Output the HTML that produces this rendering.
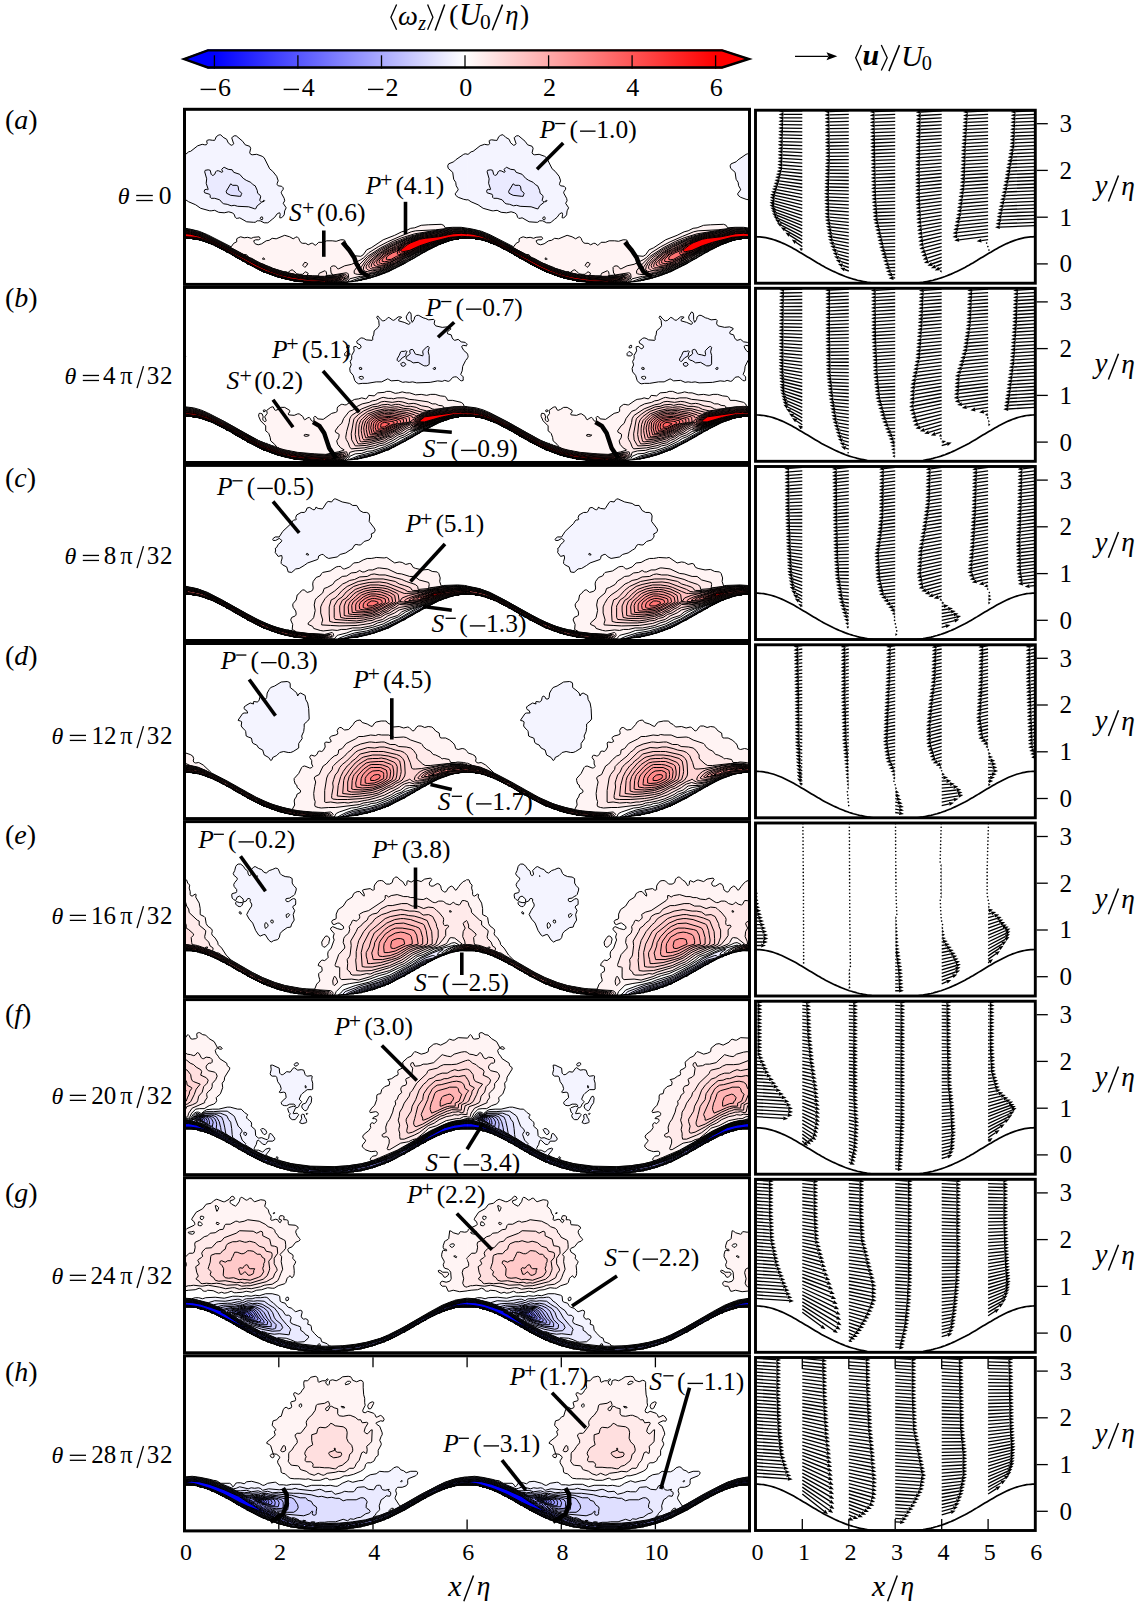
<!DOCTYPE html>
<html><head><meta charset="utf-8"><style>html,body{margin:0;padding:0;background:#fff;}svg{display:block;}</style></head>
<body><svg width="1136" height="1604" viewBox="0 0 1136 1604" font-family="Liberation Serif">
<rect width="1136" height="1604" fill="#fff"/>
<defs><linearGradient id="cbg" x1="214.4" x2="715.6" y1="0" y2="0" gradientUnits="userSpaceOnUse">
<stop offset="0.0000" stop-color="#0000ff"/>
<stop offset="0.0417" stop-color="#1515ff"/>
<stop offset="0.0833" stop-color="#2a2aff"/>
<stop offset="0.1250" stop-color="#4040ff"/>
<stop offset="0.1667" stop-color="#5555ff"/>
<stop offset="0.2083" stop-color="#6a6aff"/>
<stop offset="0.2500" stop-color="#8080ff"/>
<stop offset="0.2917" stop-color="#9595ff"/>
<stop offset="0.3333" stop-color="#aaaaff"/>
<stop offset="0.3750" stop-color="#bfbfff"/>
<stop offset="0.4167" stop-color="#d4d4ff"/>
<stop offset="0.4583" stop-color="#eaeaff"/>
<stop offset="0.5000" stop-color="#ffffff"/>
<stop offset="0.5417" stop-color="#ffeaea"/>
<stop offset="0.5833" stop-color="#ffd4d4"/>
<stop offset="0.6250" stop-color="#ffbfbf"/>
<stop offset="0.6667" stop-color="#ffaaaa"/>
<stop offset="0.7083" stop-color="#ff9595"/>
<stop offset="0.7500" stop-color="#ff8080"/>
<stop offset="0.7917" stop-color="#ff6a6a"/>
<stop offset="0.8333" stop-color="#ff5555"/>
<stop offset="0.8750" stop-color="#ff4040"/>
<stop offset="0.9167" stop-color="#ff2a2a"/>
<stop offset="0.9583" stop-color="#ff1515"/>
<stop offset="1.0000" stop-color="#ff0000"/>
</linearGradient></defs>
<rect x="207.8" y="49.3" width="514.4" height="19.3" fill="url(#cbg)"/>
<polygon points="182.1,59.1 208.3,49.3 208.3,68.6" fill="#0000ff"/>
<polygon points="750.8,59 721.7,49.3 721.7,68.6" fill="#ff0000"/>
<line x1="214.4" y1="55.3" x2="214.4" y2="68.6" stroke="#000" stroke-width="1.3"/>
<line x1="297.9" y1="55.3" x2="297.9" y2="68.6" stroke="#000" stroke-width="1.3"/>
<line x1="381.5" y1="55.3" x2="381.5" y2="68.6" stroke="#000" stroke-width="1.3"/>
<line x1="465" y1="55.3" x2="465" y2="68.6" stroke="#000" stroke-width="1.3"/>
<line x1="548.6" y1="55.3" x2="548.6" y2="68.6" stroke="#000" stroke-width="1.3"/>
<line x1="632.1" y1="55.3" x2="632.1" y2="68.6" stroke="#000" stroke-width="1.3"/>
<line x1="715.6" y1="55.3" x2="715.6" y2="68.6" stroke="#000" stroke-width="1.3"/>
<polygon points="184,59.1 207.8,50.4 722.2,50.4 748.9,59 722.2,67.5 207.8,67.5" fill="none" stroke="#000" stroke-width="2.4" stroke-linejoin="miter"/>
<path d="M200.60 89.4H216.00" stroke="#000" stroke-width="1.4"/>
<text x="217.98" y="96.2" font-size="26">6</text>
<path d="M283.65 89.4H299.05" stroke="#000" stroke-width="1.4"/>
<text x="301.64" y="96.2" font-size="26">4</text>
<path d="M368.02 89.4H383.42" stroke="#000" stroke-width="1.4"/>
<text x="385.38" y="96.2" font-size="26">2</text>
<text x="459.32" y="96.2" font-size="26">0</text>
<text x="543.01" y="96.2" font-size="26">2</text>
<text x="626.35" y="96.2" font-size="26">4</text>
<text x="709.77" y="96.2" font-size="26">6</text>
<path d="M396.60 4.60L390.90 17.15L396.60 29.70" fill="none" stroke="#000" stroke-width="1.3"/>
<text x="397.96" y="24.82" font-size="28.21" font-style="italic">ω</text>
<text x="418.22" y="30.20" font-size="20" font-style="italic">z</text>
<path d="M427.60 4.60L432.90 17.15L427.60 29.70" fill="none" stroke="#000" stroke-width="1.3"/>
<path d="M435.20 30.40L444.70 4.60" stroke="#000" stroke-width="1.5"/>
<text x="449.05" y="23.87" font-size="28.34">(</text>
<text x="458.88" y="24.70" font-size="30.7" font-style="italic">U</text>
<text x="479.88" y="29.39" font-size="21.49">0</text>
<path d="M492.30 30.30L502.50 4.60" stroke="#000" stroke-width="1.5"/>
<text x="505.15" y="24.20" font-size="26.73" font-style="italic">η</text>
<text x="519.91" y="23.73" font-size="27.57">)</text>
<line x1="795" y1="56.3" x2="828" y2="56.3" stroke="#000" stroke-width="1.3"/>
<path d="M837.3 56.3L826.5 52.3L828.5 56.3L826.5 60.3Z" fill="#000"/>
<path d="M861.40 45.10L855.70 57.85L861.40 70.60" fill="none" stroke="#000" stroke-width="1.3"/>
<text x="862.50" y="65.45" font-size="29.96" font-style="italic" font-weight="bold">u</text>
<path d="M881.30 45.10L887.20 57.85L881.30 70.60" fill="none" stroke="#000" stroke-width="1.3"/>
<path d="M888.90 71.10L899.50 45.10" stroke="#000" stroke-width="1.5"/>
<text x="900.91" y="65.50" font-size="30.4" font-style="italic">U</text>
<text x="921.83" y="69.60" font-size="20.3">0</text>
<defs><clipPath id="tlp0"><rect x="0" y="-5" width="282.42" height="190"/></clipPath>
<g id="lp0" clip-path="url(#tlp0)"><g transform="scale(0.5)" stroke="#000" stroke-width="2" stroke-linejoin="round" fill-rule="evenodd">
<path d="M487 234l26-1l5 2l3 5l15-1l17 0l32 5l0 18l-3 0l-1-1l-31 0l-2 1l-7 0l-1 1l-10 2l-1 1l-7 2l-4 2l-3 0l-4 3l-3 0l-10 6l-23 8l-33 21l-22 12l-21 9l-28 8l-21 3l-19 7l-2 0l-2 2l-14 0l-1 1l-59 0l-1-1l-14 0l-2-2l-10 0l-1-1l-7 0l-1-1l-6 0l-1-2l-6 0l-1-1l-10-2l-2-1l-2 0l-2-1l-7-2l-1-1l-7-2l-4-2l-3 0l-2-2l-1 0l-1-1l-3 0l-27-14l-7-3l-3-3l-7-3l-2-2l-7-3l-6-4l-4-2l-3-3l-10-4l-3-3l-4-1l-18-10l-3 0l-4-3l-3 0l-4-2l-7-2l-1-1l-5 0l-1-2l-4 0l-2-1l-7 0l-1-1l-31 0l-1 1l-3 0l0-23l8 0l20 3l21 5l17 7l47 24l5-7l6-3l0-6l3-2l5-2l7 2l7-1l7 2l5-2l11-1l2 3l-1 2l-2 1l-6 0l-4 2l1 3l2 3l6 2l7-2l9-6l6-1l6-4l8 1l17-7l10 3l7 4l5-3l3-1l3 3l2 5l3 4l3 1l6 0l5 3l6-3l3 0l5 4l2-1l5-5l9 0l7-3l11 0l8 1l9-3l5 0l3 1l4 9l5 6l2 3l0 6l2 3l8 4l11 1l5-3l7-10l9-4l24-16l23-9l14-7l8-2l10-5l8-1l13-5z" fill="#fff4f4"/>
<path d="M-19 240l31 4l11 2l16 6l33 17l45 24l7 1l2 3l4 3l4 1l7 4l11 6l6 2l4 2l13 5l1 1l23 7l5 0l1 1l2 0l5-4l3-1l3 2l6 6l6 1l6 0l4-4l2-1l5 3l-2 4l11 1l12 0l0-3l1-2l11-5l1 0l2 2l1 5l-1 3l4-1l6 0l1-1l2-1l-3-2l-1-7l0-5l2-2l4-1l4 1l4 5l2 0l12-6l14-3l18-9l6-4l10-10l19-12l19-10l25-11l22-9l9-2l40-2l34-4l22 1l27 5l0 16l-3 0l-1-1l-31 0l-2 1l-7 0l-1 1l-4 0l-2 2l-4 0l-1 1l-7 2l-4 2l-3 0l-4 3l-3 0l-7 4l-30 12l-26 16l-33 17l-18 7l-20 6l-9 2l-14 0l-21 5l-5 7l-12 0l-1 1l-59 0l-1-1l-14 0l-2-2l-10 0l-1-1l-7 0l-1-1l-6 0l-1-2l-6 0l-1-1l-10-2l-2-1l-2 0l-2-1l-7-2l-1-1l-7-2l-4-2l-3 0l-2-2l-1 0l-1-1l-3 0l-27-14l-7-3l-3-3l-7-3l-2-2l-7-3l-3-3l-7-3l-3-3l-10-4l-3-3l-9-4l-2-1l-7-3l-4-3l-3 0l-4-3l-3 0l-4-2l-7-2l-1-1l-5 0l-1-2l-4 0l-2-1l-7 0l-1-1l-31 0l-1 1l-3 0l0-22zM156 301l2-1l1 1l1 2l-2 0l-2 0zM240 309l4 1l2 2l-3 5l-3 2l-2-2l-2-2z" fill="#ffeaea"/>
<path d="M-19 241l33 4l23 7l35 17l73 39l25 11l23 8l32 7l35 3l20 0l43-7l3 1l1 1l1 7l-2 4l-5 6l-8 0l-1 1l-59 0l-1-1l-14 0l-2-2l-10 0l-1-1l-7 0l-1-1l-6 0l-1-2l-6 0l-1-1l-10-2l-2-1l-2 0l-2-1l-7-2l-1-1l-7-2l-4-2l-3 0l-2-2l-1 0l-1-1l-3 0l-27-14l-7-3l-3-3l-7-3l-2-2l-7-3l-6-4l-4-2l-3-3l-10-4l-3-3l-4-1l-18-10l-3 0l-4-3l-3 0l-4-2l-7-2l-1-1l-5 0l-1-2l-4 0l-2-1l-7 0l-1-1l-31 0l-1 1l-3 0l0-22zM533 241l21 0l31 5l0 16l-3 0l-1-1l-31 0l-2 1l-7 0l-1 1l-4 0l-2 2l-4 0l-1 1l-7 2l-4 2l-3 0l-2 2l-1 0l-1 1l-3 0l-4 3l-34 12l-25 16l-23 12l-11 5l-22 8l-17 4l-8 1l-19-1l-4-1l-2-1l0-5l6-8l21-21l26-17l25-13l17-7l26-8l37-6z" fill="#ffdfdf"/>
<path d="M-19 241l31 4l25 8l35 17l75 40l25 11l21 6l31 7l36 4l20 0l33-5l7 0l4 2l2 4l-6 8l-9 3l-58 0l-1-1l-14 0l-2-2l-10 0l-1-1l-7 0l-1-1l-6 0l-1-2l-6 0l-1-1l-10-2l-2-1l-2 0l-2-1l-7-2l-1-1l-7-2l-4-2l-3 0l-2-2l-1 0l-1-1l-3 0l-27-14l-7-3l-3-3l-7-3l-2-2l-7-3l-6-4l-4-2l-3-3l-10-4l-3-3l-4-1l-18-10l-3 0l-4-3l-3 0l-4-2l-7-2l-1-1l-5 0l-1-2l-4 0l-2-1l-7 0l-1-1l-31 0l-1 1l-3 0l0-21zM527 242l26 0l21 2l11 3l0 15l-3 0l-1-1l-31 0l-2 1l-7 0l-1 1l-10 2l-1 1l-7 2l-4 2l-3 0l-4 3l-3 0l-38 14l-8 4l-19 12l-21 12l-25 10l-18 5l-11 2l-10-1l-3-2l-3-3l-1-4l3-5l7-10l5-6l9-7l18-12l24-12l33-13l20-5l24-5z" fill="#ffd4d4"/>
<path d="M-19 242l31 4l25 7l35 17l75 40l24 11l20 7l31 6l34 4l24 1l25-3l11-1l6 2l1 2l0 1l-5 6l-12 4l-53 0l-1-1l-14 0l-2-2l-10 0l-1-1l-7 0l-1-1l-6 0l-1-2l-6 0l-1-1l-10-2l-2-1l-2 0l-2-1l-7-2l-1-1l-7-2l-4-2l-3 0l-2-2l-1 0l-1-1l-3 0l-27-14l-7-3l-3-3l-7-3l-2-2l-7-3l-6-4l-4-2l-3-3l-10-4l-3-3l-4-1l-18-10l-3 0l-4-3l-3 0l-4-2l-7-2l-1-1l-5 0l-1-2l-4 0l-2-1l-7 0l-1-1l-31 0l-1 1l-3 0l0-20zM537 242l20 1l28 5l0 14l-3 0l-1-1l-31 0l-2 1l-7 0l-1 1l-10 2l-1 1l-7 2l-4 2l-26 8l-22 9l-15 7l-13 9l-20 10l-23 10l-17 5l-10 1l-11-2l-4-3l1-6l4-7l11-12l21-15l26-13l30-12l20-6l25-5z" fill="#ffc9c9"/>
<path d="M-19 243l31 3l25 8l35 17l76 40l24 11l19 6l28 6l28 4l33 1l30-2l7 1l4 2l-6 6l-13 4l-49 0l-1-1l-14 0l-2-2l-10 0l-1-1l-7 0l-1-1l-6 0l-1-2l-6 0l-1-1l-10-2l-2-1l-2 0l-2-1l-7-2l-1-1l-7-2l-4-2l-3 0l-2-2l-1 0l-1-1l-3 0l-27-14l-7-3l-3-3l-7-3l-2-2l-7-3l-6-4l-4-2l-3-3l-10-4l-3-3l-4-1l-18-10l-3 0l-4-3l-3 0l-4-2l-7-2l-1-1l-5 0l-1-2l-4 0l-2-1l-7 0l-1-1l-31 0l-1 1l-3 0l0-19zM532 244l22-1l20 3l11 2l0 14l-3 0l-1-1l-31 0l-2 1l-7 0l-1 1l-10 2l-1 1l-3 0l-1 2l-3 0l-28 9l-24 9l-20 10l-29 16l-21 9l-11 3l-13 2l-8-1l-3-2l-2-2l0-4l3-6l11-11l17-13l24-13l32-14l20-6l24-5z" fill="#ffbfbf"/>
<path d="M-19 244l31 3l25 8l35 16l76 41l24 10l19 7l28 6l28 4l33 1l26-2l7 1l5 1l-3 3l-4 3l-13 4l-45 0l-1-1l-14 0l-2-2l-10 0l-1-1l-7 0l-1-1l-6 0l-1-2l-6 0l-1-1l-10-2l-2-1l-2 0l-2-1l-7-2l-1-1l-7-2l-4-2l-3 0l-2-2l-1 0l-1-1l-3 0l-27-14l-7-3l-3-3l-7-3l-2-2l-7-3l-6-4l-4-2l-3-3l-10-4l-3-3l-4-1l-18-10l-3 0l-4-3l-3 0l-4-2l-7-2l-1-1l-5 0l-1-2l-4 0l-2-1l-7 0l-1-1l-31 0l-1 1l-3 0l0-18zM527 245l26-1l21 3l11 2l0 13l-3 0l-1-1l-31 0l-2 1l-7 0l-1 1l-10 2l-1 1l-3 0l-34 10l-22 9l-22 11l-27 15l-20 8l-11 3l-11 1l-7-1l-3-3l-1-4l4-7l7-7l12-10l20-12l34-16l15-5l20-6z" fill="#ffb4b4"/>
<path d="M-19 245l12 0l19 3l25 7l35 17l76 41l22 9l21 7l27 6l25 4l37 1l25-1l8 1l2 2l-10 5l-11 3l-41 0l-1-1l-14 0l-2-2l-10 0l-1-1l-7 0l-1-1l-6 0l-1-2l-6 0l-1-1l-10-2l-2-1l-2 0l-2-1l-7-2l-1-1l-7-2l-4-2l-3 0l-2-2l-1 0l-1-1l-3 0l-27-14l-7-3l-3-3l-7-3l-2-2l-7-3l-6-4l-4-2l-3-3l-10-4l-3-3l-4-1l-18-10l-3 0l-4-3l-3 0l-4-2l-7-2l-1-1l-5 0l-1-2l-4 0l-2-1l-7 0l-1-1l-31 0l-1 1l-3 0l0-17zM536 245l21 0l28 5l0 12l-3 0l-1-1l-31 0l-2 1l-7 0l-1 1l-4 0l-1 1l-13 3l-30 9l-22 8l-27 13l-22 13l-14 5l-13 4l-11 1l-7 0l-3-3l1-5l4-7l16-14l19-10l36-18l21-7l10-3z" fill="#ffa9a9"/>
<path d="M-19 245l12 1l19 3l25 7l34 16l77 41l22 10l21 7l27 6l27 4l35 1l23-1l9 2l-9 5l-13 3l-37 0l-1-1l-14 0l-2-2l-10 0l-1-1l-7 0l-1-1l-6 0l-1-2l-6 0l-1-1l-10-2l-2-1l-2 0l-2-1l-7-2l-1-1l-7-2l-4-2l-3 0l-2-2l-1 0l-1-1l-3 0l-27-14l-7-3l-3-3l-7-3l-2-2l-7-3l-6-4l-4-2l-3-3l-10-4l-3-3l-4-1l-18-10l-3 0l-4-3l-3 0l-4-2l-7-2l-1-1l-5 0l-1-2l-4 0l-2-1l-7 0l-1-1l-31 0l-1 1l-3 0l0-17zM530 247l24-1l18 2l13 2l0 12l-3 0l-1-1l-31 0l-2 1l-7 0l-1 1l-18 3l-30 9l-22 8l-27 13l-23 12l-12 5l-11 3l-7 1l-7 0l-4-2l-1-4l3-4l13-13l17-11l13-5l25-14l21-7l10-3z" fill="#ff9e9e"/>
<path d="M-19 246l30 3l14 3l12 5l34 15l77 42l22 9l20 7l22 6l26 3l30 2l35 0l5 1l0 1l-7 4l-14 3l-34 0l-1-1l-14 0l-2-2l-10 0l-1-1l-7 0l-1-1l-6 0l-1-2l-6 0l-1-1l-10-2l-2-1l-2 0l-2-1l-7-2l-1-1l-7-2l-4-2l-3 0l-2-2l-1 0l-1-1l-3 0l-27-14l-7-3l-3-3l-7-3l-2-2l-7-3l-3-3l-7-3l-3-3l-7-2l-6-5l-4-1l-18-10l-2 0l-5-3l-3 0l-4-2l-7-2l-1-1l-5 0l-1-2l-4 0l-2-1l-7 0l-1-1l-31 0l-1 1l-3 0l0-16zM540 247l18 0l16 2l11 2l0 11l-3 0l-1-1l-31 0l-2 1l-7 0l-18 3l-31 9l-22 8l-62 29l-9 3l-7 1l-6-1l-2-3l0-3l3-4l10-10l13-8l14-6l19-13l9-3l28-9z" fill="#ff9494"/>
<path d="M-19 247l30 3l14 3l12 4l34 16l77 41l22 10l20 7l24 5l25 4l28 2l34 0l5 1l-8 4l-14 3l-28 0l-3 0l-1-1l-13 0l-3-2l-9 0l-2-1l-6 0l-2-1l-6 0l-1-2l-5 0l-2-1l-4 0l-2-2l-8-1l-2-1l-3 0l-1-2l-3 0l-1-1l-7-2l-4-2l-3 0l-4-3l-3 0l-6-3l-1-1l-2 0l-1-2l-1 0l-2-1l-1 0l-2-2l-18-8l-3-3l-4-1l-5-4l-4-2l-6-4l-2 0l-21-13l-22-11l-14-5l-14-5l-4 0l-2-1l-7 0l-1-1l-31 0l-4 0l0-14zM534 248l23-1l17 2l11 3l0 10l-3 0l-1-1l-31 0l-27 3l-31 9l-22 8l-60 28l-14 3l-4-1l-3-1l0-3l1-3l9-8l13-9l12-5l19-13l9-4l28-9l28-3z" fill="#ff8989"/>
<path d="M-19 248l12 0l18 2l14 4l14 5l32 15l77 41l22 10l20 6l24 6l25 4l25 2l40 0l-9 4l-14 3l-20 0l-39-4l-33-8l-23-7l-22-10l-20-11l-49-28l-29-14l-13-4l-18-3l-35 0l0-13zM544 248l25 1l16 3l0 10l-4-1l-28-1l-17 1l-11 2l-33 9l-22 8l-59 26l-11 2l-5-1l0-3l2-3l7-7l9-5l11-5l12-9l16-9l28-9l28-3l19-4z" fill="#ff7e7e"/>
<path d="M-19 249l13 0l18 2l16 4l14 5l30 15l76 40l21 10l20 6l22 6l24 4l26 2l34 0l3 2l-18 5l-23-1l-36-4l-34-8l-21-7l-22-10l-20-10l-49-29l-31-14l-14-4l-14-2l-23-2l-13 1l0-11zM537 249l20 0l15 2l11 2l2 0l0 8l-32-2l-17 1l-11 2l-31 9l-24 8l-35 15l-11 3l-11 6l-7 1l-3-1l1-5l5-4l7-4l8-3l10-10l18-10l28-9l28-3z" fill="#ff7373"/>
<path d="M-19 250l13 0l18 2l16 4l15 6l29 13l76 41l21 9l20 7l22 6l25 4l21 1l39 2l-16 4l-30-1l-31-4l-32-7l-21-8l-22-10l-20-10l-49-28l-31-14l-14-5l-14-2l-23-1l-13 0l0-9zM534 251l20-1l22 2l9 2l0 6l-32-1l-16 0l-10 2l-37 11l-20 6l-18 9l-18 6l-6 1l-3-2l1-5l5-5l12-10l9-4l28-9l28-3z" fill="#ff6969"/>
<path d="M-19 250l13 1l18 2l16 4l15 5l29 14l76 41l20 8l19 7l21 6l23 3l23 3l33 1l3 1l-10 3l-40-2l-26-4l-28-7l-21-8l-23-10l-65-37l-27-13l-14-5l-17-4l-26-1l-13 0l0-8zM541 251l17 0l21 2l6 1l0 6l-32-2l-24 2l-38 10l-21 7l-18 8l-14 5l-7 1l-2-2l0-3l2-3l12-10l9-4l18-7l10-2l28-3l18-4z" fill="#ff5e5e"/>
<path d="M-19 251l14 0l17 2l16 4l15 6l28 13l77 41l20 9l19 7l21 5l24 4l20 2l35 2l-7 2l-41-2l-27-4l-26-7l-23-8l-22-10l-60-34l-28-14l-14-6l-18-4l-28-2l-13 0l0-6zM537 252l16-1l19 2l13 2l0 4l-31-2l-24 2l-39 10l-21 7l-20 9l-14 3l-2-1l-2-1l0-2l3-2l10-8l7-4l18-7l11-2l27-3z" fill="#ff0000"/>
<path d="M67 55l3-1l2 0l5 5l7 4l3 7l6 5l3-1l2-2l-4-12l1-1l4-3l4 0l13 11l5 7l9 3l2 4l-2 9l2 3l3 1l9-1l11 4l4 3l11 22l6 5l8 10l3 9l-2 5l0 3l2 2l7 1l3 3l0 3l-3 4l-1 3l1 2l5 9l1 5l-3 5l6 9l-3 6l-1 8l-3 4l-3 2l-3 0l0-1l1-6l-1-3l-1 0l-4 2l-5 7l-5 4l-6 5l-3 2l-7 0l-8-4l-3 0l-3 0l-4 3l-3 0l-14-1l-14-8l-4 1l-3 0l-2-2l-2-6l-4-3l-7-2l-9 2l-11-1l-8-4l-7 1l-3 0l-18-5l-10-7l-14-6l-6-4l-8-1l-14-6l0-10l2-2l0-2l-2-5l0-56l14-9l8 0l6-5l4-1l14-11l9-3l5 1l3 0l2-2l-1-6l1-1l4-1l7 1l4 0l1-2l2-5zM152 219l-1 2l1 2l3 1l1-2l0-2l-1-2zM583 82l2-1l0 112l-17-8l-10-2l-11-4l-5-4l-1-3l6-8l-1-3l-3-5l-1-7l-4-6l-2-14l-9-8l-1-5l2-4l10-4l4-4l16-11l3-1l6 1l5-5l6-1zM488 283l3-1l-6 2l-2 3l-10 4l-3 3l-7 3l-3 3l-6 3l24-16zM452 304l1-1l-3 2l-1 0zM442 310l-1 1l-7 3zM432 315l2-1l-3 1zM429 316l2-1l-3 2zM427 318l0-1l-1 1zM424 319l-1 0zM421 321l1-1l-2 1zM418 322l1-1l-2 1zM415 323l1 0l-2 1zM411 325l3-1l-7 4l-3 0l-4 3l-3 0l-4 2l-7 2l-1 1l-7 2l-2 1l-3 0l-1 1l-10 2l-1 1l-6 0l-1 2l-6 0l-1 1l-6 0l9-3l29-6z" fill="#f4f4ff"/>
<path d="M77 120l2-1l8 4l8 1l3 5l12 4l7 8l6 4l9 4l5 5l4 2l4 9l1 6l5 4l1 3l-2 7l4 4l-9 7l-3 6l-2 0l-12-4l-22-1l-7-2l-6 1l-8-3l-7-1l-3-2l-5-6l-10-3l-7 0l-2-2l0-4l-1-2l-10-3l-1-3l1-3l3-1l3 1l1-1l-4-12l1-9l-4-14l1-3l6-1l4 1l2 8l2 2l2 0l3-2l2-5l2-2l4 0l6 3l1 0l1-1l-2-5zM158 185l1 0l1 1l-1 1l-3 1l-1 0zM484 285l1 0l-2 2l-10 4zM371 340l1 0l-2 0zM364 342l3-1l-4 1zM355 343l7-1l-1 1l-6 0l-1 2l-5 0zM347 346l1-1l-2 1z" fill="#eaeaff"/>
<path d="M92 152l4 3l7 0l3 1l1 2l1 7l6 6l-1 3l-1 3l-3 0l-17-2l-8-4l-1-4z" fill="#dfdfff"/>
</g>
<path d="M-10 131L-7.5 130.6L-5 130.3L-2.4 130.2L0.1 130.1L2.6 130.2L5.1 130.3L7.6 130.6L10.2 131L12.7 131.5L15.2 132.2L17.7 132.9L20.2 133.7L22.8 134.6L25.3 135.6L27.8 136.6L30.3 137.8L32.8 139L35.4 140.3L37.9 141.6L40.4 142.9L42.9 144.3L45.4 145.7L48 147.2L50.5 148.6L53 150.1L55.5 151.5L58 152.9L60.6 154.4L63.1 155.7L65.6 157.1L68.1 158.4L70.6 159.7L73.2 161L75.7 162.2L78.2 163.3L80.7 164.4L83.2 165.4L85.8 166.4L88.3 167.3L90.8 168.2L93.3 169L95.8 169.7L98.4 170.4L100.9 171.1L103.4 171.7L105.9 172.2L108.4 172.7L111 173.1L113.5 173.5L116 173.8L118.5 174.1L121 174.4L123.6 174.6L126.1 174.8L128.6 175L131.1 175.1L133.6 175.2L136.2 175.2L138.7 175.3L141.2 175.3L143.7 175.3L146.3 175.2L148.8 175.2L151.3 175.1L153.8 175L156.3 174.8L158.9 174.6L161.4 174.4L163.9 174.1L166.4 173.8L168.9 173.5L171.5 173.1L174 172.7L176.5 172.2L179 171.7L181.5 171.1L184.1 170.4L186.6 169.7L189.1 169L191.6 168.2L194.1 167.3L196.7 166.4L199.2 165.4L201.7 164.4L204.2 163.3L206.7 162.2L209.3 161L211.8 159.7L214.3 158.4L216.8 157.1L219.3 155.7L221.9 154.4L224.4 152.9L226.9 151.5L229.4 150.1L231.9 148.6L234.5 147.2L237 145.7L239.5 144.3L242 142.9L244.5 141.6L247.1 140.3L249.6 139L252.1 137.8L254.6 136.6L257.1 135.6L259.7 134.6L262.2 133.7L264.7 132.9L267.2 132.2L269.7 131.5L272.3 131L274.8 130.6L277.3 130.3L279.8 130.2L282.3 130.1L284.9 130.2L287.4 130.3L289.9 130.6L292.4 131" fill="none" stroke="#000" stroke-width="1.2"/>
</g>
<clipPath id="clp0"><rect x="184.5" y="109.3" width="565" height="175.1"/></clipPath></defs>
<g clip-path="url(#clp0)">
<use href="#lp0" transform="translate(184.7 107.8)"/>
<use href="#lp0" transform="translate(467.12 107.8)"/>
<g transform="translate(184.7 107.8)"><path d="M157.8 134.5L164.6 142.5L169.6 150L171.3 155L176.3 163.8L184.3 169" fill="none" stroke="#000" stroke-width="4.5" stroke-linecap="butt" stroke-linejoin="round"/></g>
<g transform="translate(467.12 107.8)"><path d="M157.8 134.5L164.6 142.5L169.6 150L171.3 155L176.3 163.8L184.3 169" fill="none" stroke="#000" stroke-width="4.5" stroke-linecap="butt" stroke-linejoin="round"/></g>
</g>
<rect x="184.5" y="109.3" width="565" height="175.1" fill="none" stroke="#000" stroke-width="3"/>
<clipPath id="rc0"><rect x="755.5" y="110.1" width="280" height="173.1"/></clipPath>
<g clip-path="url(#rc0)">
<path d="M802.3 110.9l-18.9 0.1M802.3 114.4l-18.9 0M802.3 117.9l-19 0M802.3 121.3l-19.1 -0.1M802.3 124.8l-19.2 -0.1M802.3 128.3l-19.3 -0.2M802.3 131.8l-19.3 -0.3M802.3 135.3l-19.4 -0.4M802.3 138.7l-19.5 -0.5M802.3 142.2l-19.6 -0.6M802.3 145.7l-19.7 -0.7M802.3 149.2l-19.7 -0.8M802.3 152.7l-19.8 -1M802.3 156.1l-19.9 -1.1M802.3 159.6l-20 -1.3M802.3 163.1l-20 -1.4M802.3 166.6l-20.1 -1.6M802.3 170.1l-20.2 -1.8M802.3 173.5l-20.9 -2.1M802.3 177l-21.7 -2.4M802.3 180.5l-22.4 -2.8M802.3 184l-23.2 -3.2M802.3 187.5l-23.9 -3.6M802.3 190.9l-24.8 -4.2M802.3 194.4l-25.7 -4.7M802.3 197.9l-26.6 -5.4M802.3 201.4l-27.5 -6.1M802.3 204.9l-27.8 -6.8M802.3 208.3l-28 -7.4M802.3 211.8l-28.2 -8.2M802.3 215.3l-28.2 -8.9M802.3 218.8l-27.4 -9.4M802.3 222.3l-26.6 -10M802.3 225.7l-25.8 -10.6M802.3 229.2l-24.5 -10.9M802.3 232.7l-22.8 -11.1M802.3 236.2l-21.2 -11.1M802.3 239.7l-17.4 -9.9M802.3 243.1l-12.8 -8M802.3 246.6l-6.5 -4.4M802.3 250.1l-0.4 -0.3M848.8 110.9l-19.4 0.6M848.8 114.4l-19.4 0.5M848.8 117.9l-19.4 0.5M848.8 121.3l-19.4 0.5M848.8 124.8l-19.3 0.5M848.8 128.3l-19.3 0.4M848.8 131.8l-19.2 0.4M848.8 135.3l-19.2 0.4M848.8 138.7l-19.2 0.4M848.8 142.2l-19.1 0.3M848.8 145.7l-19.1 0.3M848.8 149.2l-19 0.2M848.8 152.7l-19 0.2M848.8 156.1l-19 0.2M848.8 159.6l-19 0.1M848.8 163.1l-19.1 0.1M848.8 166.6l-19.2 0M848.8 170.1l-19.3 -0.1M848.8 173.5l-19.4 -0.1M848.8 177l-19.5 -0.2M848.8 180.5l-19.6 -0.3M848.8 184l-19.7 -0.4M848.8 187.5l-19.7 -0.5M848.8 190.9l-19.8 -0.6M848.8 194.4l-19.9 -0.7M848.8 197.9l-19.9 -0.8M848.8 201.4l-19.8 -0.9M848.8 204.9l-19.8 -1.1M848.8 208.3l-19.7 -1.2M848.8 211.8l-19.6 -1.3M848.8 215.3l-19.5 -1.5M848.8 218.8l-19.5 -1.7M848.8 222.3l-19.1 -1.9M848.8 225.7l-18.6 -2M848.8 229.2l-18.1 -2.2M848.8 232.7l-17.5 -2.3M848.8 236.2l-17 -2.5M848.8 239.7l-16.5 -2.7M848.8 243.1l-16 -2.9M848.8 246.6l-15.1 -2.9M848.8 250.1l-13.8 -3M848.8 253.6l-12.6 -3M848.8 257.1l-11.4 -2.9M848.8 260.5l-10.2 -2.9M848.8 264l-8.4 -2.6M848.8 267.5l-6.3 -2.1M848.8 271l-4.1 -1.5M895.2 110.9l-20.7 0.8M895.2 114.4l-20.7 0.8M895.2 117.9l-20.6 0.8M895.2 121.3l-20.6 0.8M895.2 124.8l-20.5 0.8M895.2 128.3l-20.5 0.8M895.2 131.8l-20.4 0.8M895.2 135.3l-20.4 0.8M895.2 138.7l-20.3 0.8M895.2 142.2l-20.2 0.8M895.2 145.7l-20.2 0.8M895.2 149.2l-20.1 0.8M895.2 152.7l-20.1 0.8M895.2 156.1l-20 0.8M895.2 159.6l-19.9 0.8M895.2 163.1l-19.9 0.8M895.2 166.6l-19.8 0.8M895.2 170.1l-19.7 0.8M895.2 173.5l-19.7 0.8M895.2 177l-19.6 0.8M895.2 180.5l-19.5 0.8M895.2 184l-19.5 0.8M895.2 187.5l-19.4 0.8M895.2 190.9l-19.3 0.8M895.2 194.4l-19.2 0.8M895.2 197.9l-19 0.8M895.2 201.4l-18.8 0.8M895.2 204.9l-18.5 0.7M895.2 208.3l-18.3 0.7M895.2 211.8l-18.1 0.7M895.2 215.3l-17.8 0.7M895.2 218.8l-17.6 0.7M895.2 222.3l-16.9 0.7M895.2 225.7l-16.1 0.6M895.2 229.2l-15.3 0.6M895.2 232.7l-14.5 0.6M895.2 236.2l-13.8 0.6M895.2 239.7l-13 0.5M895.2 243.1l-12.2 0.5M895.2 246.6l-11.4 0.5M895.2 250.1l-10.4 0.4M895.2 253.6l-9.5 0.4M895.2 257.1l-8.5 0.3M895.2 260.5l-7.5 0.3M895.2 264l-6.6 0.3M895.2 267.5l-5.6 0.2M895.2 271l-4.5 0.2M895.2 274.5l-3.2 0.1M895.2 277.9l-1.9 0.1M941.7 110.9l-21 1.1M941.7 114.4l-21 1.1M941.7 117.9l-21.1 1.1M941.7 121.3l-21.2 1.2M941.7 124.8l-21.2 1.2M941.7 128.3l-21.3 1.2M941.7 131.8l-21.3 1.2M941.7 135.3l-21.4 1.3M941.7 138.7l-21.4 1.3M941.7 142.2l-21.5 1.4M941.7 145.7l-21.6 1.4M941.7 149.2l-21.6 1.4M941.7 152.7l-21.7 1.5M941.7 156.1l-21.7 1.6M941.7 159.6l-21.8 1.6M941.7 163.1l-21.8 1.7M941.7 166.6l-21.8 1.7M941.7 170.1l-21.8 1.8M941.7 173.5l-21.8 1.9M941.7 177l-21.8 2M941.7 180.5l-21.8 2.1M941.7 184l-21.8 2.1M941.7 187.5l-21.8 2.2M941.7 190.9l-21.8 2.4M941.7 194.4l-21.8 2.5M941.7 197.9l-21.6 2.6M941.7 201.4l-21.5 2.7M941.7 204.9l-21.3 2.8M941.7 208.3l-21.1 3M941.7 211.8l-21 3.1M941.7 215.3l-20.8 3.3M941.7 218.8l-20.6 3.4M941.7 222.3l-20.3 3.6M941.7 225.7l-19.9 3.7M941.7 229.2l-19.5 3.9M941.7 232.7l-19.2 4.1M941.7 236.2l-18.8 4.3M941.7 239.7l-18.4 4.5M941.7 243.1l-17.8 4.6M941.7 246.6l-16.7 4.6M941.7 250.1l-15.5 4.6M941.7 253.6l-14.4 4.5M941.7 257.1l-13.2 4.5M941.7 260.5l-9.8 3.5M941.7 264l-6.3 2.4M941.7 267.5l-2.6 1.1M941.7 271l-0.3 0.1M988.1 110.9l-20.3 0.9M988.1 114.4l-20.4 0.9M988.1 117.9l-20.6 1M988.1 121.3l-20.8 1M988.1 124.8l-21 1M988.1 128.3l-21.2 1M988.1 131.8l-21.5 1M988.1 135.3l-21.7 1.1M988.1 138.7l-21.9 1.1M988.1 142.2l-22.1 1.1M988.1 145.7l-22.3 1.1M988.1 149.2l-22.4 1.2M988.1 152.7l-22.5 1.2M988.1 156.1l-22.7 1.2M988.1 159.6l-22.8 1.3M988.1 163.1l-22.9 1.3M988.1 166.6l-23 1.3M988.1 170.1l-23.1 1.4M988.1 173.5l-23.2 1.4M988.1 177l-23.4 1.5M988.1 180.5l-23.5 1.5M988.1 184l-23.7 1.6M988.1 187.5l-24.2 1.7M988.1 190.9l-24.6 1.7M988.1 194.4l-25 1.8M988.1 197.9l-25.5 1.9M988.1 201.4l-25.9 2.1M988.1 204.9l-26.3 2.2M988.1 208.3l-26.8 2.3M988.1 211.8l-27.2 2.4M988.1 215.3l-27.9 2.6M988.1 218.8l-28.7 2.8M988.1 222.3l-29.4 3M988.1 225.7l-30.2 3.2M988.1 229.2l-30.9 3.5M988.1 232.7l-31 3.7M988.1 236.2l-29.2 3.7M988.1 239.7l-6.8 0.9M1034.6 110.9l-19.1 0.8M1034.6 114.4l-19.1 0.8M1034.6 117.9l-19.3 0.8M1034.6 121.3l-19.4 0.8M1034.6 124.8l-19.5 0.8M1034.6 128.3l-19.7 0.8M1034.6 131.8l-19.8 0.8M1034.6 135.3l-20 0.8M1034.6 138.7l-20.1 0.8M1034.6 142.2l-20.2 0.8M1034.6 145.7l-20.4 0.8M1034.6 149.2l-21 0.8M1034.6 152.7l-21.6 0.9M1034.6 156.1l-22.2 0.9M1034.6 159.6l-22.7 0.9M1034.6 163.1l-23.3 0.9M1034.6 166.6l-23.9 1M1034.6 170.1l-24.5 1M1034.6 173.5l-25.1 1M1034.6 177l-25.6 1M1034.6 180.5l-26.2 1M1034.6 184l-26.9 1.1M1034.6 187.5l-27.6 1.1M1034.6 190.9l-28.3 1.1M1034.6 194.4l-29 1.2M1034.6 197.9l-29.8 1.2M1034.6 201.4l-30.5 1.2M1034.6 204.9l-31.2 1.2M1034.6 208.3l-31.9 1.3M1034.6 211.8l-32.7 1.3M1034.6 215.3l-33.2 1.3M1034.6 218.8l-33.7 1.3M1034.6 222.3l-34.3 1.4M1034.6 225.7l-34.8 1.4" stroke="#000" stroke-width="1.35" fill="none"/>
<path d="M778.6 111l4.8 -1.9l0 3.8zM778.6 114.4l4.8 -1.9l0 3.8zM778.5 117.8l4.8 -1.9l0 3.8zM778.4 121.2l4.8 -1.9l0 3.8zM778.3 124.6l4.8 -1.9l0 3.8zM778.2 128l4.8 -1.8l0 3.8zM778.2 131.4l4.8 -1.8l-0.1 3.8zM778.1 134.8l4.8 -1.8l-0.1 3.8zM778 138.1l4.8 -1.8l-0.1 3.8zM777.9 141.5l4.9 -1.8l-0.1 3.8zM777.8 144.8l4.9 -1.7l-0.1 3.8zM777.8 148.2l4.9 -1.7l-0.2 3.8zM777.7 151.5l4.9 -1.7l-0.2 3.8zM777.6 154.8l4.9 -1.6l-0.2 3.8zM777.6 158.1l4.9 -1.6l-0.2 3.8zM777.5 161.3l4.9 -1.6l-0.3 3.8zM777.4 164.6l4.9 -1.5l-0.3 3.8zM777.3 167.8l5 -1.5l-0.3 3.8zM776.6 170.9l5 -1.4l-0.4 3.8zM775.9 174.1l5 -1.4l-0.4 3.8zM775.1 177.1l5 -1.3l-0.5 3.8zM774.4 180.1l5 -1.2l-0.5 3.8zM773.6 183.1l5 -1.2l-0.6 3.8zM772.7 186l5 -1.1l-0.6 3.7zM771.9 188.8l5.1 -1l-0.7 3.7zM771 191.6l5.1 -0.9l-0.8 3.7zM770.1 194.3l5.1 -0.8l-0.8 3.7zM769.8 197l5.1 -0.7l-0.9 3.7zM769.7 199.7l5.1 -0.6l-1 3.7zM769.5 202.3l5.1 -0.5l-1.1 3.6zM769.5 204.9l5.1 -0.4l-1.1 3.6zM770.4 207.8l5.2 -0.2l-1.2 3.6zM771.2 210.6l5.2 -0.1l-1.3 3.6zM772 213.4l5.2 0.1l-1.4 3.5zM773.4 216.4l5.2 0.2l-1.5 3.5zM775.1 219.5l5.1 0.4l-1.7 3.4zM776.9 222.8l5.1 0.6l-1.8 3.4zM780.8 227.3l5.1 0.7l-1.9 3.3zM785.4 232.6l5.1 0.9l-2 3.2zM791.8 239.6l5 1.1l-2.1 3.2zM799.5 248l3.3 0.5l-1.8 2.4zM824.5 111.6l4.7 -2l0.1 3.8zM824.5 115l4.7 -2l0.1 3.8zM824.6 118.5l4.7 -2l0.1 3.8zM824.6 122l4.8 -2l0.1 3.8zM824.6 125.4l4.8 -2l0.1 3.8zM824.7 128.9l4.8 -2l0.1 3.8zM824.7 132.3l4.8 -2l0.1 3.8zM824.8 135.7l4.8 -2l0.1 3.8zM824.8 139.2l4.8 -2l0.1 3.8zM824.8 142.6l4.8 -2l0.1 3.8zM824.9 146.1l4.8 -2l0.1 3.8zM824.9 149.5l4.8 -2l0 3.8zM825 152.9l4.8 -2l0 3.8zM825 156.3l4.8 -1.9l0 3.8zM825 159.8l4.8 -1.9l0 3.8zM824.9 163.2l4.8 -1.9l0 3.8zM824.8 166.6l4.8 -1.9l0 3.8zM824.7 170l4.8 -1.9l0 3.8zM824.6 173.4l4.8 -1.9l0 3.8zM824.5 176.8l4.8 -1.9l0 3.8zM824.4 180.2l4.8 -1.8l-0.1 3.8zM824.3 183.5l4.8 -1.8l-0.1 3.8zM824.2 186.9l4.8 -1.8l-0.1 3.8zM824.1 190.2l4.9 -1.8l-0.1 3.8zM824 193.6l4.9 -1.7l-0.1 3.8zM824.1 196.9l4.9 -1.7l-0.2 3.8zM824.1 200.2l4.9 -1.7l-0.2 3.8zM824.2 203.6l4.9 -1.6l-0.2 3.8zM824.3 206.9l4.9 -1.6l-0.2 3.8zM824.4 210.1l4.9 -1.6l-0.3 3.8zM824.4 213.4l4.9 -1.5l-0.3 3.8zM824.5 216.7l4.9 -1.5l-0.3 3.8zM824.9 219.9l5 -1.4l-0.4 3.8zM825.4 223.2l5 -1.4l-0.4 3.8zM825.9 226.5l5 -1.3l-0.5 3.8zM826.5 229.7l5 -1.3l-0.5 3.8zM827 233l5 -1.2l-0.6 3.8zM827.5 236.2l5 -1.1l-0.6 3.8zM828 239.4l5.1 -1l-0.7 3.7zM829 242.7l5.1 -0.9l-0.7 3.7zM830.2 246.1l5.1 -0.9l-0.8 3.7zM831.5 249.5l5.1 -0.8l-0.9 3.7zM832.7 252.9l5.1 -0.6l-0.9 3.7zM834 256.4l5.1 -0.5l-1 3.7zM835.8 260l5.1 -0.4l-1.1 3.6zM837.9 263.9l5.2 -0.3l-1.2 3.6zM840.1 267.8l5.2 -0.1l-1.3 3.6zM869.7 111.9l4.7 -2.1l0.2 3.8zM869.7 115.4l4.7 -2.1l0.2 3.8zM869.8 118.9l4.7 -2.1l0.2 3.8zM869.8 122.4l4.7 -2.1l0.2 3.8zM869.9 125.8l4.7 -2.1l0.2 3.8zM870 129.3l4.7 -2.1l0.2 3.8zM870 132.8l4.7 -2.1l0.2 3.8zM870.1 136.3l4.7 -2.1l0.2 3.8zM870.1 139.7l4.7 -2.1l0.2 3.8zM870.2 143.2l4.7 -2.1l0.2 3.8zM870.2 146.7l4.7 -2.1l0.2 3.8zM870.3 150.2l4.7 -2.1l0.2 3.8zM870.4 153.7l4.7 -2.1l0.2 3.8zM870.4 157.1l4.7 -2.1l0.2 3.8zM870.5 160.6l4.7 -2.1l0.2 3.8zM870.6 164.1l4.7 -2.1l0.2 3.8zM870.6 167.6l4.7 -2.1l0.2 3.8zM870.7 171l4.7 -2.1l0.2 3.8zM870.8 174.5l4.7 -2.1l0.2 3.8zM870.8 178l4.7 -2.1l0.2 3.8zM870.9 181.5l4.7 -2.1l0.2 3.8zM871 185l4.7 -2.1l0.2 3.8zM871 188.4l4.7 -2.1l0.2 3.8zM871.1 191.9l4.7 -2.1l0.2 3.8zM871.2 195.4l4.7 -2.1l0.2 3.8zM871.4 198.9l4.7 -2.1l0.2 3.8zM871.6 202.3l4.7 -2.1l0.2 3.8zM871.9 205.8l4.7 -2.1l0.2 3.8zM872.1 209.3l4.7 -2.1l0.2 3.8zM872.4 212.7l4.7 -2.1l0.2 3.8zM872.6 216.2l4.7 -2.1l0.2 3.8zM872.9 219.7l4.7 -2.1l0.2 3.8zM873.5 223.1l4.7 -2.1l0.2 3.8zM874.3 226.6l4.7 -2.1l0.2 3.8zM875.1 230l4.7 -2.1l0.2 3.8zM875.9 233.5l4.7 -2.1l0.2 3.8zM876.7 236.9l4.7 -2.1l0.2 3.8zM877.5 240.4l4.7 -2.1l0.2 3.8zM878.2 243.8l4.7 -2.1l0.2 3.8zM879 247.3l4.7 -2.1l0.2 3.8zM880 250.7l4.7 -2.1l0.2 3.8zM881 254.2l4.7 -2.1l0.2 3.8zM881.9 257.6l4.7 -2.1l0.2 3.8zM882.9 261l4.7 -2.1l0.2 3.8zM883.9 264.5l4.7 -2.1l0.2 3.8zM884.8 267.9l4.7 -2.1l0.2 3.8zM885.9 271.4l4.7 -2.1l0.2 3.8zM887.2 274.8l4.7 -2.1l0.2 3.8zM888.6 278.2l4.7 -2.1l0.2 3.8zM915.9 112.2l4.7 -2.1l0.2 3.8zM915.9 115.7l4.7 -2.1l0.2 3.8zM915.8 119.2l4.7 -2.2l0.2 3.8zM915.7 122.8l4.7 -2.2l0.2 3.8zM915.7 126.3l4.7 -2.2l0.2 3.8zM915.6 129.8l4.7 -2.2l0.2 3.8zM915.6 133.3l4.7 -2.2l0.2 3.8zM915.5 136.8l4.7 -2.2l0.2 3.8zM915.4 140.4l4.7 -2.2l0.2 3.8zM915.4 143.9l4.7 -2.2l0.2 3.8zM915.3 147.4l4.7 -2.2l0.2 3.8zM915.3 151l4.7 -2.2l0.3 3.8zM915.2 154.5l4.7 -2.2l0.3 3.8zM915.2 158l4.7 -2.2l0.3 3.8zM915.1 161.6l4.6 -2.2l0.3 3.8zM915.1 165.1l4.6 -2.3l0.3 3.8zM915.1 168.7l4.6 -2.3l0.3 3.8zM915.1 172.3l4.6 -2.3l0.3 3.8zM915.1 175.8l4.6 -2.3l0.3 3.8zM915.1 179.4l4.6 -2.3l0.3 3.8zM915.1 183l4.6 -2.3l0.4 3.8zM915.1 186.6l4.6 -2.4l0.4 3.8zM915.1 190.2l4.6 -2.4l0.4 3.8zM915.1 193.8l4.6 -2.4l0.4 3.8zM915.1 197.4l4.6 -2.4l0.4 3.8zM915.3 201.1l4.5 -2.5l0.5 3.8zM915.5 204.7l4.5 -2.5l0.5 3.8zM915.6 208.3l4.5 -2.5l0.5 3.8zM915.8 212l4.5 -2.6l0.5 3.8zM916 215.6l4.5 -2.6l0.6 3.8zM916.1 219.3l4.4 -2.6l0.6 3.8zM916.3 223l4.4 -2.7l0.6 3.7zM916.7 226.7l4.4 -2.7l0.7 3.7zM917 230.4l4.4 -2.8l0.7 3.7zM917.4 234.1l4.3 -2.8l0.7 3.7zM917.8 237.8l4.3 -2.9l0.8 3.7zM918.2 241.5l4.3 -2.9l0.8 3.7zM918.6 245.2l4.2 -3l0.9 3.7zM919.2 248.9l4.2 -3l0.9 3.7zM920.4 252.5l4.1 -3.1l1 3.7zM921.5 256l4.1 -3.2l1.1 3.6zM922.7 259.6l4 -3.3l1.1 3.6zM923.9 263l3.9 -3.3l1.2 3.6zM927.4 265.7l3.9 -3.4l1.3 3.6zM930.9 268.2l3.8 -3.5l1.4 3.5zM934.7 270.4l3.7 -3.6l1.5 3.5zM939.9 271.8l0.9 -2l1.2 2.7zM963 112l4.7 -2.1l0.2 3.8zM963 115.5l4.7 -2.1l0.2 3.8zM962.7 119l4.7 -2.1l0.2 3.8zM962.5 122.5l4.7 -2.1l0.2 3.8zM962.3 126l4.7 -2.1l0.2 3.8zM962.1 129.5l4.7 -2.1l0.2 3.8zM961.9 133l4.7 -2.1l0.2 3.8zM961.7 136.6l4.7 -2.1l0.2 3.8zM961.5 140.1l4.7 -2.1l0.2 3.8zM961.2 143.6l4.7 -2.1l0.2 3.8zM961 147.1l4.7 -2.1l0.2 3.8zM960.9 150.6l4.7 -2.1l0.2 3.8zM960.8 154.1l4.7 -2.2l0.2 3.8zM960.7 157.6l4.7 -2.2l0.2 3.8zM960.6 161.1l4.7 -2.2l0.2 3.8zM960.5 164.7l4.7 -2.2l0.2 3.8zM960.3 168.2l4.7 -2.2l0.2 3.8zM960.2 171.7l4.7 -2.2l0.2 3.8zM960.1 175.3l4.7 -2.2l0.2 3.8zM960 178.8l4.7 -2.2l0.2 3.8zM959.9 182.3l4.7 -2.2l0.2 3.8zM959.6 185.9l4.7 -2.2l0.3 3.8zM959.2 189.5l4.7 -2.2l0.3 3.8zM958.8 193l4.7 -2.2l0.3 3.8zM958.3 196.6l4.6 -2.2l0.3 3.8zM957.9 200.2l4.6 -2.3l0.3 3.8zM957.5 203.8l4.6 -2.3l0.3 3.8zM957 207.4l4.6 -2.3l0.3 3.8zM956.6 211l4.6 -2.3l0.3 3.8zM956.1 214.7l4.6 -2.3l0.3 3.8zM955.4 218.4l4.6 -2.3l0.4 3.8zM954.7 222l4.6 -2.4l0.4 3.8zM954 225.8l4.6 -2.4l0.4 3.8zM953.2 229.5l4.6 -2.4l0.4 3.8zM952.5 233.2l4.6 -2.4l0.4 3.8zM952.4 236.9l4.5 -2.5l0.4 3.8zM954.2 240.4l4.5 -2.5l0.5 3.8zM976.6 241.2l4.5 -2.5l0.5 3.8zM1010.7 111.9l4.7 -2.1l0.2 3.8zM1010.7 115.3l4.7 -2.1l0.2 3.8zM1010.5 118.8l4.7 -2.1l0.2 3.8zM1010.4 122.3l4.7 -2.1l0.2 3.8zM1010.3 125.8l4.7 -2.1l0.2 3.8zM1010.1 129.3l4.7 -2.1l0.2 3.8zM1010 132.8l4.7 -2.1l0.2 3.8zM1009.9 136.2l4.7 -2.1l0.2 3.8zM1009.7 139.7l4.7 -2.1l0.2 3.8zM1009.6 143.2l4.7 -2.1l0.2 3.8zM1009.4 146.7l4.7 -2.1l0.2 3.8zM1008.8 150.2l4.7 -2.1l0.2 3.8zM1008.2 153.7l4.7 -2.1l0.2 3.8zM1007.7 157.2l4.7 -2.1l0.2 3.8zM1007.1 160.7l4.7 -2.1l0.2 3.8zM1006.5 164.2l4.7 -2.1l0.2 3.8zM1005.9 167.7l4.7 -2.1l0.2 3.8zM1005.3 171.2l4.7 -2.1l0.2 3.8zM1004.8 174.7l4.7 -2.1l0.2 3.8zM1004.2 178.2l4.7 -2.1l0.2 3.8zM1003.6 181.7l4.7 -2.1l0.2 3.8zM1002.9 185.2l4.7 -2.1l0.2 3.8zM1002.2 188.8l4.7 -2.1l0.2 3.8zM1001.5 192.3l4.7 -2.1l0.2 3.8zM1000.8 195.8l4.7 -2.1l0.2 3.8zM1000 199.3l4.7 -2.1l0.2 3.8zM999.3 202.8l4.7 -2.1l0.2 3.8zM998.6 206.3l4.7 -2.1l0.2 3.8zM997.9 209.8l4.7 -2.1l0.2 3.8zM997.1 213.3l4.7 -2.1l0.2 3.8zM996.6 216.8l4.7 -2.1l0.2 3.8zM996.1 220.3l4.7 -2.1l0.2 3.8zM995.5 223.8l4.7 -2.1l0.2 3.8zM995 227.3l4.7 -2.1l0.2 3.8z" fill="#000"/>
<path d="M986.6 243.1h0.1M987.8 246.6h0.1M988.9 250.1h0.1" stroke="#000" stroke-width="1.6" stroke-linecap="round" fill="none"/>
<path d="M755.8 236.7L757.8 236.8L759.8 236.9L761.8 237.1L763.8 237.3L765.8 237.7L767.8 238.1L769.8 238.6L771.8 239.1L773.8 239.7L775.8 240.4L777.7 241.1L779.7 241.9L781.7 242.7L783.7 243.6L785.7 244.6L787.7 245.6L789.7 246.6L791.7 247.6L793.7 248.7L795.7 249.8L797.7 251L799.6 252.2L801.6 253.3L803.6 254.5L805.6 255.7L807.6 256.9L809.6 258.1L811.6 259.3L813.6 260.5L815.6 261.7L817.6 262.9L819.6 264L821.5 265.2L823.5 266.3L825.5 267.4L827.5 268.4L829.5 269.4L831.5 270.4L833.5 271.4L835.5 272.3L837.5 273.2L839.5 274.1L841.5 274.9L843.5 275.7L845.4 276.5L847.4 277.2L849.4 277.9L851.4 278.5L853.4 279.1L855.4 279.6L857.4 280.2L859.4 280.7L861.4 281.1L863.4 281.5L865.4 281.9L867.3 282.3L869.3 282.6L871.3 282.9L873.3 283.2L875.3 283.4L877.3 283.7L879.3 283.8L881.3 284L883.3 284.2L885.3 284.3L887.3 284.4L889.2 284.4L891.2 284.5L893.2 284.5L895.2 284.5L897.2 284.5L899.2 284.5L901.2 284.4L903.2 284.4L905.2 284.3L907.2 284.2L909.2 284L911.1 283.8L913.1 283.7L915.1 283.4L917.1 283.2L919.1 282.9L921.1 282.6L923.1 282.3L925.1 281.9L927.1 281.5L929.1 281.1L931.1 280.7L933.1 280.2L935 279.6L937 279.1L939 278.5L941 277.9L943 277.2L945 276.5L947 275.7L949 274.9L951 274.1L953 273.2L955 272.3L956.9 271.4L958.9 270.4L960.9 269.4L962.9 268.4L964.9 267.4L966.9 266.3L968.9 265.2L970.9 264L972.9 262.9L974.9 261.7L976.9 260.5L978.8 259.3L980.8 258.1L982.8 256.9L984.8 255.7L986.8 254.5L988.8 253.3L990.8 252.2L992.8 251L994.8 249.8L996.8 248.7L998.8 247.6L1000.8 246.6L1002.7 245.6L1004.7 244.6L1006.7 243.6L1008.7 242.7L1010.7 241.9L1012.7 241.1L1014.7 240.4L1016.7 239.7L1018.7 239.1L1020.7 238.6L1022.7 238.1L1024.6 237.7L1026.6 237.3L1028.6 237.1L1030.6 236.9L1032.6 236.8L1034.6 236.7" stroke="#000" stroke-width="1.7" fill="none"/>
</g>
<rect x="755.5" y="110.2" width="279.8" height="173" fill="none" stroke="#000" stroke-width="2.9"/>
<line x1="1036.7" y1="263.9" x2="1047.8" y2="263.9" stroke="#000" stroke-width="1.3"/>
<text x="1059.6" y="272.3" font-size="25">0</text>
<line x1="1036.7" y1="217.2" x2="1047.8" y2="217.2" stroke="#000" stroke-width="1.3"/>
<text x="1059.6" y="225.6" font-size="25">1</text>
<line x1="1036.7" y1="170.4" x2="1047.8" y2="170.4" stroke="#000" stroke-width="1.3"/>
<text x="1059.6" y="178.8" font-size="25">2</text>
<line x1="1036.7" y1="123.7" x2="1047.8" y2="123.7" stroke="#000" stroke-width="1.3"/>
<text x="1059.6" y="132.1" font-size="25">3</text>
<text x="1094.79" y="195.23" font-size="28.6" font-style="italic">y</text>
<path d="M1108.40 201.40L1118.50 175.60" stroke="#000" stroke-width="1.5"/>
<text x="1121.33" y="194.97" font-size="27.32" font-style="italic">η</text>
<defs><clipPath id="tlp1"><rect x="0" y="-5" width="282.42" height="190"/></clipPath>
<g id="lp1" clip-path="url(#tlp1)"><g transform="scale(0.5)" stroke="#000" stroke-width="2" stroke-linejoin="round" fill-rule="evenodd">
<path d="M404 211l7 0l10 4l7-1l7-2l8 2l7 0l12 4l11-1l11 2l8-2l9 0l10 3l9 1l3 2l3 6l10 0l17 4l4 3l2 5l17 2l9 2l0 17l-3 0l-1-1l-31 0l-2 1l-7 0l-1 1l-10 2l-1 1l-3 0l-1 2l-3 0l-4 2l-3 0l-2 2l-22 7l-34 13l-18 10l-8 3l-11 7l-21 10l-24 8l-10 1l-11 4l-13 1l-11 5l-2 4l-4 4l-11 0l-1 1l-59 0l-1-1l-14 0l-2-2l-10 0l-1-1l-7 0l-1-1l-6 0l-1-2l-6 0l-1-1l-10-2l-2-1l-2 0l-2-1l-7-2l-1-1l-7-2l-4-2l-3 0l-2-2l-1 0l-1-1l-3 0l-27-14l-7-3l-3-3l-7-3l-2-2l-7-3l-6-4l-4-2l-3-3l-10-4l-3-3l-4-1l-18-10l-3 0l-4-3l-3 0l-4-2l-7-2l-1-1l-5 0l-1-2l-4 0l-2-1l-7 0l-1-1l-31 0l-1 1l-3 0l0-31l11 4l2 2l1 4l24 3l14 4l14 6l33 17l41 23l29 16l13 5l3 0l1 2l3 0l4 2l7 2l2 1l2 0l-4-5l-8-7l-1-7l-3-8l-2-2l-4-3l0-10l-10-10l-4-9l0-3l1-3l3 0l3 1l2 6l-1 4l1 3l2 2l3 0l1-2l-3-7l5-7l-1-6l8-6l3-1l2 0l3 6l2 1l5-2l6-4l7 0l10 6l0 3l-3 4l1 2l11 1l7-3l3 0l7 5l3 6l1 1l6-4l3-1l2 2l2 4l3 2l3-2l-1-6l2-2l3 1l3 4l11 1l17-12l8-2l3-2l0-6l1-3l7-5l3 0l4 1l3 0l13-9l4-2l8-1l6-2l8 2l3-2l3-5l11 1l7-6l13-1zM186 324l2 0l-2-1zM159 248l3 1l-1 2l-3 1l-1-3z" fill="#fff4f4"/>
<path d="M393 224l4-1l10 2l7 0l3 1l8-2l14 0l10 3l11 1l27 4l8 4l7 0l6 3l8 1l1 1l0 3l5 0l14-2l17-1l28 4l4 1l0 16l-3 0l-1-1l-31 0l-2 1l-7 0l-1 1l-10 2l-1 1l-7 2l-4 2l-3 0l-20 7l-33 12l-12 2l-11 7l-11 4l-11 7l-18 9l-10 2l-9 4l-14 2l-9 3l-16 1l-11 3l-2 7l-5 6l-3 3l-7 0l-1 1l-59 0l-1-1l-14 0l-2-2l-10 0l-1-1l-7 0l-1-1l-6 0l-1-2l-6 0l-1-1l-10-2l-2-1l-2 0l-2-1l-7-2l-1-1l-7-2l-4-2l-3 0l-2-2l-1 0l-1-1l-3 0l-27-14l-7-3l-3-3l-7-3l-2-2l-7-3l-6-4l-4-2l-3-3l-10-4l-3-3l-4-1l-18-10l-3 0l-4-3l-3 0l-4-2l-7-2l-1-1l-5 0l-1-2l-4 0l-2-1l-7 0l-1-1l-31 0l-1 1l-3 0l0-21l15 1l24 4l16 5l15 6l34 17l58 33l16 7l18 7l24 7l26 5l34 3l22 1l25-5l11-3l1-1l-7-4l-6-7l-2-7l4-6l1-6l-1-2l-6-3l-1-3l7-10l6-5l4-10l11-14l8-3l8-7l10-5l14-3l6-3l7-1zM242 297l5 1l2 0l-1 2l-5 1l-4-1l0-2z" fill="#ffeaea"/>
<path d="M393 232l7-1l15 2l12-2l8 1l13 4l9-1l6 1l11 4l13 2l8 4l4 1l44-5l12 0l19 3l11 2l0 15l-3 0l-1-1l-31 0l-2 1l-7 0l-1 1l-10 2l-1 1l-7 2l-4 2l-17 4l-38 13l-8 2l-6-2l-4 2l-7 5l-13 5l-10 7l-8 3l-8 5l-10 2l-7 3l-23 5l-26 2l-3-4l-3-8l-4-7l-1-4l2-12l5-18l1-7l2-4l2-3l20-13l21-8l10-2zM-19 242l12 0l21 3l23 7l37 18l74 40l24 10l19 7l34 7l38 3l17 1l42-6l2 0l2 7l-6 7l-9 4l-58 0l-1-1l-14 0l-2-2l-10 0l-1-1l-7 0l-1-1l-6 0l-1-2l-6 0l-1-1l-10-2l-2-1l-2 0l-2-1l-7-2l-1-1l-7-2l-4-2l-3 0l-2-2l-1 0l-1-1l-3 0l-27-14l-7-3l-3-3l-7-3l-2-2l-7-3l-6-4l-4-2l-3-3l-10-4l-3-3l-4-1l-18-10l-3 0l-4-3l-3 0l-4-2l-7-2l-1-1l-5 0l-1-2l-4 0l-2-1l-7 0l-1-1l-31 0l-1 1l-3 0l0-20z" fill="#ffdfdf"/>
<path d="M394 238l12-1l7 2l9-2l6 0l14 4l10 0l11 2l8 4l13 3l56-7l14 0l17 2l14 2l0 15l-3 0l-1-1l-31 0l-2 1l-7 0l-1 1l-10 2l-1 1l-3 0l-1 2l-3 0l-2 1l-15 3l-41 14l-8 1l-7-4l-8 4l-9 6l-10 4l-7 5l-8 3l-8 5l-35 9l-16 1l-7 0l-7-12l-1-12l5-28l1-3l9-8l10-7l18-8l10-1zM-19 243l12 0l21 3l14 4l11 4l35 16l73 40l25 11l19 6l23 5l29 5l37 1l36-4l5 1l2 4l-2 4l-4 3l-11 4l-53 0l-1-1l-14 0l-2-2l-10 0l-1-1l-7 0l-1-1l-6 0l-1-2l-6 0l-1-1l-10-2l-2-1l-2 0l-2-1l-7-2l-1-1l-7-2l-4-2l-3 0l-2-2l-1 0l-1-1l-3 0l-27-14l-7-3l-3-3l-7-3l-2-2l-7-3l-6-4l-4-2l-3-3l-10-4l-3-3l-4-1l-18-10l-3 0l-4-3l-3 0l-4-2l-7-2l-1-1l-5 0l-1-2l-4 0l-2-1l-7 0l-1-1l-31 0l-1 1l-3 0l0-19z" fill="#ffd4d4"/>
<path d="M397 242l7 0l7 1l9-1l7 0l11 3l12 1l26 7l25-4l35-5l22 0l27 4l0 14l-3 0l-1-1l-31 0l-2 1l-7 0l-1 1l-4 0l-2 2l-4 0l-1 1l-3 0l-1 1l-16 3l-33 11l-13 4l-8-1l-3-2l-2-3l-1 0l-20 12l-9 4l-6 5l-8 2l-7 4l-14 4l-16 4l-15 2l-7 0l-4-8l-2-11l2-21l3-8l6-7l14-10l14-5zM-14 244l30 3l14 4l12 4l33 16l72 40l23 10l20 6l22 6l28 4l40 2l32-3l5 1l3 2l1 1l-7 6l-12 4l-49 0l-1-1l-14 0l-2-2l-10 0l-1-1l-7 0l-1-1l-6 0l-1-2l-6 0l-1-1l-10-2l-2-1l-2 0l-2-1l-7-2l-1-1l-7-2l-4-2l-3 0l-2-2l-1 0l-1-1l-3 0l-27-14l-7-3l-3-3l-7-3l-2-2l-7-3l-6-4l-4-2l-3-3l-10-4l-3-3l-4-1l-18-10l-3 0l-4-3l-3 0l-4-2l-7-2l-1-1l-5 0l-1-2l-4 0l-2-1l-7 0l-1-1l-31 0l-1 1l-3 0l0-18z" fill="#ffc9c9"/>
<path d="M-19 245l12 0l21 3l14 3l12 4l34 16l73 40l23 10l21 7l23 6l28 4l38 2l28-3l7 1l4 2l-8 6l-12 4l-46 0l-1-1l-14 0l-2-2l-10 0l-1-1l-7 0l-1-1l-6 0l-1-2l-6 0l-1-1l-10-2l-2-1l-2 0l-2-1l-7-2l-1-1l-7-2l-4-2l-3 0l-2-2l-1 0l-1-1l-3 0l-27-14l-7-3l-3-3l-7-3l-2-2l-7-3l-6-4l-4-2l-3-3l-10-4l-3-3l-4-1l-18-10l-3 0l-4-3l-3 0l-4-2l-7-2l-1-1l-5 0l-1-2l-4 0l-2-1l-7 0l-1-1l-31 0l-1 1l-3 0l0-17zM537 245l20 0l28 4l0 13l-3 0l-1-1l-31 0l-2 1l-7 0l-1 1l-4 0l-2 2l-4 0l-1 1l-20 4l-31 10l-14 3l-8-1l-5-5l-2 0l-5 2l-19 11l-7 3l-7 5l-5 2l-7 3l-12 4l-14 3l-19 2l-3-1l-1-4l-2-9l0-12l1-9l3-8l4-4l10-9l16-6l18-4l10 1l12-1l12 2l13 1l23 8l10-4l11-2z" fill="#ffbfbf"/>
<path d="M-19 245l12 1l22 3l14 3l13 5l33 16l72 39l23 10l20 7l22 5l27 4l39 2l28-2l7 2l2 0l0 2l-9 5l-11 3l-42 0l-1-1l-14 0l-2-2l-10 0l-1-1l-7 0l-1-1l-6 0l-1-2l-6 0l-1-1l-10-2l-2-1l-2 0l-2-1l-7-2l-1-1l-7-2l-4-2l-3 0l-2-2l-1 0l-1-1l-3 0l-27-14l-7-3l-3-3l-7-3l-2-2l-7-3l-6-4l-4-2l-3-3l-10-4l-3-3l-4-1l-18-10l-3 0l-4-3l-3 0l-4-2l-7-2l-1-1l-5 0l-1-2l-4 0l-2-1l-7 0l-1-1l-31 0l-1 1l-3 0l0-16zM533 246l22 0l30 4l0 12l-3 0l-1-1l-31 0l-2 1l-7 0l-1 1l-4 0l-1 1l-26 5l-29 10l-14 3l-9-1l-5-6l-3 0l-10 4l-28 16l-12 6l-13 4l-24 3l-4 0l-2-3l-2-9l-1-7l1-9l3-10l11-11l15-6l17-4l8 1l13-1l8 2l14 2l17 5l2 2l2 0l17-6z" fill="#ffb4b4"/>
<path d="M-19 246l12 1l22 2l14 4l13 4l33 16l70 39l24 10l21 7l22 6l28 4l37 2l28-2l5 1l3 2l-8 4l-13 4l-39 0l-1-1l-14 0l-2-2l-10 0l-1-1l-7 0l-1-1l-6 0l-1-2l-6 0l-1-1l-10-2l-2-1l-2 0l-2-1l-7-2l-1-1l-7-2l-4-2l-3 0l-2-2l-1 0l-1-1l-3 0l-27-14l-7-3l-3-3l-7-3l-2-2l-7-3l-6-4l-4-2l-3-3l-10-4l-3-3l-4-1l-18-10l-3 0l-4-3l-3 0l-4-2l-7-2l-1-1l-5 0l-1-2l-4 0l-2-1l-7 0l-1-1l-31 0l-1 1l-3 0l0-16zM540 247l17 0l28 3l0 12l-3 0l-1-1l-31 0l-2 1l-7 0l-1 1l-29 5l-31 10l-13 2l-8-1l-3-2l-2-4l-4 0l-15 6l-15 9l-20 10l-11 3l-11 3l-16 0l-3-10l-1-10l2-8l2-6l10-9l14-6l14-3l8 1l12-1l7 2l14 2l14 5l0 2l2 1l24-9z" fill="#ffa9a9"/>
<path d="M-19 247l12 0l22 3l14 3l14 5l32 16l70 38l23 10l22 8l22 5l28 4l35 2l28 0l7 1l-7 4l-15 4l-35 0l-1-1l-14 0l-2-2l-10 0l-1-1l-7 0l-1-1l-6 0l-1-2l-6 0l-1-1l-10-2l-2-1l-2 0l-2-1l-7-2l-1-1l-7-2l-4-2l-3 0l-2-2l-1 0l-1-1l-3 0l-27-14l-7-3l-3-3l-7-3l-2-2l-7-3l-6-4l-4-2l-3-3l-10-4l-3-3l-4-1l-18-10l-3 0l-4-3l-3 0l-4-2l-7-2l-1-1l-5 0l-1-2l-4 0l-2-1l-7 0l-1-1l-31 0l-1 1l-3 0l0-15zM534 248l21-1l30 4l0 11l-3 0l-1-1l-31 0l-2 1l-7 0l-30 6l-31 9l-11 2l-10-1l-1-5l-7-1l3-3l26-13zM394 256l6-1l7 1l8-1l21 4l12 3l1 1l1 9l-10 3l-9 4l-14 8l-18 9l-19 5l-11 1l-3-1l-3-14l1-10l2-5l5-6l6-4l9-4z" fill="#ff9e9e"/>
<path d="M-19 248l12 0l22 3l14 3l14 5l32 15l70 39l23 10l22 7l22 6l27 4l34 2l30 0l4 1l-9 4l-13 3l-31 0l-2-1l-14 0l-2-2l-10 0l-1-1l-7 0l-1-1l-6 0l-1-2l-6 0l-1-1l-5 0l-1-2l-4 0l-2-1l-2 0l-2-1l-3 0l-1-2l-3 0l-1-1l-3 0l-1-2l-3 0l-4-2l-3 0l-4-3l-3 0l-3-2l-1-1l-2 0l-1-1l-2 0l-1-2l-1 0l-2-1l-21-10l-3-3l-6-3l-3-2l-7-3l-3-3l-4-1l-6-5l-10-4l-3-3l-4-1l-18-10l-3 0l-4-3l-3 0l-3-1l-1-1l-7-2l-1-1l-5 0l-1-2l-4 0l-2-1l-7 0l-1-1l-31 0l-4 1l0-14zM544 248l25 1l16 3l0 10l-3 0l-1-1l-31 0l-17 2l-24 4l-29 9l-10 2l-8-1l-2-1l0-3l-2-3l7-5l15-8l25-4zM394 259l6-1l13 0l17 3l13 4l1 7l-2 1l-15 6l-11 7l-17 8l-16 4l-12 0l-3-12l1-13l4-4l6-5l8-3z" fill="#ff9494"/>
<path d="M-19 249l12 0l22 3l14 3l14 5l32 15l70 39l23 9l22 8l22 5l27 4l22 2l34 0l10 1l-11 4l-12 3l-18 0l-22-1l-21-3l-31-7l-21-7l-22-10l-24-12l-44-26l-22-11l-14-5l-8-3l-11-2l-1-1l-7-1l-1 0l-35 0l0-12zM537 249l20 0l28 4l0 9l-3 0l-1-1l-23-1l-21 1l-31 6l-26 9l-10 1l-8-1l0-3l-1-3l7-5l12-7zM396 262l17-1l22 5l2 0l1 7l-10 4l-29 15l-14 3l-10 1l-3-12l2-11l8-7l7-3z" fill="#ff8989"/>
<path d="M-19 250l12 0l22 2l14 4l14 4l32 16l70 38l21 9l23 8l21 6l25 4l26 2l34 0l4 2l-19 5l-24-1l-35-4l-32-7l-20-7l-22-10l-73-40l-28-12l-16-5l-14-3l-22-2l-14 1l0-10zM533 251l21-1l29 3l2 0l0 8l-27-2l-19 1l-30 6l-29 9l-11 1l-5-1l0-3l-1-2l7-5l10-6zM408 263l13 2l8 3l2 1l1 4l-2 2l-5 1l-26 14l-12 2l-8 1l-2-6l0-5l1-7l2-3l5-4l7-3l7-1z" fill="#ff7e7e"/>
<path d="M-19 250l13 1l22 2l14 4l14 5l31 14l70 39l21 9l23 8l21 5l25 4l22 2l40 2l-17 4l-27-1l-32-3l-32-8l-21-7l-23-10l-69-38l-25-12l-16-6l-17-4l-24-1l-14 0l0-9zM540 251l17 0l28 3l0 7l-28-2l-20 1l-29 6l-28 8l-14 1l0-3l-1-2l15-10zM394 268l13-2l10 2l8 2l0 5l-10 4l-15 8l-10 3l-7 0l-2-7l2-8l4-5z" fill="#ff7373"/>
<path d="M-19 251l34 3l14 3l15 5l31 15l69 38l21 9l22 8l21 5l23 4l25 3l34 1l0 1l-10 3l-37-2l-28-4l-28-7l-21-7l-21-10l-68-37l-26-13l-16-6l-17-3l-24-2l-14 0l0-7zM536 252l17-1l25 2l7 2l0 5l-27-2l-19 1l-31 6l-28 8l-9 1l-4-1l1-1l-1-2l1-1l12-8zM396 270l10 0l7 1l5 1l1 3l-1 1l-5 2l-13 7l-7 1l-6 1l-1-5l1-6l3-3z" fill="#ff6969"/>
<path d="M-19 252l34 3l14 3l15 5l31 14l69 38l21 10l22 8l21 5l23 4l23 2l31 1l3 1l-8 2l-40-2l-25-3l-28-7l-19-7l-23-10l-70-39l-25-12l-17-6l-15-3l-24-2l-14 0l0-5zM543 252l14 0l22 2l6 1l0 4l-27-2l-18 1l-29 6l-31 9l-9 0l-1 0l-1-3l4-4l8-5zM400 273l9 2l1 1l-10 6l-8 1l0-4l1-3l3-2z" fill="#ff5e5e"/>
<path d="M-19 253l34 2l14 3l15 5l30 14l50 29l21 10l20 9l24 9l22 5l27 4l48 3l-6 2l-7-1l-35-2l-24-3l-27-7l-19-7l-23-10l-21-11l-43-25l-35-16l-17-6l-14-2l-22-2l-13 1l0-4zM537 254l14-1l21 1l13 2l0 2l-27-2l-19 1l-28 6l-31 9l-9 0l0-3l9-7z" fill="#ff0000"/>
<path d="M449 52l3 2l1 4l0 9l2 6l4-6l1-5l4-3l4 0l9 5l4 1l7 3l10-1l2 2l-1 7l3 4l13 3l10-1l7 3l0 2l-5 3l-2 4l1 2l7 2l2 6l2 3l3 2l7-2l6 5l8 1l2 2l2 3l-1 2l-7-1l-3 2l0 1l4 7l7 6l2 5l-1 4l-4 5l-6 12l-1 9l-3 7l5 5l0 4l0 3l-3 1l-3-1l-7-7l-4 0l-4 1l-6 7l-3 1l-7-2l-5 2l-9-1l-15 3l-27 1l-8-2l-7 1l-7-1l-6 1l-9-4l-14 1l-5-3l-2-1l-12 6l-11 0l-18 3l-10 0l-7 1l-5-3l-3-4l-3-10l-6-7l-1-7l3-7l-2-7l3-5l0-7l5-9l-1-7l0-1l5-1l5 5l3-1l2-3l-2-4l-6-3l-1-4l7-6l3-1l4 1l5 3l12 1l1-1l0-6l2-4l1-8l8-7l2-4l-1-10l-4-6l2-3l6 7l4 3l1 0l4-1l6-6l3 1l5 4l3 1l3-2l6-5l5 0l2 1l-6 4l0 2l0 1l11 3l9 4l2-1l1-2l-2-2l-5-5l-1-5l2-4zM351 163l-2 1l1 3l4 0l0-3zM353 181l-4 1l0 2l2 2l4 1l2-2l0-3l-2-1zM-19 107l2 0l5 5l9 2l2 1l1 3l-1 1l-6 0l-3 2l0 2l3 5l8 8l1 6l-1 2l-3 5l-6 11l-1 10l-4 7l4 4l2 3l0 4l-3 2l-4-2l-6-6l0-63l2-1l-2-1l0-9zM326 119l3 0l0 2l0 2l-3 1l-2 0l0-2zM324 131l6 4l1 2l-4 3l-6 0l-1-1l0-4l2-2zM502 276l3-1l-18 9l-2 0l-2 3l-10 4l-3 3l-7 3l-6 4l-4 2l-3 2l-7 3l-2 3l-5 1l-29 16l-3 0l-1 1l-2 0l-1 2l-3 0l-4 2l-7 2l-1 1l-7 2l-2 1l-3 0l-1 1l-10 2l-1 1l-6 0l-1 2l-6 0l-1 1l-7 0l-2 1l-8 0l17-7l32-8l23-8l22-10l51-28z" fill="#f4f4ff"/>
<path d="M484 122l3-1l2 2l-2 9l2 7l0 17l-1 2l-4 2l-5 0l-2-1l-10-6l-10 1l-6-4l-6-2l-2-2l0-4l7-5l1-1l-1-6l1-2l4-1l2 1l4 8l2 1l6 1l7 2l1-3l-1-5l1-3zM442 130l1 0l2 2l-2 2l-1 6l-7 4l-6 7l-2 0l-2-2l0-3l4-7l3-7l2-1l5 0zM434 154l4-1l2 1l2 3l0 1l-4 3l-4-1l-2-4zM498 164l3-1l1 1l-1 3l-3 0l-1-2zM499 277l3-1l-15 8l-2 0l-2 3l-10 4l-3 3l-7 3l-6 4l-4 2l-3 2l-7 3l-2 3l-5 1l-29 16l-3 0l-1 1l-2 0l-1 2l-3 0l-4 2l-7 2l-1 1l-7 2l-2 1l-3 0l-1 1l-4 0l-2 2l-4 0l-1 1l-6 0l-1 2l-6 0l-1 1l-7 0l-2 1l-1 0l11-5l31-7l29-11l18-9l58-32z" fill="#eaeaff"/>
<path d="M497 279l2-1l-12 6l-2 0l-2 3l-10 4l-3 3l-7 3l-6 4l-4 2l-3 2l-7 3l-2 3l-5 1l-29 16l-3 0l-1 1l-2 0l-1 2l-3 0l-4 2l-7 2l-1 1l-7 2l-2 1l-3 0l-1 1l-4 0l-2 2l-4 0l-1 1l-6 0l-1 2l-6 0l-1 1l-3 0l6-2l30-8l29-11l18-8l65-37z" fill="#dfdfff"/>
</g>
<path d="M-10 131L-7.5 130.6L-5 130.3L-2.4 130.2L0.1 130.1L2.6 130.2L5.1 130.3L7.6 130.6L10.2 131L12.7 131.5L15.2 132.2L17.7 132.9L20.2 133.7L22.8 134.6L25.3 135.6L27.8 136.6L30.3 137.8L32.8 139L35.4 140.3L37.9 141.6L40.4 142.9L42.9 144.3L45.4 145.7L48 147.2L50.5 148.6L53 150.1L55.5 151.5L58 152.9L60.6 154.4L63.1 155.7L65.6 157.1L68.1 158.4L70.6 159.7L73.2 161L75.7 162.2L78.2 163.3L80.7 164.4L83.2 165.4L85.8 166.4L88.3 167.3L90.8 168.2L93.3 169L95.8 169.7L98.4 170.4L100.9 171.1L103.4 171.7L105.9 172.2L108.4 172.7L111 173.1L113.5 173.5L116 173.8L118.5 174.1L121 174.4L123.6 174.6L126.1 174.8L128.6 175L131.1 175.1L133.6 175.2L136.2 175.2L138.7 175.3L141.2 175.3L143.7 175.3L146.3 175.2L148.8 175.2L151.3 175.1L153.8 175L156.3 174.8L158.9 174.6L161.4 174.4L163.9 174.1L166.4 173.8L168.9 173.5L171.5 173.1L174 172.7L176.5 172.2L179 171.7L181.5 171.1L184.1 170.4L186.6 169.7L189.1 169L191.6 168.2L194.1 167.3L196.7 166.4L199.2 165.4L201.7 164.4L204.2 163.3L206.7 162.2L209.3 161L211.8 159.7L214.3 158.4L216.8 157.1L219.3 155.7L221.9 154.4L224.4 152.9L226.9 151.5L229.4 150.1L231.9 148.6L234.5 147.2L237 145.7L239.5 144.3L242 142.9L244.5 141.6L247.1 140.3L249.6 139L252.1 137.8L254.6 136.6L257.1 135.6L259.7 134.6L262.2 133.7L264.7 132.9L267.2 132.2L269.7 131.5L272.3 131L274.8 130.6L277.3 130.3L279.8 130.2L282.3 130.1L284.9 130.2L287.4 130.3L289.9 130.6L292.4 131" fill="none" stroke="#000" stroke-width="1.2"/>
</g>
<clipPath id="clp1"><rect x="184.5" y="287.4" width="565" height="175.1"/></clipPath></defs>
<g clip-path="url(#clp1)">
<use href="#lp1" transform="translate(184.7 285.87)"/>
<use href="#lp1" transform="translate(467.12 285.87)"/>
<g transform="translate(184.7 285.87)"><path d="M128.3 136.2L134.6 140L139.6 147.5L144.6 162.5L151.3 172.5" fill="none" stroke="#000" stroke-width="4.5" stroke-linecap="butt" stroke-linejoin="round"/></g>
<g transform="translate(467.12 285.87)"><path d="M128.3 136.2L134.6 140L139.6 147.5L144.6 162.5L151.3 172.5" fill="none" stroke="#000" stroke-width="4.5" stroke-linecap="butt" stroke-linejoin="round"/></g>
</g>
<rect x="184.5" y="287.4" width="565" height="175.1" fill="none" stroke="#000" stroke-width="3"/>
<clipPath id="rc1"><rect x="755.5" y="288.3" width="280" height="173.1"/></clipPath>
<g clip-path="url(#rc1)">
<path d="M802.3 289.1l-18.4 0.5M802.3 292.6l-18.4 0.4M802.3 296.1l-18.5 0.4M802.3 299.5l-18.5 0.3M802.3 303l-18.6 0.2M802.3 306.5l-18.6 0.2M802.3 310l-18.6 0.1M802.3 313.5l-18.7 0M802.3 316.9l-18.7 -0.1M802.3 320.4l-18.7 -0.2M802.3 323.9l-18.8 -0.3M802.3 327.4l-18.8 -0.4M802.3 330.9l-18.9 -0.5M802.3 334.3l-18.9 -0.7M802.3 337.8l-18.9 -0.8M802.3 341.3l-18.9 -1M802.3 344.8l-18.9 -1.1M802.3 348.3l-18.9 -1.3M802.3 351.7l-18.9 -1.5M802.3 355.2l-18.9 -1.7M802.3 358.7l-18.9 -2M802.3 362.2l-18.9 -2.2M802.3 365.7l-19 -2.5M802.3 369.1l-19 -2.8M802.3 372.6l-19 -3.1M802.3 376.1l-18.8 -3.4M802.3 379.6l-18.7 -3.8M802.3 383.1l-18.5 -4.1M802.3 386.5l-18.4 -4.5M802.3 390l-18.2 -4.9M802.3 393.5l-18.1 -5.4M802.3 397l-17.9 -5.8M802.3 400.5l-17.4 -6.2M802.3 403.9l-16.7 -6.5M802.3 407.4l-16 -6.8M802.3 410.9l-15.3 -7.1M802.3 414.4l-14.6 -7.4M802.3 417.9l-12.1 -6.7M802.3 421.3l-9.2 -5.5M802.3 424.8l-6.2 -4.1M802.3 428.3l-0.6 -0.5M848.8 289.1l-18.7 0.9M848.8 292.6l-18.7 0.9M848.8 296.1l-18.7 0.9M848.8 299.5l-18.7 0.8M848.8 303l-18.7 0.8M848.8 306.5l-18.7 0.8M848.8 310l-18.7 0.8M848.8 313.5l-18.7 0.8M848.8 316.9l-18.7 0.7M848.8 320.4l-18.7 0.7M848.8 323.9l-18.7 0.7M848.8 327.4l-18.7 0.6M848.8 330.9l-18.7 0.6M848.8 334.3l-18.7 0.5M848.8 337.8l-18.7 0.5M848.8 341.3l-18.6 0.4M848.8 344.8l-18.6 0.4M848.8 348.3l-18.5 0.3M848.8 351.7l-18.5 0.3M848.8 355.2l-18.4 0.2M848.8 358.7l-18.4 0.1M848.8 362.2l-18.3 0M848.8 365.7l-18.3 -0.1M848.8 369.1l-18.3 -0.2M848.8 372.6l-18.2 -0.3M848.8 376.1l-17.9 -0.4M848.8 379.6l-17.5 -0.5M848.8 383.1l-17.2 -0.6M848.8 386.5l-16.8 -0.7M848.8 390l-16.5 -0.8M848.8 393.5l-16.2 -0.9M848.8 397l-15.8 -1.1M848.8 400.5l-15.3 -1.2M848.8 403.9l-14.8 -1.3M848.8 407.4l-14.3 -1.4M848.8 410.9l-13.8 -1.6M848.8 414.4l-13.3 -1.7M848.8 417.9l-12.7 -1.8M848.8 421.3l-12.2 -1.9M848.8 424.8l-11.4 -2M848.8 428.3l-10.4 -2M848.8 431.8l-9.5 -2M848.8 435.3l-8.5 -2M848.8 438.7l-7.5 -2M848.8 442.2l-6.2 -1.8M848.8 445.7l-4.7 -1.5M848.8 449.2l-3.2 -1.1M895.2 289.1l-19.5 1.2M895.2 292.6l-19.5 1.2M895.2 296.1l-19.5 1.2M895.2 299.5l-19.4 1.2M895.2 303l-19.4 1.2M895.2 306.5l-19.4 1.2M895.2 310l-19.4 1.2M895.2 313.5l-19.4 1.2M895.2 316.9l-19.3 1.2M895.2 320.4l-19.3 1.2M895.2 323.9l-19.3 1.2M895.2 327.4l-19.3 1.2M895.2 330.9l-19.3 1.2M895.2 334.3l-19.2 1.2M895.2 337.8l-19.1 1.1M895.2 341.3l-19 1.1M895.2 344.8l-18.8 1.1M895.2 348.3l-18.7 1.1M895.2 351.7l-18.5 1.1M895.2 355.2l-18.3 1.1M895.2 358.7l-18.2 1.1M895.2 362.2l-18 1.1M895.2 365.7l-17.8 1.1M895.2 369.1l-17.7 1.1M895.2 372.6l-17.5 1.1M895.2 376.1l-17.2 1M895.2 379.6l-16.8 1M895.2 383.1l-16.5 1M895.2 386.5l-16.1 1M895.2 390l-15.8 0.9M895.2 393.5l-15.4 0.9M895.2 397l-15.1 0.9M895.2 400.5l-14.3 0.9M895.2 403.9l-13.3 0.8M895.2 407.4l-12.3 0.7M895.2 410.9l-11.4 0.7M895.2 414.4l-10.4 0.6M895.2 417.9l-9.4 0.6M895.2 421.3l-8.3 0.5M895.2 424.8l-7 0.4M895.2 428.3l-5.7 0.3M895.2 431.8l-4.4 0.3M895.2 435.3l-3.1 0.2M895.2 438.7l-1.8 0.1M895.2 442.2l-0.9 0.1M895.2 445.7l-0.7 0M895.2 449.2l-0.6 0M895.2 452.7l-0.5 0M895.2 456.1l-0.4 0M941.7 289.1l-18 1.3M941.7 292.6l-18.1 1.3M941.7 296.1l-18.2 1.3M941.7 299.5l-18.4 1.4M941.7 303l-18.5 1.4M941.7 306.5l-18.6 1.4M941.7 310l-18.8 1.5M941.7 313.5l-18.9 1.5M941.7 316.9l-19 1.6M941.7 320.4l-19.2 1.6M941.7 323.9l-19.3 1.6M941.7 327.4l-19.6 1.7M941.7 330.9l-19.9 1.8M941.7 334.3l-20.1 1.8M941.7 337.8l-20.4 1.9M941.7 341.3l-20.7 2M941.7 344.8l-20.9 2.1M941.7 348.3l-21.2 2.2M941.7 351.7l-21.5 2.3M941.7 355.2l-21.8 2.4M941.7 358.7l-22.4 2.6M941.7 362.2l-23.1 2.7M941.7 365.7l-23.8 2.9M941.7 369.1l-24.5 3.1M941.7 372.6l-25.2 3.4M941.7 376.1l-25.9 3.6M941.7 379.6l-26.6 3.9M941.7 383.1l-26.9 4.1M941.7 386.5l-27.1 4.4M941.7 390l-27.3 4.6M941.7 393.5l-27.5 4.9M941.7 397l-27.7 5.2M941.7 400.5l-27.9 5.5M941.7 403.9l-27.7 5.8M941.7 407.4l-26.7 5.9M941.7 410.9l-25.7 6M941.7 414.4l-24.8 6.1M941.7 417.9l-23.8 6.2M941.7 421.3l-21.6 6M941.7 424.8l-17.2 5.1M941.7 428.3l-12.9 4.1M941.7 431.8l-6.4 2.1M941.7 435.3l-0.4 0.1M941.7 442.2l0.7 -0.2M941.7 445.7l5.4 -1.7M988.1 289.1l-16.1 1.1M988.1 292.6l-16.1 1.1M988.1 296.1l-16.3 1.1M988.1 299.5l-16.4 1.1M988.1 303l-16.6 1.2M988.1 306.5l-16.7 1.2M988.1 310l-16.8 1.2M988.1 313.5l-17 1.2M988.1 316.9l-17.1 1.2M988.1 320.4l-17.2 1.3M988.1 323.9l-17.4 1.3M988.1 327.4l-18 1.4M988.1 330.9l-18.5 1.4M988.1 334.3l-19 1.5M988.1 337.8l-19.5 1.6M988.1 341.3l-20 1.7M988.1 344.8l-20.6 1.7M988.1 348.3l-21.1 1.8M988.1 351.7l-22.2 2M988.1 355.2l-23.2 2.1M988.1 358.7l-24.3 2.3M988.1 362.2l-25.3 2.4M988.1 365.7l-26.3 2.6M988.1 369.1l-27.4 2.8M988.1 372.6l-28.4 3M988.1 376.1l-28.7 3.1M988.1 379.6l-28.9 3.2M988.1 383.1l-29.1 3.4M988.1 386.5l-29.3 3.5M988.1 390l-29.5 3.7M988.1 393.5l-29.7 3.9M988.1 397l-28.6 3.9M988.1 400.5l-26.3 3.8M988.1 403.9l-21.7 3.2M988.1 407.4l-13 2M988.1 410.9l-4.3 0.7M988.1 414.4l-0.5 0.1M988.1 421.3l0.3 0M988.1 424.8l0.3 0M1034.6 289.1l-16.6 1M1034.6 292.6l-16.7 1M1034.6 296.1l-16.8 1M1034.6 299.5l-16.9 1M1034.6 303l-17.1 1M1034.6 306.5l-17.2 1M1034.6 310l-17.3 1M1034.6 313.5l-17.5 1M1034.6 316.9l-17.6 1.1M1034.6 320.4l-17.7 1.1M1034.6 323.9l-17.9 1.1M1034.6 327.4l-18.1 1.1M1034.6 330.9l-18.4 1.1M1034.6 334.3l-18.6 1.1M1034.6 337.8l-18.8 1.1M1034.6 341.3l-19.1 1.1M1034.6 344.8l-19.3 1.2M1034.6 348.3l-19.5 1.2M1034.6 351.7l-19.8 1.2M1034.6 355.2l-20 1.2M1034.6 358.7l-20.2 1.2M1034.6 362.2l-20.6 1.2M1034.6 365.7l-21 1.3M1034.6 369.1l-21.4 1.3M1034.6 372.6l-21.9 1.3M1034.6 376.1l-22.3 1.3M1034.6 379.6l-22.7 1.4M1034.6 383.1l-23.2 1.4M1034.6 386.5l-23.6 1.4M1034.6 390l-24 1.4M1034.6 393.5l-24.5 1.5M1034.6 397l-25 1.5M1034.6 400.5l-25.5 1.5M1034.6 403.9l-26 1.6M1034.6 407.4l-26.5 1.6" stroke="#000" stroke-width="1.35" fill="none"/>
<path d="M779.1 289.7l4.8 -2l0.1 3.8zM779.1 293.1l4.8 -2l0.1 3.8zM779 296.5l4.8 -2l0.1 3.8zM779 299.9l4.8 -2l0.1 3.8zM778.9 303.3l4.8 -2l0 3.8zM778.9 306.7l4.8 -1.9l0 3.8zM778.9 310.1l4.8 -1.9l0 3.8zM778.8 313.5l4.8 -1.9l0 3.8zM778.8 316.8l4.8 -1.9l0 3.8zM778.8 320.2l4.8 -1.9l0 3.8zM778.7 323.5l4.8 -1.8l-0.1 3.8zM778.7 326.9l4.8 -1.8l-0.1 3.8zM778.6 330.2l4.9 -1.8l-0.1 3.8zM778.6 333.5l4.9 -1.7l-0.1 3.8zM778.6 336.8l4.9 -1.7l-0.2 3.8zM778.6 340.1l4.9 -1.6l-0.2 3.8zM778.6 343.3l4.9 -1.6l-0.2 3.8zM778.6 346.6l4.9 -1.6l-0.3 3.8zM778.6 349.8l4.9 -1.5l-0.3 3.8zM778.6 353l5 -1.5l-0.3 3.8zM778.6 356.2l5 -1.4l-0.4 3.8zM778.6 359.4l5 -1.3l-0.4 3.8zM778.6 362.5l5 -1.3l-0.5 3.8zM778.6 365.6l5 -1.2l-0.6 3.8zM778.6 368.7l5 -1.1l-0.6 3.7zM778.7 371.8l5.1 -1l-0.7 3.7zM778.9 374.9l5.1 -0.9l-0.8 3.7zM779.1 377.9l5.1 -0.8l-0.8 3.7zM779.3 380.9l5.1 -0.7l-0.9 3.7zM779.4 383.9l5.1 -0.6l-1 3.7zM779.6 386.8l5.1 -0.5l-1.1 3.6zM779.8 389.7l5.2 -0.3l-1.2 3.6zM780.4 392.7l5.2 -0.2l-1.3 3.6zM781.2 395.7l5.2 0l-1.4 3.5zM781.9 398.7l5.2 0.1l-1.5 3.5zM782.7 401.8l5.2 0.3l-1.6 3.4zM783.4 404.8l5.1 0.5l-1.7 3.4zM786 408.8l5.1 0.7l-1.8 3.3zM789 413.4l5.1 0.8l-2 3.3zM792.1 418.1l5.1 1l-2.1 3.2zM798 425.2l4.8 1.1l-2.2 3.1zM825.3 290.2l4.7 -2.1l0.2 3.8zM825.3 293.7l4.7 -2.1l0.2 3.8zM825.3 297.2l4.7 -2.1l0.2 3.8zM825.3 300.6l4.7 -2.1l0.2 3.8zM825.3 304.1l4.7 -2.1l0.2 3.8zM825.3 307.5l4.7 -2.1l0.2 3.8zM825.3 311l4.7 -2.1l0.2 3.8zM825.3 314.4l4.7 -2.1l0.2 3.8zM825.3 317.8l4.7 -2.1l0.1 3.8zM825.3 321.3l4.7 -2.1l0.1 3.8zM825.3 324.7l4.7 -2.1l0.1 3.8zM825.3 328.2l4.7 -2.1l0.1 3.8zM825.3 331.6l4.7 -2l0.1 3.8zM825.3 335l4.7 -2l0.1 3.8zM825.3 338.4l4.7 -2l0.1 3.8zM825.3 341.8l4.8 -2l0.1 3.8zM825.4 345.3l4.8 -2l0.1 3.8zM825.4 348.7l4.8 -2l0.1 3.8zM825.5 352.1l4.8 -2l0.1 3.8zM825.5 355.4l4.8 -1.9l0 3.8zM825.6 358.8l4.8 -1.9l0 3.8zM825.6 362.2l4.8 -1.9l0 3.8zM825.7 365.6l4.8 -1.9l0 3.8zM825.7 368.9l4.8 -1.9l0 3.8zM825.8 372.3l4.8 -1.8l-0.1 3.8zM826.1 375.7l4.8 -1.8l-0.1 3.8zM826.4 379l4.8 -1.8l-0.1 3.8zM826.8 382.3l4.9 -1.7l-0.1 3.8zM827.1 385.7l4.9 -1.7l-0.2 3.8zM827.5 389l4.9 -1.7l-0.2 3.8zM827.8 392.3l4.9 -1.6l-0.2 3.8zM828.2 395.6l4.9 -1.6l-0.3 3.8zM828.6 398.9l4.9 -1.5l-0.3 3.8zM829.2 402.2l4.9 -1.5l-0.3 3.8zM829.7 405.5l5 -1.4l-0.4 3.8zM830.2 408.8l5 -1.3l-0.4 3.8zM830.7 412.1l5 -1.3l-0.5 3.8zM831.3 415.4l5 -1.2l-0.5 3.8zM831.8 418.7l5 -1.1l-0.6 3.8zM832.6 422l5.1 -1l-0.7 3.7zM833.6 425.4l5.1 -0.9l-0.7 3.7zM834.6 428.7l5.1 -0.8l-0.8 3.7zM835.6 432.1l5.1 -0.7l-0.9 3.7zM836.6 435.6l5.1 -0.6l-1 3.7zM837.9 439.1l5.1 -0.5l-1 3.7zM839.5 442.8l5.1 -0.4l-1.1 3.6zM841 446.5l5.2 -0.2l-1.2 3.6zM870.9 290.6l4.7 -2.2l0.2 3.8zM870.9 294l4.7 -2.2l0.2 3.8zM871 297.5l4.7 -2.2l0.2 3.8zM871 301l4.7 -2.2l0.2 3.8zM871 304.5l4.7 -2.2l0.2 3.8zM871 308l4.7 -2.2l0.2 3.8zM871 311.4l4.7 -2.2l0.2 3.8zM871.1 314.9l4.7 -2.2l0.2 3.8zM871.1 318.4l4.7 -2.2l0.2 3.8zM871.1 321.9l4.7 -2.2l0.2 3.8zM871.1 325.3l4.7 -2.2l0.2 3.8zM871.1 328.8l4.7 -2.2l0.2 3.8zM871.2 332.3l4.7 -2.2l0.2 3.8zM871.2 335.8l4.7 -2.2l0.2 3.8zM871.3 339.3l4.7 -2.2l0.2 3.8zM871.5 342.7l4.7 -2.2l0.2 3.8zM871.6 346.2l4.7 -2.2l0.2 3.8zM871.8 349.7l4.7 -2.2l0.2 3.8zM871.9 353.1l4.7 -2.2l0.2 3.8zM872.1 356.6l4.7 -2.2l0.2 3.8zM872.3 360.1l4.7 -2.2l0.2 3.8zM872.4 363.5l4.7 -2.2l0.2 3.8zM872.6 367l4.7 -2.2l0.2 3.8zM872.7 370.5l4.7 -2.2l0.2 3.8zM872.9 374l4.7 -2.2l0.2 3.8zM873.2 377.4l4.7 -2.2l0.2 3.8zM873.6 380.9l4.7 -2.2l0.2 3.8zM873.9 384.3l4.7 -2.2l0.2 3.8zM874.3 387.8l4.7 -2.2l0.2 3.8zM874.6 391.3l4.7 -2.2l0.2 3.8zM875 394.7l4.7 -2.2l0.2 3.8zM875.3 398.2l4.7 -2.2l0.2 3.8zM876.2 401.6l4.7 -2.2l0.2 3.8zM877.1 405l4.7 -2.2l0.2 3.8zM878.1 408.4l4.7 -2.2l0.2 3.8zM879.1 411.9l4.7 -2.2l0.2 3.8zM880 415.3l4.7 -2.2l0.2 3.8zM881 418.7l4.7 -2.2l0.2 3.8zM882.1 422.1l4.7 -2.2l0.2 3.8zM883.4 425.5l4.7 -2.2l0.2 3.8zM884.7 428.9l4.7 -2.2l0.2 3.8zM886 432.3l4.7 -2.2l0.2 3.8zM887.3 435.7l4.7 -2.2l0.2 3.8zM888.6 439.1l4.7 -2.2l0.2 3.8zM889.6 442.6l4.7 -2.2l0.2 3.8zM890.3 446l4.1 -1.7l0.2 3zM891 449.4l3.5 -1.7l0.2 3zM891.8 452.9l2.8 -1.7l0.2 3zM892.5 456.3l2.2 -1.6l0.2 3zM918.9 290.7l4.7 -2.2l0.3 3.8zM918.8 294.2l4.7 -2.2l0.3 3.8zM918.7 297.8l4.6 -2.2l0.3 3.8zM918.5 301.3l4.6 -2.3l0.3 3.8zM918.4 304.8l4.6 -2.3l0.3 3.8zM918.3 308.3l4.6 -2.3l0.3 3.8zM918.1 311.8l4.6 -2.3l0.3 3.8zM918 315.4l4.6 -2.3l0.3 3.8zM917.9 318.9l4.6 -2.3l0.3 3.8zM917.7 322.4l4.6 -2.3l0.3 3.8zM917.6 326l4.6 -2.3l0.3 3.8zM917.3 329.5l4.6 -2.3l0.3 3.8zM917 333.1l4.6 -2.3l0.3 3.8zM916.8 336.6l4.6 -2.3l0.3 3.8zM916.5 340.2l4.6 -2.3l0.4 3.8zM916.2 343.8l4.6 -2.4l0.4 3.8zM916 347.3l4.6 -2.4l0.4 3.8zM915.7 350.9l4.6 -2.4l0.4 3.8zM915.4 354.5l4.6 -2.4l0.4 3.8zM915.2 358.1l4.6 -2.4l0.4 3.8zM914.5 361.8l4.6 -2.4l0.4 3.8zM913.8 365.5l4.5 -2.5l0.4 3.8zM913.1 369.2l4.5 -2.5l0.5 3.8zM912.4 372.9l4.5 -2.5l0.5 3.8zM911.7 376.6l4.5 -2.5l0.5 3.8zM911 380.4l4.5 -2.5l0.5 3.8zM910.3 384.2l4.5 -2.6l0.5 3.8zM910 387.9l4.5 -2.6l0.6 3.8zM909.8 391.7l4.4 -2.6l0.6 3.8zM909.6 395.4l4.4 -2.7l0.6 3.7zM909.4 399.2l4.4 -2.7l0.7 3.7zM909.2 403l4.4 -2.7l0.7 3.7zM909 406.9l4.3 -2.8l0.7 3.7zM909.3 410.7l4.3 -2.8l0.8 3.7zM910.3 414.3l4.3 -2.9l0.8 3.7zM911.3 418l4.2 -2.9l0.9 3.7zM912.3 421.6l4.2 -3l0.9 3.7zM913.3 425.3l4.2 -3.1l1 3.7zM915.5 428.6l4.1 -3.1l1 3.7zM919.8 431.3l4.1 -3.2l1.1 3.6zM924.2 433.8l4 -3.3l1.1 3.6zM930.8 435.4l3.9 -3.3l1.2 3.6zM938.9 436.3l1.9 -2.3l1 2.8zM946.1 441l-3.3 2.5l-0.8 -2.9zM951.7 442.6l-4 3.3l-1.1 -3.6zM967.3 290.5l4.7 -2.2l0.3 3.8zM967.2 294l4.7 -2.2l0.3 3.8zM967.1 297.5l4.7 -2.2l0.3 3.8zM966.9 301l4.7 -2.2l0.3 3.8zM966.8 304.5l4.7 -2.2l0.3 3.8zM966.7 308l4.7 -2.2l0.3 3.8zM966.5 311.5l4.7 -2.2l0.3 3.8zM966.4 315l4.7 -2.2l0.3 3.8zM966.3 318.5l4.6 -2.2l0.3 3.8zM966.1 322l4.6 -2.2l0.3 3.8zM965.9 325.6l4.6 -2.3l0.3 3.8zM965.4 329.1l4.6 -2.3l0.3 3.8zM964.9 332.7l4.6 -2.3l0.3 3.8zM964.4 336.2l4.6 -2.3l0.3 3.8zM963.8 339.8l4.6 -2.3l0.3 3.8zM963.3 343.3l4.6 -2.3l0.3 3.8zM962.8 346.9l4.6 -2.3l0.3 3.8zM962.2 350.5l4.6 -2.3l0.3 3.8zM961.2 354.1l4.6 -2.3l0.3 3.8zM960.2 357.8l4.6 -2.3l0.3 3.8zM959.1 361.4l4.6 -2.3l0.4 3.8zM958.1 365.1l4.6 -2.3l0.4 3.8zM957 368.7l4.6 -2.4l0.4 3.8zM956 372.4l4.6 -2.4l0.4 3.8zM954.9 376.1l4.6 -2.4l0.4 3.8zM954.7 379.7l4.6 -2.4l0.4 3.8zM954.5 383.4l4.6 -2.4l0.4 3.8zM954.3 387l4.5 -2.4l0.4 3.8zM954.1 390.7l4.5 -2.5l0.5 3.8zM953.9 394.3l4.5 -2.5l0.5 3.8zM953.7 398l4.5 -2.5l0.5 3.8zM954.8 401.6l4.5 -2.5l0.5 3.8zM957.1 404.9l4.5 -2.6l0.5 3.8zM961.7 407.9l4.5 -2.6l0.6 3.8zM970.4 410.2l4.4 -2.6l0.6 3.8zM979.1 412.4l4.4 -2.7l0.6 3.7zM984.9 414.9l2.5 -2l0.5 3zM989.8 421.2l-1.3 1.6l-0.2 -3zM990.4 424.6l-1.8 1.7l-0.2 -3zM1013.2 290.4l4.7 -2.2l0.2 3.8zM1013.1 293.9l4.7 -2.2l0.2 3.8zM1013 297.4l4.7 -2.2l0.2 3.8zM1012.9 300.8l4.7 -2.2l0.2 3.8zM1012.7 304.3l4.7 -2.2l0.2 3.8zM1012.6 307.8l4.7 -2.2l0.2 3.8zM1012.5 311.3l4.7 -2.2l0.2 3.8zM1012.3 314.8l4.7 -2.2l0.2 3.8zM1012.2 318.3l4.7 -2.2l0.2 3.8zM1012.1 321.8l4.7 -2.2l0.2 3.8zM1011.9 325.3l4.7 -2.2l0.2 3.8zM1011.7 328.8l4.7 -2.2l0.2 3.8zM1011.4 332.2l4.7 -2.2l0.2 3.8zM1011.2 335.7l4.7 -2.2l0.2 3.8zM1011 339.2l4.7 -2.2l0.2 3.8zM1010.7 342.7l4.7 -2.2l0.2 3.8zM1010.5 346.2l4.7 -2.2l0.2 3.8zM1010.3 349.7l4.7 -2.2l0.2 3.8zM1010.1 353.2l4.7 -2.2l0.2 3.8zM1009.8 356.7l4.7 -2.2l0.2 3.8zM1009.6 360.2l4.7 -2.2l0.2 3.8zM1009.3 363.7l4.7 -2.2l0.2 3.8zM1008.8 367.2l4.7 -2.2l0.2 3.8zM1008.4 370.7l4.7 -2.2l0.2 3.8zM1008 374.2l4.7 -2.2l0.2 3.8zM1007.5 377.7l4.7 -2.2l0.2 3.8zM1007.1 381.2l4.7 -2.2l0.2 3.8zM1006.6 384.7l4.7 -2.2l0.2 3.8zM1006.2 388.2l4.7 -2.2l0.2 3.8zM1005.8 391.7l4.7 -2.2l0.2 3.8zM1005.3 395.3l4.7 -2.2l0.2 3.8zM1004.8 398.8l4.7 -2.2l0.2 3.8zM1004.3 402.3l4.7 -2.2l0.2 3.8zM1003.8 405.8l4.7 -2.2l0.2 3.8zM1003.3 409.3l4.7 -2.2l0.2 3.8z" fill="#000"/>
<path d="M848.1 452.7h0.1M940.9 438.7h0.1M987.7 417.9h0.1" stroke="#000" stroke-width="1.6" stroke-linecap="round" fill="none"/>
<path d="M755.8 414.9L757.8 415L759.8 415.1L761.8 415.3L763.8 415.5L765.8 415.9L767.8 416.3L769.8 416.8L771.8 417.3L773.8 417.9L775.8 418.6L777.7 419.3L779.7 420.1L781.7 420.9L783.7 421.8L785.7 422.8L787.7 423.8L789.7 424.8L791.7 425.8L793.7 426.9L795.7 428L797.7 429.2L799.6 430.4L801.6 431.5L803.6 432.7L805.6 433.9L807.6 435.1L809.6 436.3L811.6 437.5L813.6 438.7L815.6 439.9L817.6 441.1L819.6 442.2L821.5 443.4L823.5 444.5L825.5 445.6L827.5 446.6L829.5 447.6L831.5 448.6L833.5 449.6L835.5 450.5L837.5 451.4L839.5 452.3L841.5 453.1L843.5 453.9L845.4 454.7L847.4 455.4L849.4 456.1L851.4 456.7L853.4 457.3L855.4 457.8L857.4 458.4L859.4 458.9L861.4 459.3L863.4 459.7L865.4 460.1L867.3 460.5L869.3 460.8L871.3 461.1L873.3 461.4L875.3 461.6L877.3 461.9L879.3 462L881.3 462.2L883.3 462.4L885.3 462.5L887.3 462.6L889.2 462.6L891.2 462.7L893.2 462.7L895.2 462.7L897.2 462.7L899.2 462.7L901.2 462.6L903.2 462.6L905.2 462.5L907.2 462.4L909.2 462.2L911.1 462L913.1 461.9L915.1 461.6L917.1 461.4L919.1 461.1L921.1 460.8L923.1 460.5L925.1 460.1L927.1 459.7L929.1 459.3L931.1 458.9L933.1 458.4L935 457.8L937 457.3L939 456.7L941 456.1L943 455.4L945 454.7L947 453.9L949 453.1L951 452.3L953 451.4L955 450.5L956.9 449.6L958.9 448.6L960.9 447.6L962.9 446.6L964.9 445.6L966.9 444.5L968.9 443.4L970.9 442.2L972.9 441.1L974.9 439.9L976.9 438.7L978.8 437.5L980.8 436.3L982.8 435.1L984.8 433.9L986.8 432.7L988.8 431.5L990.8 430.4L992.8 429.2L994.8 428L996.8 426.9L998.8 425.8L1000.8 424.8L1002.7 423.8L1004.7 422.8L1006.7 421.8L1008.7 420.9L1010.7 420.1L1012.7 419.3L1014.7 418.6L1016.7 417.9L1018.7 417.3L1020.7 416.8L1022.7 416.3L1024.6 415.9L1026.6 415.5L1028.6 415.3L1030.6 415.1L1032.6 415L1034.6 414.9" stroke="#000" stroke-width="1.7" fill="none"/>
</g>
<rect x="755.5" y="288.3" width="279.8" height="173" fill="none" stroke="#000" stroke-width="2.9"/>
<line x1="1036.7" y1="442.1" x2="1047.8" y2="442.1" stroke="#000" stroke-width="1.3"/>
<text x="1059.6" y="450.5" font-size="25">0</text>
<line x1="1036.7" y1="395.4" x2="1047.8" y2="395.4" stroke="#000" stroke-width="1.3"/>
<text x="1059.6" y="403.8" font-size="25">1</text>
<line x1="1036.7" y1="348.6" x2="1047.8" y2="348.6" stroke="#000" stroke-width="1.3"/>
<text x="1059.6" y="357" font-size="25">2</text>
<line x1="1036.7" y1="301.9" x2="1047.8" y2="301.9" stroke="#000" stroke-width="1.3"/>
<text x="1059.6" y="310.3" font-size="25">3</text>
<text x="1094.79" y="373.43" font-size="28.6" font-style="italic">y</text>
<path d="M1108.40 379.60L1118.50 353.80" stroke="#000" stroke-width="1.5"/>
<text x="1121.33" y="373.17" font-size="27.32" font-style="italic">η</text>
<defs><clipPath id="tlp2"><rect x="0" y="-5" width="282.42" height="190"/></clipPath>
<g id="lp2" clip-path="url(#tlp2)"><g transform="scale(0.5)" stroke="#000" stroke-width="2" stroke-linejoin="round" fill-rule="evenodd">
<path d="M379 188l4-1l16 1l5-1l16 11l9-2l6 1l7 4l8-2l3 1l4 7l5 2l14 3l11-1l8 4l10 1l3 3l3 9l-1 7l3 9l5-1l28-1l14 1l23 4l2 1l0 14l-3 0l-1-1l-31 0l-2 1l-7 0l-1 1l-10 2l-1 1l-3 0l-1 2l-3 0l-1 1l-13 3l-53 18l-13 6l-15 10l-13 5l-17 9l-22 7l-23 5l-15 1l-13 5l-16 4l-3 1l-6 7l-46 0l-1-1l-14 0l-2-2l-10 0l-1-1l-7 0l-1-1l-6 0l-1-2l-6 0l-1-1l-10-2l-2-1l-2 0l-2-1l-7-2l-1-1l-7-2l-4-2l-3 0l-2-2l-1 0l-1-1l-3 0l-27-14l-7-3l-3-3l-7-3l-2-2l-7-3l-6-4l-4-2l-3-3l-10-4l-3-3l-4-1l-18-10l-3 0l-4-3l-3 0l-4-2l-7-2l-1-1l-5 0l-1-2l-4 0l-2-1l-7 0l-1-1l-31 0l-1 1l-3 0l0-20l14 1l29 6l23 8l25 13l53 30l34 17l17 7l17 5l11 3l5 0l2 1l5 0l2 2l5 0l-7-4l1-10l-4-9l2-5l7-3l1-1l1-3l-1-6l-5-7l-1-5l1-3l6-7l2-10l4-3l4-5l3-2l3 0l6 5l7-2l2-1l2-2l1-4l-1-8l1-5l6-8l8-3l3-5l2-2l15-3l12-8l5-1l4 0l5 5l3 0l10-4l8-8l10-1l9-5l8-3l8 0z" fill="#fff4f4"/>
<path d="M386 208l4 0l16 2l19 9l9 1l16 5l10 0l9 7l19 5l1 4l-1 7l23-3l35-2l9 1l30 5l0 13l-3 0l-1-1l-31 0l-2 1l-7 0l-1 1l-10 2l-1 1l-3 0l-1 2l-14 2l-68 22l-9 4l-8 7l-16 5l-13 7l-11 3l-10 5l-9 2l-16 3l-15 0l-13 3l-10 0l-8 2l-10-1l-18 2l-6-1l-13-4l-2-4l-9-4l0-3l9-8l2-3l3-14l-2-11l2-10l3-4l12-10l3-9l6-2l11-6l5-7l7-4l7-5l9-1l9-6l10-1l7-4l5 3l4 0l9-4l8 0zM-19 243l10 1l24 4l11 2l16 6l36 18l67 37l23 10l18 7l31 7l29 4l25 1l9 1l15-4l2 2l1 4l-3 4l-4 3l-38 0l-1-1l-14 0l-2-2l-10 0l-1-1l-7 0l-1-1l-6 0l-1-2l-6 0l-1-1l-10-2l-2-1l-2 0l-2-1l-7-2l-1-1l-7-2l-4-2l-3 0l-2-2l-1 0l-1-1l-3 0l-27-14l-7-3l-3-3l-7-3l-2-2l-7-3l-6-4l-4-2l-3-3l-10-4l-3-3l-4-1l-18-10l-3 0l-4-3l-3 0l-4-2l-7-2l-1-1l-5 0l-1-2l-4 0l-2-1l-7 0l-1-1l-31 0l-1 1l-3 0l0-19z" fill="#ffeaea"/>
<path d="M379 220l10 2l12 0l33 9l9 4l18 6l5 4l1 6l23-2l12-2l17-2l35-1l31 5l0 13l-3 0l-1-1l-31 0l-2 1l-7 0l-1 1l-4 0l-2 2l-4 0l-1 1l-18 4l-21 7l-61 15l-9 6l-14 6l-10 7l-11 3l-14 5l-26 4l-36 1l-17-1l-18-1l0-3l2-7l-4-14l0-12l3-7l6-10l7-7l12-8l16-14l7-3l7-4l10-2l10-5l15-1l8-4zM-19 244l10 0l23 4l14 3l14 6l32 15l71 40l23 10l18 6l17 5l21 4l56 5l11-1l4 2l-3 4l-5 3l-34 0l-1-1l-14 0l-2-2l-10 0l-1-1l-7 0l-1-1l-6 0l-1-2l-6 0l-1-1l-10-2l-2-1l-2 0l-2-1l-7-2l-1-1l-7-2l-4-2l-3 0l-2-2l-1 0l-1-1l-3 0l-27-14l-7-3l-3-3l-7-3l-2-2l-7-3l-6-4l-4-2l-3-3l-10-4l-3-3l-4-1l-18-10l-3 0l-4-3l-3 0l-4-2l-7-2l-1-1l-5 0l-1-2l-4 0l-2-1l-7 0l-1-1l-31 0l-1 1l-3 0l0-18z" fill="#ffdfdf"/>
<path d="M375 230l22 0l24 5l8 5l10 3l9 3l5 3l1 3l3 1l14 0l19-2l21-4l26-2l16 0l19 2l13 3l0 12l-3 0l-1-1l-31 0l-2 1l-7 0l-1 1l-4 0l-2 2l-4 0l-1 1l-16 2l-23 8l-14 3l-26 5l-21 3l-8 4l-11 7l-9 3l-9 6l-9 2l-8 4l-10 1l-7 2l-17 2l-19 0l-24-1l-8-2l-1-15l0-14l4-14l8-4l5-5l9-10l10-8l22-10zM-19 245l10 0l24 4l13 3l14 5l32 16l73 40l21 9l18 7l17 4l19 4l58 6l8 0l4 2l-9 5l-30 0l-1-1l-14 0l-2-2l-10 0l-1-1l-7 0l-1-1l-6 0l-1-2l-6 0l-1-1l-10-2l-2-1l-2 0l-2-1l-7-2l-1-1l-7-2l-4-2l-3 0l-2-2l-1 0l-1-1l-3 0l-27-14l-7-3l-3-3l-7-3l-2-2l-7-3l-6-4l-4-2l-3-3l-10-4l-3-3l-4-1l-18-10l-3 0l-4-3l-3 0l-4-2l-7-2l-1-1l-5 0l-1-2l-4 0l-2-1l-7 0l-1-1l-31 0l-1 1l-3 0l0-17z" fill="#ffd4d4"/>
<path d="M369 237l21-1l14 2l35 13l7 4l7 1l17-1l45-8l29-1l13 0l28 5l0 11l-3 0l-1-1l-31 0l-2 1l-7 0l-1 1l-4 0l-1 1l-19 3l-26 8l-21 4l-26 3l-14-1l-8 6l-7 3l-7 5l-8 3l-7 5l-9 2l-8 4l-9 1l-8 2l-14 2l-18-1l-25-2l-2-4l0-20l0-3l7-12l9-6l8-10l15-11l12-4zM-19 246l10 0l24 4l13 3l14 5l32 15l71 40l21 9l17 6l18 6l18 3l66 7l2 1l1 1l-7 4l-28 0l-1-1l-14 0l-2-2l-10 0l-1-1l-7 0l-1-1l-6 0l-1-2l-6 0l-1-1l-10-2l-2-1l-2 0l-2-1l-7-2l-1-1l-7-2l-4-2l-3 0l-2-2l-1 0l-1-1l-3 0l-27-14l-7-3l-3-3l-7-3l-2-2l-7-3l-6-4l-4-2l-3-3l-10-4l-3-3l-4-1l-18-10l-3 0l-4-3l-3 0l-4-2l-7-2l-1-1l-5 0l-1-2l-4 0l-2-1l-7 0l-1-1l-31 0l-1 1l-3 0l0-16z" fill="#ffc9c9"/>
<path d="M371 242l16 0l14 2l10 3l18 8l10 4l4 0l21-1l37-8l12-2l30-2l12 1l30 4l0 11l-3 0l-1-1l-31 0l-2 1l-7 0l-1 1l-24 3l-26 8l-21 4l-20 2l-20-2l-5 2l-7 5l-8 4l-5 4l-8 3l-7 5l-7 1l-7 3l-7 1l-9 2l-15 1l-22 0l-10-2l-2-13l0-10l5-11l8-5l6-7l12-10l14-5zM-19 246l12 1l22 3l13 3l14 5l32 16l71 39l20 9l18 7l18 5l18 4l49 5l18 3l-5 3l-5 1l-23 0l-1-1l-14 0l-2-2l-10 0l-1-1l-7 0l-1-1l-6 0l-1-2l-6 0l-1-1l-10-2l-2-1l-2 0l-2-1l-7-2l-1-1l-7-2l-4-2l-3 0l-2-2l-1 0l-1-1l-3 0l-27-14l-7-3l-3-3l-7-3l-2-2l-7-3l-6-4l-4-2l-3-3l-10-4l-3-3l-4-1l-18-10l-3 0l-4-3l-3 0l-4-2l-7-2l-1-1l-5 0l-1-2l-4 0l-2-1l-7 0l-1-1l-31 0l-1 1l-3 0l0-16z" fill="#ffbfbf"/>
<path d="M383 247l13 1l10 2l17 8l4 3l2 14l-40 22l-14 5l-25 3l-13 0l-14-1l-4-1l0-19l3-8l1-2l7-5l8-9l6-4l14-6l15-3zM-19 247l12 1l22 3l13 3l14 5l32 15l71 40l20 9l17 6l16 5l19 4l51 6l9 1l5 2l-12 3l-17 0l-1-1l-14 0l-2-2l-10 0l-1-1l-7 0l-1-1l-6 0l-1-2l-6 0l-1-1l-10-2l-2-1l-2 0l-2-1l-7-2l-1-1l-7-2l-4-2l-3 0l-4-3l-3 0l-30-16l-1 0l-6-4l-7-3l-2-2l-7-3l-3-3l-7-3l-3-3l-10-4l-3-3l-4-1l-18-10l-3 0l-4-3l-3 0l-4-2l-7-2l-1-1l-5 0l-1-2l-4 0l-2-1l-7 0l-1-1l-31 0l-1 1l-3 0l0-15zM533 248l21-1l31 5l0 10l-3 0l-1-1l-31 0l-1 1l-30 3l-29 8l-27 4l-20 0l-13-2l5-7l13-5l53-12z" fill="#ffb4b4"/>
<path d="M-19 248l12 1l22 3l14 3l14 5l32 16l70 38l20 9l17 7l16 4l19 4l47 6l16 3l-17 3l-10 0l-1-1l-15 0l-1-2l-8 0l-3-1l-6 0l-2-1l-6-1l-1-1l-10-1l-16-5l-1-1l-2 0l-19-7l-21-10l-27-14l-35-21l-22-11l-13-4l-1-1l-7-2l-1-1l-5-1l-1-1l-4 0l-2-1l-7 0l-1-1l-31 0l-4 0l0-13zM546 248l25 2l14 3l0 9l-3 0l-1-1l-31 0l-30 3l-29 8l-15 2l-20 2l-16-1l0-2l4-3l9-4l46-14l17-2zM372 252l13-1l8 1l17 5l10 6l2 13l-35 18l-12 5l-21 3l-18-1l-8-1l-1-14l2-7l2-4l6-5l5-5l7-6l12-5z" fill="#ffa9a9"/>
<path d="M-19 249l12 0l22 3l14 4l14 5l31 14l71 40l20 9l17 6l16 5l19 4l21 3l22 2l17 3l-17 3l-28-3l-27-4l-23-7l-19-7l-21-10l-63-35l-22-11l-14-5l-8-3l-20-4l-21-1l-14 1l0-12zM537 249l18 0l30 4l0 9l-4-1l-21-1l-21 1l-23 3l-26 7l-26 3l-16-1l5-4l10-4l36-12l17-2zM372 256l11-1l9 1l14 5l8 5l2 10l-23 13l-17 7l-19 2l-22-1l-1-14l3-7l17-14l10-4z" fill="#ff9e9e"/>
<path d="M-19 250l12 0l22 3l14 3l14 5l31 15l71 39l18 9l19 7l16 4l19 4l21 3l22 2l14 3l-14 2l-29-2l-26-5l-23-7l-20-7l-21-10l-66-36l-29-14l-16-5l-15-3l-20-1l-15 1l0-10zM532 251l21-1l28 3l4 1l0 7l-25-2l-21 1l-21 3l-28 8l-20 1l-14 0l1-2l2-1l13-6l27-9l16-2zM372 260l11 0l11 2l6 2l7 4l2 8l-1 1l-6 3l-12 7l-14 6l-15 2l-17-1l-2-1l0-7l0-4l2-5l13-11l8-4z" fill="#ff9494"/>
<path d="M-19 250l34 3l14 4l14 5l31 14l71 40l18 8l19 7l16 5l19 4l21 3l22 2l11 2l-11 2l-32-3l-25-5l-23-7l-18-6l-21-10l-63-35l-27-13l-16-6l-17-4l-23-2l-15 1l0-9zM540 251l15 0l28 3l2 0l0 6l-16-1l-21 0l-28 3l-30 8l-20 1l-5-1l-1-1l13-6l22-8l17-2zM373 264l9 0l14 4l5 2l1 7l-15 9l-11 4l-17 2l-7-1l-2-1l-1-7l2-6l10-8l7-3z" fill="#ff8989"/>
<path d="M-19 251l34 3l14 3l14 5l31 15l71 39l18 9l19 7l16 5l19 3l21 3l22 2l7 2l-13 1l-29-3l-24-5l-21-6l-18-7l-21-10l-63-35l-28-13l-17-6l-17-4l-21-1l-15 0l0-7zM534 252l17-1l25 3l9 1l0 5l-16-2l-21 0l-28 3l-30 8l-17 0l-2-1l30-12zM375 269l5 0l10 2l4 2l1 4l-1 2l-18 8l-12 2l-5-1l-2-1l0-5l2-5l7-5z" fill="#ff7e7e"/>
<path d="M-19 252l34 3l14 3l14 5l31 14l57 33l17 8l34 14l32 9l18 2l28 3l3 1l-16 0l-25-3l-21-4l-21-7l-18-6l-21-10l-63-35l-29-14l-16-6l-17-3l-21-2l-15 0l0-5zM543 252l12 0l24 3l6 1l0 3l-25-2l-20 1l-21 3l-28 6l-14 1l0-2l1 0l23-9zM373 274l6 0l4 1l3 1l1 3l-11 5l-10 0l-1-2l1-3z" fill="#ff7373"/>
<path d="M-19 253l26 1l12 2l16 4l18 8l-2 0l-18-6l-18-4l-21-2l-14 1l0-4zM537 254l14-1l21 1l13 2l0 2l-24-2l-20 1l-22 3l-20 5l-9 1l-9 0l20-8zM54 268l2 2l-3-1zM57 270l2 0l-3 0zM60 271l2 1l-3 0zM63 273l2 0l-3 0zM65 274l2 1l-2 0zM68 275l2 1l-2 0zM71 277l2 0l-2 1l-1-1zM74 278l2 1l-3 0zM77 280l1 1l-2-1zM79 281l2 1l-3 0zM82 282l1 1l-1 1l-1-1zM84 284l2 0l-1 1zM86 285l2 1l-2 0zM89 287l2 0l-2 0zM92 288l1 1l-2 0zM95 290l1 0l-1 1l-1-1zM99 292l1 1l-1 0zM102 294l1 0l-2 0zM105 295l0 1l-2 0zM109 298l1 0l-2 0zM112 299l1 1l-2 0zM114 301l0 1l-1-1zM119 304l1 0l-2 0zM121 305l1 0l-1 0zM124 306l1 1l-2 0zM134 312l1 0l-2 0zM137 313l1 1l-2 0zM140 315l1 0l-2 0zM142 316l1 1l-1 0zM145 318l1 0l-2 0zM148 319l1 0l-2 0zM151 320l1 1l-2 0zM161 325l1 0l-2 0zM168 327l0 1l-2 0zM170 329l2 0l-2 0zM175 330l1 1l-2 0zM179 332l1 0l-3 0zM187 334l1 1l-2 0zM191 336l2 0l-2 0zM222 343l5 0l-6 0zM243 346l11 0l-11 0z" fill="#ff6969"/>
<path d="M-19 254l25 1l-26 1l0-2zM547 254l23 1l-31 1l-23 4l-17 4l-9 1l-3 0l14-6zM576 256l5 0l-6 0zM21 258l2 0l-3 0z" fill="#ff5e5e"/>
<path d="M516 258l5 0l-6 0zM506 259l6-1l2 1l-15 4l-6 0l6-3z" fill="#ff0000"/>
<path d="M299 70l3 0l13 6l15 3l6 4l8 0l6 10l7 4l7 0l4 2l2 5l-1 11l10 13l2 4l-1 3l-1 2l-6 3l1 4l-1 3l-4 5l-10 3l-7 7l-4 0l-5-1l-3 1l-5 8l-4 2l-9 6l-11 3l-6 5l-17 3l-6-3l-5-5l-3 0l-6 3l-1 5l-1 2l-20 7l-7 5l-10 6l-7 1l-8 7l-7-1l-3-10l-8-4l-3-3l0-4l2-7l-1-5l-7 2l-6-8l1-5l-1-2l1-2l2-1l3-6l6-5l1-3l-3-3l-2-1l-7 4l-5 0l-1-2l1-2l4-3l8 0l7-11l17-16l3-5l2-2l4 0l1-1l-1-4l2-5l9-5l6 0l3-2l3-7l5-1l6 4l3 1l2-2l2-4l0 1l4 2l8 1l2-2l7-11l3-2l7 1l3-4zM244 179l-1 2l2 1l3 0l-2-3zM516 270l2 0l-3 0zM511 272l4-1l-4 2l-3 0l-21 11l-2 0l-2 3l-10 4l-3 3l-7 3l-6 4l-4 2l-3 2l-7 3l-2 3l-5 1l-29 16l-3 0l-4 3l-3 0l-4 2l-7 2l-1 1l-7 2l-2 1l-3 0l-1 1l-10 2l-1 1l-6 0l-1 2l-6 0l-1 1l-7 0l-2 1l-9 0l-2 2l-14 0l-1 1l-5 0l3-2l10-4l20-6l24-4l17-5l13-4l33-15l39-23z" fill="#f4f4ff"/>
<path d="M512 272l2-1l-3 2l-3 0l-21 11l-2 0l-2 3l-10 4l-3 3l-7 3l-6 4l-4 2l-3 2l-7 3l-2 3l-5 1l-29 16l-3 0l-4 3l-3 0l-4 2l-7 2l-1 1l-7 2l-2 1l-3 0l-1 1l-10 2l-1 1l-6 0l-1 2l-6 0l-1 1l-7 0l-2 1l-9 0l-2 2l-10 0l23-8l24-4l33-11l30-14l49-28z" fill="#eaeaff"/>
<path d="M505 275l2-1l-20 10l-2 0l-2 3l-10 4l-3 3l-7 3l-6 4l-4 2l-3 2l-7 3l-2 3l-5 1l-29 16l-3 0l-1 1l-2 0l-1 2l-3 0l-4 2l-7 2l-1 1l-7 2l-2 1l-3 0l-1 1l-10 2l-1 1l-6 0l-1 2l-6 0l-1 1l-7 0l-2 1l-9 0l-2 2l-3 0l16-6l34-7l25-8l30-14l54-31z" fill="#dfdfff"/>
<path d="M499 277l3-1l-15 8l-2 0l-2 3l-10 4l-3 3l-7 3l-6 4l-4 2l-3 2l-7 3l-2 3l-5 1l-29 16l-3 0l-1 1l-2 0l-1 2l-3 0l-4 2l-7 2l-1 1l-7 2l-2 1l-3 0l-1 1l-10 2l-1 1l-6 0l-1 2l-6 0l-1 1l-7 0l-2 1l-5 0l7-2l35-7l24-9l30-14l48-27l12-6z" fill="#d4d4ff"/>
<path d="M492 281l1 0l-1 1zM480 288l1 0l-2 1zM477 290l1-1l-2 1zM352 344l2 0l-3 1zM344 346l3 0l-4 0z" fill="#c9c9ff"/>
</g>
<path d="M-10 131L-7.5 130.6L-5 130.3L-2.4 130.2L0.1 130.1L2.6 130.2L5.1 130.3L7.6 130.6L10.2 131L12.7 131.5L15.2 132.2L17.7 132.9L20.2 133.7L22.8 134.6L25.3 135.6L27.8 136.6L30.3 137.8L32.8 139L35.4 140.3L37.9 141.6L40.4 142.9L42.9 144.3L45.4 145.7L48 147.2L50.5 148.6L53 150.1L55.5 151.5L58 152.9L60.6 154.4L63.1 155.7L65.6 157.1L68.1 158.4L70.6 159.7L73.2 161L75.7 162.2L78.2 163.3L80.7 164.4L83.2 165.4L85.8 166.4L88.3 167.3L90.8 168.2L93.3 169L95.8 169.7L98.4 170.4L100.9 171.1L103.4 171.7L105.9 172.2L108.4 172.7L111 173.1L113.5 173.5L116 173.8L118.5 174.1L121 174.4L123.6 174.6L126.1 174.8L128.6 175L131.1 175.1L133.6 175.2L136.2 175.2L138.7 175.3L141.2 175.3L143.7 175.3L146.3 175.2L148.8 175.2L151.3 175.1L153.8 175L156.3 174.8L158.9 174.6L161.4 174.4L163.9 174.1L166.4 173.8L168.9 173.5L171.5 173.1L174 172.7L176.5 172.2L179 171.7L181.5 171.1L184.1 170.4L186.6 169.7L189.1 169L191.6 168.2L194.1 167.3L196.7 166.4L199.2 165.4L201.7 164.4L204.2 163.3L206.7 162.2L209.3 161L211.8 159.7L214.3 158.4L216.8 157.1L219.3 155.7L221.9 154.4L224.4 152.9L226.9 151.5L229.4 150.1L231.9 148.6L234.5 147.2L237 145.7L239.5 144.3L242 142.9L244.5 141.6L247.1 140.3L249.6 139L252.1 137.8L254.6 136.6L257.1 135.6L259.7 134.6L262.2 133.7L264.7 132.9L267.2 132.2L269.7 131.5L272.3 131L274.8 130.6L277.3 130.3L279.8 130.2L282.3 130.1L284.9 130.2L287.4 130.3L289.9 130.6L292.4 131" fill="none" stroke="#000" stroke-width="1.2"/>
</g>
<clipPath id="clp2"><rect x="184.5" y="465.4" width="565" height="175.1"/></clipPath></defs>
<g clip-path="url(#clp2)">
<use href="#lp2" transform="translate(184.7 463.94)"/>
<use href="#lp2" transform="translate(467.12 463.94)"/>
</g>
<rect x="184.5" y="465.4" width="565" height="175.1" fill="none" stroke="#000" stroke-width="3"/>
<clipPath id="rc2"><rect x="755.5" y="466.5" width="280" height="173.1"/></clipPath>
<g clip-path="url(#rc2)">
<path d="M802.3 467.3l-13.2 1.1M802.3 470.8l-13.2 1.1M802.3 474.3l-13.2 1M802.3 477.7l-13.1 1M802.3 481.2l-13.1 0.9M802.3 484.7l-13 0.9M802.3 488.2l-13 0.8M802.3 491.7l-13 0.8M802.3 495.1l-12.9 0.7M802.3 498.6l-12.9 0.6M802.3 502.1l-12.8 0.6M802.3 505.6l-12.8 0.5M802.3 509.1l-12.8 0.4M802.3 512.5l-12.7 0.3M802.3 516l-12.6 0.2M802.3 519.5l-12.5 0.1M802.3 523l-12.4 0M802.3 526.5l-12.3 -0.1M802.3 529.9l-12.2 -0.3M802.3 533.4l-12.1 -0.4M802.3 536.9l-11.9 -0.5M802.3 540.4l-11.8 -0.7M802.3 543.9l-11.7 -0.8M802.3 547.3l-11.6 -1M802.3 550.8l-11.5 -1.2M802.3 554.3l-11.3 -1.4M802.3 557.8l-11.2 -1.6M802.3 561.3l-11 -1.8M802.3 564.7l-10.9 -2M802.3 568.2l-10.7 -2.2M802.3 571.7l-10.6 -2.5M802.3 575.2l-10.4 -2.8M802.3 578.7l-10 -3M802.3 582.1l-9.5 -3.1M802.3 585.6l-9.1 -3.3M802.3 589.1l-8.7 -3.5M802.3 592.6l-8.2 -3.7M802.3 596.1l-6.8 -3.3M802.3 599.5l-5.1 -2.8M802.3 603l-3.5 -2.1M802.3 606.5l-0.6 -0.4M848.8 467.3l-12 1.3M848.8 470.8l-12 1.3M848.8 474.3l-12 1.3M848.8 477.7l-11.9 1.3M848.8 481.2l-11.9 1.2M848.8 484.7l-11.8 1.2M848.8 488.2l-11.8 1.2M848.8 491.7l-11.8 1.2M848.8 495.1l-11.7 1.2M848.8 498.6l-11.7 1.1M848.8 502.1l-11.7 1.1M848.8 505.6l-11.6 1.1M848.8 509.1l-11.6 1.1M848.8 512.5l-11.5 1M848.8 516l-11.5 1M848.8 519.5l-11.4 0.9M848.8 523l-11.3 0.9M848.8 526.5l-11.3 0.9M848.8 529.9l-11.2 0.8M848.8 533.4l-11.1 0.8M848.8 536.9l-11 0.7M848.8 540.4l-11 0.7M848.8 543.9l-10.9 0.6M848.8 547.3l-10.8 0.6M848.8 550.8l-10.8 0.5M848.8 554.3l-10.6 0.4M848.8 557.8l-10.4 0.4M848.8 561.3l-10.2 0.3M848.8 564.7l-10.1 0.2M848.8 568.2l-9.9 0.1M848.8 571.7l-9.7 0M848.8 575.2l-9.5 -0.1M848.8 578.7l-9.1 -0.2M848.8 582.1l-8.6 -0.2M848.8 585.6l-8 -0.3M848.8 589.1l-7.5 -0.4M848.8 592.6l-7 -0.5M848.8 596.1l-6.5 -0.5M848.8 599.5l-6 -0.6M848.8 603l-5.1 -0.6M848.8 606.5l-4.1 -0.6M848.8 610l-3.2 -0.5M848.8 613.5l-2.2 -0.4M848.8 616.9l-1.2 -0.2M848.8 620.4l-0.7 -0.2M848.8 623.9l-0.5 -0.1M848.8 627.4l-0.4 -0.1M895.2 467.3l-11.3 1.4M895.2 470.8l-11.3 1.4M895.2 474.3l-11.4 1.4M895.2 477.7l-11.4 1.4M895.2 481.2l-11.5 1.4M895.2 484.7l-11.5 1.4M895.2 488.2l-11.5 1.4M895.2 491.7l-11.6 1.4M895.2 495.1l-11.6 1.4M895.2 498.6l-11.7 1.4M895.2 502.1l-11.7 1.4M895.2 505.6l-11.7 1.4M895.2 509.1l-11.8 1.4M895.2 512.5l-11.8 1.4M895.2 516l-12.1 1.4M895.2 519.5l-12.4 1.5M895.2 523l-12.8 1.5M895.2 526.5l-13.1 1.6M895.2 529.9l-13.4 1.6M895.2 533.4l-13.8 1.7M895.2 536.9l-14.3 1.7M895.2 540.4l-14.8 1.8M895.2 543.9l-15.3 1.8M895.2 547.3l-15.8 1.9M895.2 550.8l-16.3 2M895.2 554.3l-16.1 1.9M895.2 557.8l-15.9 1.9M895.2 561.3l-15.8 1.9M895.2 564.7l-15.6 1.9M895.2 568.2l-15.4 1.9M895.2 571.7l-15.2 1.8M895.2 575.2l-15.1 1.8M895.2 578.7l-14.4 1.7M895.2 582.1l-13.7 1.6M895.2 585.6l-12.9 1.6M895.2 589.1l-12.2 1.5M895.2 592.6l-11.4 1.4M895.2 596.1l-9.3 1.1M895.2 599.5l-7 0.8M895.2 603l-4.7 0.6M895.2 606.5l-2.4 0.3M895.2 610l-0.8 0.1M895.2 613.5l-0.5 0.1M895.2 616.9l-0.3 0M895.2 634.3l0.3 0M941.7 467.3l-11.1 1.5M941.7 470.8l-11.2 1.5M941.7 474.3l-11.2 1.5M941.7 477.7l-11.3 1.5M941.7 481.2l-11.4 1.5M941.7 484.7l-11.5 1.6M941.7 488.2l-11.6 1.6M941.7 491.7l-11.6 1.6M941.7 495.1l-11.7 1.7M941.7 498.6l-11.8 1.7M941.7 502.1l-12 1.7M941.7 505.6l-12.5 1.8M941.7 509.1l-13 1.9M941.7 512.5l-13.6 2.1M941.7 516l-14.1 2.2M941.7 519.5l-14.6 2.3M941.7 523l-15.1 2.4M941.7 526.5l-15.7 2.6M941.7 529.9l-16.3 2.7M941.7 533.4l-17 2.9M941.7 536.9l-17.6 3.1M941.7 540.4l-18.3 3.3M941.7 543.9l-19 3.5M941.7 547.3l-19.4 3.7M941.7 550.8l-19.6 3.8M941.7 554.3l-19.8 4M941.7 557.8l-20 4.1M941.7 561.3l-20.2 4.3M941.7 564.7l-20.4 4.5M941.7 568.2l-20.6 4.7M941.7 571.7l-20.1 4.8M941.7 575.2l-19.5 4.8M941.7 578.7l-18.9 4.9M941.7 582.1l-18.4 4.9M941.7 585.6l-15.8 4.4M941.7 589.1l-12.3 3.6M941.7 592.6l-8.8 2.7M941.7 596.1l-3.4 1.1M941.7 599.5l-0.3 0.1M941.7 603l0.4 0M941.7 606.5l2.2 -0.3M941.7 610l6.6 -1M941.7 613.5l9.4 -1.7M941.7 616.9l12.1 -2.4M941.7 620.4l14.7 -3.3M941.7 623.9l13 -3.3M941.7 627.4l4.2 -1.2M988.1 467.3l-11.2 1.5M988.1 470.8l-11.2 1.5M988.1 474.3l-11.3 1.5M988.1 477.7l-11.4 1.5M988.1 481.2l-11.4 1.5M988.1 484.7l-11.5 1.6M988.1 488.2l-11.6 1.6M988.1 491.7l-11.7 1.6M988.1 495.1l-11.8 1.6M988.1 498.6l-11.8 1.7M988.1 502.1l-11.9 1.7M988.1 505.6l-12.1 1.8M988.1 509.1l-12.3 1.8M988.1 512.5l-12.4 1.8M988.1 516l-12.6 1.9M988.1 519.5l-12.8 2M988.1 523l-12.9 2M988.1 526.5l-13.1 2.1M988.1 529.9l-13.3 2.2M988.1 533.4l-13.4 2.2M988.1 536.9l-13.6 2.3M988.1 540.4l-13.8 2.4M988.1 543.9l-14.1 2.5M988.1 547.3l-14.4 2.6M988.1 550.8l-14.7 2.8M988.1 554.3l-15 2.9M988.1 557.8l-15.3 3M988.1 561.3l-15.6 3.2M988.1 564.7l-15.9 3.4M988.1 568.2l-16.2 3.5M988.1 571.7l-14.9 3.4M988.1 575.2l-13.6 3.2M988.1 578.7l-11.6 2.8M988.1 582.1l-4.6 1.2M988.1 585.6l-0.6 0.2M988.1 596.1l0.4 0M988.1 599.5l0.5 0M988.1 603l0.3 0M1034.6 467.3l-12.2 1.5M1034.6 470.8l-12.2 1.5M1034.6 474.3l-12.3 1.5M1034.6 477.7l-12.4 1.5M1034.6 481.2l-12.5 1.5M1034.6 484.7l-12.5 1.5M1034.6 488.2l-12.6 1.5M1034.6 491.7l-12.7 1.5M1034.6 495.1l-12.8 1.5M1034.6 498.6l-12.9 1.5M1034.6 502.1l-12.9 1.6M1034.6 505.6l-13.1 1.6M1034.6 509.1l-13.2 1.6M1034.6 512.5l-13.3 1.6M1034.6 516l-13.4 1.6M1034.6 519.5l-13.5 1.6M1034.6 523l-13.6 1.6M1034.6 526.5l-13.8 1.7M1034.6 529.9l-13.9 1.7M1034.6 533.4l-14 1.7M1034.6 536.9l-14.1 1.7M1034.6 540.4l-14.1 1.7M1034.6 543.9l-14.1 1.7M1034.6 547.3l-14 1.7M1034.6 550.8l-14 1.7M1034.6 554.3l-13.9 1.7M1034.6 557.8l-13.8 1.7M1034.6 561.3l-13.8 1.7M1034.6 564.7l-13.7 1.6M1034.6 568.2l-13.7 1.6M1034.6 571.7l-13.2 1.6M1034.6 575.2l-12.7 1.5M1034.6 578.7l-12.3 1.5M1034.6 582.1l-11.8 1.4M1034.6 585.6l-5.1 0.6" stroke="#000" stroke-width="1.35" fill="none"/>
<path d="M784.3 468.8l4.6 -2.3l0.3 3.8zM784.3 472.3l4.6 -2.3l0.3 3.8zM784.4 475.7l4.6 -2.3l0.3 3.8zM784.4 479.1l4.6 -2.3l0.3 3.8zM784.4 482.5l4.7 -2.2l0.3 3.8zM784.5 485.9l4.7 -2.2l0.3 3.8zM784.5 489.3l4.7 -2.2l0.2 3.8zM784.5 492.7l4.7 -2.2l0.2 3.8zM784.6 496.1l4.7 -2.2l0.2 3.8zM784.6 499.5l4.7 -2.1l0.2 3.8zM784.7 502.9l4.7 -2.1l0.2 3.8zM784.7 506.2l4.7 -2.1l0.1 3.8zM784.7 509.6l4.7 -2l0.1 3.8zM784.8 513l4.8 -2l0.1 3.8zM784.9 516.3l4.8 -2l0.1 3.8zM785 519.6l4.8 -1.9l0 3.8zM785.1 523l4.8 -1.9l0 3.8zM785.2 526.3l4.8 -1.9l0 3.8zM785.3 529.6l4.8 -1.8l-0.1 3.8zM785.5 532.9l4.9 -1.7l-0.1 3.8zM785.6 536.2l4.9 -1.7l-0.2 3.8zM785.7 539.4l4.9 -1.6l-0.2 3.8zM785.8 542.7l4.9 -1.6l-0.3 3.8zM785.9 545.9l4.9 -1.5l-0.3 3.8zM786 549.1l5 -1.4l-0.4 3.8zM786.2 552.3l5 -1.3l-0.5 3.8zM786.4 555.5l5 -1.2l-0.5 3.8zM786.6 558.7l5 -1.1l-0.6 3.8zM786.7 561.9l5.1 -1l-0.7 3.7zM786.9 565l5.1 -0.9l-0.8 3.7zM787.1 568.1l5.1 -0.7l-0.9 3.7zM787.2 571.2l5.1 -0.6l-1 3.7zM787.7 574.3l5.1 -0.5l-1.1 3.6zM788.2 577.5l5.2 -0.3l-1.2 3.6zM788.7 580.6l5.2 -0.1l-1.3 3.6zM789.2 583.8l5.2 0l-1.4 3.5zM789.7 586.9l5.2 0.2l-1.5 3.5zM791.2 590.6l5.1 0.4l-1.7 3.4zM793 594.5l5.1 0.6l-1.8 3.3zM794.7 598.5l5.1 0.8l-1.9 3.3zM798.2 603.8l4.3 1l-1.6 2.5zM832 469.1l4.6 -2.4l0.4 3.8zM832 472.6l4.6 -2.4l0.4 3.8zM832 476l4.6 -2.4l0.4 3.8zM832.1 479.5l4.6 -2.4l0.4 3.8zM832.1 483l4.6 -2.4l0.4 3.8zM832.1 486.4l4.6 -2.4l0.4 3.8zM832.2 489.9l4.6 -2.4l0.4 3.8zM832.2 493.3l4.6 -2.4l0.4 3.8zM832.3 496.8l4.6 -2.4l0.4 3.8zM832.3 500.2l4.6 -2.4l0.4 3.8zM832.3 503.7l4.6 -2.3l0.4 3.8zM832.4 507.1l4.6 -2.3l0.4 3.8zM832.4 510.5l4.6 -2.3l0.3 3.8zM832.4 514l4.6 -2.3l0.3 3.8zM832.5 517.4l4.6 -2.3l0.3 3.8zM832.6 520.8l4.6 -2.3l0.3 3.8zM832.6 524.3l4.6 -2.3l0.3 3.8zM832.7 527.7l4.6 -2.3l0.3 3.8zM832.8 531.1l4.6 -2.2l0.3 3.8zM832.9 534.5l4.7 -2.2l0.3 3.8zM832.9 537.9l4.7 -2.2l0.2 3.8zM833 541.3l4.7 -2.2l0.2 3.8zM833.1 544.8l4.7 -2.2l0.2 3.8zM833.1 548.1l4.7 -2.1l0.2 3.8zM833.2 551.5l4.7 -2.1l0.2 3.8zM833.4 554.9l4.7 -2.1l0.2 3.8zM833.5 558.3l4.7 -2.1l0.1 3.8zM833.7 561.7l4.7 -2l0.1 3.8zM833.9 565l4.8 -2l0.1 3.8zM834.1 568.4l4.8 -2l0 3.8zM834.2 571.7l4.8 -1.9l0 3.8zM834.4 575.1l4.8 -1.9l0 3.8zM834.9 578.4l4.8 -1.8l-0.1 3.8zM835.4 581.8l4.9 -1.8l-0.1 3.8zM835.9 585.1l4.9 -1.7l-0.2 3.8zM836.5 588.4l4.9 -1.6l-0.2 3.8zM837 591.8l4.9 -1.6l-0.3 3.8zM837.5 595.1l4.9 -1.5l-0.3 3.8zM838 598.5l5 -1.4l-0.4 3.8zM838.9 601.9l5 -1.3l-0.4 3.8zM839.9 605.3l5 -1.2l-0.5 3.8zM840.9 608.8l5 -1.1l-0.6 3.8zM841.9 612.2l5.1 -1l-0.7 3.7zM842.9 615.8l5.1 -0.9l-0.7 3.7zM844 619.3l4.4 -0.5l-0.7 2.9zM845.1 623l3.5 -0.7l-0.7 2.9zM846.3 626.7l2.5 -0.8l-0.8 2.9zM879.1 469.2l4.5 -2.5l0.5 3.8zM879.1 472.7l4.5 -2.5l0.5 3.8zM879.1 476.2l4.5 -2.5l0.5 3.8zM879 479.7l4.5 -2.5l0.5 3.8zM879 483.2l4.5 -2.5l0.5 3.8zM879 486.7l4.5 -2.5l0.5 3.8zM878.9 490.1l4.5 -2.5l0.5 3.8zM878.9 493.6l4.5 -2.5l0.5 3.8zM878.8 497.1l4.5 -2.5l0.5 3.8zM878.8 500.6l4.5 -2.5l0.5 3.8zM878.8 504.1l4.5 -2.5l0.5 3.8zM878.7 507.6l4.5 -2.5l0.5 3.8zM878.7 511l4.5 -2.5l0.5 3.8zM878.6 514.5l4.5 -2.5l0.5 3.8zM878.4 518l4.5 -2.5l0.5 3.8zM878 521.6l4.5 -2.5l0.5 3.8zM877.7 525.1l4.5 -2.5l0.5 3.8zM877.4 528.6l4.5 -2.5l0.5 3.8zM877 532.1l4.5 -2.5l0.5 3.8zM876.7 535.6l4.5 -2.5l0.5 3.8zM876.2 539.2l4.5 -2.5l0.5 3.8zM875.7 542.7l4.5 -2.5l0.5 3.8zM875.2 546.3l4.5 -2.5l0.5 3.8zM874.7 549.8l4.5 -2.5l0.5 3.8zM874.2 553.3l4.5 -2.5l0.5 3.8zM874.3 556.8l4.5 -2.5l0.5 3.8zM874.5 560.3l4.5 -2.5l0.5 3.8zM874.7 563.7l4.5 -2.5l0.5 3.8zM874.9 567.2l4.5 -2.5l0.5 3.8zM875 570.6l4.5 -2.5l0.5 3.8zM875.2 574.1l4.5 -2.5l0.5 3.8zM875.4 577.6l4.5 -2.5l0.5 3.8zM876 581l4.5 -2.5l0.5 3.8zM876.8 584.4l4.5 -2.5l0.5 3.8zM877.5 587.7l4.5 -2.5l0.5 3.8zM878.3 591.1l4.5 -2.5l0.5 3.8zM879 594.5l4.5 -2.5l0.5 3.8zM881.1 597.8l4.5 -2.5l0.5 3.8zM883.4 601l4.5 -2.5l0.5 3.8zM885.7 604.2l4.5 -2.5l0.5 3.8zM888.1 607.4l4.5 -2.5l0.5 3.8zM890.1 610.6l4.2 -2.4l0.5 3.8zM891.8 613.9l2.7 -1.8l0.4 3zM893.5 617.1l1.3 -1.7l0.4 3zM897.5 634.6l-2.2 1.3l0.4 -3zM925.8 469.4l4.5 -2.5l0.5 3.8zM925.8 472.9l4.5 -2.5l0.5 3.8zM925.7 476.4l4.5 -2.5l0.5 3.8zM925.6 479.9l4.5 -2.5l0.5 3.8zM925.5 483.4l4.5 -2.5l0.5 3.8zM925.4 486.9l4.5 -2.5l0.5 3.8zM925.4 490.4l4.5 -2.5l0.5 3.8zM925.3 494l4.5 -2.5l0.5 3.8zM925.2 497.5l4.5 -2.6l0.5 3.8zM925.1 501l4.5 -2.6l0.5 3.8zM924.9 504.5l4.5 -2.6l0.5 3.8zM924.4 508.1l4.5 -2.6l0.6 3.8zM923.9 511.7l4.5 -2.6l0.6 3.8zM923.4 515.3l4.5 -2.6l0.6 3.8zM922.8 518.9l4.5 -2.6l0.6 3.8zM922.3 522.5l4.4 -2.6l0.6 3.8zM921.8 526.2l4.4 -2.6l0.6 3.8zM921.3 529.8l4.4 -2.6l0.6 3.8zM920.6 533.4l4.4 -2.7l0.6 3.7zM920 537.1l4.4 -2.7l0.6 3.7zM919.3 540.8l4.4 -2.7l0.7 3.7zM918.7 544.5l4.4 -2.7l0.7 3.7zM918 548.2l4.4 -2.7l0.7 3.7zM917.5 551.9l4.4 -2.8l0.7 3.7zM917.3 555.5l4.4 -2.8l0.7 3.7zM917.1 559.2l4.3 -2.8l0.7 3.7zM917 562.9l4.3 -2.8l0.8 3.7zM916.8 566.6l4.3 -2.9l0.8 3.7zM916.6 570.3l4.3 -2.9l0.8 3.7zM916.4 574l4.3 -2.9l0.8 3.7zM916.9 577.6l4.2 -3l0.9 3.7zM917.5 581.1l4.2 -3l0.9 3.7zM918.1 584.7l4.2 -3l0.9 3.7zM918.7 588.3l4.1 -3.1l1 3.7zM921.3 591.3l4.1 -3.1l1 3.7zM924.8 594l4.1 -3.2l1.1 3.6zM928.3 596.7l4 -3.2l1.1 3.6zM933.7 598.6l4 -3.3l1.2 3.6zM939.5 600.3l1.4 -2l1 2.8zM944.3 602.7l-2 1.7l-0.3 -3zM948.6 605.6l-4.5 2.5l-0.5 -3.8zM953 608.2l-4.5 2.6l-0.6 -3.8zM955.8 610.9l-4.4 2.7l-0.7 -3.7zM958.5 613.6l-4.3 2.8l-0.7 -3.7zM961.1 616l-4.3 2.9l-0.8 -3.7zM959.3 619.4l-4.2 3l-0.9 -3.7zM950.5 624.9l-4.1 3.1l-1 -3.7zM972.2 469.4l4.5 -2.5l0.5 3.8zM972.2 472.9l4.5 -2.5l0.5 3.8zM972.1 476.4l4.5 -2.5l0.5 3.8zM972 479.9l4.5 -2.5l0.5 3.8zM971.9 483.4l4.5 -2.5l0.5 3.8zM971.9 486.9l4.5 -2.5l0.5 3.8zM971.8 490.4l4.5 -2.5l0.5 3.8zM971.7 493.9l4.5 -2.5l0.5 3.8zM971.6 497.4l4.5 -2.5l0.5 3.8zM971.5 501l4.5 -2.6l0.5 3.8zM971.4 504.5l4.5 -2.6l0.5 3.8zM971.3 508l4.5 -2.6l0.5 3.8zM971.1 511.6l4.5 -2.6l0.6 3.8zM971 515.1l4.5 -2.6l0.6 3.8zM970.8 518.6l4.5 -2.6l0.6 3.8zM970.6 522.2l4.5 -2.6l0.6 3.8zM970.5 525.7l4.4 -2.6l0.6 3.8zM970.3 529.3l4.4 -2.6l0.6 3.8zM970.1 532.9l4.4 -2.6l0.6 3.8zM970 536.4l4.4 -2.7l0.6 3.7zM969.8 540l4.4 -2.7l0.6 3.7zM969.6 543.6l4.4 -2.7l0.6 3.7zM969.3 547.2l4.4 -2.7l0.7 3.7zM969 550.8l4.4 -2.7l0.7 3.7zM968.7 554.5l4.4 -2.8l0.7 3.7zM968.4 558.1l4.4 -2.8l0.7 3.7zM968.1 561.7l4.3 -2.8l0.7 3.7zM967.8 565.4l4.3 -2.8l0.8 3.7zM967.6 569.1l4.3 -2.9l0.8 3.7zM967.3 572.8l4.3 -2.9l0.8 3.7zM968.6 576.1l4.3 -2.9l0.8 3.7zM969.9 579.5l4.2 -2.9l0.9 3.7zM971.9 582.6l4.2 -3l0.9 3.7zM978.9 584.5l4.2 -3l0.9 3.7zM984 586.7l3.1 -2.4l0.8 2.9zM991.1 595.9l-2.4 1.7l-0.2 -3zM991.6 599.3l-2.8 1.7l-0.2 -3zM990.4 602.8l-1.8 1.7l-0.3 -3zM1017.7 469.3l4.5 -2.5l0.5 3.8zM1017.6 472.8l4.5 -2.5l0.5 3.8zM1017.5 476.3l4.5 -2.5l0.5 3.8zM1017.5 479.8l4.5 -2.5l0.5 3.8zM1017.4 483.3l4.5 -2.5l0.5 3.8zM1017.3 486.8l4.5 -2.5l0.5 3.8zM1017.2 490.3l4.5 -2.5l0.5 3.8zM1017.1 493.8l4.5 -2.5l0.5 3.8zM1017.1 497.2l4.5 -2.5l0.5 3.8zM1017 500.7l4.5 -2.5l0.5 3.8zM1016.9 504.2l4.5 -2.5l0.5 3.8zM1016.8 507.7l4.5 -2.5l0.5 3.8zM1016.7 511.2l4.5 -2.5l0.5 3.8zM1016.5 514.7l4.5 -2.5l0.5 3.8zM1016.4 518.2l4.5 -2.5l0.5 3.8zM1016.3 521.7l4.5 -2.5l0.5 3.8zM1016.2 525.2l4.5 -2.5l0.5 3.8zM1016.1 528.7l4.5 -2.5l0.5 3.8zM1016 532.2l4.5 -2.5l0.5 3.8zM1015.8 535.7l4.5 -2.5l0.5 3.8zM1015.7 539.2l4.5 -2.5l0.5 3.8zM1015.7 542.6l4.5 -2.5l0.5 3.8zM1015.8 546.1l4.5 -2.5l0.5 3.8zM1015.8 549.6l4.5 -2.5l0.5 3.8zM1015.9 553.1l4.5 -2.5l0.5 3.8zM1015.9 556.5l4.5 -2.5l0.5 3.8zM1016 560l4.5 -2.5l0.5 3.8zM1016.1 563.5l4.5 -2.5l0.5 3.8zM1016.1 567l4.5 -2.5l0.5 3.8zM1016.2 570.4l4.5 -2.5l0.5 3.8zM1016.6 573.9l4.5 -2.5l0.5 3.8zM1017.1 577.3l4.5 -2.5l0.5 3.8zM1017.6 580.7l4.5 -2.5l0.5 3.8zM1018 584.1l4.5 -2.5l0.5 3.8zM1024.7 586.8l4.5 -2.5l0.5 3.8z" fill="#000"/>
<path d="M894.5 620.4h0.1M895.3 623.9h0.1M896 627.4h0.1M896.7 630.9h0.1M987.6 589.1h0.1M989.3 592.6h0.1" stroke="#000" stroke-width="1.6" stroke-linecap="round" fill="none"/>
<path d="M755.8 593.1L757.8 593.2L759.8 593.3L761.8 593.5L763.8 593.7L765.8 594.1L767.8 594.5L769.8 595L771.8 595.5L773.8 596.1L775.8 596.8L777.7 597.5L779.7 598.3L781.7 599.1L783.7 600L785.7 601L787.7 602L789.7 603L791.7 604L793.7 605.1L795.7 606.2L797.7 607.4L799.6 608.6L801.6 609.7L803.6 610.9L805.6 612.1L807.6 613.3L809.6 614.5L811.6 615.7L813.6 616.9L815.6 618.1L817.6 619.3L819.6 620.4L821.5 621.6L823.5 622.7L825.5 623.8L827.5 624.8L829.5 625.8L831.5 626.8L833.5 627.8L835.5 628.7L837.5 629.6L839.5 630.5L841.5 631.3L843.5 632.1L845.4 632.9L847.4 633.6L849.4 634.3L851.4 634.9L853.4 635.5L855.4 636L857.4 636.6L859.4 637.1L861.4 637.5L863.4 637.9L865.4 638.3L867.3 638.7L869.3 639L871.3 639.3L873.3 639.6L875.3 639.8L877.3 640.1L879.3 640.2L881.3 640.4L883.3 640.6L885.3 640.7L887.3 640.8L889.2 640.8L891.2 640.9L893.2 640.9L895.2 640.9L897.2 640.9L899.2 640.9L901.2 640.8L903.2 640.8L905.2 640.7L907.2 640.6L909.2 640.4L911.1 640.2L913.1 640.1L915.1 639.8L917.1 639.6L919.1 639.3L921.1 639L923.1 638.7L925.1 638.3L927.1 637.9L929.1 637.5L931.1 637.1L933.1 636.6L935 636L937 635.5L939 634.9L941 634.3L943 633.6L945 632.9L947 632.1L949 631.3L951 630.5L953 629.6L955 628.7L956.9 627.8L958.9 626.8L960.9 625.8L962.9 624.8L964.9 623.8L966.9 622.7L968.9 621.6L970.9 620.4L972.9 619.3L974.9 618.1L976.9 616.9L978.8 615.7L980.8 614.5L982.8 613.3L984.8 612.1L986.8 610.9L988.8 609.7L990.8 608.6L992.8 607.4L994.8 606.2L996.8 605.1L998.8 604L1000.8 603L1002.7 602L1004.7 601L1006.7 600L1008.7 599.1L1010.7 598.3L1012.7 597.5L1014.7 596.8L1016.7 596.1L1018.7 595.5L1020.7 595L1022.7 594.5L1024.6 594.1L1026.6 593.7L1028.6 593.5L1030.6 593.3L1032.6 593.2L1034.6 593.1" stroke="#000" stroke-width="1.7" fill="none"/>
</g>
<rect x="755.5" y="466.5" width="279.8" height="173" fill="none" stroke="#000" stroke-width="2.9"/>
<line x1="1036.7" y1="620.3" x2="1047.8" y2="620.3" stroke="#000" stroke-width="1.3"/>
<text x="1059.6" y="628.7" font-size="25">0</text>
<line x1="1036.7" y1="573.6" x2="1047.8" y2="573.6" stroke="#000" stroke-width="1.3"/>
<text x="1059.6" y="582" font-size="25">1</text>
<line x1="1036.7" y1="526.8" x2="1047.8" y2="526.8" stroke="#000" stroke-width="1.3"/>
<text x="1059.6" y="535.2" font-size="25">2</text>
<line x1="1036.7" y1="480.1" x2="1047.8" y2="480.1" stroke="#000" stroke-width="1.3"/>
<text x="1059.6" y="488.5" font-size="25">3</text>
<text x="1094.79" y="551.63" font-size="28.6" font-style="italic">y</text>
<path d="M1108.40 557.80L1118.50 532.00" stroke="#000" stroke-width="1.5"/>
<text x="1121.33" y="551.37" font-size="27.32" font-style="italic">η</text>
<defs><clipPath id="tlp3"><rect x="0" y="-5" width="282.42" height="190"/></clipPath>
<g id="lp3" clip-path="url(#tlp3)"><g transform="scale(0.5)" stroke="#000" stroke-width="2" stroke-linejoin="round" fill-rule="evenodd">
<path d="M345 157l6-1l4 5l10 3l7 4l3 1l5-7l3-2l10-2l7 0l3 0l3 4l6 3l5 5l12-1l9 3l8-2l3 1l7 7l3-1l5-7l3-2l6 0l7 3l7-2l7 1l3 2l5 6l7 4l1 7l2 3l3 0l7 0l8 4l7 6l3 4l2 7l2 1l3 1l8-2l5 1l8 8l8 3l5 3l2 5l0 7l2 2l0 20l-3 0l-1-1l-31 0l-2 1l-7 0l-1 1l-10 2l-1 1l-3 0l-1 2l-3 0l-4 2l-9 2l-39 16l-20 3l-8 3l-8 6l-11 4l-12 7l-28 11l-10 1l-7 3l-6 0l-16 5l-11 1l-24 8l-6 3l-4 7l-46 0l-1-1l-14 0l-2-2l-10 0l-1-1l-7 0l-1-1l-6 0l-1-2l-6 0l-1-1l-10-2l-2-1l-2 0l-2-1l-7-2l-1-1l-7-2l-4-2l-3 0l-2-2l-1 0l-1-1l-3 0l-27-14l-7-3l-3-3l-7-3l-2-2l-7-3l-6-4l-4-2l-3-3l-10-4l-3-3l-4-1l-18-10l-3 0l-4-3l-3 0l-4-2l-7-2l-1-1l-5 0l-1-2l-4 0l-2-1l-7 0l-1-1l-31 0l-1 1l-3 0l0-47l3 0l7-2l4 0l3 2l5 7l9 3l5 3l2 5l-1 5l2 3l3 1l6-1l2 1l7 4l17 16l31 16l41 23l18 10l29 13l23 7l19 4l5-9l-1-8l1-4l3-4l2-6l6-3l1-3l-3-4l-4-3l-1-5l-3-2l-2-7l0-4l9-10l6-12l2-2l4-1l10 4l3 0l3-3l0-1l-2-4l0-7l-4-6l1-3l2-2l6 2l2 0l4-4l2-5l3-1l4 1l3-2l4-7l-1-8l2-2l7 1l4-2l-1-3l-2-3l0-2l4-3l8-2l4-2l0-3l-1-4l3-5l2-1l3 0l5 4l2 1l8-1l9-10l3-5z" fill="#fff4f4"/>
<path d="M387 185l7 1l14 0l12 5l18-1l5 1l9 5l21 7l2 2l2 4l7 6l7 3l6 7l5 1l10 5l3 3l2-1l2 0l10 2l1 2l2 4l9 0l5-1l12 1l27 7l0 14l-3 0l-1-1l-31 0l-2 1l-7 0l-1 1l-10 2l-1 1l-3 0l-1 2l-3 0l-1 1l-12 2l-26 11l-13 4l-8 1l-12 0l-8 1l-10 8l-11 4l-7 5l-20 9l-14 4l-15 3l-8 1l-7 3l-49 6l-13 0l-15 1l-6-1l-6-2l-1-3l1-7l-2-5l-1-11l2-14l2-9l-3-8l2-3l8-4l4-9l4-8l6-4l8-9l8-7l6-2l2-3l1-7l7-3l8-10l18-9l7-5l9 0l15-3l10 1zM-19 240l19 2l11 5l15 3l14 6l39 20l61 34l22 10l20 7l25 7l24 4l25 2l24 1l12-1l3 2l2 3l-2 2l-4 3l-38 0l-1-1l-14 0l-2-2l-10 0l-1-1l-7 0l-1-1l-6 0l-1-2l-6 0l-1-1l-10-2l-2-1l-2 0l-2-1l-7-2l-1-1l-7-2l-4-2l-3 0l-2-2l-1 0l-1-1l-3 0l-27-14l-7-3l-3-3l-7-3l-2-2l-7-3l-6-4l-4-2l-3-3l-10-4l-3-3l-4-1l-18-10l-3 0l-4-3l-3 0l-4-2l-7-2l-1-1l-5 0l-1-2l-4 0l-2-1l-7 0l-1-1l-31 0l-1 1l-3 0l0-22z" fill="#ffeaea"/>
<path d="M369 200l4 0l9 1l11-1l6 0l12 5l10 0l7 4l15 1l9 2l6 5l4 6l2 3l0 6l2 3l10 9l5 3l10 0l36-4l17-1l10 1l31 6l0 13l-3 0l-1-1l-31 0l-2 1l-7 0l-1 1l-4 0l-2 2l-4 0l-1 1l-3 0l-1 1l-14 3l-28 10l-13 3l-10 1l-11-3l-10 3l-5 3l-5 4l-29 15l-18 6l-16 4l-7 1l-14 3l-7 0l-11 2l-8-1l-14 1l-13-2l-10 1l-2-1l0-23l4-25l3-7l8-10l1-6l2-2l7-7l15-12l6-7l7-5l5-6l14-6zM-19 243l33 5l14 4l14 5l37 19l61 34l22 10l20 8l23 6l16 3l32 4l35 2l4 1l1 2l-6 4l-34 0l-1-1l-14 0l-2-2l-10 0l-1-1l-7 0l-1-1l-6 0l-1-2l-6 0l-1-1l-10-2l-2-1l-2 0l-2-1l-7-2l-1-1l-7-2l-4-2l-3 0l-2-2l-1 0l-1-1l-3 0l-27-14l-7-3l-3-3l-7-3l-2-2l-7-3l-6-4l-4-2l-3-3l-10-4l-3-3l-4-1l-18-10l-3 0l-4-3l-3 0l-4-2l-7-2l-1-1l-5 0l-1-2l-4 0l-2-1l-7 0l-1-1l-31 0l-1 1l-3 0l0-20z" fill="#ffdfdf"/>
<path d="M390 210l9 0l13 3l9 3l11 2l7 3l6 6l6 14l3 11l2 2l6 0l12-1l52-9l20 0l26 3l13 3l0 12l-3 0l-1-1l-31 0l-2 1l-7 0l-1 1l-4 0l-2 2l-4 0l-1 1l-18 3l-29 10l-12 2l-11-1l-6-3l-3-3l-3 2l-8 3l-22 13l-6 2l-11 6l-11 5l-16 5l-18 3l-29 2l-21 0l-9-1l-2-2l0-5l3-17l-1-8l2-7l3-9l5-6l4-9l5-6l9-7l18-18l5-3l19-6l14 1zM-19 244l34 5l13 3l14 6l36 18l62 34l22 11l18 7l20 5l20 5l19 2l46 4l5 2l-7 4l-30 0l-1-1l-14 0l-2-2l-10 0l-1-1l-7 0l-1-1l-6 0l-1-2l-6 0l-1-1l-10-2l-2-1l-2 0l-2-1l-7-2l-1-1l-7-2l-4-2l-3 0l-2-2l-1 0l-1-1l-3 0l-27-14l-7-3l-3-3l-7-3l-2-2l-7-3l-6-4l-4-2l-3-3l-10-4l-3-3l-4-1l-18-10l-3 0l-4-3l-3 0l-4-2l-7-2l-1-1l-5 0l-1-2l-4 0l-2-1l-7 0l-1-1l-31 0l-1 1l-3 0l0-18z" fill="#ffd4d4"/>
<path d="M387 219l10 0l27 6l7 3l5 5l3 5l1 6l1 18l-1 6l-5 8l-6 4l-7 3l-8 6l-7 2l-20 11l-12 3l-20 3l-24 2l-26-2l2-21l5-18l5-10l8-11l6-5l4-5l6-4l10-10l21-5zM-19 245l34 5l13 3l14 5l36 19l62 34l22 10l18 7l32 9l21 3l41 4l11 2l1 1l-7 3l-26 0l-1-1l-14 0l-2-2l-10 0l-1-1l-7 0l-1-1l-6 0l-1-2l-6 0l-1-1l-10-2l-2-1l-2 0l-2-1l-7-2l-1-1l-7-2l-4-2l-3 0l-2-2l-1 0l-1-1l-3 0l-27-14l-7-3l-3-3l-7-3l-2-2l-7-3l-6-4l-4-2l-3-3l-10-4l-3-3l-4-1l-18-10l-3 0l-4-3l-3 0l-4-2l-7-2l-1-1l-5 0l-1-2l-4 0l-2-1l-7 0l-1-1l-31 0l-1 1l-3 0l0-17zM530 245l21 0l34 6l0 11l-3 0l-1-1l-31 0l-2 1l-7 0l-1 1l-4 0l-1 2l-12 0l-12 3l-12 4l-19 5l-14 1l-4-1l-3-2l2-6l5-6l5-4l6-3l32-8z" fill="#ffc9c9"/>
<path d="M392 226l15 2l17 5l6 5l2 10l1 11l-1 6l-3 10l-18 11l-7 3l-7 4l-12 5l-10 3l-25 3l-16 1l-18-2l2-26l2-7l10-15l11-13l13-10l4-2l18-4zM-19 246l34 4l13 4l14 5l35 17l63 36l22 10l18 7l16 4l18 5l22 3l32 3l15 3l-9 3l-21 0l-1-1l-14 0l-2-2l-10 0l-1-1l-7 0l-1-1l-6 0l-1-2l-6 0l-1-1l-10-2l-2-1l-2 0l-2-1l-7-2l-1-1l-7-2l-4-2l-3 0l-2-2l-1 0l-1-1l-3 0l-27-14l-4-2l-6-4l-7-3l-2-2l-7-3l-3-3l-7-3l-3-3l-10-4l-3-3l-4-1l-18-10l-3 0l-4-3l-3 0l-4-2l-7-2l-1-1l-5 0l-1-2l-4 0l-2-1l-7 0l-1-1l-31 0l-1 1l-3 0l0-16zM530 247l21-1l34 6l0 10l-3 0l-1-1l-31 0l-2 1l-7 0l-1 1l-13 1l-11 2l-17 5l-19 4l-10-1l-3-1l-1-1l8-9l9-5l28-8z" fill="#ffbfbf"/>
<path d="M387 233l6-1l10 2l15 6l4 3l3 6l0 9l-1 10l-2 7l-27 15l-20 7l-24 3l-18 0l-7-2l0-18l3-11l8-12l11-12l9-6l9-5l10-1zM-19 247l33 4l12 3l16 6l35 17l63 35l21 10l19 7l16 5l18 4l22 3l28 3l17 3l-6 2l-8 1l-14 0l-1-1l-14 0l-2-2l-9 0l-2-1l-7 0l-1-1l-6 0l-1-2l-6 0l-1-1l-4 0l-2-2l-3 0l-6-1l-1-1l-3-1l-1-1l-2 0l-2-1l-2 0l-2-2l-6-1l-1-1l-6-2l-1-1l-2 0l-18-9l-62-35l-21-9l-1-2l-2 0l-5-3l-3 0l-4-2l-7-2l-1-1l-5 0l-1-2l-4 0l-2-1l-7 0l-1-1l-31 0l-1 1l-3 0l0-15zM530 248l21-1l23 3l11 2l0 10l-3 0l-1-1l-31 0l-2 1l-18 1l-12 1l-19 5l-14 3l-5 0l-7-2l7-7l11-5l21-7z" fill="#ffb4b4"/>
<path d="M371 240l16-1l10 0l16 6l3 3l2 10l0 8l-3 9l-22 13l-18 6l-20 2l-17-1l-4-1l1-17l2-8l2-4l15-16l9-7zM-19 248l33 4l12 3l16 5l35 17l63 36l21 9l19 8l16 5l19 4l21 3l24 2l17 3l-6 2l-11 1l-23-2l-1-1l-7 0l-19-3l-28-8l-20-7l-20-10l-68-38l-17-8l-14-5l-7-2l-1-1l-5 0l-1-2l-4 0l-2-1l-7 0l-1-1l-31 0l-1 1l-3 0l0-14zM541 248l17 1l27 4l0 9l-3 0l-1-1l-31 0l-1 1l-5 0l-14 0l-18 2l-14 4l-13 1l-6 0l2-3l7-4l13-5l18-6z" fill="#ffa9a9"/>
<path d="M373 245l16 0l7 1l11 4l3 3l2 6l-1 9l-1 5l-3 3l-15 9l-14 5l-9 1l-14 1l-12-2l-1-8l3-12l2-4l11-12l10-7zM-19 249l13 1l20 2l12 3l16 6l33 16l65 36l21 10l19 7l17 5l18 4l21 4l24 1l14 3l-14 2l-28-2l-25-4l-25-8l-20-7l-20-9l-67-37l-26-12l-14-5l-12-3l-7-1l-1 0l-35 0l0-12zM540 249l18 1l27 4l0 8l-3 0l-1-1l-49-1l-19 3l-14 4l-9 0l-3-1l10-5l11-5l18-5z" fill="#ff9e9e"/>
<path d="M-19 250l13 0l18 3l14 3l16 6l33 16l66 36l21 10l18 7l17 5l18 4l21 3l24 2l11 2l-11 2l-32-3l-24-5l-22-6l-20-8l-20-9l-67-37l-28-13l-15-4l-14-3l-38-1l0-10zM378 251l14 0l11 5l1 2l1 7l-1 8l-8 6l-13 6l-17 2l-14-1l0-3l1-10l3-7l6-7l7-6l4-2zM537 251l9-1l9 0l27 4l3 1l0 6l-53-2l-17 2l-16 4l-5 0l7-4l14-5z" fill="#ff9494"/>
<path d="M-19 251l13 0l20 3l14 3l15 6l32 15l66 37l21 10l20 7l16 5l19 4l19 3l24 2l8 1l-9 1l-34-3l-22-5l-21-6l-20-7l-19-9l-64-35l-26-13l-17-6l-15-3l-41-3l0-7zM537 252l16-1l23 2l9 2l0 5l-49-2l-21 2l-3-1l12-4zM376 258l13-1l7 3l2 2l0 3l0 8l-11 6l-8 3l-13 1l-5-1l0-9l2-4l6-7zM509 260l1 1l-1 0z" fill="#ff8989"/>
<path d="M-19 252l24 1l17 3l20 7l22 10l-1 1l-19-8l-19-5l-13-2l-32-2l0-5zM544 252l14 0l20 3l7 1l0 4l-60-4zM379 266l7-1l4 1l1 3l-2 4l-9 4l-8 0l0-5l4-4zM65 274l2 1l-3 0zM68 275l2 1l-3 0zM71 277l1 0l-2 0zM74 278l1 1l-2 0zM77 280l1 0l-2 0zM79 281l1 1l-2 0zM86 285l2 1l-2 0zM89 287l1 0l-2 0zM92 288l1 1l-1 0l-1 0zM96 291l2 0l-2 1zM99 292l1 1l-2 0zM102 294l0 1l-1-1zM106 297l1 0l-1 0zM109 298l1 0l-2 0zM112 299l0 1l-2 0zM116 302l1 1l-2 0zM119 303l1 1l-2 0zM121 305l1 0l-1 1l-1-1zM128 309l2 1l-2 0zM131 310l1 1l-2 0zM134 312l1 0l-2 0zM137 313l1 1l-2 0zM140 315l-2 0zM148 319l1 0l-2 0zM151 320l1 1l-2 0zM154 322l1 0l-2 0zM156 323l2 1l-2 0zM159 325l2 0l0 1l-2-1zM162 326l3 0l-2 1zM166 327l2 1l-3 0zM169 329l3 0l-2 1zM173 330l3 1l-1 0l-3 0zM177 331l3 1l-4 0zM182 333l2 0l-4 0zM186 334l3 1l-2 0l-2 0zM190 336l4 0l-3 1l-2-1zM194 337l27 5l43 5l-11 0l-27-2l-21-4l-11-3z" fill="#ff7e7e"/>
<path d="M-19 253l13 0l15 2l25 6l-2 0l-18-3l-34-2l0-3zM543 253l12 0l17 1l13 3l0 2l-50-4zM35 261l3 1l-2 1l-2-1zM39 263l2 0l-1 1l-2-1zM43 264l2 1l-3 0zM47 266l1 0l-2 0zM222 343l3 0l-4 0zM243 346l6 0l-7 0z" fill="#ff7373"/>
<path d="M-14 255l9-1l20 2l-15 1l-16-2zM550 255l11-1l19 2l-15 1zM583 258l2-1l0 1l-3 0zM26 259l1 0l-2 0z" fill="#ff6969"/>
<path d="M-5 255l2 0l-2 0z" fill="#ff5e5e"/>
<path d="M193 80l12-1l5 2l1 3l0 7l9 7l4 4l2 6l2-4l4-2l9 5l1 8l4 7l2 11l1 21l-3 4l-7 6l0 7l-1 8l-4 9l1 5l-7 10l0 9l-11 7l-5 2l-5 0l-9-2l-8 2l-6 6l-8 4l-1 4l-3 2l-4-6l-9-5l-3-10l-8-4l-4-6l-7-3l-2-3l-1-6l-1-2l-6-2l-4-2l-1-9l-1-2l-5-5l-3-4l1-8l-2-2l-5-1l0-1l9-13l3-1l5 0l2 0l-2-5l-4-2l-1-2l0-3l2-2l10-6l7 2l-1-2l1-3l7 1l2-1l2-3l1-5l2-3l3 1l3 5l4 0l2-3l1-9l4-7l3-4l8-3zM509 273l3-1l-1 1l-3 0zM506 274l1 0l-2 1zM502 276l3-1l-18 9l-2 0l-2 3l-10 4l-3 3l-7 3l-6 4l-4 2l-3 2l-7 3l-2 3l-5 1l-29 16l-3 0l-4 3l-3 0l-4 2l-7 2l-1 1l-7 2l-2 1l-3 0l-1 1l-10 2l-1 1l-6 0l-1 2l-6 0l-1 1l-7 0l-2 1l-9 0l-2 2l-14 0l-1 1l-6 0l3-2l14-7l15-5l28-6l17-4l25-10l33-17l28-9z" fill="#f4f4ff"/>
<path d="M495 280l1-1l-2 1zM491 282l3-2l-7 4l-2 0l-2 3l-10 4l-3 3l-7 3l-3 3l-7 3l-3 2l-7 3l-2 3l-5 1l-29 16l-3 0l-4 3l-3 0l-4 2l-7 2l-1 1l-7 2l-2 1l-3 0l-1 1l-10 2l-1 1l-6 0l-1 2l-6 0l-1 1l-7 0l-2 1l-9 0l-2 2l-13 0l9-5l14-5l32-6l17-5l19-7l36-18z" fill="#eaeaff"/>
<path d="M484 286l-1 1l-10 4l-3 3l-7 3l-3 3l-7 3l-3 2l-7 3l-2 3l-5 1l-29 16l-3 0l-4 3l-3 0l-4 2l-7 2l-1 1l-7 2l-2 1l-3 0l-1 1l-10 2l-1 1l-6 0l-1 2l-6 0l-1 1l-7 0l-2 1l-9 0l-2 2l-8 0l21-8l29-6l21-6l20-8l29-15z" fill="#dfdfff"/>
<path d="M471 293l-1 1l-7 3l-3 3l-7 3l-3 2l-7 3l-2 3l-5 1l-29 16l-3 0l-4 3l-3 0l-4 2l-7 2l-1 1l-7 2l-2 1l-3 0l-1 1l-10 2l-1 1l-6 0l-1 2l-6 0l-1 1l-7 0l-2 1l-9 0l-2 2l-2 0l15-6l28-5l23-7l23-10z" fill="#d4d4ff"/>
<path d="M455 302l-1 1zM452 304l1-1l-3 2l-7 3l-2 3l-5 1l-29 16l-3 0l-4 3l-3 0l-4 2l-7 2l-1 1l-7 2l-2 1l-3 0l-1 1l-10 2l-1 1l-6 0l-1 2l-6 0l-1 1l-7 0l-2 1l-5 0l7-2l29-6l22-7l17-7z" fill="#c9c9ff"/>
<path d="M442 310l-1 1l-7 3zM432 315l2-1l-3 1zM429 316l2-1l-3 2zM427 318l1-1l-2 1zM424 319l1 0l-2 0zM421 320l1 0l-2 1zM418 322l1-1l-2 1zM415 323l1 0l-2 1zM413 325l1-1l-3 1zM408 326l3-1l-4 3l-2 0zM403 329l-1 0zM399 330l2 0l-1 1zM396 332l0-1l-1 1zM392 333l2-1l-1 1zM379 337l2 0l-3 1zM375 339l2-1l-1 1l-2 0zM369 340l4-1l-1 1zM364 342l3-1l-1 1zM358 343l4-1l-1 1l-4 0zM343 346l4-1l-5 1z" fill="#bfbfff"/>
</g>
<path d="M-10 131L-7.5 130.6L-5 130.3L-2.4 130.2L0.1 130.1L2.6 130.2L5.1 130.3L7.6 130.6L10.2 131L12.7 131.5L15.2 132.2L17.7 132.9L20.2 133.7L22.8 134.6L25.3 135.6L27.8 136.6L30.3 137.8L32.8 139L35.4 140.3L37.9 141.6L40.4 142.9L42.9 144.3L45.4 145.7L48 147.2L50.5 148.6L53 150.1L55.5 151.5L58 152.9L60.6 154.4L63.1 155.7L65.6 157.1L68.1 158.4L70.6 159.7L73.2 161L75.7 162.2L78.2 163.3L80.7 164.4L83.2 165.4L85.8 166.4L88.3 167.3L90.8 168.2L93.3 169L95.8 169.7L98.4 170.4L100.9 171.1L103.4 171.7L105.9 172.2L108.4 172.7L111 173.1L113.5 173.5L116 173.8L118.5 174.1L121 174.4L123.6 174.6L126.1 174.8L128.6 175L131.1 175.1L133.6 175.2L136.2 175.2L138.7 175.3L141.2 175.3L143.7 175.3L146.3 175.2L148.8 175.2L151.3 175.1L153.8 175L156.3 174.8L158.9 174.6L161.4 174.4L163.9 174.1L166.4 173.8L168.9 173.5L171.5 173.1L174 172.7L176.5 172.2L179 171.7L181.5 171.1L184.1 170.4L186.6 169.7L189.1 169L191.6 168.2L194.1 167.3L196.7 166.4L199.2 165.4L201.7 164.4L204.2 163.3L206.7 162.2L209.3 161L211.8 159.7L214.3 158.4L216.8 157.1L219.3 155.7L221.9 154.4L224.4 152.9L226.9 151.5L229.4 150.1L231.9 148.6L234.5 147.2L237 145.7L239.5 144.3L242 142.9L244.5 141.6L247.1 140.3L249.6 139L252.1 137.8L254.6 136.6L257.1 135.6L259.7 134.6L262.2 133.7L264.7 132.9L267.2 132.2L269.7 131.5L272.3 131L274.8 130.6L277.3 130.3L279.8 130.2L282.3 130.1L284.9 130.2L287.4 130.3L289.9 130.6L292.4 131" fill="none" stroke="#000" stroke-width="1.2"/>
</g>
<clipPath id="clp3"><rect x="184.5" y="643.5" width="565" height="175.1"/></clipPath></defs>
<g clip-path="url(#clp3)">
<use href="#lp3" transform="translate(184.7 642.01)"/>
<use href="#lp3" transform="translate(467.12 642.01)"/>
</g>
<rect x="184.5" y="643.5" width="565" height="175.1" fill="none" stroke="#000" stroke-width="3"/>
<clipPath id="rc3"><rect x="755.5" y="644.7" width="280" height="173.1"/></clipPath>
<g clip-path="url(#rc3)">
<path d="M802.3 645.5l-4.1 0.6M802.3 649l-4 0.6M802.3 652.5l-4 0.6M802.3 655.9l-3.9 0.5M802.3 659.4l-3.9 0.5M802.3 662.9l-3.8 0.5M802.3 666.4l-3.7 0.5M802.3 669.9l-3.7 0.4M802.3 673.3l-3.6 0.4M802.3 676.8l-3.6 0.4M802.3 680.3l-3.5 0.4M802.3 683.8l-3.4 0.3M802.3 687.3l-3.4 0.3M802.3 690.7l-3.3 0.3M802.3 694.2l-3.3 0.3M802.3 697.7l-3.2 0.2M802.3 701.2l-3.2 0.2M802.3 704.7l-3.2 0.2M802.3 708.1l-3.1 0.1M802.3 711.6l-3.1 0.1M802.3 715.1l-3 0M802.3 718.6l-3 0M802.3 722.1l-3 0M802.3 725.5l-2.9 -0.1M802.3 729l-2.9 -0.1M802.3 732.5l-2.9 -0.2M802.3 736l-2.8 -0.2M802.3 739.5l-2.8 -0.3M802.3 742.9l-2.7 -0.3M802.3 746.4l-2.6 -0.4M802.3 749.9l-2.4 -0.4M802.3 753.4l-2.3 -0.5M802.3 756.9l-2.1 -0.5M802.3 760.3l-2 -0.5M802.3 763.8l-1.9 -0.6M802.3 767.3l-1.7 -0.6M802.3 770.8l-1.5 -0.6M802.3 774.3l-1.3 -0.6M802.3 777.7l-1.2 -0.6M802.3 781.2l-1 -0.5M802.3 784.7l-0.5 -0.3M848.8 645.5l-3.4 0.6M848.8 649l-3.4 0.6M848.8 652.5l-3.4 0.6M848.8 655.9l-3.4 0.6M848.8 659.4l-3.4 0.6M848.8 662.9l-3.4 0.5M848.8 666.4l-3.4 0.5M848.8 669.9l-3.4 0.5M848.8 673.3l-3.4 0.5M848.8 676.8l-3.4 0.5M848.8 680.3l-3.4 0.5M848.8 683.8l-3.4 0.5M848.8 687.3l-3.4 0.5M848.8 690.7l-3.4 0.5M848.8 694.2l-3.3 0.5M848.8 697.7l-3.2 0.5M848.8 701.2l-3.1 0.4M848.8 704.7l-3 0.4M848.8 708.1l-2.9 0.4M848.8 711.6l-2.9 0.4M848.8 715.1l-2.8 0.3M848.8 718.6l-2.7 0.3M848.8 722.1l-2.6 0.3M848.8 725.5l-2.5 0.3M848.8 729l-2.4 0.3M848.8 732.5l-2.3 0.2M848.8 736l-2.2 0.2M848.8 739.5l-2.1 0.2M848.8 742.9l-1.9 0.2M848.8 746.4l-1.6 0.1M848.8 749.9l-1.2 0.1M848.8 753.4l-0.9 0M848.8 756.9l-0.8 0M848.8 760.3l-0.7 0M848.8 763.8l-0.7 0M848.8 767.3l-0.6 0M848.8 770.8l-0.6 0M848.8 774.3l-0.5 0M848.8 777.7l-0.4 0M848.8 781.2l-0.4 0M848.8 784.7l-0.3 0M848.8 788.2l-0.3 0M895.2 645.5l-4.4 0.8M895.2 649l-4.5 0.8M895.2 652.5l-4.5 0.8M895.2 655.9l-4.6 0.8M895.2 659.4l-4.7 0.8M895.2 662.9l-4.8 0.9M895.2 666.4l-4.9 0.9M895.2 669.9l-4.9 0.9M895.2 673.3l-5 0.9M895.2 676.8l-5.1 0.9M895.2 680.3l-5.2 0.9M895.2 683.8l-5.4 1M895.2 687.3l-5.5 1M895.2 690.7l-5.7 1M895.2 694.2l-5.9 1.1M895.2 697.7l-6 1.1M895.2 701.2l-6.2 1.1M895.2 704.7l-6.3 1.1M895.2 708.1l-6.5 1.2M895.2 711.6l-6.7 1.2M895.2 715.1l-6.8 1.2M895.2 718.6l-7 1.3M895.2 722.1l-7.1 1.3M895.2 725.5l-7.2 1.3M895.2 729l-7.3 1.3M895.2 732.5l-7.4 1.3M895.2 736l-7.5 1.3M895.2 739.5l-7.6 1.4M895.2 742.9l-7.4 1.3M895.2 746.4l-6.9 1.2M895.2 749.9l-6.4 1.2M895.2 753.4l-5.9 1.1M895.2 756.9l-5.4 1M895.2 760.3l-4.5 0.8M895.2 763.8l-3 0.5M895.2 767.3l-1.6 0.3M895.2 770.8l-0.7 0.1M895.2 774.3l-0.5 0.1M895.2 777.7l-0.4 0.1M895.2 788.2l0.3 0M895.2 791.7l0.6 0.1M895.2 795.1l0.8 0.1M895.2 798.6l1.6 0.3M895.2 802.1l2.8 0.5M895.2 805.6l3.9 0.7M895.2 809.1l4 0.7M895.2 812.5l4 0.7M941.7 645.5l-5.2 1M941.7 649l-5.3 1M941.7 652.5l-5.4 1M941.7 655.9l-5.5 1.1M941.7 659.4l-5.6 1.1M941.7 662.9l-5.7 1.1M941.7 666.4l-5.8 1.2M941.7 669.9l-5.9 1.2M941.7 673.3l-6 1.2M941.7 676.8l-6.1 1.2M941.7 680.3l-6.3 1.3M941.7 683.8l-6.8 1.4M941.7 687.3l-7.3 1.5M941.7 690.7l-7.7 1.6M941.7 694.2l-8.2 1.7M941.7 697.7l-8.6 1.9M941.7 701.2l-9.1 2M941.7 704.7l-9.5 2.1M941.7 708.1l-9.8 2.2M941.7 711.6l-10.1 2.3M941.7 715.1l-10.4 2.4M941.7 718.6l-10.7 2.6M941.7 722.1l-11 2.7M941.7 725.5l-11.2 2.8M941.7 729l-11.1 2.8M941.7 732.5l-11 2.9M941.7 736l-10.9 2.9M941.7 739.5l-10.8 3M941.7 742.9l-10.3 2.9M941.7 746.4l-9.3 2.7M941.7 749.9l-8.3 2.5M941.7 753.4l-7.3 2.3M941.7 756.9l-6.4 2M941.7 760.3l-4.4 1.4M941.7 763.8l-1.4 0.5M941.7 767.3l-0.4 0.2M941.7 774.3l0.5 0M941.7 777.7l1.6 -0.1M941.7 781.2l4.8 -0.3M941.7 784.7l8.3 -0.6M941.7 788.2l11.8 -1.1M941.7 791.7l14.8 -1.7M941.7 795.1l16 -2.3M941.7 798.6l16.8 -2.8M941.7 802.1l12.2 -2.4M941.7 805.6l7.6 -1.7M988.1 645.5l-5 1M988.1 649l-5 1M988.1 652.5l-5.1 1M988.1 655.9l-5.1 1M988.1 659.4l-5.2 1M988.1 662.9l-5.2 1M988.1 666.4l-5.3 1M988.1 669.9l-5.3 1.1M988.1 673.3l-5.4 1.1M988.1 676.8l-5.5 1.1M988.1 680.3l-5.6 1.1M988.1 683.8l-5.7 1.2M988.1 687.3l-5.9 1.2M988.1 690.7l-6.1 1.3M988.1 694.2l-6.3 1.3M988.1 697.7l-6.5 1.4M988.1 701.2l-6.7 1.4M988.1 704.7l-6.9 1.5M988.1 708.1l-7.1 1.6M988.1 711.6l-7.2 1.6M988.1 715.1l-7.4 1.7M988.1 718.6l-7.2 1.7M988.1 722.1l-6.8 1.6M988.1 725.5l-6.4 1.5M988.1 729l-6 1.5M988.1 732.5l-5.5 1.4M988.1 736l-5.1 1.3M988.1 739.5l-2.9 0.8M988.1 742.9l-0.8 0.2M988.1 746.4l-0.4 0.1M988.1 753.4l0.4 0M988.1 756.9l0.7 0M988.1 760.3l2.4 0.1M988.1 763.8l3.5 0.1M988.1 767.3l4.4 0.1M988.1 770.8l5.3 0.1M988.1 774.3l3.8 0M988.1 777.7l2 0M988.1 781.2l0.8 0M988.1 784.7l0.4 0M1034.6 645.5l-4.3 0.8M1034.6 649l-4.3 0.8M1034.6 652.5l-4.3 0.8M1034.6 655.9l-4.3 0.8M1034.6 659.4l-4.3 0.8M1034.6 662.9l-4.3 0.8M1034.6 666.4l-4.3 0.8M1034.6 669.9l-4.3 0.8M1034.6 673.3l-4.3 0.8M1034.6 676.8l-4.3 0.8M1034.6 680.3l-4.2 0.8M1034.6 683.8l-4.1 0.7M1034.6 687.3l-4 0.7M1034.6 690.7l-3.9 0.7M1034.6 694.2l-3.8 0.7M1034.6 697.7l-3.7 0.7M1034.6 701.2l-3.5 0.6M1034.6 704.7l-3.4 0.6M1034.6 708.1l-3.3 0.6M1034.6 711.6l-3.2 0.6M1034.6 715.1l-3.1 0.6M1034.6 718.6l-2.9 0.5M1034.6 722.1l-2.8 0.5M1034.6 725.5l-2.7 0.5M1034.6 729l-2.5 0.5M1034.6 732.5l-2.4 0.4M1034.6 736l-2.2 0.4M1034.6 739.5l-2.1 0.4M1034.6 742.9l-1.9 0.3M1034.6 746.4l-1.7 0.3M1034.6 749.9l-0.8 0.1M1034.6 753.4l-0.7 0.1M1034.6 756.9l-0.5 0.1" stroke="#000" stroke-width="1.35" fill="none"/>
<path d="M793.5 646.8l4.5 -2.6l0.5 3.8zM793.5 650.2l4.5 -2.6l0.5 3.8zM793.6 653.7l4.5 -2.5l0.5 3.8zM793.6 657.1l4.5 -2.5l0.5 3.8zM793.7 660.6l4.5 -2.5l0.5 3.8zM793.7 664l4.5 -2.5l0.5 3.8zM793.8 667.4l4.5 -2.5l0.5 3.8zM793.9 670.9l4.5 -2.5l0.5 3.8zM793.9 674.3l4.6 -2.4l0.4 3.8zM794 677.7l4.6 -2.4l0.4 3.8zM794 681.2l4.6 -2.4l0.4 3.8zM794.1 684.6l4.6 -2.4l0.4 3.8zM794.2 688l4.6 -2.3l0.3 3.8zM794.2 691.4l4.6 -2.3l0.3 3.8zM794.3 694.8l4.6 -2.3l0.3 3.8zM794.3 698.2l4.7 -2.2l0.3 3.8zM794.3 701.7l4.7 -2.2l0.2 3.8zM794.4 705.1l4.7 -2.1l0.2 3.8zM794.4 708.4l4.7 -2.1l0.1 3.8zM794.4 711.8l4.7 -2l0.1 3.8zM794.5 715.2l4.8 -2l0.1 3.8zM794.5 718.6l4.8 -1.9l0 3.8zM794.5 722l4.8 -1.8l0 3.8zM794.6 725.3l4.9 -1.8l-0.1 3.8zM794.6 728.7l4.9 -1.7l-0.2 3.8zM794.6 732l4.9 -1.6l-0.2 3.8zM794.7 735.4l4.9 -1.5l-0.3 3.8zM794.7 738.7l5 -1.4l-0.4 3.8zM794.8 742l5 -1.3l-0.5 3.8zM795 745.3l5 -1.2l-0.6 3.8zM795.2 748.6l5.1 -1l-0.7 3.7zM795.3 752l5.1 -0.9l-0.8 3.7zM795.5 755.3l5.1 -0.7l-0.9 3.7zM795.7 758.6l5.1 -0.6l-1 3.7zM795.8 761.8l5.1 -0.4l-1.1 3.6zM796 765.1l5.2 -0.2l-1.2 3.6zM796.3 768.5l5.2 0l-1.4 3.5zM796.5 771.8l5.2 0.2l-1.5 3.5zM796.8 775.1l5.1 0.4l-1.6 3.4zM797 778.4l5.1 0.6l-1.8 3.4zM799 782.7l3.6 0.4l-1.5 2.6zM840.7 646.9l4.4 -2.7l0.6 3.7zM840.7 650.3l4.4 -2.7l0.6 3.7zM840.7 653.8l4.4 -2.7l0.6 3.7zM840.7 657.3l4.4 -2.7l0.6 3.7zM840.7 660.8l4.4 -2.7l0.6 3.7zM840.7 664.2l4.4 -2.6l0.6 3.8zM840.7 667.7l4.4 -2.6l0.6 3.8zM840.7 671.2l4.4 -2.6l0.6 3.8zM840.7 674.6l4.4 -2.6l0.6 3.8zM840.7 678.1l4.4 -2.6l0.6 3.8zM840.7 681.6l4.5 -2.6l0.6 3.8zM840.7 685l4.5 -2.6l0.6 3.8zM840.7 688.5l4.5 -2.6l0.6 3.8zM840.7 691.9l4.5 -2.6l0.6 3.8zM840.7 695.4l4.5 -2.6l0.5 3.8zM840.8 698.8l4.5 -2.6l0.5 3.8zM840.9 702.3l4.5 -2.5l0.5 3.8zM841 705.7l4.5 -2.5l0.5 3.8zM841.1 709.2l4.5 -2.5l0.5 3.8zM841.1 712.6l4.5 -2.5l0.5 3.8zM841.2 716l4.5 -2.5l0.5 3.8zM841.3 719.5l4.5 -2.5l0.5 3.8zM841.4 722.9l4.5 -2.4l0.4 3.8zM841.5 726.4l4.6 -2.4l0.4 3.8zM841.6 729.8l4.6 -2.4l0.4 3.8zM841.7 733.2l4.6 -2.4l0.4 3.8zM841.8 736.6l4.6 -2.3l0.4 3.8zM841.8 740.1l4.6 -2.3l0.3 3.8zM842.1 743.5l4.6 -2.3l0.3 3.8zM842.4 746.9l4.7 -2.2l0.3 3.8zM842.8 750.3l4.7 -2.2l0.2 3.8zM843.1 753.7l4.7 -2.2l0.2 3.8zM843.4 757.1l4.4 -2.1l0.2 3.8zM843.8 760.5l4.2 -1.6l0.1 3zM844.1 763.9l3.9 -1.6l0.1 3zM844.5 767.3l3.6 -1.5l0 3zM845 770.8l3.2 -1.5l0 3zM845.4 774.2l2.9 -1.4l-0.1 3zM845.8 777.6l2.6 -1.4l-0.1 3zM846.3 781.1l2.2 -1.4l-0.2 3zM846.7 784.5l1.9 -1.4l-0.2 3zM847.1 788l1.6 -1.4l-0.3 3zM886.1 647.1l4.4 -2.7l0.7 3.7zM886 650.6l4.4 -2.7l0.7 3.7zM886 654.1l4.4 -2.7l0.7 3.7zM885.9 657.6l4.4 -2.7l0.7 3.7zM885.8 661.1l4.4 -2.7l0.7 3.7zM885.7 664.6l4.4 -2.7l0.7 3.7zM885.6 668.1l4.4 -2.7l0.7 3.7zM885.6 671.6l4.4 -2.7l0.7 3.7zM885.5 675.1l4.4 -2.7l0.7 3.7zM885.4 678.6l4.4 -2.7l0.7 3.7zM885.3 682.1l4.4 -2.7l0.7 3.7zM885.1 685.6l4.4 -2.7l0.7 3.7zM885 689.1l4.4 -2.7l0.7 3.7zM884.8 692.6l4.4 -2.7l0.7 3.7zM884.6 696.1l4.4 -2.7l0.7 3.7zM884.5 699.6l4.4 -2.7l0.7 3.7zM884.3 703.1l4.4 -2.7l0.7 3.7zM884.2 706.7l4.4 -2.7l0.7 3.7zM884 710.2l4.4 -2.7l0.7 3.7zM883.8 713.7l4.4 -2.7l0.7 3.7zM883.7 717.2l4.4 -2.7l0.7 3.7zM883.5 720.7l4.4 -2.7l0.7 3.7zM883.4 724.2l4.4 -2.7l0.7 3.7zM883.3 727.7l4.4 -2.7l0.7 3.7zM883.2 731.2l4.4 -2.7l0.7 3.7zM883.1 734.7l4.4 -2.7l0.7 3.7zM883 738.2l4.4 -2.7l0.7 3.7zM882.9 741.7l4.4 -2.7l0.7 3.7zM883.1 745.1l4.4 -2.7l0.7 3.7zM883.6 748.5l4.4 -2.7l0.7 3.7zM884.1 751.9l4.4 -2.7l0.7 3.7zM884.6 755.3l4.4 -2.7l0.7 3.7zM885.1 758.7l4.4 -2.7l0.7 3.7zM886 762l4.4 -2.7l0.7 3.7zM887.5 765.2l4.4 -2.7l0.7 3.7zM888.9 768.4l4.4 -2.7l0.7 3.7zM890.4 771.7l3.9 -2.2l0.5 3zM891.8 774.9l2.7 -2l0.5 3zM892.9 778.2l1.7 -1.8l0.5 3zM897 788.5l-1.8 1.2l0.5 -3zM899.2 792.4l-3.7 0.9l0.5 -3zM900.4 796.1l-4.7 1.1l0.7 -3.7zM901.5 799.8l-5.1 1l0.7 -3.7zM902.7 803.4l-5.1 1l0.7 -3.7zM903.9 807.1l-5.1 1l0.7 -3.7zM904 810.6l-5.1 1l0.7 -3.7zM904 814.1l-5.1 1l0.7 -3.7zM931.8 647.4l4.4 -2.8l0.7 3.7zM931.7 650.9l4.4 -2.8l0.7 3.7zM931.6 654.4l4.4 -2.8l0.7 3.7zM931.5 657.9l4.3 -2.8l0.7 3.7zM931.4 661.4l4.3 -2.8l0.7 3.7zM931.3 665l4.3 -2.8l0.7 3.7zM931.2 668.5l4.3 -2.8l0.7 3.7zM931.1 672l4.3 -2.8l0.7 3.7zM931 675.5l4.3 -2.8l0.8 3.7zM930.8 679l4.3 -2.8l0.8 3.7zM930.6 682.6l4.3 -2.8l0.8 3.7zM930.2 686.2l4.3 -2.8l0.8 3.7zM929.7 689.8l4.3 -2.8l0.8 3.7zM929.3 693.4l4.3 -2.9l0.8 3.7zM928.8 697l4.3 -2.9l0.8 3.7zM928.4 700.6l4.3 -2.9l0.8 3.7zM927.9 704.2l4.3 -2.9l0.8 3.7zM927.5 707.8l4.3 -2.9l0.8 3.7zM927.2 711.4l4.3 -2.9l0.8 3.7zM926.9 715l4.3 -2.9l0.9 3.7zM926.6 718.6l4.2 -2.9l0.9 3.7zM926.3 722.3l4.2 -3l0.9 3.7zM926 725.9l4.2 -3l0.9 3.7zM925.9 729.5l4.2 -3l0.9 3.7zM925.9 733l4.2 -3l0.9 3.7zM926 736.6l4.2 -3l1 3.7zM926.1 740.1l4.1 -3.1l1 3.7zM926.2 743.7l4.1 -3.1l1 3.7zM926.8 747.1l4.1 -3.1l1 3.7zM927.8 750.4l4.1 -3.2l1.1 3.7zM928.8 753.7l4.1 -3.2l1.1 3.6zM929.8 757l4 -3.2l1.1 3.6zM930.7 760.3l4 -3.3l1.1 3.6zM932.7 763.3l4 -3.3l1.2 3.6zM935.8 765.8l3.9 -3.3l1.2 3.6zM938.8 768.3l1.9 -2.3l1 2.8zM944.9 774.2l-2.7 1.6l-0.1 -3zM948.1 777.5l-4.7 2.1l-0.1 -3.8zM951.3 780.7l-4.7 2.2l-0.2 -3.8zM954.8 783.7l-4.6 2.3l-0.3 -3.8zM958.3 786.6l-4.6 2.3l-0.4 -3.8zM961.3 789.4l-4.5 2.4l-0.4 -3.8zM962.5 792.2l-4.5 2.6l-0.5 -3.8zM963.3 795l-4.4 2.7l-0.6 -3.7zM958.6 798.8l-4.3 2.8l-0.7 -3.7zM954 802.8l-4.3 2.9l-0.8 -3.7zM978.4 647.3l4.4 -2.8l0.7 3.7zM978.4 650.8l4.4 -2.8l0.7 3.7zM978.4 654.3l4.4 -2.8l0.7 3.7zM978.3 657.8l4.4 -2.8l0.7 3.7zM978.2 661.3l4.3 -2.8l0.7 3.7zM978.2 664.8l4.3 -2.8l0.7 3.7zM978.1 668.3l4.3 -2.8l0.7 3.7zM978.1 671.9l4.3 -2.8l0.7 3.7zM978 675.4l4.3 -2.8l0.7 3.7zM978 678.9l4.3 -2.8l0.7 3.7zM977.9 682.4l4.3 -2.8l0.8 3.7zM977.7 685.9l4.3 -2.8l0.8 3.7zM977.5 689.5l4.3 -2.8l0.8 3.7zM977.3 693l4.3 -2.8l0.8 3.7zM977.1 696.5l4.3 -2.9l0.8 3.7zM977 700.1l4.3 -2.9l0.8 3.7zM976.8 703.6l4.3 -2.9l0.8 3.7zM976.6 707.2l4.3 -2.9l0.8 3.7zM976.4 710.7l4.3 -2.9l0.8 3.7zM976.2 714.3l4.3 -2.9l0.8 3.7zM976 717.9l4.3 -2.9l0.8 3.7zM976.2 721.4l4.2 -2.9l0.9 3.7zM976.7 724.8l4.2 -3l0.9 3.7zM977.1 728.2l4.2 -3l0.9 3.7zM977.5 731.6l4.2 -3l0.9 3.7zM978 735.1l4.2 -3l0.9 3.7zM978.4 738.5l4.2 -3l1 3.7zM980.6 741.5l4.2 -3.1l1 3.7zM983.1 744.3l3.8 -3l1 3.7zM985.5 747.2l1.8 -2.1l0.8 2.9zM990.9 753.6l-2.5 1.3l0.2 -3zM993.1 757.1l-4.3 1.3l0.2 -3zM995.3 760.7l-4.9 1.7l0.2 -3.8zM996.5 764.1l-4.9 1.7l0.1 -3.8zM997.3 767.5l-4.8 1.8l0.1 -3.8zM998.2 770.9l-4.8 1.9l0 -3.8zM996.7 774.2l-4.8 1.9l0 -3.8zM995 777.6l-4.8 2l-0.1 -3.8zM993.2 781l-4.2 2l-0.1 -3.8zM990.6 784.6l-2 1.6l-0.2 -3zM1025.6 647.1l4.4 -2.7l0.7 3.7zM1025.6 650.6l4.4 -2.7l0.7 3.7zM1025.6 654.1l4.4 -2.7l0.7 3.7zM1025.6 657.6l4.4 -2.7l0.7 3.7zM1025.6 661l4.4 -2.7l0.7 3.7zM1025.6 664.5l4.4 -2.7l0.7 3.7zM1025.6 668l4.4 -2.7l0.7 3.7zM1025.6 671.5l4.4 -2.7l0.7 3.7zM1025.6 675l4.4 -2.7l0.7 3.7zM1025.6 678.4l4.4 -2.7l0.7 3.7zM1025.6 681.9l4.4 -2.7l0.7 3.7zM1025.8 685.4l4.4 -2.7l0.7 3.7zM1025.9 688.8l4.4 -2.7l0.7 3.7zM1026 692.3l4.4 -2.7l0.7 3.7zM1026.1 695.7l4.4 -2.7l0.7 3.7zM1026.2 699.2l4.4 -2.7l0.7 3.7zM1026.3 702.7l4.4 -2.7l0.7 3.7zM1026.5 706.1l4.4 -2.7l0.7 3.7zM1026.6 709.6l4.4 -2.7l0.7 3.7zM1026.7 713l4.4 -2.7l0.7 3.7zM1026.8 716.5l4.4 -2.7l0.7 3.7zM1026.9 720l4.4 -2.7l0.7 3.7zM1027.1 723.4l4.4 -2.7l0.7 3.7zM1027.2 726.9l4.4 -2.7l0.7 3.7zM1027.4 730.3l4.4 -2.7l0.7 3.7zM1027.5 733.8l4.4 -2.7l0.7 3.7zM1027.7 737.2l4.4 -2.7l0.7 3.7zM1027.8 740.7l4.4 -2.7l0.7 3.7zM1027.9 744.1l4.4 -2.7l0.7 3.7zM1028.1 747.6l4.4 -2.7l0.7 3.7zM1029.2 750.9l4.3 -2.7l0.7 3.7zM1030.2 754.2l3.5 -2.1l0.5 3zM1031.3 757.5l2.6 -2l0.5 3z" fill="#000"/>
<path d="M847.3 791.7h0.1M847.7 795.1h0.1M848 798.6h0.1M848.3 802.1h0.1M848.7 805.6h0.1M893.9 781.2h0.1M895.1 784.7h0.1M941.6 770.8h0.1M988.2 749.9h0.1" stroke="#000" stroke-width="1.6" stroke-linecap="round" fill="none"/>
<path d="M755.8 771.3L757.8 771.4L759.8 771.5L761.8 771.7L763.8 771.9L765.8 772.3L767.8 772.7L769.8 773.2L771.8 773.7L773.8 774.3L775.8 775L777.7 775.7L779.7 776.5L781.7 777.3L783.7 778.2L785.7 779.2L787.7 780.2L789.7 781.2L791.7 782.2L793.7 783.3L795.7 784.4L797.7 785.6L799.6 786.8L801.6 787.9L803.6 789.1L805.6 790.3L807.6 791.5L809.6 792.7L811.6 793.9L813.6 795.1L815.6 796.3L817.6 797.5L819.6 798.6L821.5 799.8L823.5 800.9L825.5 802L827.5 803L829.5 804L831.5 805L833.5 806L835.5 806.9L837.5 807.8L839.5 808.7L841.5 809.5L843.5 810.3L845.4 811.1L847.4 811.8L849.4 812.5L851.4 813.1L853.4 813.7L855.4 814.2L857.4 814.8L859.4 815.3L861.4 815.7L863.4 816.1L865.4 816.5L867.3 816.9L869.3 817.2L871.3 817.5L873.3 817.8L875.3 818L877.3 818.3L879.3 818.4L881.3 818.6L883.3 818.8L885.3 818.9L887.3 819L889.2 819L891.2 819.1L893.2 819.1L895.2 819.1L897.2 819.1L899.2 819.1L901.2 819L903.2 819L905.2 818.9L907.2 818.8L909.2 818.6L911.1 818.4L913.1 818.3L915.1 818L917.1 817.8L919.1 817.5L921.1 817.2L923.1 816.9L925.1 816.5L927.1 816.1L929.1 815.7L931.1 815.3L933.1 814.8L935 814.2L937 813.7L939 813.1L941 812.5L943 811.8L945 811.1L947 810.3L949 809.5L951 808.7L953 807.8L955 806.9L956.9 806L958.9 805L960.9 804L962.9 803L964.9 802L966.9 800.9L968.9 799.8L970.9 798.6L972.9 797.5L974.9 796.3L976.9 795.1L978.8 793.9L980.8 792.7L982.8 791.5L984.8 790.3L986.8 789.1L988.8 787.9L990.8 786.8L992.8 785.6L994.8 784.4L996.8 783.3L998.8 782.2L1000.8 781.2L1002.7 780.2L1004.7 779.2L1006.7 778.2L1008.7 777.3L1010.7 776.5L1012.7 775.7L1014.7 775L1016.7 774.3L1018.7 773.7L1020.7 773.2L1022.7 772.7L1024.6 772.3L1026.6 771.9L1028.6 771.7L1030.6 771.5L1032.6 771.4L1034.6 771.3" stroke="#000" stroke-width="1.7" fill="none"/>
</g>
<rect x="755.5" y="644.8" width="279.8" height="173" fill="none" stroke="#000" stroke-width="2.9"/>
<line x1="1036.7" y1="798.5" x2="1047.8" y2="798.5" stroke="#000" stroke-width="1.3"/>
<text x="1059.6" y="806.9" font-size="25">0</text>
<line x1="1036.7" y1="751.8" x2="1047.8" y2="751.8" stroke="#000" stroke-width="1.3"/>
<text x="1059.6" y="760.2" font-size="25">1</text>
<line x1="1036.7" y1="705" x2="1047.8" y2="705" stroke="#000" stroke-width="1.3"/>
<text x="1059.6" y="713.4" font-size="25">2</text>
<line x1="1036.7" y1="658.3" x2="1047.8" y2="658.3" stroke="#000" stroke-width="1.3"/>
<text x="1059.6" y="666.7" font-size="25">3</text>
<text x="1094.79" y="729.83" font-size="28.6" font-style="italic">y</text>
<path d="M1108.40 736.00L1118.50 710.20" stroke="#000" stroke-width="1.5"/>
<text x="1121.33" y="729.57" font-size="27.32" font-style="italic">η</text>
<defs><clipPath id="tlp4"><rect x="0" y="-5" width="282.42" height="190"/></clipPath>
<g id="lp4" clip-path="url(#tlp4)"><g transform="scale(0.5)" stroke="#000" stroke-width="2" stroke-linejoin="round" fill-rule="evenodd">
<path d="M420 115l2-1l3 0l6 6l5 3l5 8l1 0l2-2l1-7l1-1l7 3l7-4l3 0l10 3l7-5l12-2l2 3l-5 7l1 4l2 2l5 0l8-5l4 1l3 4l1 5l1 3l4 3l2 1l3-1l4-7l6-4l3 1l4 5l1 2l2 0l5-7l4-5l5-5l5-2l2-2l4 2l3 5l4 4l-1 6l3 7l-1 6l0 2l3 2l6-2l0 111l-3 0l-1-1l-31 0l-1 1l-9-1l-15 3l-3-1l11-7l15-7l-8-4l-6 1l-6 3l-12 5l-17 4l-22 11l-12 4l-11 9l-13 8l-37 17l-15 4l-19 7l-20 6l-20 3l-14 3l-13 13l-3 7l-47 0l-1-1l-14 0l-2-2l-10 0l-1-1l-7 0l-1-1l-6 0l-1-2l-6 0l-1-1l-10-2l-2-1l-2 0l-2-1l-7-2l-1-1l-7-2l-4-2l-3 0l-2-2l-1 0l-1-1l-3 0l-27-14l-7-3l-3-3l-7-3l-2-2l-7-3l-3-3l-7-3l-3-3l-10-4l-3-3l-9-4l-2-1l-7-3l-4-3l-3 0l-4-3l-3 0l-4-2l-7-2l-1-1l-5 0l-1-2l-4 0l-2-1l-7 0l-1-1l-35 0l0-10l3-2l-3-1l0-110l10-13l4-3l8-3l2 1l2 6l4 4l-1 6l2 7l0 6l1 2l3 1l6-4l2 1l-1 5l7 12l2 11l0 9l0 3l8 4l2 2l2 12l3 5l7 5l2 3l0 3l-1 4l1 3l6 6l5 8l1 5l7 7l9 14l10 10l43 25l20 10l25 10l20 6l29 5l13 2l17 0l4-10l6-6l0-3l-2-7l0-5l2-2l4-2l1-3l-1-6l-1-1l-6-2l1-4l5-6l2-1l5 1l6-5l1-1l-1-7l1-5l6-7l5-14l1-2l-2-6l2-7l-7-8l0-3l4-3l9 4l8 2l3-1l2-2l-1-4l-8-6l-3 0l-7 3l-3-1l-1-2l-1-3l2-3l6-2l1-2l0-8l4-9l10-7l7-11l11-7l3-7l3-2l4-2l5 0l8 9l1 0l0-4l-3-6l0-2l2-1l13-2l4 3l3 0l1-1l0-7l2-4l5-6l4-1l4 0l3 1l6 6l7 0l5-3l2-7zM282 232l3 0l3 2l2 4l-1 4l-1 5l-3 3l-4 4l-3 0l-3-3l-1-7l4-7z" fill="#fff4f4"/>
<path d="M425 149l13 4l8 0l6 2l7 0l7 3l11 1l7-3l12 8l3 1l3 0l6-3l7 0l3 1l5 4l7 2l3-1l4-4l5 4l7 2l2-2l4-7l5 0l5 2l3 4l1 6l4 5l0 4l1 3l11 10l0 67l-3 0l-1-1l-51 0l15-9l10-4l-15-12l-7-1l-3 1l-5 9l-3 3l-15 6l-13 3l-32 14l-23 16l-10 4l-19 10l-30 8l-8 4l-24 7l-14-2l-20 1l-3-2l-1-3l0-10l0-9l-1-1l-7-1l-1-2l0-2l7-20l12-13l0-4l-3-7l1-8l2-4l8-7l2-7l-1-6l4-6l2-5l2-2l6 2l2-1l5-5l0-3l-1-4l1-1l7-4l11-3l30-20l3-4l0-6l3 0l4 3l5-3zM530 182l0 2l2 0l1 0l0-2l-3-1zM-9 161l4 0l5 1l2 3l2 7l4 6l1 7l16 15l4 2l0 8l13 11l0 3l-2 9l1 4l7 7l3 8l5 3l1 3l-2 3l2 1l6 3l5 1l6 4l59 34l22 11l25 10l20 6l29 6l14 1l48 3l4 2l2 3l-1 2l-1 2l-42 0l-1-1l-14 0l-2-2l-10 0l-1-1l-7 0l-1-1l-6 0l-1-2l-6 0l-1-1l-10-2l-2-1l-2 0l-2-1l-7-2l-1-1l-7-2l-4-2l-3 0l-2-2l-1 0l-1-1l-3 0l-27-14l-7-3l-3-3l-7-3l-2-2l-7-3l-6-4l-4-2l-3-3l-10-4l-3-3l-4-1l-18-10l-3 0l-4-3l-3 0l-4-2l-7-2l-1-1l-5 0l-1-2l-4 0l-2-1l-7 0l-1-1l-35 0l0-9l10-4l-10-8l0-71l6 0zM43 254l-2 1l2 1l2 0l1-2zM299 313l2 0l3 5l2 6l-3 4l-4 3l-2-2l-1-7l2-7z" fill="#ffeaea"/>
<path d="M434 167l11 0l10 5l11 0l12 5l9-3l10 1l3 2l4 4l4 3l9 11l1 4l-1 6l1 4l2 2l6-1l2 2l-1 2l-4 4l-1 2l0 11l-5 7l-9 11l-10 5l-11 2l-30 13l-21 15l-8 3l-18 8l-30 9l-9 4l-7-1l-13 3l-15 0l-4-2l-1-4l-5-4l-1-2l1-11l-1-8l5-7l1-4l2-17l-1-9l11-19l3-7l6-4l5-6l8-6l2-5l2-3l7-4l9-2l7-8l14-7l9 0zM-2 201l2 1l3 8l0 6l5 3l10 9l-1 3l-3 3l-1 1l1 10l1 4l6 1l5 1l28 10l16 8l64 37l21 10l25 10l21 6l27 5l56 5l7 2l2 2l0 1l-4 3l-36 0l-1-1l-14 0l-2-2l-10 0l-1-1l-7 0l-1-1l-6 0l-1-2l-6 0l-1-1l-10-2l-2-1l-2 0l-2-1l-7-2l-1-1l-7-2l-4-2l-3 0l-2-2l-1 0l-1-1l-3 0l-27-14l-7-3l-3-3l-7-3l-2-2l-7-3l-6-4l-4-2l-3-3l-10-4l-3-3l-4-1l-18-10l-3 0l-4-3l-3 0l-4-2l-7-2l-1-1l-5 0l-1-2l-4 0l-2-1l-7 0l-1-1l-35-1l0-6l6-3l10-3l-1-6l-3-7l0-7l1-6l3-6l-3-7l0-3l2-3zM564 201l2 2l2 7l-1 6l1 1l6 3l8 8l0 3l-3 2l-1 2l1 13l1 1l5 1l0 12l-3 0l-1-1l-31 0l-14-2l12-7l13-4l-1-6l-4-9l1-10l4-7l-3-6l-1-3l1-2z" fill="#ffdfdf"/>
<path d="M432 179l18 3l9 0l10 2l8 6l11-1l8 4l7 14l1 6l3 7l0 14l-5 14l-8 4l-13 3l-26 11l-21 14l-24 11l-37 10l-21 1l-8-1l-2-21l1-5l0-12l3-14l2-8l10-18l12-14l5-4l5-7l4-3l10-6l10-3l10-4zM-5 249l7 0l16 2l12 3l20 6l20 10l70 39l16 8l26 10l19 6l25 5l55 5l7 2l1 2l-6 3l-30 0l-1-1l-14 0l-2-2l-10 0l-1-1l-7 0l-1-1l-6 0l-1-2l-6 0l-1-1l-10-2l-2-1l-2 0l-2-1l-7-2l-1-1l-7-2l-4-2l-3 0l-2-2l-1 0l-1-1l-3 0l-27-14l-7-3l-3-3l-7-3l-2-2l-7-3l-6-4l-4-2l-3-3l-10-4l-3-3l-4-1l-18-10l-3 0l-4-3l-3 0l-4-2l-7-2l-1-1l-5 0l-1-2l-4 0l-2-1l-7 0l-1-1l-26 0l-9-2l0-4l7-3zM561 249l8 0l16 2l0 11l-3 0l-1-1l-27 0l-14-2l3-3l5-3z" fill="#ffd4d4"/>
<path d="M432 189l7 0l9 2l11 1l14 4l12 5l9 22l1 14l0 11l-10 4l-22 6l-13 6l-18 12l-22 9l-16 5l-19 4l-14 0l-6-1l-2-28l4-17l13-25l31-26l10-4zM-6 251l8-2l17 3l14 3l17 6l20 9l70 40l18 9l24 9l18 5l18 4l17 3l36 3l11 2l4 2l-9 3l-24 0l-1-1l-14 0l-2-2l-10 0l-1-1l-7 0l-1-1l-6 0l-1-2l-6 0l-1-1l-10-2l-2-1l-2 0l-2-1l-7-2l-1-1l-7-2l-4-2l-3 0l-2-2l-1 0l-1-1l-3 0l-27-14l-7-3l-3-3l-7-3l-2-2l-7-3l-6-4l-4-2l-3-3l-10-4l-3-3l-4-1l-18-10l-3 0l-4-3l-3 0l-4-2l-7-2l-1-1l-5 0l-1-2l-4 0l-2-1l-7 0l-1-1l-23 0l-12-2l0-3l2-1zM558 251l9-2l18 3l0 10l-3 0l-1-1l-24 0l-14-3l7-4z" fill="#ffc9c9"/>
<path d="M432 197l6 0l14 2l25 9l2 2l4 11l1 7l2 12l-1 8l-8 4l-10 2l-10 3l-9 4l-16 11l-8 4l-10 3l-22 6l-20 2l-6 0l0-1l-1-7l-2-7l0-7l6-11l4-14l6-14l25-20l16-7zM-3 251l8-1l17 3l28 9l20 9l70 40l18 8l22 9l18 6l19 3l16 3l34 3l11 2l4 2l-13 3l-16 0l-1-1l-14 0l-2-2l-9 0l-2-1l-7 0l-1-1l-6 0l-1-2l-6 0l-1-1l-5 0l-1-2l-4 0l-2-1l-2 0l-2-1l-3 0l-1-2l-3 0l-1-1l-3 0l-1-2l-3 0l-4-2l-3 0l-4-3l-6-2l-28-14l-6-4l-7-3l-2-2l-7-3l-3-3l-7-3l-3-3l-10-4l-3-3l-4-1l-18-10l-3 0l-4-3l-3 0l-4-2l-7-2l-1-1l-5 0l-1-2l-4 0l-2-1l-7 0l-1-1l-20 0l-15-3l7-4zM562 251l9-1l14 2l0 10l-3 0l-1-1l-22 0l-14-3l7-4z" fill="#ffbfbf"/>
<path d="M421 207l17-1l24 7l7 3l3 5l4 14l0 13l-6 3l-9 1l-9 3l-8 4l-12 8l-8 4l-10 4l-18 4l-19 0l-2-9l-1-4l5-14l1-7l7-12l13-14l8-6zM-5 252l9-1l17 2l14 4l15 6l20 9l70 40l18 8l24 9l16 5l20 4l18 3l25 2l13 2l4 2l-8 2l-10 1l-28-3l-31-5l-25-8l-35-15l-28-15l-1-1l-5-2l-5-4l-8-3l-2-3l-10-4l-3-3l-4-1l-18-10l-3 0l-4-3l-3 0l-4-2l-7-2l-1-1l-5 0l-1-2l-4 0l-2-1l-7 0l-1-1l-18 0l-15-3l5-3zM560 252l8-1l17 2l0 9l-3 0l-1-1l-19 0l-15-3l6-4z" fill="#ffb4b4"/>
<path d="M422 216l13 0l18 3l6 2l5 9l3 18l-19 5l-23 13l-14 5l-15 2l-7-1l-2-4l0-5l2-16l2-5l10-14l13-9zM-2 252l10 0l15 3l28 9l20 9l69 39l18 9l22 9l17 5l17 3l19 3l27 2l12 3l2 1l-14 2l-33-3l-26-5l-26-8l-33-14l-63-35l-21-9l-1-2l-2 0l-12-5l-14-5l-5 0l-1-1l-7 0l-1-1l-16 0l-13-3l0-2l2-1zM562 252l9 0l14 2l0 8l-3 0l-1-1l-17 0l-13-3l0-2l2-1z" fill="#ffa9a9"/>
<path d="M432 224l7 1l11 4l3 4l2 8l0 7l-14 4l-20 10l-14 3l-8 0l-1-11l1-7l8-13l14-8zM-5 253l7-1l19 3l14 4l15 5l21 10l69 39l18 9l22 8l32 9l21 3l27 2l9 2l1 1l-10 2l-38-4l-22-5l-24-7l-34-15l-68-37l-25-11l-26-8l-8-1l-15-1l-10-2l-2-2zM561 253l7-1l17 3l0 7l-4-1l-16-1l-10-2l-2-2z" fill="#ff9e9e"/>
<path d="M425 237l7 0l6 2l2 9l-18 8l-4 1l-5-1l-1-5l2-9l3-2zM-2 254l10 0l15 2l28 9l27 14l62 35l18 8l22 9l18 5l23 5l44 5l0 1l-5 1l-39-4l-22-5l-24-7l-33-14l-67-37l-25-11l-22-8l-14-2l-14-1l-10-3zM564 253l21 2l0 6l-20-2l-10-3z" fill="#ff9494"/>
<path d="M-3 255l7-1l17 2l28 9l22 10l52 30l-2 1l-46-26l-26-12l-23-7l-12-2l-14 0l-8-3zM561 255l7-1l17 2l0 4l-20-1l-8-3zM124 306l2 1l-3 0zM127 308l1 0l-1 1l-1-1zM130 309l1 1l-1 0l-2 0zM137 313l2 1l-2 0zM140 315l1 0l-1 0zM142 316l2 1l-2 0zM145 318l2 0l-2 0zM155 322l1 0l-2 0zM158 323l1 1l-2 0zM161 325l2 0l-3 0zM163 326l3 0l-1 1zM168 327l2 1l-3 0zM170 329l3 0l-1 1zM175 330l2 1l-3 0zM179 332l2 0l-3 0zM183 333l2 0l-3 0zM187 334l3 1l-3 0zM191 336l4 0l-2 1zM197 337l3 1l-4 0zM203 338l3 1l-5 0zM208 340l5 0l-5 0zM215 341l6 1l-7 0zM224 343l6 0l-8 0zM233 344l10 1l-5 0l-6 0zM246 346l16 0l-2 1l-15-1z" fill="#ff8989"/>
<path d="M0 255l18 1l16 5l19 6l20 10l-2 1l-22-11l-17-5l-17-3l-15-1l-6-2zM564 255l8 0l13 2l0 2l-20-1l-6-2zM74 278l2 1l-1 0l-2 0zM77 280l1 0l-1 0zM79 281l2 1l-2 0zM82 282l1 1l-2 0zM85 284l1 0l-2 0zM88 286l-1 0zM95 290l-1 0z" fill="#ff7e7e"/>
<path d="M-3 256l7-1l17 3l-3 0l-7-1l-11 0zM562 256l3-1l7 1l13 2l-20-1l-4-1zM23 259l4 0l-5 0zM30 260l2 1l-3 0z" fill="#ff7373"/>
<path d="M0 256l6 0l-7 0z" fill="#ff6969"/>
<path d="M107 88l5 0l6 5l2 4l6 5l1 6l2 3l2 0l2-3l-2-7l7-7l3-1l7 4l6 2l4 5l5 2l6-5l6-2l7-3l4 1l1 1l4 9l3 3l7 3l9 1l5 3l0 9l3 5l5 5l0 4l-3 9l-2 2l-4 2l-4 3l-7 1l-1 3l2 3l4 0l7-5l3-1l3 1l1 3l0 7l-1 2l-3 1l-2 3l4 7l-3 8l2 11l-5 8l-2 6l-7 1l-11 8l-3 4l-2 8l-3 4l-8 2l-5 3l-5-4l-7-11l-3 0l-7 3l-3-2l-6-9l-6-15l-7-8l-5-9l4-8l6-9l0-4l-3-5l0-5l-1-1l-4 0l-3 5l-6 2l0-6l-7-6l-5 2l-3 7l-4-2l-3-3l-1-6l1-3l8-2l1-2l0-4l-5-6l-1-4l2-4l5-6l0-3l-2-2l-4-3l-2-4l3-6l2-8l2-3zM145 111l0 2l1-1zM205 188l-2 1l0 3l1 3l1 0l3-3l2-3l-2-2zM173 200l-1 3l1 2l2 1l2-1l0-3l-1-2zM162 205l-1 1l-1 4l1 6l1 1l4-4l1-3l-4-5zM103 163l7 2l6 0l1 0l-2 5l-3 3l-3 0l-3-1l-4-4l0-3zM110 183l3 2l0 3l-1 0l-3-2l0-1zM536 251l4-1l2 1l-17 7l-8 5l-3 3l4 0l22-5l7 1l-6 0l-1 1l-10 2l-1 1l-7 2l-4 2l-3 0l-4 3l-3 0l-21 11l-2 0l-2 3l-10 4l-3 3l-7 3l-6 4l-4 2l-3 2l-7 3l-2 3l-5 1l-29 16l-3 0l-1 1l-2 0l-1 2l-3 0l-4 2l-7 2l-1 1l-7 2l-2 1l-3 0l-1 1l-10 2l-1 1l-6 0l-1 2l-6 0l-1 1l-7 0l-2 1l-9 0l-2 2l-14 0l-1 1l-5 0l5-4l5-6l5-2l19-7l28-7l9-4l32-10l32-17l27-17l21-10l16-7z" fill="#f4f4ff"/>
<path d="M513 259l4 0l-9 6l-2 3l0 2l24-6l11-2l-1 1l-4 0l-2 2l-4 0l-1 1l-7 2l-4 2l-3 0l-4 3l-3 0l-21 11l-2 0l-2 3l-10 4l-3 3l-7 3l-6 4l-4 2l-3 2l-7 3l-2 3l-5 1l-29 16l-3 0l-4 3l-3 0l-4 2l-7 2l-1 1l-7 2l-2 1l-3 0l-1 1l-10 2l-1 1l-6 0l-1 2l-6 0l-1 1l-7 0l-2 1l-9 0l-2 2l-11 0l5-6l3-1l35-13l13-3l41-14l42-23l17-12l23-11z" fill="#eaeaff"/>
<path d="M536 263l5 0l-1 0l-4 0l-2 2l-4 0l-1 1l-7 2l-4 2l-3 0l-4 3l-3 0l-21 11l-2 0l-2 3l-10 4l-3 3l-7 3l-6 4l-4 2l-3 2l-7 3l-2 3l-5 1l-29 16l-3 0l-4 3l-3 0l-4 2l-7 2l-1 1l-7 2l-2 1l-3 0l-1 1l-10 2l-1 1l-6 0l-1 2l-6 0l-1 1l-7 0l-2 1l-9 0l-2 2l-6 0l9-5l18-8l40-12l26-10l67-38l14-5l3 0l3 2z" fill="#dfdfff"/>
<path d="M526 266l4-1l-1 1l-3 0l-1 2l-3 0l-4 2l-3 0l-4 3l-3 0l-21 11l-2 0l-2 3l-10 4l-3 3l-7 3l-6 4l-4 2l-3 2l-7 3l-2 3l-5 1l-29 16l-3 0l-1 1l-2 0l-1 2l-3 0l-4 2l-7 2l-1 1l-7 2l-2 1l-3 0l-1 1l-10 2l-1 1l-6 0l-1 2l-6 0l-1 1l-7 0l-2 1l-9 0l30-12l28-9l26-9l29-16l38-21l16-4z" fill="#d4d4ff"/>
<path d="M519 269l2-1l-3 2l-3 0l-4 3l-3 0l-21 11l-2 0l-2 3l-10 4l-3 3l-7 3l-6 4l-4 2l-3 2l-7 3l-2 3l-5 1l-29 16l-3 0l-1 1l-2 0l-1 2l-3 0l-4 2l-7 2l-1 1l-7 2l-2 1l-3 0l-1 1l-10 2l-1 1l-6 0l-1 2l-6 0l-1 1l-7 0l-2 1l-4 0l25-10l27-8l25-9l30-16l39-22l11-3z" fill="#c9c9ff"/>
<path d="M506 274l1 0l-2 1zM502 276l3-1l-18 9l-2 0l-2 3l-10 4l-3 3l-7 3l-6 4l-4 2l-3 2l-7 3l-2 3l-5 1l-29 16l-3 0l-1 1l-2 0l-1 2l-3 0l-4 2l-7 2l-1 1l-7 2l-2 1l-3 0l-1 1l-10 2l-1 1l-6 0l-1 2l-6 0l-1 1l-5 0l17-7l28-8l23-9l26-14l44-24z" fill="#bfbfff"/>
<path d="M498 278l1 0l-2 1zM494 280l2-1l-9 5l-2 0l-2 3l-10 4l-3 3l-7 3l-3 3l-7 3l-3 2l-7 3l-2 3l-5 1l-29 16l-3 0l-1 1l-2 0l-1 2l-3 0l-4 2l-7 2l-1 1l-7 2l-2 1l-3 0l-1 1l-4 0l-2 2l-4 0l-1 1l-6 0l-1 2l-4 0l11-5l31-9l18-7l25-13l45-26z" fill="#b4b4ff"/>
<path d="M487 284l1 0l-2 0zM483 286l2-1l-2 2l-5 2l-1 1l-4 1l-3 3l-7 3l-3 3l-7 3l-3 2l-7 3l-2 3l-5 1l-29 16l-3 0l-1 1l-2 0l-1 2l-3 0l-4 2l-7 2l-1 1l-7 2l-2 1l-3 0l-1 1l-10 2l-1 1l-4 0l32-10l24-9l22-12z" fill="#a9a9ff"/>
</g>
<path d="M-10 131L-7.5 130.6L-5 130.3L-2.4 130.2L0.1 130.1L2.6 130.2L5.1 130.3L7.6 130.6L10.2 131L12.7 131.5L15.2 132.2L17.7 132.9L20.2 133.7L22.8 134.6L25.3 135.6L27.8 136.6L30.3 137.8L32.8 139L35.4 140.3L37.9 141.6L40.4 142.9L42.9 144.3L45.4 145.7L48 147.2L50.5 148.6L53 150.1L55.5 151.5L58 152.9L60.6 154.4L63.1 155.7L65.6 157.1L68.1 158.4L70.6 159.7L73.2 161L75.7 162.2L78.2 163.3L80.7 164.4L83.2 165.4L85.8 166.4L88.3 167.3L90.8 168.2L93.3 169L95.8 169.7L98.4 170.4L100.9 171.1L103.4 171.7L105.9 172.2L108.4 172.7L111 173.1L113.5 173.5L116 173.8L118.5 174.1L121 174.4L123.6 174.6L126.1 174.8L128.6 175L131.1 175.1L133.6 175.2L136.2 175.2L138.7 175.3L141.2 175.3L143.7 175.3L146.3 175.2L148.8 175.2L151.3 175.1L153.8 175L156.3 174.8L158.9 174.6L161.4 174.4L163.9 174.1L166.4 173.8L168.9 173.5L171.5 173.1L174 172.7L176.5 172.2L179 171.7L181.5 171.1L184.1 170.4L186.6 169.7L189.1 169L191.6 168.2L194.1 167.3L196.7 166.4L199.2 165.4L201.7 164.4L204.2 163.3L206.7 162.2L209.3 161L211.8 159.7L214.3 158.4L216.8 157.1L219.3 155.7L221.9 154.4L224.4 152.9L226.9 151.5L229.4 150.1L231.9 148.6L234.5 147.2L237 145.7L239.5 144.3L242 142.9L244.5 141.6L247.1 140.3L249.6 139L252.1 137.8L254.6 136.6L257.1 135.6L259.7 134.6L262.2 133.7L264.7 132.9L267.2 132.2L269.7 131.5L272.3 131L274.8 130.6L277.3 130.3L279.8 130.2L282.3 130.1L284.9 130.2L287.4 130.3L289.9 130.6L292.4 131" fill="none" stroke="#000" stroke-width="1.2"/>
</g>
<clipPath id="clp4"><rect x="184.5" y="821.6" width="565" height="175.1"/></clipPath></defs>
<g clip-path="url(#clp4)">
<use href="#lp4" transform="translate(184.7 820.08)"/>
<use href="#lp4" transform="translate(467.12 820.08)"/>
</g>
<rect x="184.5" y="821.6" width="565" height="175.1" fill="none" stroke="#000" stroke-width="3"/>
<clipPath id="rc4"><rect x="755.5" y="822.9" width="280" height="173.1"/></clipPath>
<g clip-path="url(#rc4)">
<path d="M755.8 896.8l0.3 0M755.8 900.3l0.4 0M755.8 903.7l0.5 0M755.8 907.2l0.6 0M755.8 910.7l0.8 0M755.8 914.2l1.4 0M755.8 917.7l2.4 0M755.8 921.1l3.4 0M755.8 924.6l4.4 0M755.8 928.1l5.4 0M755.8 931.6l6.5 0M755.8 935.1l7.5 0M755.8 938.5l7.7 0M755.8 942l7.1 0M755.8 945.5l5.4 0M848.8 969.9l0.2 0.1M848.8 973.3l0.2 0.1M848.8 976.8l0.3 0.1M848.8 980.3l0.3 0.1M848.8 983.8l0.3 0.1M848.8 987.3l0.3 0.1M895.2 917.7l0.3 0M895.2 921.1l0.3 0M895.2 924.6l0.3 0M895.2 928.1l0.4 0M895.2 931.6l0.4 0M895.2 935.1l0.5 0M895.2 938.5l0.5 0M895.2 942l0.5 0M895.2 945.5l0.6 0M895.2 949l0.7 0M895.2 952.5l0.8 0M895.2 955.9l0.8 0M895.2 959.4l1.3 0M895.2 962.9l1.8 0M895.2 966.4l2.3 0M895.2 969.9l2.7 0M895.2 973.3l2.9 0M895.2 976.8l3.1 0M895.2 980.3l3.3 0M895.2 983.8l3.5 0M895.2 987.3l3.7 0M895.2 990.7l3.9 0M941.7 865.5l-0.2 0M941.7 868.9l-0.3 0M941.7 872.4l-0.3 0M941.7 875.9l-0.3 0M941.7 879.4l-0.3 0M941.7 882.9l-0.3 0M941.7 886.3l-0.3 0M941.7 889.8l-0.3 0M941.7 893.3l-0.3 0M941.7 896.8l-0.2 0M941.7 928.1l0.3 0M941.7 931.6l0.4 0M941.7 935.1l0.5 -0.1M941.7 938.5l0.6 -0.1M941.7 942l1.4 -0.2M941.7 945.5l3.4 -0.6M941.7 949l5.4 -1M941.7 952.5l7.4 -1.5M941.7 955.9l9.4 -2M941.7 959.4l10.9 -2.6M941.7 962.9l12.3 -3.1M941.7 966.4l13.7 -3.8M941.7 969.9l14.7 -4.4M941.7 973.3l14.3 -4.6M941.7 976.8l13.9 -4.8M941.7 980.3l11.2 -4.2M941.7 983.8l5.1 -2.1M988.1 907.2l0.3 -0.1M988.1 910.7l0.7 -0.2M988.1 914.2l3.4 -0.9M988.1 917.7l6.5 -1.8M988.1 921.1l9 -2.7M988.1 924.6l10.7 -3.5M988.1 928.1l12.5 -4.5M988.1 931.6l14.3 -5.5M988.1 935.1l16.1 -6.7M988.1 938.5l17.9 -8M988.1 942l17.9 -8.7M988.1 945.5l17.5 -9.2M988.1 949l17.2 -9.7M988.1 952.5l14.3 -8.7M988.1 955.9l11.3 -7.5M988.1 959.4l7.9 -5.7M988.1 962.9l1.1 -0.8" stroke="#000" stroke-width="1.35" fill="none"/>
<path d="M757.7 896.8l-1.5 1.5l0 -3zM758.4 900.3l-2.2 1.5l0 -3zM759.2 903.7l-2.9 1.5l0 -3zM760.1 907.2l-3.6 1.5l0 -3zM761.1 910.7l-4.4 1.9l0 -3.8zM762 914.2l-4.8 1.9l0 -3.8zM763 917.7l-4.8 1.9l0 -3.8zM764 921.1l-4.8 1.9l0 -3.8zM765 924.6l-4.8 1.9l0 -3.8zM766.1 928.1l-4.8 1.9l0 -3.8zM767.1 931.6l-4.8 1.9l0 -3.8zM768.2 935.1l-4.8 1.9l0 -3.8zM768.3 938.5l-4.8 1.9l0 -3.8zM767.8 942l-4.8 1.9l0 -3.8zM766 945.5l-4.8 1.9l0 -3.8zM850.4 970.3l-1.8 1l0.9 -2.9zM850.4 973.9l-1.9 1l0.9 -2.9zM850.5 977.4l-1.9 0.9l1 -2.8zM850.5 980.9l-2 0.9l1.1 -2.8zM850.5 984.5l-2.1 0.8l1.1 -2.8zM850.6 988l-2.1 0.7l1.2 -2.7zM896.9 917.7l-1.5 1.5l0 -3zM897.2 921.1l-1.6 1.5l0 -3zM897.4 924.6l-1.9 1.5l0 -3zM897.7 928.1l-2.1 1.5l0 -3zM898 931.6l-2.4 1.5l0 -3zM898.3 935.1l-2.6 1.5l0 -3zM898.5 938.5l-2.8 1.5l0 -3zM898.8 942l-3.1 1.5l0 -3zM899.2 945.5l-3.4 1.5l0 -3zM899.7 949l-3.8 1.5l0 -3zM900.2 952.5l-4.3 1.9l0 -3.8zM900.8 955.9l-4.7 1.9l0 -3.8zM901.3 959.4l-4.8 1.9l0 -3.8zM901.8 962.9l-4.8 1.9l0 -3.8zM902.3 966.4l-4.8 1.9l0 -3.8zM902.8 969.9l-4.8 1.9l0 -3.8zM903 973.3l-4.8 1.9l0 -3.8zM903.2 976.8l-4.8 1.9l0 -3.8zM903.3 980.3l-4.8 1.9l0 -3.8zM903.5 983.8l-4.8 1.9l0 -3.8zM903.7 987.3l-4.8 1.9l0 -3.8zM903.9 990.7l-4.8 1.9l0 -3.8zM940.1 865.5l1.3 -1.5l0.1 3zM940 869l1.4 -1.5l0.1 3zM940 872.5l1.4 -1.5l0.1 3zM940 876l1.4 -1.6l0.1 3zM940 879.4l1.4 -1.6l0.1 3zM940 882.9l1.4 -1.6l0.1 3zM940 886.4l1.4 -1.6l0.1 3zM940 889.9l1.4 -1.6l0.2 3zM940 893.4l1.4 -1.6l0.2 3zM940.1 896.9l1.3 -1.6l0.2 3zM943.4 927.9l-1.3 1.7l-0.4 -3zM944.3 931.3l-2 1.8l-0.4 -3zM945.1 934.6l-2.7 1.9l-0.4 -3zM946 937.9l-3.5 2l-0.4 -3zM947.8 941l-4.4 2.6l-0.6 -3.8zM949.8 944.1l-4.4 2.7l-0.6 -3.7zM951.8 947.1l-4.4 2.7l-0.7 -3.7zM953.8 950l-4.3 2.8l-0.8 -3.7zM955.7 952.9l-4.3 2.9l-0.8 -3.7zM957.2 955.8l-4.2 3l-0.9 -3.7zM958.6 958.6l-4.2 3l-0.9 -3.7zM960 961.3l-4.1 3.1l-1 -3.7zM960.9 964.1l-4.1 3.2l-1.1 -3.6zM960.5 967.3l-4 3.3l-1.2 -3.6zM960.1 970.4l-3.9 3.4l-1.2 -3.6zM957.3 974.4l-3.8 3.5l-1.3 -3.6zM951.3 979.9l-3.7 3.6l-1.4 -3.5zM989.9 906.8l-1.2 1.8l-0.7 -2.9zM993 909.5l-3.7 2.9l-0.9 -3.7zM996.2 912.1l-4.2 3.1l-1 -3.7zM999.3 914.5l-4.1 3.1l-1 -3.7zM1001.7 917l-4 3.2l-1.1 -3.6zM1003.4 919.6l-4 3.3l-1.2 -3.6zM1005.2 922l-3.9 3.4l-1.3 -3.6zM1006.9 924.4l-3.8 3.5l-1.4 -3.5zM1008.7 926.5l-3.7 3.6l-1.5 -3.5zM1010.4 928.5l-3.6 3.7l-1.6 -3.5zM1010.4 931.2l-3.5 3.8l-1.7 -3.4zM1009.9 934.1l-3.4 3.9l-1.8 -3.4zM1009.5 936.9l-3.2 4l-1.9 -3.3zM1006.5 941.2l-3.1 4.1l-2 -3.2zM1003.5 945.8l-3 4.2l-2.1 -3.2zM1000 951l-2.8 4.3l-2.2 -3.1zM993 959.1l-2.6 4.4l-2.3 -3z" fill="#000"/>
<path d="M756 889.8h0.1M756.8 893.3h0.1M802.9 823.7h0.1M802.9 827.2h0.1M802.9 830.7h0.1M802.9 834.1h0.1M803 837.6h0.1M803 841.1h0.1M803 844.6h0.1M803 848.1h0.1M803.1 851.5h0.1M803.1 855h0.1M803.1 858.5h0.1M803.1 862h0.1M803.2 865.5h0.1M803.2 868.9h0.1M803.2 872.4h0.1M803.2 875.9h0.1M803.3 879.4h0.1M803.3 882.9h0.1M803.3 886.3h0.1M803.3 889.8h0.1M803.4 893.3h0.1M803.4 896.8h0.1M803.4 900.3h0.1M803.4 903.7h0.1M803.4 907.2h0.1M803.4 910.7h0.1M803.4 914.2h0.1M803.4 917.7h0.1M803.5 921.1h0.1M803.5 924.6h0.1M803.5 928.1h0.1M803.5 931.6h0.1M803.5 935.1h0.1M803.5 938.5h0.1M803.5 942h0.1M803.5 945.5h0.1M803.6 949h0.1M803.6 952.5h0.1M803.6 955.9h0.1M803.6 959.4h0.1M803.6 962.9h0.1M849.3 823.7h0.1M849.3 827.2h0.1M849.3 830.7h0.1M849.3 834.1h0.1M849.4 837.6h0.1M849.4 841.1h0.1M849.4 844.6h0.1M849.4 848.1h0.1M849.4 851.5h0.1M849.4 855h0.1M849.5 858.5h0.1M849.5 862h0.1M849.5 865.5h0.1M849.5 868.9h0.1M849.5 872.4h0.1M849.6 875.9h0.1M849.6 879.4h0.1M849.6 882.9h0.1M849.6 886.3h0.1M849.6 889.8h0.1M849.6 893.3h0.1M849.7 896.8h0.1M849.7 900.3h0.1M849.7 903.7h0.1M849.7 907.2h0.1M849.7 910.7h0.1M849.8 914.2h0.1M849.8 917.7h0.1M849.8 921.1h0.1M849.8 924.6h0.1M849.9 928.1h0.1M849.9 931.6h0.1M850 935.1h0.1M850 938.5h0.1M850 942h0.1M850.1 945.5h0.1M850.1 949h0.1M850.1 952.5h0.1M850.2 955.9h0.1M850.2 959.4h0.1M850.3 962.9h0.1M850.3 966.4h0.1M895.5 823.7h0.1M895.5 827.2h0.1M895.5 830.7h0.1M895.5 834.1h0.1M895.6 837.6h0.1M895.6 841.1h0.1M895.6 844.6h0.1M895.6 848.1h0.1M895.7 851.5h0.1M895.7 855h0.1M895.7 858.5h0.1M895.7 862h0.1M895.8 865.5h0.1M895.8 868.9h0.1M895.8 872.4h0.1M895.8 875.9h0.1M895.9 879.4h0.1M895.9 882.9h0.1M895.9 886.3h0.1M895.9 889.8h0.1M896 893.3h0.1M896.1 896.8h0.1M896.2 900.3h0.1M896.3 903.7h0.1M896.5 907.2h0.1M896.6 910.7h0.1M896.8 914.2h0.1M941.1 823.7h0.1M941.1 827.2h0.1M941 830.7h0.1M940.9 834.1h0.1M940.8 837.6h0.1M940.7 841.1h0.1M940.6 844.6h0.1M940.5 848.1h0.1M940.4 851.5h0.1M940.3 855h0.1M940.2 858.5h0.1M940.1 862h0.1M940.2 900.3h0.1M940.4 903.7h0.1M940.5 907.2h0.1M940.7 910.7h0.1M940.9 914.2h0.1M941.1 917.7h0.1M941.6 921.1h0.1M942.5 924.6h0.1M988.3 823.7h0.1M988.3 827.2h0.1M988.2 830.7h0.1M988.1 834.1h0.1M988 837.6h0.1M987.9 841.1h0.1M987.8 844.6h0.1M987.7 848.1h0.1M987.6 851.5h0.1M987.5 855h0.1M987.4 858.5h0.1M987.3 862h0.1M987.2 865.5h0.1M987.1 868.9h0.1M987.1 872.4h0.1M987.1 875.9h0.1M987.1 879.4h0.1M987.1 882.9h0.1M987.1 886.3h0.1M987.1 889.8h0.1M987.1 893.3h0.1M987.5 896.8h0.1M988.2 900.3h0.1M988.9 903.7h0.1" stroke="#000" stroke-width="1.6" stroke-linecap="round" fill="none"/>
<path d="M755.8 949.5L757.8 949.6L759.8 949.7L761.8 949.9L763.8 950.1L765.8 950.5L767.8 950.9L769.8 951.4L771.8 951.9L773.8 952.5L775.8 953.2L777.7 953.9L779.7 954.7L781.7 955.5L783.7 956.4L785.7 957.4L787.7 958.4L789.7 959.4L791.7 960.4L793.7 961.5L795.7 962.6L797.7 963.8L799.6 965L801.6 966.1L803.6 967.3L805.6 968.5L807.6 969.7L809.6 970.9L811.6 972.1L813.6 973.3L815.6 974.5L817.6 975.7L819.6 976.8L821.5 978L823.5 979.1L825.5 980.2L827.5 981.2L829.5 982.2L831.5 983.2L833.5 984.2L835.5 985.1L837.5 986L839.5 986.9L841.5 987.7L843.5 988.5L845.4 989.3L847.4 990L849.4 990.7L851.4 991.3L853.4 991.9L855.4 992.4L857.4 993L859.4 993.5L861.4 993.9L863.4 994.3L865.4 994.7L867.3 995.1L869.3 995.4L871.3 995.7L873.3 996L875.3 996.2L877.3 996.5L879.3 996.6L881.3 996.8L883.3 997L885.3 997.1L887.3 997.2L889.2 997.2L891.2 997.3L893.2 997.3L895.2 997.3L897.2 997.3L899.2 997.3L901.2 997.2L903.2 997.2L905.2 997.1L907.2 997L909.2 996.8L911.1 996.6L913.1 996.5L915.1 996.2L917.1 996L919.1 995.7L921.1 995.4L923.1 995.1L925.1 994.7L927.1 994.3L929.1 993.9L931.1 993.5L933.1 993L935 992.4L937 991.9L939 991.3L941 990.7L943 990L945 989.3L947 988.5L949 987.7L951 986.9L953 986L955 985.1L956.9 984.2L958.9 983.2L960.9 982.2L962.9 981.2L964.9 980.2L966.9 979.1L968.9 978L970.9 976.8L972.9 975.7L974.9 974.5L976.9 973.3L978.8 972.1L980.8 970.9L982.8 969.7L984.8 968.5L986.8 967.3L988.8 966.1L990.8 965L992.8 963.8L994.8 962.6L996.8 961.5L998.8 960.4L1000.8 959.4L1002.7 958.4L1004.7 957.4L1006.7 956.4L1008.7 955.5L1010.7 954.7L1012.7 953.9L1014.7 953.2L1016.7 952.5L1018.7 951.9L1020.7 951.4L1022.7 950.9L1024.6 950.5L1026.6 950.1L1028.6 949.9L1030.6 949.7L1032.6 949.6L1034.6 949.5" stroke="#000" stroke-width="1.7" fill="none"/>
</g>
<rect x="755.5" y="823" width="279.8" height="173" fill="none" stroke="#000" stroke-width="2.9"/>
<line x1="1036.7" y1="976.7" x2="1047.8" y2="976.7" stroke="#000" stroke-width="1.3"/>
<text x="1059.6" y="985.1" font-size="25">0</text>
<line x1="1036.7" y1="930" x2="1047.8" y2="930" stroke="#000" stroke-width="1.3"/>
<text x="1059.6" y="938.4" font-size="25">1</text>
<line x1="1036.7" y1="883.2" x2="1047.8" y2="883.2" stroke="#000" stroke-width="1.3"/>
<text x="1059.6" y="891.6" font-size="25">2</text>
<line x1="1036.7" y1="836.5" x2="1047.8" y2="836.5" stroke="#000" stroke-width="1.3"/>
<text x="1059.6" y="844.9" font-size="25">3</text>
<text x="1094.79" y="908.03" font-size="28.6" font-style="italic">y</text>
<path d="M1108.40 914.20L1118.50 888.40" stroke="#000" stroke-width="1.5"/>
<text x="1121.33" y="907.77" font-size="27.32" font-style="italic">η</text>
<defs><clipPath id="tlp5"><rect x="0" y="-5" width="282.42" height="190"/></clipPath>
<g id="lp5" clip-path="url(#tlp5)"><g transform="scale(0.5)" stroke="#000" stroke-width="2" stroke-linejoin="round" fill-rule="evenodd">
<path d="M28 69l2 0l6 4l6 1l7 7l10 6l6 11l0 2l-2 2l-2 3l2 6l4 5l3 5l14 9l1 5l5 4l0 3l-10 16l-1 7l-4 5l1 9l-4 11l-1 2l-7 6l-1 1l1 6l-2 4l-4 3l-9 3l-10 6l-9 0l-8 1l-8 8l-4 8l-2 2l-10 1l-8 3l-10 1l0-165l4-2l6 2l11 0l4-6l2-1l2 2l3 6l3 1l7-1l2-1l1-1l-1-7l1-2zM572 73l3 2l3 6l7 0l0 143l-7 7l-3 7l-3 2l-10 1l-8 3l-8 1l-12 2l-16 6l-26 12l-42 25l-25 14l-35 15l-3 1l-9 4l-6 1l-1-3l2-3l3-3l7-1l2-3l0-2l0-2l-3-2l-9 1l-4-1l-8-3l-5-5l-1-2l1-3l5-6l1-3l-5-4l-1-4l3-4l9-7l4-6l0-1l-1-4l1-3l3-2l4 2l4-4l1-2l-1-3l-3-1l-4 0l0-1l2-2l8-3l1-2l0-3l-2-2l-3-1l-11 2l-1-2l0-1l4-6l6-6l4-11l0-7l1-3l2-1l5-1l2-8l6-6l9-3l1-6l-2-3l-2-2l8-2l7-5l5-2l1-3l-1-4l1-3l8-4l2-3l-1-9l10-9l7-3l5-7l2-2l4 1l9 4l8-2l6-3l1-7l10-8l6-1l8 3l12-6l3-4l3-2l6 2l3 0l8-5l19 1l2-1l2-5zM67 98l4-1l2 1l2 3l-1 1l-4 0l-4-2z" fill="#fff4f4"/>
<path d="M-12 108l6-1l4 0l7 5l7 1l6 2l3-1l4-5l1 0l3 2l4 8l3 2l2 0l5-3l8 1l4 4l0 5l-2 2l-4 0l-3 2l-3 4l0 4l3 4l1 1l13 3l3 3l2 5l-3 7l-7 8l0 6l-2 5l-6 5l-3 4l0 2l1 6l-5 7l0 3l-25 11l-7 10l-2 7l-1 1l-11-1l-7 3l-6 1l-1 0l0-131zM553 108l7-1l5 1l6 4l14 3l0 103l-6 2l-6 10l-2 7l-13 0l-8 4l-7 0l-20 4l-19 10l-16 5l-7 7l-17 14l-8 2l-8 4l-5 1l-11 2l-22 13l-4 0l-1-2l4-11l0-7l-3-5l-3-1l-4 1l-3-1l-1-1l0-3l1-1l6-3l1-1l-1-10l3-9l5-7l6-14l2-9l4-7l-1-6l4-4l3-8l6-5l-2-7l1-3l2-3l7-2l2-4l-2-7l1-2l7-3l4-4l2-14l-4-5l0-3l1-2l2-1l2 0l3 7l2 0l9-1l6-3l8 0l13-3l17-16l3 1l7 2l7 1l3-2l4-3z" fill="#ffeaea"/>
<path d="M-2 125l3-1l3 0l7 6l7 3l5 5l9 5l2 4l-2 7l11 5l4 5l-2 6l-7 7l-3 11l-7 8l-2 9l-2 4l-8 4l-12 4l-4 10l0 6l-12-1l-8 2l0-102zM562 125l5-1l2 1l16 10l0 76l-17 6l-4 16l-11-1l-6 2l-8-1l-5 2l-11 2l-14 6l-10 7l-12 5l-18 14l-10 5l-20 8l-8 0l-1-5l0-7l-2-7l2-9l-3-10l2-7l1-9l5-8l4-10l10-14l2-7l4-4l9-15l20-19l2-5l2-2l17-4l6-4l7-3l15 0l11-1z" fill="#ffdfdf"/>
<path d="M562 142l5 0l4 2l6 9l1 7l2 5l5 3l0 24l-8 15l-6 5l-10 3l-3 13l-4 1l-7-2l-6 1l-5 0l-6 2l-5 1l-6 3l-7 2l-35 21l-21 11l-8 2l-3-1l-1-4l2-9l-3-9l0-5l10-16l2-10l7-13l7-19l8-11l7-6l4-5l9-3l7-5l5-2l6-2l10 0l7-4l8-3l7 2zM-12 143l12-1l5 2l7 9l1 7l2 5l3 2l13 5l-8 10l-4 11l-7 14l-7 5l-9 2l-2 13l-1 2l-10-2l-3 1l0-84l3 1z" fill="#ffd4d4"/>
<path d="M-6 155l3 1l1 1l6 11l1 6l9 5l0 2l-4 5l-1 6l-3 6l-3 8l-7 4l-7 3l-1 11l-4 0l-4-1l0-67l6 1zM557 155l4 0l1 2l7 11l1 6l8 5l0 2l-3 5l-1 6l-3 6l-3 8l-4 3l-10 4l-1 11l-19-1l-5 2l-4 1l-20 9l-29 17l-13 5l-3-1l-2-4l0-4l2-7l2-8l4-16l3-5l7-9l1-7l1-5l9-13l10-9l5-4l10-1l7-3l6 0l14-5l9 1z" fill="#ffc9c9"/>
<path d="M-19 167l6 1l5 3l2 3l2 7l7 4l-5 7l-6 14l-3 3l-6 3l0 5l-2 3l-1 0l0-54zM536 167l8-1l9 2l5 4l3 9l7 4l-5 7l-6 14l-3 3l-6 3l-1 8l-14-1l-8 2l-16 7l-21 12l-10 4l-2 0l0-4l-3-7l1-3l12-27l2-8l7-13l4-4l6-4l8-1z" fill="#ffbfbf"/>
<path d="M530 178l14 0l3 3l2 7l4 3l1 1l-5 14l-8 4l0 6l-11 0l-5 1l-6 2l-13 6l-12 5l-3-7l0-4l2-9l3-7l4-12l2-3l5-3l18-5zM-19 179l2 3l2 6l4 3l0 1l-5 14l-4 2l0-29z" fill="#ffb4b4"/>
<path d="M526 193l3-1l4 1l5 6l-2 6l-3 2l0 3l-8 1l-12 5l-2 0l0-9l3-8l3-3z" fill="#ffa9a9"/>
<path d="M221 130l4-1l2 1l0 3l-2 2l-4 1l-2-3zM172 134l4 0l13 6l1 10l3 3l3 0l2-1l6-5l7 1l6-8l2-1l7 5l7-1l5 1l3 9l3 3l2 0l7-1l2 1l-1 7l2 7l0 12l-2 1l-9 0l-5 4l-5 4l-2 2l-4 9l5 5l-1 2l-3 3l-2 5l-3 2l-3 0l-5 11l0 1l1 0l7-1l3 3l-1 2l-6 8l-6 0l-4-3l-2-5l2-4l-3-3l-2-7l2-2l6-2l3-1l4 1l0-3l-3-2l-8 0l-6 3l-4 0l-4-1l-2-2l-1-3l2-3l8-7l-1-7l-1-3l-3-1l-7 1l-2-1l3-4l1-3l-2-7l-5-7l-2-9l-2-2l-7 0l-3-2l-1-3l2-8zM241 175l0 3l1 2l1-2l0-1l-1-2zM249 197l3-1l1 2l1 2l-1 9l-5 7l-2 5l-3 4l-3 0l-5-5l-1-4l2-4l6-2zM85 218l6 0l15 4l7 0l7 7l6 4l0 1l-2 2l0 4l2 2l4 3l3 3l1 4l-1 4l8 7l1 12l3 3l3 2l6-1l7 3l4 1l3-3l1-7l1-2l3 0l4 5l3 4l0 3l-4 3l-10 0l-3 5l-2 2l-5-1l-7-7l-2-1l-2 1l-2 8l-3 5l-1 3l2 3l7 0l6 3l2 1l6-6l7-2l2 1l-1 3l-8 10l1 0l5 3l10 4l4 0l1 1l3 0l1 2l3 0l1 1l22 6l39 5l47 1l29-2l26-4l28-7l24-10l22-10l60-36l27-13l11-5l15-4l30-4l6-2l4-7l4-4l0 33l-3 0l-1-1l-31 0l-2 1l-7 0l-1 1l-4 0l-2 2l-4 0l-1 1l-7 2l-4 2l-3 0l-4 3l-3 0l-21 11l-2 0l-2 3l-10 4l-3 3l-7 3l-6 4l-4 2l-3 2l-7 3l-2 3l-5 1l-29 16l-3 0l-1 1l-2 0l-1 2l-3 0l-4 2l-7 2l-1 1l-7 2l-2 1l-3 0l-1 1l-10 2l-1 1l-6 0l-1 2l-6 0l-1 1l-7 0l-2 1l-9 0l-2 2l-14 0l-1 1l-59 0l-1-1l-14 0l-2-2l-10 0l-1-1l-7 0l-1-1l-6 0l-1-2l-6 0l-1-1l-10-2l-2-1l-2 0l-2-1l-7-2l-1-1l-7-2l-4-2l-3 0l-2-2l-1 0l-1-1l-3 0l-27-14l-7-3l-3-3l-7-3l-2-2l-7-3l-3-3l-7-3l-3-3l-10-4l-3-3l-9-4l-2-1l-7-3l-4-3l-3 0l-4-3l-3 0l-4-2l-7-2l-1-1l-5 0l-1-2l-4 0l-2-1l-7 0l-1-1l-31 0l-1 1l-3 0l0-16l27-4l5-2l6-9l5-3l5 0l5 3l6-5l5-3l12-1l12 0zM243 231l2-1l1 1l-2 2l-1-2zM236 232l3 1l1 5l3 4l1 5l0 1l-1 1l-8 2l-5-2l0-1l4-7l-1-7zM154 261l4 0l5 4l1 4l-2 3l-3 1l-3-3l-4-7zM184 317l3 2l-1 2l-3-2z" fill="#f4f4ff"/>
<path d="M43 227l15 0l13-1l14 0l13 9l2 3l7 18l6 6l2 4l-3 4l-1 3l4 11l7 7l-1 2l1 1l16 10l25 12l28 10l26 6l32 5l33 1l40-2l29-4l28-7l28-10l21-11l63-37l24-12l11-4l17-5l14-2l17-1l5-3l6-7l0 29l-3 0l-1-1l-31 0l-2 1l-7 0l-1 1l-4 0l-2 2l-4 0l-1 1l-7 2l-4 2l-3 0l-4 3l-3 0l-21 11l-2 0l-2 3l-10 4l-3 3l-7 3l-6 4l-4 2l-3 2l-7 3l-2 3l-5 1l-29 16l-3 0l-1 1l-2 0l-1 2l-3 0l-4 2l-7 2l-1 1l-7 2l-2 1l-3 0l-1 1l-10 2l-1 1l-6 0l-1 2l-6 0l-1 1l-7 0l-2 1l-9 0l-2 2l-14 0l-1 1l-59 0l-1-1l-14 0l-2-2l-10 0l-1-1l-7 0l-1-1l-6 0l-1-2l-6 0l-1-1l-10-2l-2-1l-2 0l-2-1l-7-2l-1-1l-7-2l-4-2l-3 0l-2-2l-1 0l-1-1l-3 0l-27-14l-7-3l-3-3l-7-3l-2-2l-7-3l-3-3l-7-3l-3-3l-10-4l-3-3l-9-4l-2-1l-7-3l-4-3l-3 0l-4-3l-3 0l-4-2l-7-2l-1-1l-5 0l-1-2l-4 0l-2-1l-7 0l-1-1l-31 0l-1 1l-3 0l0-16l28-2l7-4l4-6l3-3l4-1l6 3l1 0l4-4zM119 268l4 1l1 1l-1 4l-2 1l-2-2l-1-4z" fill="#eaeaff"/>
<path d="M40 230l20 0l11 0l8 3l5 2l4 8l4 5l2 13l1 12l1 6l20 13l28 16l31 13l25 8l28 6l33 3l38 1l27-2l26-4l28-7l28-11l21-10l62-37l25-13l14-5l16-4l30-2l6-4l3-4l0 26l-3 0l-1-1l-31 0l-2 1l-7 0l-1 1l-4 0l-2 2l-4 0l-1 1l-7 2l-4 2l-3 0l-4 3l-3 0l-21 11l-2 0l-2 3l-10 4l-3 3l-7 3l-6 4l-4 2l-3 2l-7 3l-2 3l-5 1l-29 16l-3 0l-1 1l-2 0l-1 2l-3 0l-4 2l-7 2l-1 1l-7 2l-2 1l-3 0l-1 1l-10 2l-1 1l-6 0l-1 2l-6 0l-1 1l-7 0l-2 1l-9 0l-2 2l-14 0l-1 1l-59 0l-1-1l-14 0l-2-2l-10 0l-1-1l-7 0l-1-1l-6 0l-1-2l-6 0l-1-1l-10-2l-2-1l-2 0l-2-1l-7-2l-1-1l-7-2l-4-2l-3 0l-2-2l-1 0l-1-1l-3 0l-27-14l-7-3l-3-3l-7-3l-2-2l-7-3l-3-3l-7-3l-3-3l-10-4l-3-3l-9-4l-2-1l-7-3l-4-3l-3 0l-4-3l-3 0l-4-2l-7-2l-1-1l-5 0l-1-2l-4 0l-2-1l-7 0l-1-1l-31 0l-1 1l-3 0l0-15l31-3l6-4l4-5l2-2l5-1l4 2z" fill="#dfdfff"/>
<path d="M36 233l6-2l18 1l4 1l10 5l3 7l3 13l2 12l1 2l50 31l25 12l19 8l26 8l26 5l34 3l36 0l28-2l25-3l30-8l26-10l23-11l59-36l16-9l14-6l17-5l18-3l23-2l7-5l0 23l-3 0l-1-1l-31 0l-2 1l-7 0l-1 1l-4 0l-2 2l-4 0l-1 1l-7 2l-4 2l-3 0l-4 3l-3 0l-21 11l-2 0l-2 3l-10 4l-3 3l-7 3l-6 4l-4 2l-3 2l-7 3l-2 3l-5 1l-29 16l-3 0l-1 1l-2 0l-1 2l-3 0l-4 2l-7 2l-1 1l-7 2l-2 1l-3 0l-1 1l-10 2l-1 1l-6 0l-1 2l-6 0l-1 1l-7 0l-2 1l-9 0l-2 2l-14 0l-1 1l-59 0l-1-1l-14 0l-2-2l-10 0l-1-1l-7 0l-1-1l-6 0l-1-2l-6 0l-1-1l-10-2l-2-1l-2 0l-2-1l-7-2l-1-1l-7-2l-4-2l-3 0l-2-2l-1 0l-1-1l-3 0l-27-14l-7-3l-3-3l-7-3l-2-2l-7-3l-3-3l-7-3l-3-3l-10-4l-3-3l-9-4l-2-1l-7-3l-4-3l-3 0l-4-3l-3 0l-4-2l-7-2l-1-1l-5 0l-1-2l-4 0l-2-1l-7 0l-1-1l-31 0l-1 1l-3 0l0-15l34-3l5-4l4-5l5-1l4 1z" fill="#d4d4ff"/>
<path d="M36 234l18 0l9 3l2 3l4 7l3 12l1 7l47 30l17 10l21 10l21 9l24 7l26 5l34 3l36 0l27-2l26-4l30-7l26-11l23-10l59-36l15-9l15-7l17-5l20-3l22-1l6-5l0 22l-3 0l-1-1l-31 0l-2 1l-7 0l-1 1l-4 0l-2 2l-4 0l-1 1l-7 2l-4 2l-3 0l-4 3l-3 0l-21 11l-2 0l-2 3l-10 4l-3 3l-7 3l-6 4l-4 2l-3 2l-7 3l-2 3l-5 1l-29 16l-3 0l-1 1l-2 0l-1 2l-3 0l-4 2l-7 2l-1 1l-7 2l-2 1l-3 0l-1 1l-10 2l-1 1l-6 0l-1 2l-6 0l-1 1l-7 0l-2 1l-9 0l-2 2l-14 0l-1 1l-59 0l-1-1l-14 0l-2-2l-10 0l-1-1l-7 0l-1-1l-6 0l-1-2l-6 0l-1-1l-10-2l-2-1l-2 0l-2-1l-7-2l-1-1l-7-2l-4-2l-3 0l-2-2l-1 0l-1-1l-3 0l-27-14l-7-3l-3-3l-7-3l-2-2l-7-3l-3-3l-7-3l-3-3l-10-4l-3-3l-9-4l-2-1l-7-3l-4-3l-3 0l-4-3l-3 0l-4-2l-7-2l-1-1l-5 0l-1-2l-4 0l-2-1l-7 0l-1-1l-31 0l-1 1l-3 0l0-15l17-2l18 0l6-5l4-5l3 0l2 1zM23 247l3 0l-1-1zM29 248l3 0l-2-1z" fill="#c9c9ff"/>
<path d="M33 235l14 0l9 3l4 3l3 6l1 5l-1 9l2 1l55 35l17 9l21 11l21 9l24 7l26 5l34 3l36 0l27-2l28-4l28-7l26-11l23-11l59-36l15-8l15-7l17-5l27-4l12-1l9 1l0 16l-3 0l-1-1l-31 0l-2 1l-7 0l-1 1l-4 0l-2 2l-4 0l-1 1l-7 2l-4 2l-3 0l-4 3l-3 0l-21 11l-2 0l-2 3l-10 4l-3 3l-7 3l-6 4l-4 2l-3 2l-7 3l-2 2l-29 15l-6 3l-2 0l-4 3l-3 0l-5 2l-2 0l-1 2l-3 0l-1 1l-3 0l-2 2l-2 0l-2 1l-3 0l-2 1l-3 0l-1 2l-5 0l-2 1l-5 0l-1 2l-6 0l-1 1l-7 0l-2 1l-9 0l-2 2l-14 0l-1 1l-59 0l-1-1l-14 0l-2-2l-10 0l-1-1l-7 0l-1-1l-6 0l-1-2l-6 0l-1-1l-10-2l-2-1l-2 0l-2-1l-7-2l-1-1l-7-2l-4-2l-3 0l-2-2l-1 0l-1-1l-3 0l-27-14l-7-3l-3-3l-7-3l-2-2l-7-3l-3-3l-7-3l-3-3l-10-4l-3-3l-9-4l-2-1l-7-3l-4-3l-3 0l-4-3l-3 0l-4-2l-7-2l-1-1l-5 0l-1-2l-4 0l-2-1l-7 0l-1-1l-31 0l-1 1l-3 0l0-14l3-1l17-1l15 0l28 7l1-1l-14-6l-11-2l0-2l4-2l2-3l3-1l2 1zM585 241l0 3l-1-2z" fill="#bfbfff"/>
<path d="M28 237l2 0l5-1l8 0l7 2l4 4l3 6l-2 10l76 46l28 14l21 9l24 7l27 5l32 3l36 0l27-2l28-4l28-7l28-11l22-11l58-36l15-9l15-7l16-5l11-2l17-2l12 0l7 1l2 0l0 15l-3 0l-1-1l-31 0l-2 1l-7 0l-1 1l-4 0l-2 2l-4 0l-1 1l-7 2l-4 2l-3 0l-4 3l-3 0l-21 11l-2 0l-2 3l-10 4l-3 3l-7 3l-3 3l-7 3l-2 1l-40 21l-21 8l-18 6l-25 6l-25 4l-9 0l-1 1l-8 0l-42 0l-9 0l-1-1l-15-1l-1-1l-6 0l-19-3l-1-1l-4 0l-21-5l-2-2l-2 0l-2-1l-10-3l-1-1l-3 0l-37-19l-7-4l-7-3l-2-2l-8-4l-2-2l-8-3l-2-3l-10-4l-3-3l-4-1l-18-10l-3 0l-4-3l-3 0l-4-2l-7-2l-1-1l-5 0l-1-2l-4 0l-2-1l-7 0l-1-1l-31 0l-1 1l-3 0l0-14l18-2l19 1l19 5l13 4l5 0l-3 0l-11-7l-10-4l-9-3z" fill="#b4b4ff"/>
<path d="M33 237l9 0l5 3l2 5l1 7l-3 0l-17-8l-7-2l0-1l3-3zM0 247l14 0l12 3l37 13l71 44l24 12l21 8l21 7l24 5l22 3l24 1l32 0l31-3l25-4l27-7l25-11l22-11l57-35l15-9l16-7l14-5l13-3l14-1l11-1l10 1l3 1l0 14l-3 0l-1-1l-31 0l-2 1l-7 0l-1 1l-4 0l-2 2l-4 0l-1 1l-7 2l-4 2l-3 0l-4 3l-3 0l-21 11l-2 0l-2 3l-10 4l-3 3l-7 3l-2 2l-51 25l-19 8l-18 6l-23 6l-26 4l-29 2l-24 0l-25-2l-31-4l-26-6l-19-6l-33-16l-58-32l-22-11l-10-3l-4-2l-7-2l-1-1l-5 0l-1-2l-4 0l-2-1l-7 0l-1-1l-31 0l-1 1l-3 0l0-13z" fill="#a9a9ff"/>
<path d="M29 238l8 0l5 2l3 5l0 4l-2 1l-10-6l-8-2l-1-1l4-3zM-10 248l12-1l12 0l12 3l13 5l32 14l46 29l25 14l17 8l23 9l19 6l25 5l21 3l26 1l29 0l32-3l28-5l24-7l25-10l23-12l54-34l16-9l16-8l14-4l13-3l14-2l11 0l9 1l4 1l0 13l-3 0l-1-1l-31 0l-2 1l-7 0l-1 1l-4 0l-1 2l-5 0l-1 1l-7 2l-12 5l-2 0l-21 11l-2 0l-2 3l-10 4l-8 5l-55 28l-20 8l-18 5l-22 6l-24 4l-31 2l-21 0l-28-2l-31-4l-26-6l-19-6l-33-15l-76-41l-18-7l-7-2l-1-1l-5 0l-1-2l-4 0l-2-1l-7 0l-1-1l-31 0l-1 1l-3 0l0-13z" fill="#9e9eff"/>
<path d="M28 239l4-1l5 1l2 3l1 3l-1 2l-6-3l-7-3zM-6 248l11-1l10 1l11 3l14 5l35 17l67 40l17 8l21 9l20 6l25 5l21 2l27 2l29 0l34-3l28-6l23-7l24-9l23-12l60-38l24-12l15-6l25-4l11-1l10 1l6 2l0 12l-3 0l-1-1l-31 0l-1 0l-8 1l-11 3l-8 3l-14 5l-44 23l-56 27l-19 8l-17 6l-24 5l-22 4l-31 2l-21 0l-27-1l-29-4l-27-6l-16-6l-16-5l-21-10l-59-33l-19-10l-25-8l-12-3l-7-1l-1 0l-31 0l-4 1l0-12z" fill="#9494ff"/>
<path d="M29 239l5 1l2 2l-1 2l-7-3l0-1zM0 248l15 1l11 3l16 6l43 22l56 33l17 8l19 9l28 8l21 4l23 3l-11 0l-26-4l-24-6l-22-7l-31-15l-65-36l-10-5l-14-4l-11-4l-20-3l-20-1l-15 1l0-11zM565 248l11 0l9 2l0 12l-13-2l-22 1l-24 5l-18 7l-48 24l-18 9l-2-1l50-32l26-14l11-4l13-4zM428 312l1 0l-2 0zM425 313l1 1l-1 0zM422 315l1 0l-1 0zM414 319l1 0l-2 0zM401 325l1 0l-1 0zM394 328l1 0l-1 0zM369 336l1 0l-2 0zM364 337l1 1l-3 0zM341 342l5 0l-6 0zM331 343l6 0l-7 0zM316 345l11 0l-12 0zM252 346l58-1l4 1l-22 1l-41-1z" fill="#8989ff"/>
<path d="M30 240l2 1l-2 0zM-10 249l12-1l11 1l12 3l15 6l45 23l43 26l24 12l-1 1l-13-6l-61-34l-21-10l-21-6l-23-4l-17 0l-15 1l0-10zM555 249l16 0l14 2l0 10l-11-1l-19 0l-14 2l-14 3l-19 8l-45 22l-14 7l-1 0l42-29l21-11l19-8zM446 302l1 1l-1 0zM154 320l1 1l-3 0zM156 322l2 0l-3 0zM159 323l2 1l-2 0zM166 326l2 0l-3 0zM170 328l1 0l-2 0z" fill="#7e7eff"/>
<path d="M-6 249l10 0l10 1l11 3l12 4l38 20l21 12l-3 0l-32-18l-26-8l-26-4l-15 0l-14 2l0-10zM560 249l12 0l13 3l0 8l-10-1l-18 0l-13 2l-12 2l-21 8l-51 25l-4 2l-1-1l35-23l26-14l21-7zM96 289l2 1l-2 0zM99 291l1 1l-2-1zM102 292l1 1l-2 0zM105 294l0 1l-2-1zM106 295l2 1l-2 0zM109 296l1 1l-2 0zM112 298l-1 0zM453 298l1 0l-1 1zM119 302l0 1l-1 0z" fill="#7373ff"/>
<path d="M-14 251l19-1l18 3l17 6l16 9l-2 0l-21-6l-21-3l-18 0l-14 1l0-8zM551 251l18-1l16 2l0 8l-10-1l-17 0l-12 1l-13 3l-22 7l-48 24l-3 1l0-1l30-20l23-12l17-7zM57 269l1 0l-2 0z" fill="#6969ff"/>
<path d="M-10 251l17-1l15 3l17 7l10 5l-2 0l-14-3l-22-4l-17 0l-14 2l0-8zM555 251l16-1l14 3l0 6l-10-1l-17 0l-12 1l-12 3l-21 7l-44 21l-2 1l0-1l25-17l27-13l17-6zM466 291l1 0l-2 0z" fill="#5e5eff"/>
<path d="M-5 251l13 0l15 3l22 9l-1 1l-11-3l-21-3l-18 0l-14 1l0-6zM560 251l12 0l13 3l0 5l-9-1l-18 0l-22 3l-23 7l-39 19l0-1l17-11l29-16l20-5zM473 287l1 0l-2 0z" fill="#0000ff"/>
</g>
<path d="M-10 131L-7.5 130.6L-5 130.3L-2.4 130.2L0.1 130.1L2.6 130.2L5.1 130.3L7.6 130.6L10.2 131L12.7 131.5L15.2 132.2L17.7 132.9L20.2 133.7L22.8 134.6L25.3 135.6L27.8 136.6L30.3 137.8L32.8 139L35.4 140.3L37.9 141.6L40.4 142.9L42.9 144.3L45.4 145.7L48 147.2L50.5 148.6L53 150.1L55.5 151.5L58 152.9L60.6 154.4L63.1 155.7L65.6 157.1L68.1 158.4L70.6 159.7L73.2 161L75.7 162.2L78.2 163.3L80.7 164.4L83.2 165.4L85.8 166.4L88.3 167.3L90.8 168.2L93.3 169L95.8 169.7L98.4 170.4L100.9 171.1L103.4 171.7L105.9 172.2L108.4 172.7L111 173.1L113.5 173.5L116 173.8L118.5 174.1L121 174.4L123.6 174.6L126.1 174.8L128.6 175L131.1 175.1L133.6 175.2L136.2 175.2L138.7 175.3L141.2 175.3L143.7 175.3L146.3 175.2L148.8 175.2L151.3 175.1L153.8 175L156.3 174.8L158.9 174.6L161.4 174.4L163.9 174.1L166.4 173.8L168.9 173.5L171.5 173.1L174 172.7L176.5 172.2L179 171.7L181.5 171.1L184.1 170.4L186.6 169.7L189.1 169L191.6 168.2L194.1 167.3L196.7 166.4L199.2 165.4L201.7 164.4L204.2 163.3L206.7 162.2L209.3 161L211.8 159.7L214.3 158.4L216.8 157.1L219.3 155.7L221.9 154.4L224.4 152.9L226.9 151.5L229.4 150.1L231.9 148.6L234.5 147.2L237 145.7L239.5 144.3L242 142.9L244.5 141.6L247.1 140.3L249.6 139L252.1 137.8L254.6 136.6L257.1 135.6L259.7 134.6L262.2 133.7L264.7 132.9L267.2 132.2L269.7 131.5L272.3 131L274.8 130.6L277.3 130.3L279.8 130.2L282.3 130.1L284.9 130.2L287.4 130.3L289.9 130.6L292.4 131" fill="none" stroke="#000" stroke-width="1.2"/>
</g>
<clipPath id="clp5"><rect x="184.5" y="999.6" width="565" height="175.1"/></clipPath></defs>
<g clip-path="url(#clp5)">
<use href="#lp5" transform="translate(184.7 998.15)"/>
<use href="#lp5" transform="translate(467.12 998.15)"/>
</g>
<rect x="184.5" y="999.6" width="565" height="175.1" fill="none" stroke="#000" stroke-width="3"/>
<clipPath id="rc5"><rect x="755.5" y="1001.1" width="280" height="173.1"/></clipPath>
<g clip-path="url(#rc5)">
<path d="M755.8 1001.9l1.8 0.1M755.8 1005.4l1.8 0.1M755.8 1008.9l1.8 0.1M755.8 1012.3l1.8 0.1M755.8 1015.8l1.8 0.1M755.8 1019.3l1.8 0.1M755.8 1022.8l1.8 0.1M755.8 1026.3l1.8 0.1M755.8 1029.7l1.8 0.1M755.8 1033.2l1.8 0.1M755.8 1036.7l1.8 0.1M755.8 1040.2l1.8 0.1M755.8 1043.7l1.8 0.1M755.8 1047.1l1.8 0.1M755.8 1050.6l1.8 0.1M755.8 1054.1l1.8 0.1M755.8 1057.6l2.9 0.2M755.8 1061.1l4.4 0.3M755.8 1064.5l5.9 0.4M755.8 1068l7.4 0.4M755.8 1071.5l8.8 0.5M755.8 1075l10.9 0.7M755.8 1078.5l13.3 0.8M755.8 1081.9l15.6 0.9M755.8 1085.4l17.9 1.1M755.8 1088.9l20.4 1.2M755.8 1092.4l23.2 1.4M755.8 1095.9l26 1.6M755.8 1099.3l28.8 1.7M755.8 1102.8l30.6 1.8M755.8 1106.3l32.4 1.9M755.8 1109.8l32.4 1.9M755.8 1113.3l31.8 1.9M755.8 1116.7l27.5 1.6M802.3 1001.9l3.8 0.4M802.3 1005.4l3.9 0.4M802.3 1008.9l4 0.4M802.3 1012.3l4.1 0.4M802.3 1015.8l4.3 0.5M802.3 1019.3l4.4 0.5M802.3 1022.8l4.6 0.5M802.3 1026.3l4.7 0.6M802.3 1029.7l4.8 0.6M802.3 1033.2l5 0.6M802.3 1036.7l5.2 0.7M802.3 1040.2l5.5 0.8M802.3 1043.7l5.9 0.9M802.3 1047.1l6.2 1M802.3 1050.6l6.6 1.1M802.3 1054.1l7 1.2M802.3 1057.6l7.3 1.3M802.3 1061.1l7.7 1.5M802.3 1064.5l8.2 1.7M802.3 1068l8.8 1.9M802.3 1071.5l9.3 2.1M802.3 1075l9.9 2.3M802.3 1078.5l10.4 2.6M802.3 1081.9l10.9 2.9M802.3 1085.4l11.4 3.2M802.3 1088.9l11.8 3.6M802.3 1092.4l12.2 3.9M802.3 1095.9l12.6 4.3M802.3 1099.3l12.9 4.7M802.3 1102.8l13.3 5.2M802.3 1106.3l13.3 5.5M802.3 1109.8l13.4 5.9M802.3 1113.3l13.4 6.4M802.3 1116.7l13.1 6.6M802.3 1120.2l12.4 6.8M802.3 1123.7l11.8 6.9M802.3 1127.2l11.2 7M802.3 1130.7l10 6.7M802.3 1134.1l7.5 5.4M802.3 1137.6l4.9 3.8M802.3 1141.1l2 1.7M848.8 1001.9l4.5 0.3M848.8 1005.4l4.5 0.3M848.8 1008.9l4.5 0.3M848.8 1012.3l4.5 0.3M848.8 1015.8l4.5 0.3M848.8 1019.3l4.5 0.3M848.8 1022.8l4.5 0.4M848.8 1026.3l4.5 0.4M848.8 1029.7l4.5 0.4M848.8 1033.2l4.5 0.4M848.8 1036.7l4.5 0.4M848.8 1040.2l4.5 0.4M848.8 1043.7l4.5 0.4M848.8 1047.1l4.5 0.4M848.8 1050.6l4.5 0.4M848.8 1054.1l4.5 0.4M848.8 1057.6l4.5 0.4M848.8 1061.1l4.5 0.5M848.8 1064.5l4.5 0.5M848.8 1068l4.5 0.5M848.8 1071.5l4.5 0.5M848.8 1075l4.5 0.5M848.8 1078.5l4.5 0.6M848.8 1081.9l4.5 0.6M848.8 1085.4l4.5 0.6M848.8 1088.9l4.5 0.6M848.8 1092.4l4.5 0.7M848.8 1095.9l4.5 0.7M848.8 1099.3l4.6 0.7M848.8 1102.8l4.8 0.8M848.8 1106.3l5 0.9M848.8 1109.8l5.2 1M848.8 1113.3l5.4 1.1M848.8 1116.7l5.5 1.2M848.8 1120.2l5.7 1.3M848.8 1123.7l5.8 1.3M848.8 1127.2l5.6 1.4M848.8 1130.7l5.4 1.4M848.8 1134.1l5.3 1.5M848.8 1137.6l5.1 1.5M848.8 1141.1l5 1.6M848.8 1144.6l4.8 1.6M848.8 1148.1l4.5 1.6M848.8 1151.5l3.8 1.4M848.8 1155l3.1 1.3M848.8 1158.5l2.4 1M848.8 1162l1.7 0.8M895.2 1001.9l5.2 0.3M895.2 1005.4l5.2 0.3M895.2 1008.9l5.2 0.3M895.2 1012.3l5.2 0.3M895.2 1015.8l5.2 0.3M895.2 1019.3l5.2 0.3M895.2 1022.8l5.2 0.3M895.2 1026.3l5.2 0.3M895.2 1029.7l5.2 0.3M895.2 1033.2l5.2 0.3M895.2 1036.7l5.2 0.3M895.2 1040.2l5.2 0.3M895.2 1043.7l5.2 0.3M895.2 1047.1l5.2 0.3M895.2 1050.6l5.2 0.3M895.2 1054.1l5.2 0.3M895.2 1057.6l5.2 0.3M895.2 1061.1l5.2 0.3M895.2 1064.5l5.2 0.3M895.2 1068l5.2 0.3M895.2 1071.5l5.2 0.3M895.2 1075l5.2 0.3M895.2 1078.5l5.2 0.3M895.2 1081.9l5.2 0.3M895.2 1085.4l5.2 0.3M895.2 1088.9l5.2 0.3M895.2 1092.4l5.2 0.3M895.2 1095.9l5.2 0.3M895.2 1099.3l5.2 0.3M895.2 1102.8l5.2 0.3M895.2 1106.3l5.2 0.3M895.2 1109.8l5.2 0.3M895.2 1113.3l5.2 0.3M895.2 1116.7l5.2 0.3M895.2 1120.2l5.2 0.3M895.2 1123.7l5.1 0.3M895.2 1127.2l4.9 0.3M895.2 1130.7l4.8 0.3M895.2 1134.1l4.6 0.3M895.2 1137.6l4.4 0.3M895.2 1141.1l4.2 0.3M895.2 1144.6l4.1 0.2M895.2 1148.1l3.9 0.2M895.2 1151.5l3.7 0.2M895.2 1155l3.5 0.2M895.2 1158.5l3.3 0.2M895.2 1162l3.1 0.2M895.2 1165.5l2.9 0.2M895.2 1168.9l2.7 0.2M941.7 1001.9l4.7 0.2M941.7 1005.4l4.7 0.2M941.7 1008.9l4.7 0.2M941.7 1012.3l4.8 0.2M941.7 1015.8l4.8 0.2M941.7 1019.3l4.8 0.2M941.7 1022.8l4.9 0.2M941.7 1026.3l4.9 0.2M941.7 1029.7l4.9 0.2M941.7 1033.2l5 0.2M941.7 1036.7l5 0.2M941.7 1040.2l5.1 0.2M941.7 1043.7l5.1 0.2M941.7 1047.1l5.1 0.1M941.7 1050.6l5.2 0.1M941.7 1054.1l5.3 0.1M941.7 1057.6l5.3 0.1M941.7 1061.1l5.4 0.1M941.7 1064.5l5.5 0.1M941.7 1068l5.6 0.1M941.7 1071.5l5.6 0M941.7 1075l5.7 0M941.7 1078.5l5.8 0M941.7 1081.9l5.8 0M941.7 1085.4l5.9 -0.1M941.7 1088.9l6.3 -0.1M941.7 1092.4l6.6 -0.2M941.7 1095.9l7 -0.2M941.7 1099.3l7.3 -0.3M941.7 1102.8l7.7 -0.4M941.7 1106.3l8 -0.5M941.7 1109.8l8.4 -0.6M941.7 1113.3l8.6 -0.7M941.7 1116.7l8.7 -0.8M941.7 1120.2l8.9 -0.9M941.7 1123.7l9.1 -1M941.7 1127.2l9.3 -1.2M941.7 1130.7l9.5 -1.3M941.7 1134.1l9.7 -1.5M941.7 1137.6l9.5 -1.7M941.7 1141.1l9.2 -1.8M941.7 1144.6l9 -1.9M941.7 1148.1l8.8 -2.1M941.7 1151.5l8.6 -2.2M941.7 1155l7.4 -2.1M941.7 1158.5l6.1 -1.9M988.1 1001.9l1.6 0M988.1 1005.4l1.6 0M988.1 1008.9l1.6 0M988.1 1012.3l1.6 0M988.1 1015.8l1.6 0M988.1 1019.3l1.6 0M988.1 1022.8l1.6 0M988.1 1026.3l1.6 0M988.1 1029.7l1.6 0M988.1 1033.2l1.6 0M988.1 1036.7l1.6 0M988.1 1040.2l1.6 0M988.1 1043.7l1.6 0M988.1 1047.1l1.6 -0.1M988.1 1050.6l1.8 -0.1M988.1 1054.1l2 -0.1M988.1 1057.6l2.1 -0.1M988.1 1061.1l2.3 -0.2M988.1 1064.5l2.5 -0.2M988.1 1068l2.7 -0.2M988.1 1071.5l2.9 -0.3M988.1 1075l3.5 -0.4M988.1 1078.5l4.4 -0.6M988.1 1081.9l5.3 -0.8M988.1 1085.4l6.2 -1M988.1 1088.9l7.1 -1.3M988.1 1092.4l8 -1.6M988.1 1095.9l10.5 -2.3M988.1 1099.3l13 -3.2M988.1 1102.8l15.5 -4.2M988.1 1106.3l18 -5.3M988.1 1109.8l20.5 -6.7M988.1 1113.3l21.9 -7.8M988.1 1116.7l23.2 -9M988.1 1120.2l24 -10.2M988.1 1123.7l21.9 -10.2M988.1 1127.2l19.8 -10M988.1 1130.7l16.9 -9.3M988.1 1134.1l12.4 -7.4M988.1 1137.6l7.4 -4.9M988.1 1141.1l0.7 -0.5" stroke="#000" stroke-width="1.35" fill="none"/>
<path d="M762.4 1002.3l-4.9 1.6l0.2 -3.8zM762.4 1005.8l-4.9 1.6l0.2 -3.8zM762.4 1009.3l-4.9 1.6l0.2 -3.8zM762.4 1012.7l-4.9 1.6l0.2 -3.8zM762.4 1016.2l-4.9 1.6l0.2 -3.8zM762.4 1019.7l-4.9 1.6l0.2 -3.8zM762.4 1023.2l-4.9 1.6l0.2 -3.8zM762.4 1026.7l-4.9 1.6l0.2 -3.8zM762.4 1030.1l-4.9 1.6l0.2 -3.8zM762.4 1033.6l-4.9 1.6l0.2 -3.8zM762.4 1037.1l-4.9 1.6l0.2 -3.8zM762.4 1040.6l-4.9 1.6l0.2 -3.8zM762.4 1044.1l-4.9 1.6l0.2 -3.8zM762.4 1047.5l-4.9 1.6l0.2 -3.8zM762.4 1051l-4.9 1.6l0.2 -3.8zM762.4 1054.5l-4.9 1.6l0.2 -3.8zM763.5 1058l-4.9 1.6l0.2 -3.8zM765 1061.6l-4.9 1.6l0.2 -3.8zM766.5 1065.2l-4.9 1.6l0.2 -3.8zM768 1068.7l-4.9 1.6l0.2 -3.8zM769.5 1072.3l-4.9 1.6l0.2 -3.8zM771.6 1075.9l-4.9 1.6l0.2 -3.8zM773.9 1079.5l-4.9 1.6l0.2 -3.8zM776.2 1083.2l-4.9 1.6l0.2 -3.8zM778.5 1086.8l-4.9 1.6l0.2 -3.8zM781 1090.4l-4.9 1.6l0.2 -3.8zM783.8 1094.1l-4.9 1.6l0.2 -3.8zM786.6 1097.7l-4.9 1.6l0.2 -3.8zM789.4 1101.4l-4.9 1.6l0.2 -3.8zM791.3 1104.9l-4.9 1.6l0.2 -3.8zM793 1108.5l-4.9 1.6l0.2 -3.8zM793.1 1112l-4.9 1.6l0.2 -3.8zM792.5 1115.5l-4.9 1.6l0.2 -3.8zM788.1 1118.7l-4.9 1.6l0.2 -3.8zM810.9 1002.7l-5 1.4l0.4 -3.8zM811 1006.2l-5 1.4l0.4 -3.8zM811.1 1009.7l-5 1.4l0.4 -3.8zM811.2 1013.3l-5 1.4l0.4 -3.8zM811.4 1016.8l-5 1.4l0.4 -3.8zM811.5 1020.3l-5 1.4l0.4 -3.8zM811.6 1023.9l-5 1.3l0.4 -3.8zM811.8 1027.4l-5 1.3l0.5 -3.8zM811.9 1030.9l-5 1.3l0.5 -3.8zM812 1034.5l-5 1.3l0.5 -3.8zM812.2 1038.1l-5 1.2l0.5 -3.8zM812.6 1041.6l-5 1.2l0.5 -3.8zM812.9 1045.2l-5 1.2l0.6 -3.8zM813.3 1048.9l-5 1.1l0.6 -3.8zM813.6 1052.5l-5 1.1l0.6 -3.8zM814 1056.1l-5.1 1.1l0.6 -3.7zM814.3 1059.8l-5.1 1l0.7 -3.7zM814.7 1063.4l-5.1 1l0.7 -3.7zM815.3 1067.1l-5.1 0.9l0.7 -3.7zM815.8 1070.9l-5.1 0.9l0.8 -3.7zM816.3 1074.6l-5.1 0.8l0.8 -3.7zM816.8 1078.4l-5.1 0.7l0.9 -3.7zM817.3 1082.2l-5.1 0.7l0.9 -3.7zM817.9 1086.1l-5.1 0.6l1 -3.7zM818.4 1090l-5.1 0.5l1 -3.7zM818.7 1093.9l-5.1 0.4l1.1 -3.6zM819.1 1097.8l-5.2 0.3l1.2 -3.6zM819.4 1101.7l-5.2 0.2l1.2 -3.6zM819.8 1105.7l-5.2 0.1l1.3 -3.6zM820 1109.7l-5.2 0l1.4 -3.5zM820 1113.7l-5.2 -0.1l1.5 -3.5zM820 1117.7l-5.2 -0.2l1.5 -3.5zM820 1121.7l-5.2 -0.3l1.6 -3.4zM819.6 1125.6l-5.1 -0.5l1.7 -3.4zM818.9 1129.3l-5.1 -0.6l1.8 -3.3zM818.2 1133l-5.1 -0.8l1.9 -3.3zM817.5 1136.7l-5.1 -0.9l2 -3.2zM816.3 1140l-5 -1.1l2.1 -3.2zM813.6 1142.3l-5 -1.3l2.2 -3.1zM811 1144.4l-5 -1.4l2.3 -3zM808 1145.9l-4.9 -1.6l2.4 -2.9zM858 1002.6l-4.9 1.6l0.3 -3.8zM858 1006.1l-4.9 1.5l0.3 -3.8zM858 1009.5l-4.9 1.5l0.3 -3.8zM858 1013l-4.9 1.5l0.3 -3.8zM858 1016.5l-4.9 1.5l0.3 -3.8zM858 1020l-4.9 1.5l0.3 -3.8zM858 1023.5l-4.9 1.5l0.3 -3.8zM858 1027l-4.9 1.5l0.3 -3.8zM858 1030.5l-4.9 1.5l0.3 -3.8zM858 1034l-4.9 1.5l0.3 -3.8zM858 1037.5l-4.9 1.5l0.3 -3.8zM858 1041l-4.9 1.5l0.3 -3.8zM858 1044.5l-4.9 1.5l0.3 -3.8zM858 1048l-5 1.5l0.3 -3.8zM858 1051.5l-5 1.4l0.4 -3.8zM858 1055l-5 1.4l0.4 -3.8zM858 1058.5l-5 1.4l0.4 -3.8zM858 1062l-5 1.4l0.4 -3.8zM858 1065.5l-5 1.4l0.4 -3.8zM858 1069l-5 1.4l0.4 -3.8zM858 1072.6l-5 1.3l0.4 -3.8zM858 1076.1l-5 1.3l0.4 -3.8zM858 1079.6l-5 1.3l0.5 -3.8zM858 1083.1l-5 1.3l0.5 -3.8zM858 1086.7l-5 1.2l0.5 -3.8zM858 1090.2l-5 1.2l0.5 -3.8zM858 1093.7l-5 1.2l0.5 -3.8zM858 1097.3l-5 1.2l0.6 -3.8zM858.1 1100.8l-5 1.1l0.6 -3.8zM858.3 1104.4l-5 1.1l0.6 -3.7zM858.5 1108l-5.1 1l0.7 -3.7zM858.7 1111.6l-5.1 1l0.7 -3.7zM858.8 1115.2l-5.1 0.9l0.7 -3.7zM859 1118.9l-5.1 0.9l0.8 -3.7zM859.2 1122.5l-5.1 0.8l0.8 -3.7zM859.2 1126.1l-5.1 0.8l0.9 -3.7zM859 1129.7l-5.1 0.7l0.9 -3.7zM858.8 1133.3l-5.1 0.6l1 -3.7zM858.7 1136.9l-5.1 0.5l1 -3.7zM858.5 1140.5l-5.1 0.5l1.1 -3.6zM858.3 1144.1l-5.1 0.4l1.1 -3.6zM858.1 1147.7l-5.2 0.3l1.2 -3.6zM857.8 1151.3l-5.2 0.2l1.3 -3.6zM857 1154.7l-5.2 0.1l1.4 -3.6zM856.3 1158.1l-5.2 0l1.4 -3.5zM855.6 1161.5l-5.2 -0.2l1.5 -3.5zM854.8 1164.8l-5.2 -0.3l1.6 -3.4zM905.2 1002.5l-4.9 1.6l0.2 -3.8zM905.2 1006l-4.9 1.6l0.2 -3.8zM905.2 1009.5l-4.9 1.6l0.2 -3.8zM905.2 1012.9l-4.9 1.6l0.2 -3.8zM905.2 1016.4l-4.9 1.6l0.2 -3.8zM905.2 1019.9l-4.9 1.6l0.2 -3.8zM905.2 1023.4l-4.9 1.6l0.2 -3.8zM905.2 1026.9l-4.9 1.6l0.2 -3.8zM905.2 1030.3l-4.9 1.6l0.2 -3.8zM905.2 1033.8l-4.9 1.6l0.2 -3.8zM905.2 1037.3l-4.9 1.6l0.2 -3.8zM905.2 1040.8l-4.9 1.6l0.2 -3.8zM905.2 1044.3l-4.9 1.6l0.2 -3.8zM905.2 1047.7l-4.9 1.6l0.2 -3.8zM905.2 1051.2l-4.9 1.6l0.2 -3.8zM905.2 1054.7l-4.9 1.6l0.2 -3.8zM905.2 1058.2l-4.9 1.6l0.2 -3.8zM905.2 1061.7l-4.9 1.6l0.2 -3.8zM905.2 1065.1l-4.9 1.6l0.2 -3.8zM905.2 1068.6l-4.9 1.6l0.2 -3.8zM905.2 1072.1l-4.9 1.6l0.2 -3.8zM905.2 1075.6l-4.9 1.6l0.2 -3.8zM905.2 1079.1l-4.9 1.6l0.2 -3.8zM905.2 1082.5l-4.9 1.6l0.2 -3.8zM905.2 1086l-4.9 1.6l0.2 -3.8zM905.2 1089.5l-4.9 1.6l0.2 -3.8zM905.2 1093l-4.9 1.6l0.2 -3.8zM905.2 1096.5l-4.9 1.6l0.2 -3.8zM905.2 1099.9l-4.9 1.6l0.2 -3.8zM905.2 1103.4l-4.9 1.6l0.2 -3.8zM905.2 1106.9l-4.9 1.6l0.2 -3.8zM905.2 1110.4l-4.9 1.6l0.2 -3.8zM905.2 1113.9l-4.9 1.6l0.2 -3.8zM905.2 1117.3l-4.9 1.6l0.2 -3.8zM905.2 1120.8l-4.9 1.6l0.2 -3.8zM905.1 1124.3l-4.9 1.6l0.2 -3.8zM904.9 1127.8l-4.9 1.6l0.2 -3.8zM904.8 1131.2l-4.9 1.6l0.2 -3.8zM904.6 1134.7l-4.9 1.6l0.2 -3.8zM904.4 1138.2l-4.9 1.6l0.2 -3.8zM904.3 1141.6l-4.9 1.6l0.2 -3.8zM904.1 1145.1l-4.9 1.6l0.2 -3.8zM903.9 1148.6l-4.9 1.6l0.2 -3.8zM903.7 1152l-4.9 1.6l0.2 -3.8zM903.5 1155.5l-4.9 1.6l0.2 -3.8zM903.3 1159l-4.9 1.6l0.2 -3.8zM903.1 1162.5l-4.9 1.6l0.2 -3.8zM902.9 1165.9l-4.9 1.6l0.2 -3.8zM902.7 1169.4l-4.9 1.6l0.2 -3.8zM951.1 1002.4l-4.9 1.7l0.2 -3.8zM951.2 1005.8l-4.9 1.7l0.2 -3.8zM951.2 1009.3l-4.9 1.7l0.2 -3.8zM951.2 1012.8l-4.9 1.7l0.2 -3.8zM951.3 1016.2l-4.9 1.7l0.2 -3.8zM951.3 1019.7l-4.9 1.7l0.2 -3.8zM951.3 1023.2l-4.9 1.7l0.2 -3.8zM951.4 1026.6l-4.9 1.7l0.2 -3.8zM951.4 1030.1l-4.9 1.7l0.1 -3.8zM951.5 1033.6l-4.9 1.7l0.1 -3.8zM951.5 1037l-4.9 1.7l0.1 -3.8zM951.5 1040.5l-4.9 1.7l0.1 -3.8zM951.6 1044l-4.9 1.8l0.1 -3.8zM951.6 1047.4l-4.9 1.8l0.1 -3.8zM951.7 1050.9l-4.8 1.8l0.1 -3.8zM951.8 1054.3l-4.8 1.8l0.1 -3.8zM951.8 1057.8l-4.8 1.8l0.1 -3.8zM951.9 1061.2l-4.8 1.8l0.1 -3.8zM952 1064.7l-4.8 1.8l0.1 -3.8zM952 1068.1l-4.8 1.9l0 -3.8zM952.1 1071.6l-4.8 1.9l0 -3.8zM952.2 1075l-4.8 1.9l0 -3.8zM952.2 1078.4l-4.8 1.9l0 -3.8zM952.3 1081.9l-4.8 1.9l0 -3.8zM952.4 1085.3l-4.8 2l-0.1 -3.8zM952.8 1088.7l-4.8 2l-0.1 -3.8zM953.1 1092.1l-4.7 2l-0.1 -3.8zM953.5 1095.5l-4.7 2.1l-0.1 -3.8zM953.8 1098.8l-4.7 2.1l-0.2 -3.8zM954.2 1102.2l-4.7 2.1l-0.2 -3.8zM954.5 1105.6l-4.7 2.2l-0.2 -3.8zM954.9 1108.9l-4.7 2.2l-0.3 -3.8zM955 1112.2l-4.6 2.3l-0.3 -3.8zM955.2 1115.5l-4.6 2.3l-0.3 -3.8zM955.4 1118.8l-4.6 2.4l-0.4 -3.8zM955.6 1122.1l-4.6 2.4l-0.4 -3.8zM955.7 1125.4l-4.5 2.5l-0.5 -3.8zM955.9 1128.6l-4.5 2.6l-0.5 -3.8zM956.1 1131.9l-4.4 2.6l-0.6 -3.8zM955.9 1135.1l-4.4 2.7l-0.7 -3.7zM955.6 1138.4l-4.3 2.8l-0.7 -3.7zM955.4 1141.6l-4.3 2.9l-0.8 -3.7zM955.1 1144.9l-4.2 3l-0.9 -3.7zM954.9 1148.1l-4.2 3.1l-1 -3.7zM953.7 1151.6l-4.1 3.2l-1 -3.7zM952.4 1155.1l-4 3.3l-1.1 -3.6zM994.6 1002.1l-4.8 1.8l0.1 -3.8zM994.6 1005.5l-4.8 1.8l0.1 -3.8zM994.6 1009l-4.8 1.8l0.1 -3.8zM994.6 1012.4l-4.8 1.8l0.1 -3.8zM994.6 1015.9l-4.8 1.8l0 -3.8zM994.6 1019.4l-4.8 1.9l0 -3.8zM994.6 1022.8l-4.8 1.9l0 -3.8zM994.6 1026.3l-4.8 1.9l0 -3.8zM994.6 1029.7l-4.8 1.9l0 -3.8zM994.6 1033.2l-4.8 1.9l0 -3.8zM994.6 1036.6l-4.8 2l-0.1 -3.8zM994.6 1040l-4.8 2l-0.1 -3.8zM994.6 1043.5l-4.7 2l-0.1 -3.8zM994.6 1046.9l-4.7 2.1l-0.1 -3.8zM994.7 1050.3l-4.7 2.1l-0.2 -3.8zM994.9 1053.8l-4.7 2.1l-0.2 -3.8zM995.1 1057.2l-4.7 2.2l-0.2 -3.8zM995.2 1060.6l-4.7 2.2l-0.3 -3.8zM995.4 1064l-4.6 2.3l-0.3 -3.8zM995.6 1067.3l-4.6 2.3l-0.3 -3.8zM995.8 1070.7l-4.6 2.4l-0.4 -3.8zM996.4 1074l-4.5 2.4l-0.4 -3.8zM997.3 1077.3l-4.5 2.5l-0.5 -3.8zM998.2 1080.5l-4.5 2.6l-0.6 -3.8zM999 1083.6l-4.4 2.7l-0.6 -3.7zM999.9 1086.8l-4.4 2.7l-0.7 -3.7zM1000.8 1089.8l-4.3 2.8l-0.8 -3.7zM1003.3 1092.5l-4.3 2.9l-0.8 -3.7zM1005.8 1095l-4.2 3l-0.9 -3.7zM1008.3 1097.4l-4.1 3.1l-1 -3.7zM1010.8 1099.6l-4.1 3.2l-1.1 -3.6zM1013.2 1101.6l-4 3.3l-1.2 -3.6zM1014.5 1103.9l-3.9 3.4l-1.3 -3.6zM1015.8 1106l-3.8 3.5l-1.4 -3.5zM1016.6 1108.1l-3.7 3.6l-1.5 -3.5zM1014.4 1111.5l-3.6 3.7l-1.6 -3.4zM1012.2 1115l-3.4 3.9l-1.7 -3.4zM1009.3 1119l-3.3 4l-1.8 -3.3zM1004.6 1124.2l-3.1 4.1l-2 -3.3zM999.6 1130.1l-3 4.2l-2.1 -3.2zM992.6 1137.9l-2.7 4.3l-2.2 -3.1z" fill="#000"/>
<path d="M755.8 1127.7L757.8 1127.8L759.8 1127.9L761.8 1128.1L763.8 1128.3L765.8 1128.7L767.8 1129.1L769.8 1129.6L771.8 1130.1L773.8 1130.7L775.8 1131.4L777.7 1132.1L779.7 1132.9L781.7 1133.7L783.7 1134.6L785.7 1135.6L787.7 1136.6L789.7 1137.6L791.7 1138.6L793.7 1139.7L795.7 1140.8L797.7 1142L799.6 1143.2L801.6 1144.3L803.6 1145.5L805.6 1146.7L807.6 1147.9L809.6 1149.1L811.6 1150.3L813.6 1151.5L815.6 1152.7L817.6 1153.9L819.6 1155L821.5 1156.2L823.5 1157.3L825.5 1158.4L827.5 1159.4L829.5 1160.4L831.5 1161.4L833.5 1162.4L835.5 1163.3L837.5 1164.2L839.5 1165.1L841.5 1165.9L843.5 1166.7L845.4 1167.5L847.4 1168.2L849.4 1168.9L851.4 1169.5L853.4 1170.1L855.4 1170.6L857.4 1171.2L859.4 1171.7L861.4 1172.1L863.4 1172.5L865.4 1172.9L867.3 1173.3L869.3 1173.6L871.3 1173.9L873.3 1174.2L875.3 1174.4L877.3 1174.7L879.3 1174.8L881.3 1175L883.3 1175.2L885.3 1175.3L887.3 1175.4L889.2 1175.4L891.2 1175.5L893.2 1175.5L895.2 1175.5L897.2 1175.5L899.2 1175.5L901.2 1175.4L903.2 1175.4L905.2 1175.3L907.2 1175.2L909.2 1175L911.1 1174.8L913.1 1174.7L915.1 1174.4L917.1 1174.2L919.1 1173.9L921.1 1173.6L923.1 1173.3L925.1 1172.9L927.1 1172.5L929.1 1172.1L931.1 1171.7L933.1 1171.2L935 1170.6L937 1170.1L939 1169.5L941 1168.9L943 1168.2L945 1167.5L947 1166.7L949 1165.9L951 1165.1L953 1164.2L955 1163.3L956.9 1162.4L958.9 1161.4L960.9 1160.4L962.9 1159.4L964.9 1158.4L966.9 1157.3L968.9 1156.2L970.9 1155L972.9 1153.9L974.9 1152.7L976.9 1151.5L978.8 1150.3L980.8 1149.1L982.8 1147.9L984.8 1146.7L986.8 1145.5L988.8 1144.3L990.8 1143.2L992.8 1142L994.8 1140.8L996.8 1139.7L998.8 1138.6L1000.8 1137.6L1002.7 1136.6L1004.7 1135.6L1006.7 1134.6L1008.7 1133.7L1010.7 1132.9L1012.7 1132.1L1014.7 1131.4L1016.7 1130.7L1018.7 1130.1L1020.7 1129.6L1022.7 1129.1L1024.6 1128.7L1026.6 1128.3L1028.6 1128.1L1030.6 1127.9L1032.6 1127.8L1034.6 1127.7" stroke="#000" stroke-width="1.7" fill="none"/>
</g>
<rect x="755.5" y="1001.2" width="279.8" height="173" fill="none" stroke="#000" stroke-width="2.9"/>
<line x1="1036.7" y1="1154.9" x2="1047.8" y2="1154.9" stroke="#000" stroke-width="1.3"/>
<text x="1059.6" y="1163.3" font-size="25">0</text>
<line x1="1036.7" y1="1108.2" x2="1047.8" y2="1108.2" stroke="#000" stroke-width="1.3"/>
<text x="1059.6" y="1116.6" font-size="25">1</text>
<line x1="1036.7" y1="1061.4" x2="1047.8" y2="1061.4" stroke="#000" stroke-width="1.3"/>
<text x="1059.6" y="1069.8" font-size="25">2</text>
<line x1="1036.7" y1="1014.7" x2="1047.8" y2="1014.7" stroke="#000" stroke-width="1.3"/>
<text x="1059.6" y="1023.1" font-size="25">3</text>
<text x="1094.79" y="1086.23" font-size="28.6" font-style="italic">y</text>
<path d="M1108.40 1092.40L1118.50 1066.60" stroke="#000" stroke-width="1.5"/>
<text x="1121.33" y="1085.97" font-size="27.32" font-style="italic">η</text>
<defs><clipPath id="tlp6"><rect x="0" y="-5" width="282.42" height="190"/></clipPath>
<g id="lp6" clip-path="url(#tlp6)"><g transform="scale(0.5)" stroke="#000" stroke-width="2" stroke-linejoin="round" fill-rule="evenodd">
<path d="M93 41l2-1l3 1l2 4l-2 2l-7 2l0 4l3 3l8 4l1-1l6-8l2-7l2-2l3 1l7 5l3-1l4-3l3 0l4 5l3 2l12-4l7 1l2 1l1 4l-2 7l7 7l2 7l4 6l-1 7l1 1l3 0l6-2l4 1l3 5l2 1l3-5l-5-2l0-3l2-4l5 0l3 2l-1 6l5 0l3 1l1 2l0 4l1 3l13 1l5 3l1 3l-4 4l-1 4l3 7l5 6l1 2l-3 3l-6 2l-7 9l-7 3l-2 3l2 5l8 5l1 3l-1 4l6 7l-1 3l-3 5l1 9l0 7l-1 4l-3 4l-1 0l-3-4l-3 2l-3 3l-3 9l-2 2l-13 4l-8 5l-4 0l-9-1l-12 4l-10 1l-10 4l-11-2l-7 2l-13 1l-4 0l-6-3l-8 3l-6 1l-5-2l-6 2l-11-5l-11-1l-3 2l-4 0l-3-1l-2-3l-5-2l-8 3l-13 1l-21 3l-7-2l0-114l4 1l1-4l2-1l3 0l4 1l4 0l4-3l0-2l2-2l15-7l1-1l0-3l-2-4l-4-3l1-3l8-12l13-7l7-9l10-2l5-5l6-3l3 1l10 4l3 0l9-5zM61 59l3 11l1 0l2-4l1-3l-4-4zM32 80l-1 3l1 3l3 1l2-2l1-2l0-2l-3-1zM28 91l-1 3l0 4l3 1l3 0l2-2l-1-3l-2-2zM14 111l-7 1l1 2l2 1l5 1l1 0l3-2l0-3l-1-1zM179 72l1 1l0 1l-3 1l1-2zM585 77l0 15l-6-5l1-3zM585 98l0 129l-11 0l-6 2l-18 2l-13-3l-7 2l-3 0l-4-9l-1-1l-7 0l-3-3l-1-3l1-2l3-2l8 2l7-2l2-3l1-2l-1-13l-2-3l-3-3l-7-2l-2-3l-1-4l2-5l0-2l-5-9l0-5l2-7l2-1l4 1l2 0l-1-3l-4 0l-2-3l0-4l3-9l2-1l5-3l1-1l2-16l3 1l4 3l10 3l2-1l1-3l1-1l3 0l6 1l5-1l3-2l0-2l1-3zM580 111l-7 1l0 2l3 1l5 1l2-2l1-2l-1-2zM532 136l-1 1l-1 2l3 3l3 0l3-3l0-3l-2-1zM538 160l5 3l1-2l-3-2zM509 188l3 1l4 3l7 0l3 0l2 3l-1 3l-5 4l-3 0l-4-6l-7-4l-1-3z" fill="#fff4f4"/>
<path d="M126 87l23 3l12 6l6 5l9 3l4 4l1 4l5 6l2 4l10 5l3 2l1 8l0 7l-4 5l-7 7l0 1l3 4l-1 10l3 15l-4 9l-3 8l-3 6l-11 7l-16 2l-7 3l-19 4l-9-1l-15 2l-9-3l-5 0l-13 2l-12-3l-23-4l-12 2l-17-2l-7 1l-4 0l-6 2l-3 1l-4-2l-2-7l1-10l-2-10l2-7l9-5l1-2l0-5l-4-9l1-2l9-9l7 0l3-2l2-10l-1-6l1-4l9-4l9-7l7-2l5-5l10-1l9-6l7-1l1-2l2-6l2-2l9 0l11-6l3 0l4 2l10-2zM64 92l3 1l2 1l0 1l-2 2l-3-1l-1-2zM585 134l0 5l-3-3zM585 146l0 73l-9 1l-4-1l-7 3l-4-1l-2-1l-3-6l2-9l-3-12l2-7l9-5l2-3l0-6l-4-8l10-10l9-1l2-3z" fill="#ffeaea"/>
<path d="M110 109l27 1l7 4l8-4l3 1l1 3l0 5l14 7l3 13l7 1l5 2l1 12l-7 10l0 11l5 9l1 4l-5 7l-3 8l-14 8l-32 8l-7 0l-10 1l-8-3l-22 1l-12-3l-8-1l-11 1l-9-1l-9 1l-3-1l-3-4l-6-4l0-2l3-2l1-3l-3-7l-2-11l7-5l0-2l-3-6l2-2l5-3l3-3l-2-6l2-4l6-6l12-1l10-11l3-1l6-1l6-7l24-9z" fill="#ffdfdf"/>
<path d="M110 129l10 3l3 0l7-2l8 2l3 1l8 7l10 3l4 7l9 2l2 1l1 4l-1 6l-6 7l2 15l-1 4l-4 10l-8 7l-26 8l-5-1l-7 1l-7-2l-9 1l-22-4l-13 1l-7-2l-3-5l-6-4l-1-3l2-5l-4-4l-2-2l1-4l3-9l1-11l1-3l8-3l10 0l1-1l4-5l5-3l2-7l3-4l10-4l7 0z" fill="#ffd4d4"/>
<path d="M126 149l4 0l7 1l8 6l6 0l2 2l2 4l5 3l0 6l-2 4l0 4l-2 5l2 7l-5 8l-5 3l-17 6l-15-2l-7 1l-11-4l-10 1l-7-1l-4-5l1-13l-3-6l-5-5l1-4l3-1l7 3l5-3l6 0l1-1l1-4l2-3l3-7l1-2l5 0l8 3l4 0l4-2z" fill="#ffc9c9"/>
<path d="M121 178l3-1l2 1l2 5l3 2l9 0l-2 4l0 3l-1 3l-6 3l-4 0l-5-6l-2-1l-5 5l-4 0l-3-10l1-2l1-1l6 1l3-4z" fill="#ffbfbf"/>
<path d="M162 235l13 0l12 3l3 2l1 10l3 2l7 2l3 5l3 3l7 2l5 5l3 2l9-3l3 1l1 3l-2 8l2 4l3 2l4-1l4 2l1 3l-1 6l6 2l1 2l1 8l6 7l7 7l5 2l2 7l11 4l3 3l-1 1l7 1l22-1l26-3l22-4l28-8l16-7l28-14l55-32l24-13l15-6l2-1l7-2l1-1l24-4l16 1l5-1l0 18l-3 0l-1-1l-31 0l-2 1l-7 0l-1 1l-10 2l-1 1l-7 2l-4 2l-3 0l-4 3l-3 0l-7 4l-4 2l-2 1l-10 4l-2 3l-10 4l-3 3l-7 3l-3 3l-7 3l-3 2l-7 3l-2 3l-5 1l-29 16l-3 0l-4 3l-3 0l-4 2l-7 2l-1 1l-7 2l-2 1l-3 0l-1 1l-10 2l-1 1l-6 0l-1 2l-6 0l-1 1l-7 0l-2 1l-9 0l-2 2l-14 0l-1 1l-59 0l-1-1l-14 0l-2-2l-10 0l-1-1l-7 0l-1-1l-6 0l-1-2l-6 0l-1-1l-10-2l-2-1l-2 0l-2-1l-7-2l-1-1l-7-2l-4-2l-3 0l-2-2l-1 0l-1-1l-3 0l-27-14l-7-3l-3-3l-7-3l-2-2l-7-3l-6-4l-4-2l-3-3l-10-4l-3-3l-4-1l-18-10l-3 0l-4-3l-3 0l-4-2l-7-2l-1-1l-5 0l-1-2l-4 0l-2-1l-7 0l-1-1l-31 0l-1 1l-3 0l0-15l6 0l1-1l9-1l5-1l13 1l7-2l7 0l8 2l6-2l19-1l18 2l17-4l11 0l9 1l7-2l10 1l8-2l8 1zM267 336l-2 3l7 0l-2-4zM204 242l3 0l1 3l-1 3l-3 1l-1 0l-1-4l1-2z" fill="#f4f4ff"/>
<path d="M159 242l4 0l4 2l5 6l5 3l9 9l10 7l5 8l2 1l5 0l3 2l2 3l-2 7l2 4l4 2l9 3l5 2l1 2l0 5l6 4l4 5l5 2l1 3l-1 2l-8 7l-14 1l-4-1l-9-4l-9-3l-17-1l-1 1l18 5l23 5l2 1l43 5l38 0l28-2l24-5l24-6l21-8l21-11l70-39l21-11l23-9l23-4l21 1l0 16l-3 0l-1-1l-31 0l-2 1l-7 0l-1 1l-10 2l-1 1l-7 2l-4 2l-3 0l-4 3l-3 0l-7 4l-4 2l-2 1l-10 4l-2 3l-10 4l-3 3l-7 3l-3 3l-7 3l-3 2l-7 3l-2 3l-5 1l-29 16l-3 0l-4 3l-3 0l-4 2l-7 2l-1 1l-7 2l-2 1l-3 0l-1 1l-10 2l-1 1l-6 0l-1 2l-6 0l-1 1l-7 0l-2 1l-9 0l-2 2l-14 0l-1 1l-59 0l-1-1l-14 0l-2-2l-10 0l-1-1l-7 0l-1-1l-6 0l-1-2l-6 0l-1-1l-10-2l-2-1l-2 0l-2-1l-7-2l-1-1l-7-2l-4-2l-3 0l-2-2l-1 0l-1-1l-3 0l-27-14l-7-3l-3-3l-7-3l-2-2l-7-3l-6-4l-4-2l-3-3l-10-4l-3-3l-4-1l-18-10l-3 0l-4-3l-3 0l-4-2l-7-2l-1-1l-5 0l-1-2l-4 0l-2-1l-7 0l-1-1l-31 0l-1 1l-3 0l0-14l11-2l11-1l16 1l29 7l13-4l21 1l24-4l4 0l7 3l4-3l4-1l11 0l7-2l10 0z" fill="#eaeaff"/>
<path d="M-7 247l11-1l17 1l37 10l10-2l18-1l7 0l13-3l4 0l6 2l7-3l4-1l11 1l7-1l14 1l8 6l8 5l4 2l7 9l7 12l11 13l6 6l2 4l-2 4l-1 6l-2 0l-18-2l-10 1l-13-2l-8-3l-1 1l27 12l27 8l35 7l35 3l31-1l28-3l25-5l25-8l17-6l21-11l84-47l15-7l16-5l22-3l20 1l0 15l-3 0l-1-1l-31 0l-2 1l-7 0l-1 1l-4 0l-2 2l-4 0l-1 1l-7 2l-4 2l-3 0l-4 3l-3 0l-21 11l-2 0l-2 3l-10 4l-3 3l-7 3l-6 4l-4 2l-3 2l-7 3l-2 3l-5 1l-29 16l-3 0l-1 1l-2 0l-1 2l-3 0l-4 2l-7 2l-1 1l-7 2l-2 1l-3 0l-1 1l-10 2l-1 1l-6 0l-1 2l-6 0l-1 1l-7 0l-2 1l-9 0l-2 2l-14 0l-1 1l-59 0l-1-1l-14 0l-2-2l-10 0l-1-1l-7 0l-1-1l-6 0l-1-2l-6 0l-1-1l-10-2l-2-1l-2 0l-2-1l-7-2l-1-1l-7-2l-4-2l-3 0l-2-2l-1 0l-1-1l-3 0l-27-14l-7-3l-3-3l-7-3l-2-2l-7-3l-3-3l-7-3l-3-3l-10-4l-3-3l-9-4l-2-1l-7-3l-4-3l-3 0l-4-3l-3 0l-4-2l-7-2l-1-1l-5 0l-1-2l-4 0l-2-1l-7 0l-1-1l-31 0l-1 1l-3 0l0-13zM155 311l2 0l-2-1z" fill="#dfdfff"/>
<path d="M-3 247l12 0l16 1l19 6l21 7l12-3l21-1l9-2l5 0l4 2l11-4l8 2l10-1l10 2l15 9l6 8l3 9l3 5l11 9l3 7l-5 6l-16 1l-21-4l-26-9l4 3l24 13l14 6l31 12l32 7l28 3l20 1l31 0l28-3l24-5l26-8l17-7l21-10l84-47l15-7l16-5l22-4l20 2l0 14l-3 0l-1-1l-31 0l-2 1l-7 0l-1 1l-4 0l-2 2l-4 0l-1 1l-7 2l-4 2l-3 0l-4 3l-3 0l-21 11l-2 0l-2 3l-10 4l-3 3l-7 3l-6 4l-4 2l-3 2l-7 3l-2 3l-5 1l-29 16l-3 0l-1 1l-2 0l-1 2l-3 0l-4 2l-7 2l-1 1l-7 2l-2 1l-3 0l-1 1l-10 2l-1 1l-6 0l-1 2l-6 0l-1 1l-7 0l-2 1l-9 0l-2 2l-14 0l-1 1l-59 0l-1-1l-14 0l-2-2l-10 0l-1-1l-7 0l-1-1l-6 0l-1-2l-6 0l-1-1l-10-2l-2-1l-2 0l-2-1l-7-2l-1-1l-7-2l-4-2l-3 0l-2-2l-1 0l-1-1l-3 0l-27-14l-7-3l-3-3l-7-3l-2-2l-7-3l-3-3l-7-3l-3-3l-10-4l-3-3l-9-4l-2-1l-7-3l-4-3l-3 0l-4-3l-3 0l-4-2l-7-2l-1-1l-5 0l-1-2l-4 0l-2-1l-7 0l-1-1l-31 0l-1 1l-3 0l0-13z" fill="#d4d4ff"/>
<path d="M-10 248l14-1l19 2l23 5l25 9l10-2l19-1l9-2l7 1l8-2l9 1l7-1l9 2l9 4l8 7l7 17l10 10l-1 7l-2 1l-5 1l-21-4l-19-5l-7-3l-7-1l12 8l35 18l33 13l32 6l27 4l21 1l31-1l28-3l24-4l26-8l17-7l21-10l83-47l15-7l17-6l22-3l20 1l0 14l-3 0l-1-1l-31 0l-2 1l-7 0l-1 1l-4 0l-2 2l-4 0l-1 1l-7 2l-4 2l-3 0l-4 3l-3 0l-21 11l-2 0l-2 3l-10 4l-3 3l-7 3l-6 4l-4 2l-3 2l-7 3l-2 3l-2 0l-26 14l-7 3l-2 0l-5 3l-2 0l-5 2l-2 0l-1 2l-3 0l-1 1l-3 0l-1 1l-3 1l-7 2l-3 0l-1 1l-5 1l-3 1l-4 0l-2 2l-5 0l-1 1l-7 0l-4 1l-7 0l-1 1l-4 1l-11 0l-1 1l-59 0l-1-1l-14 0l-2-2l-10 0l-1-1l-7 0l-1-1l-6 0l-1-2l-6 0l-1-1l-10-2l-2-1l-2 0l-2-1l-7-2l-1-1l-7-2l-4-2l-3 0l-2-2l-1 0l-1-1l-3 0l-27-14l-7-3l-3-3l-7-3l-2-2l-7-3l-3-3l-7-3l-3-3l-10-4l-3-3l-9-4l-2-1l-7-3l-4-3l-3 0l-4-3l-3 0l-4-2l-7-2l-1-1l-5 0l-1-2l-4 0l-2-1l-7 0l-1-1l-31 0l-1 1l-3 0l0-12zM90 275l2 0l-1-1zM95 277l4 3l5 2l-2-3l-6-2zM111 287l4 3l4 2l1-1l-6-5l-2 0z" fill="#c9c9ff"/>
<path d="M-6 248l14-1l18 3l20 5l26 10l5 1l19-4l6 0l7-2l7 1l10-1l16 1l10 5l7 7l6 11l8 10l0 7l-18-1l-21-6l-7-3l-7-2l-4-4l-7-2l-5-4l-11-6l-6 0l48 30l26 14l28 12l18 5l22 5l30 3l22 2l31-1l28-3l24-5l26-8l17-6l21-11l81-46l16-7l18-6l22-4l20 2l0 13l-3 0l-1-1l-31 0l-2 1l-7 0l-1 1l-4 0l-2 2l-4 0l-1 1l-7 2l-4 2l-3 0l-4 3l-3 0l-21 11l-2 0l-2 3l-10 4l-3 3l-7 3l-2 2l-8 4l-2 2l-30 15l-28 12l-22 8l-21 5l-24 3l-28 2l-29 0l-27-1l-21-3l-27-6l-6-1l-1-1l-3 0l-1-2l-3 0l-1-1l-3 0l-1-2l-3 0l-4-2l-3 0l-2-2l-1 0l-1-1l-3 0l-27-14l-7-3l-3-3l-7-3l-2-2l-7-3l-3-3l-7-3l-3-3l-10-4l-3-3l-9-4l-2-1l-7-3l-4-3l-3 0l-4-3l-3 0l-4-2l-7-2l-1-1l-5 0l-1-2l-4 0l-2-1l-7 0l-1-1l-31 0l-1 1l-3 0l0-12z" fill="#bfbfff"/>
<path d="M-2 248l17 0l15 3l20 6l29 11l12-3l14-1l5-2l7 1l7-1l16 1l5 3l5 4l9 14l7 7l-1 6l-14 0l-18-5l-7-3l-6-2l-4-4l-6-1l-4-4l-10-5l-7-1l-3 1l49 31l27 14l27 11l18 6l22 5l30 3l22 1l31 0l25-3l24-4l25-8l20-7l21-11l82-46l16-7l18-7l22-3l20 1l0 13l-3 0l-1-1l-31 0l-2 1l-7 0l-1 1l-4 0l-2 2l-4 0l-1 1l-7 2l-2 1l-5 1l-5 3l-2 0l-2 2l-21 9l-35 21l-30 16l-27 11l-21 7l-22 5l-23 3l-26 2l-27 1l-28-2l-18-2l-30-6l-16-4l-20-7l-15-7l-16-8l-7-3l-3-3l-7-3l-2-2l-7-3l-6-4l-4-2l-3-3l-10-4l-3-3l-4-1l-18-10l-3 0l-4-3l-3 0l-4-2l-7-2l-1-1l-5 0l-1-2l-4 0l-2-1l-7 0l-1-1l-31 0l-1 1l-3 0l0-11z" fill="#b4b4ff"/>
<path d="M-9 249l10-1l10 1l21 3l19 6l28 10l3 2l0 2l2 0l3-2l-1-1l4-1l20-4l7 1l6-1l14 1l7 5l8 12l6 7l1 4l-1 1l-10-1l-18-4l-10-3l-4-4l-4-1l-5-4l-8-3l-1-1l-10-1l-4 1l53 33l26 14l26 10l18 6l22 4l28 4l24 1l31-1l25-2l24-5l25-7l20-8l21-10l81-46l17-8l17-6l22-4l21 1l0 13l-3 0l-1-1l-31 0l-2 1l-7 0l-1 1l-4 0l-14 5l-14 5l-23 11l-47 27l-18 9l-27 11l-21 7l-22 5l-23 3l-25 2l-27 1l-29-2l-21-2l-31-6l-22-7l-17-7l-22-10l-10-5l-2-2l-7-3l-2-2l-7-3l-3-3l-7-3l-3-3l-10-4l-3-3l-4-1l-18-10l-3 0l-4-3l-3 0l-4-2l-7-2l-1-1l-5 0l-1-2l-4 0l-2-1l-7 0l-1-1l-31 0l-1 1l-3 0l0-11z" fill="#a9a9ff"/>
<path d="M-6 249l15 0l19 2l21 6l27 11l5 2l0 2l13 8l43 27l29 15l31 12l14 4l22 4l26 3l22 1l34-1l25-3l22-4l24-7l18-7l23-11l81-46l17-8l19-7l21-3l20 1l0 12l-3 0l-1-1l-31 0l-1 0l-8 1l-21 6l-29 13l-71 38l-28 12l-21 7l-21 5l-25 3l-24 2l-26 0l-26-1l-21-2l-46-11l-21-7l-23-10l-34-18l-2-2l-7-3l-3-3l-10-4l-3-3l-4-1l-18-10l-3 0l-4-3l-3 0l-4-2l-7-2l-1-1l-5 0l-1-2l-4 0l-2-1l-7 0l-1-1l-31 0l-1 1l-3 0l0-10zM110 266l7 0l4-1l7 1l9 2l4 4l6 10l4 4l1 1l0 3l-4 1l-13-2l-7-2l-8-3l-4-3l-4-1l-3-3l-6-2l-4-1l-1-1l-6-1l-2-2l8-2z" fill="#9e9eff"/>
<path d="M-2 249l17 1l15 3l20 5l25 10l6 2l-1 2l58 36l30 16l32 12l12 3l27 5l34 2l22 1l-26 0l-35-2l-38-8l-20-5l-17-6l-22-10l-40-21l-5-4l-11-5l-2-2l-4-1l-18-10l-2 0l-5-3l-6-1l-1-1l-7-2l-1-1l-5 0l-1-2l-4 0l-2-1l-7 0l-1-1l-31 0l-4 0l0-9zM564 249l21 1l0 12l-3 0l-1-1l-31 0l-14 2l-16 4l-29 14l-64 34l-10 5l-2-1l26-13l53-31l19-11l14-6l16-5zM113 267l14 0l6 2l5 4l4 7l4 4l0 3l-2 1l-9 0l-9-3l-7-3l-14-7l-6-1l-3-2l0-2zM413 320l2 1l-2 0l-1 0zM410 322l2 0l-2 1l-1-1zM407 323l1 1l-2 0zM404 325l1 0l-2 0zM397 328l1 0l-2 0zM393 329l1 0l-2 0zM386 332l1 0l-2 0zM372 336l1 0l-2 0zM366 337l2 1l-2 0zM361 339l2 0l-3 0zM354 340l2 0l-3 0zM337 343l4 0l-5 0z" fill="#9494ff"/>
<path d="M-9 251l16-1l19 2l21 6l27 10l6 2l-1 2l59 37l30 15l25 11l-2 0l-12-3l-28-11l-25-12l-69-36l-14-5l-7-2l-1-1l-4 0l-2-2l-14-2l-20-1l-15 1l0-8zM555 251l13-1l17 1l0 11l-4-1l-27-1l-16 2l-13 3l-26 11l-57 30l0-1l33-19l34-19l23-10zM113 269l13 0l4 1l4 5l6 8l0 1l0 1l-3 1l-9-1l-9-4l-12-6l-8-2l-1-1l5-2zM441 306l1 1l-1 0l-2 0zM438 308l1 0l-1 1l-1-1zM435 309l2 1l-2 0zM196 336l1 0l-2 0z" fill="#8989ff"/>
<path d="M-6 251l15-1l19 3l21 6l23 9l7 2l-1 2l60 38l20 11l19 8l-2 1l-10-4l-25-10l-70-37l-23-10l-10-3l-2-1l-19-4l-19-2l-17 2l0-7zM560 251l11-1l14 1l0 10l-13-1l-14-1l-15 2l-11 2l-23 8l-40 21l-2 0l0-1l34-19l26-13l19-6zM114 270l9 0l4 1l8 9l1 3l-6 0l-7-2l-9-3l-1-2l-8-3l-1-1zM463 294l1 0l-2 0zM460 295l1 1l-1 0l-1 0zM453 299l1 1l-2 0zM177 330l3 1l-1 0z" fill="#7e7eff"/>
<path d="M0 251l16 0l17 4l20 6l24 9l-1 2l27 16l11 8l27 16l21 12l-1 0l-24-10l-67-35l-21-10l-23-7l-14-2l-17-1l-15 1l0-6zM564 251l21 1l0 9l-13-2l-11 0l-25 2l-17 5l-28 13l-2 0l19-10l21-10l19-6zM114 272l10 0l2 1l5 7l-3 1l-5-1l-13-6l-4-1zM487 280l2 0l-2 1zM485 281l1 1l-2 0zM483 282l0 1l-1 0zM480 284l1 0l-1 1zM168 326l-1 0z" fill="#7373ff"/>
<path d="M-9 252l14-1l18 2l21 5l22 8l10 4l-1 2l70 43l-3 0l-11-5l-61-32l-20-9l-7-1l-15-6l-16-3l-17-1l-15 1l0-4zM557 252l11-1l17 1l0 8l-16-1l-18 0l-18 3l-17 5l-2-1l20-8zM512 267l2 1l-2 0l-1 0zM509 269l2 0l-3 0zM506 270l1 0l-2 0zM504 271l0 1l-1 0zM113 273l8 0l5 6l-3 0l-6-2l-4-2zM501 273l-1 0zM498 274l1 1l-2 0zM145 316l2 1l-2 0z" fill="#6969ff"/>
<path d="M-5 252l17 0l17 3l21 6l25 9l-1 2l28 17l29 19l0 1l-70-35l-10-5l-7-1l-10-5l-13-3l-14-2l-14 0l-13 1l0-4zM560 252l11 0l14 1l0 7l-13-2l-14 0l-15 1l-16 3l-2 0l16-6zM116 274l3 0l2 2l-2 0l-4-1zM133 309l1 1l-3 0zM135 311l1 0l-2 0z" fill="#5e5eff"/>
<path d="M0 252l16 1l16 3l19 6l23 8l-1 2l8 4l40 27l-1 0l-63-32l-21-8l-14-3l-15-2l-14-1l-13 1l0-2zM564 252l21 1l0 7l-24-3l-13 1l-12 2l-3-1l18-5zM123 304l1 0l-2 0z" fill="#0000ff"/>
</g>
<path d="M-10 131L-7.5 130.6L-5 130.3L-2.4 130.2L0.1 130.1L2.6 130.2L5.1 130.3L7.6 130.6L10.2 131L12.7 131.5L15.2 132.2L17.7 132.9L20.2 133.7L22.8 134.6L25.3 135.6L27.8 136.6L30.3 137.8L32.8 139L35.4 140.3L37.9 141.6L40.4 142.9L42.9 144.3L45.4 145.7L48 147.2L50.5 148.6L53 150.1L55.5 151.5L58 152.9L60.6 154.4L63.1 155.7L65.6 157.1L68.1 158.4L70.6 159.7L73.2 161L75.7 162.2L78.2 163.3L80.7 164.4L83.2 165.4L85.8 166.4L88.3 167.3L90.8 168.2L93.3 169L95.8 169.7L98.4 170.4L100.9 171.1L103.4 171.7L105.9 172.2L108.4 172.7L111 173.1L113.5 173.5L116 173.8L118.5 174.1L121 174.4L123.6 174.6L126.1 174.8L128.6 175L131.1 175.1L133.6 175.2L136.2 175.2L138.7 175.3L141.2 175.3L143.7 175.3L146.3 175.2L148.8 175.2L151.3 175.1L153.8 175L156.3 174.8L158.9 174.6L161.4 174.4L163.9 174.1L166.4 173.8L168.9 173.5L171.5 173.1L174 172.7L176.5 172.2L179 171.7L181.5 171.1L184.1 170.4L186.6 169.7L189.1 169L191.6 168.2L194.1 167.3L196.7 166.4L199.2 165.4L201.7 164.4L204.2 163.3L206.7 162.2L209.3 161L211.8 159.7L214.3 158.4L216.8 157.1L219.3 155.7L221.9 154.4L224.4 152.9L226.9 151.5L229.4 150.1L231.9 148.6L234.5 147.2L237 145.7L239.5 144.3L242 142.9L244.5 141.6L247.1 140.3L249.6 139L252.1 137.8L254.6 136.6L257.1 135.6L259.7 134.6L262.2 133.7L264.7 132.9L267.2 132.2L269.7 131.5L272.3 131L274.8 130.6L277.3 130.3L279.8 130.2L282.3 130.1L284.9 130.2L287.4 130.3L289.9 130.6L292.4 131" fill="none" stroke="#000" stroke-width="1.2"/>
</g>
<clipPath id="clp6"><rect x="184.5" y="1177.7" width="565" height="175.1"/></clipPath></defs>
<g clip-path="url(#clp6)">
<use href="#lp6" transform="translate(184.7 1176.22)"/>
<use href="#lp6" transform="translate(467.12 1176.22)"/>
</g>
<rect x="184.5" y="1177.7" width="565" height="175.1" fill="none" stroke="#000" stroke-width="3"/>
<clipPath id="rc6"><rect x="755.5" y="1179.3" width="280" height="173.1"/></clipPath>
<g clip-path="url(#rc6)">
<path d="M755.8 1180.1l13 0.9M755.8 1183.6l13 0.9M755.8 1187.1l13 0.9M755.8 1190.5l13 0.9M755.8 1194l13 0.9M755.8 1197.5l13 0.9M755.8 1201l13 0.9M755.8 1204.5l13 0.9M755.8 1207.9l13 0.9M755.8 1211.4l13 0.9M755.8 1214.9l13.1 0.9M755.8 1218.4l13.2 0.9M755.8 1221.9l13.4 0.9M755.8 1225.3l13.6 1M755.8 1228.8l13.8 1M755.8 1232.3l13.9 1M755.8 1235.8l14.1 1M755.8 1239.3l14.5 1M755.8 1242.7l15.2 1.1M755.8 1246.2l15.9 1.1M755.8 1249.7l16.6 1.2M755.8 1253.2l17.3 1.2M755.8 1256.7l18 1.3M755.8 1260.1l18.6 1.3M755.8 1263.6l19.5 1.4M755.8 1267.1l20.8 1.5M755.8 1270.6l22.1 1.5M755.8 1274.1l23.4 1.6M755.8 1277.5l24.7 1.7M755.8 1281l26 1.8M755.8 1284.5l27.4 1.9M755.8 1288l28.8 2M755.8 1291.5l30.3 2.1M755.8 1294.9l31.7 2.2M755.8 1298.4l33.2 2.3M802.3 1180.1l11.2 1.2M802.3 1183.6l11.2 1.2M802.3 1187.1l11.2 1.2M802.3 1190.5l11.2 1.3M802.3 1194l11.2 1.3M802.3 1197.5l11.2 1.4M802.3 1201l11.2 1.4M802.3 1204.5l11.2 1.5M802.3 1207.9l11.2 1.5M802.3 1211.4l11.3 1.6M802.3 1214.9l11.3 1.7M802.3 1218.4l11.5 1.8M802.3 1221.9l11.7 1.9M802.3 1225.3l11.9 2M802.3 1228.8l12.1 2.1M802.3 1232.3l12.2 2.2M802.3 1235.8l12.4 2.4M802.3 1239.3l12.9 2.6M802.3 1242.7l14 2.9M802.3 1246.2l15 3.3M802.3 1249.7l16.1 3.8M802.3 1253.2l17.1 4.2M802.3 1256.7l18.2 4.8M802.3 1260.1l19.2 5.3M802.3 1263.6l20.4 6M802.3 1267.1l21.9 6.8M802.3 1270.6l23.4 7.8M802.3 1274.1l25 8.8M802.3 1277.5l26.5 9.9M802.3 1281l28 11.2M802.3 1284.5l29.5 12.6M802.3 1288l31 14.1M802.3 1291.5l32.5 15.8M802.3 1294.9l34 17.7M802.3 1298.4l34.6 19.2M802.3 1301.9l35.2 20.9M802.3 1305.4l34.3 21.8M802.3 1308.9l31.6 21.6M802.3 1312.3l19.4 14.2M848.8 1180.1l10.7 0.9M848.8 1183.6l10.7 0.9M848.8 1187.1l10.7 0.9M848.8 1190.5l10.7 0.9M848.8 1194l10.7 0.9M848.8 1197.5l10.7 0.9M848.8 1201l10.7 0.9M848.8 1204.5l10.7 1M848.8 1207.9l10.7 1M848.8 1211.4l10.7 1M848.8 1214.9l10.8 1M848.8 1218.4l11 1.1M848.8 1221.9l11.1 1.1M848.8 1225.3l11.3 1.1M848.8 1228.8l11.5 1.2M848.8 1232.3l11.7 1.2M848.8 1235.8l11.8 1.3M848.8 1239.3l12.2 1.4M848.8 1242.7l13.1 1.5M848.8 1246.2l14 1.7M848.8 1249.7l14.9 1.8M848.8 1253.2l15.7 2M848.8 1256.7l16.6 2.2M848.8 1260.1l17.5 2.4M848.8 1263.6l18.4 2.6M848.8 1267.1l19.4 2.9M848.8 1270.6l20.4 3.2M848.8 1274.1l21.4 3.5M848.8 1277.5l22.4 3.8M848.8 1281l23.2 4.1M848.8 1284.5l23.2 4.3M848.8 1288l23.2 4.6M848.8 1291.5l23.2 4.8M848.8 1294.9l23.2 5.1M848.8 1298.4l21.9 5M848.8 1301.9l20.5 5M848.8 1305.4l19.2 4.9M848.8 1308.9l17.7 4.8M848.8 1312.3l15.9 4.6M848.8 1315.8l14.2 4.3M848.8 1319.3l12.5 4.1M848.8 1322.8l10.8 3.7M848.8 1326.3l8.7 3.2M848.8 1329.7l6.6 2.6M848.8 1333.2l4.6 1.9M848.8 1336.7l2.1 0.9M848.8 1340.2l0.5 0.3M895.2 1180.1l12.6 0.9M895.2 1183.6l12.6 0.9M895.2 1187.1l12.6 0.9M895.2 1190.5l12.6 0.9M895.2 1194l12.6 0.9M895.2 1197.5l12.6 0.9M895.2 1201l12.6 0.9M895.2 1204.5l12.6 0.9M895.2 1207.9l12.6 0.9M895.2 1211.4l12.6 0.9M895.2 1214.9l12.6 0.9M895.2 1218.4l12.6 0.9M895.2 1221.9l12.6 0.9M895.2 1225.3l12.6 0.9M895.2 1228.8l12.6 0.9M895.2 1232.3l12.6 0.9M895.2 1235.8l12.6 0.9M895.2 1239.3l12.6 0.9M895.2 1242.7l12.6 0.9M895.2 1246.2l12.6 0.9M895.2 1249.7l12.6 0.9M895.2 1253.2l12.6 0.9M895.2 1256.7l12.6 0.9M895.2 1260.1l12.6 0.9M895.2 1263.6l12.6 0.9M895.2 1267.1l12.6 0.9M895.2 1270.6l12.6 0.9M895.2 1274.1l12.6 0.9M895.2 1277.5l12.5 0.9M895.2 1281l12.4 0.9M895.2 1284.5l12.2 0.9M895.2 1288l12 0.8M895.2 1291.5l11.8 0.8M895.2 1294.9l11.7 0.8M895.2 1298.4l11.5 0.8M895.2 1301.9l11.2 0.8M895.2 1305.4l10.9 0.8M895.2 1308.9l10.5 0.7M895.2 1312.3l10.2 0.7M895.2 1315.8l9.8 0.7M895.2 1319.3l9.5 0.7M895.2 1322.8l9.1 0.6M895.2 1326.3l8.6 0.6M895.2 1329.7l7.9 0.5M895.2 1333.2l7.1 0.5M895.2 1336.7l6.3 0.4M895.2 1340.2l5.5 0.4M895.2 1343.7l4.8 0.3M895.2 1347.1l4 0.3M941.7 1180.1l14.6 0.9M941.7 1183.6l14.6 0.8M941.7 1187.1l14.6 0.8M941.7 1190.5l14.6 0.8M941.7 1194l14.6 0.8M941.7 1197.5l14.6 0.8M941.7 1201l14.6 0.8M941.7 1204.5l14.6 0.7M941.7 1207.9l14.6 0.7M941.7 1211.4l14.6 0.7M941.7 1214.9l14.6 0.7M941.7 1218.4l14.6 0.6M941.7 1221.9l14.6 0.6M941.7 1225.3l14.6 0.6M941.7 1228.8l14.6 0.5M941.7 1232.3l14.6 0.5M941.7 1235.8l14.6 0.4M941.7 1239.3l14.6 0.4M941.7 1242.7l14.6 0.3M941.7 1246.2l14.6 0.3M941.7 1249.7l14.6 0.2M941.7 1253.2l14.6 0.2M941.7 1256.7l14.6 0.1M941.7 1260.1l14.6 0M941.7 1263.6l14.5 -0.1M941.7 1267.1l14.4 -0.1M941.7 1270.6l14.2 -0.2M941.7 1274.1l14 -0.3M941.7 1277.5l13.8 -0.4M941.7 1281l13.7 -0.5M941.7 1284.5l13.5 -0.6M941.7 1288l13.3 -0.8M941.7 1291.5l13 -0.9M941.7 1294.9l12.6 -1M941.7 1298.4l12.3 -1.1M941.7 1301.9l11.9 -1.2M941.7 1305.4l11.6 -1.4M941.7 1308.9l11.3 -1.5M941.7 1312.3l10.9 -1.6M941.7 1315.8l10.5 -1.7M941.7 1319.3l10 -1.8M941.7 1322.8l9.5 -1.9M941.7 1326.3l9 -2M941.7 1329.7l8.5 -2.1M941.7 1333.2l7.3 -2M941.7 1336.7l6 -1.8M988.1 1180.1l15.3 0.5M988.1 1183.6l15.3 0.5M988.1 1187.1l15.3 0.4M988.1 1190.5l15.3 0.4M988.1 1194l15.3 0.3M988.1 1197.5l15.3 0.3M988.1 1201l15.3 0.2M988.1 1204.5l15.3 0.2M988.1 1207.9l15.3 0.1M988.1 1211.4l15.3 0M988.1 1214.9l15.3 -0.1M988.1 1218.4l15.3 -0.2M988.1 1221.9l15.3 -0.3M988.1 1225.3l15.3 -0.4M988.1 1228.8l15.4 -0.5M988.1 1232.3l15.5 -0.6M988.1 1235.8l15.6 -0.8M988.1 1239.3l15.7 -1M988.1 1242.7l15.9 -1.1M988.1 1246.2l16 -1.3M988.1 1249.7l16.1 -1.5M988.1 1253.2l16.2 -1.7M988.1 1256.7l16.4 -2M988.1 1260.1l16.5 -2.3M988.1 1263.6l16.6 -2.6M988.1 1267.1l16.8 -2.9M988.1 1270.6l17 -3.3M988.1 1274.1l17.2 -3.7M988.1 1277.5l17.4 -4.1M988.1 1281l17.6 -4.6M988.1 1284.5l17.8 -5.1M988.1 1288l18 -5.7M988.1 1291.5l17.7 -6.1M988.1 1294.9l17.4 -6.6M988.1 1298.4l17.1 -7.1M988.1 1301.9l16.3 -7.4M988.1 1305.4l15.1 -7.5M988.1 1308.9l13.8 -7.5M988.1 1312.3l11.2 -6.6M988.1 1315.8l7 -4.5" stroke="#000" stroke-width="1.35" fill="none"/>
<path d="M773.6 1181.3l-4.9 1.6l0.3 -3.8zM773.6 1184.8l-4.9 1.6l0.3 -3.8zM773.6 1188.3l-4.9 1.6l0.3 -3.8zM773.6 1191.8l-4.9 1.6l0.3 -3.8zM773.6 1195.3l-4.9 1.6l0.3 -3.8zM773.6 1198.7l-4.9 1.6l0.3 -3.8zM773.6 1202.2l-4.9 1.6l0.3 -3.8zM773.6 1205.7l-4.9 1.6l0.3 -3.8zM773.6 1209.2l-4.9 1.6l0.3 -3.8zM773.6 1212.7l-4.9 1.6l0.3 -3.8zM773.7 1216.2l-4.9 1.6l0.3 -3.8zM773.9 1219.6l-4.9 1.6l0.3 -3.8zM774.1 1223.1l-4.9 1.6l0.3 -3.8zM774.2 1226.6l-4.9 1.6l0.3 -3.8zM774.4 1230.1l-4.9 1.6l0.3 -3.8zM774.6 1233.6l-4.9 1.6l0.3 -3.8zM774.7 1237.1l-4.9 1.6l0.3 -3.8zM775.1 1240.6l-4.9 1.6l0.3 -3.8zM775.8 1244.1l-4.9 1.6l0.3 -3.8zM776.5 1247.7l-4.9 1.6l0.3 -3.8zM777.2 1251.2l-4.9 1.6l0.3 -3.8zM777.9 1254.7l-4.9 1.6l0.3 -3.8zM778.6 1258.3l-4.9 1.6l0.3 -3.8zM779.3 1261.8l-4.9 1.6l0.3 -3.8zM780.1 1265.3l-4.9 1.6l0.3 -3.8zM781.4 1268.9l-4.9 1.6l0.3 -3.8zM782.7 1272.5l-4.9 1.6l0.3 -3.8zM784 1276l-4.9 1.6l0.3 -3.8zM785.3 1279.6l-4.9 1.6l0.3 -3.8zM786.6 1283.2l-4.9 1.6l0.3 -3.8zM788 1286.8l-4.9 1.6l0.3 -3.8zM789.5 1290.3l-4.9 1.6l0.3 -3.8zM790.9 1293.9l-4.9 1.6l0.3 -3.8zM792.4 1297.5l-4.9 1.6l0.3 -3.8zM793.9 1301.1l-4.9 1.6l0.3 -3.8zM818.3 1181.8l-5 1.4l0.4 -3.8zM818.3 1185.3l-5 1.4l0.4 -3.8zM818.3 1188.8l-5 1.4l0.4 -3.8zM818.3 1192.4l-5 1.3l0.4 -3.8zM818.3 1195.9l-5 1.3l0.4 -3.8zM818.3 1199.4l-5 1.3l0.5 -3.8zM818.3 1203l-5 1.3l0.5 -3.8zM818.3 1206.5l-5 1.3l0.5 -3.8zM818.3 1210.1l-5 1.2l0.5 -3.8zM818.3 1213.7l-5 1.2l0.5 -3.8zM818.4 1217.2l-5 1.2l0.5 -3.8zM818.6 1220.9l-5 1.2l0.6 -3.8zM818.7 1224.5l-5 1.1l0.6 -3.8zM818.9 1228.1l-5 1.1l0.6 -3.7zM819.1 1231.7l-5.1 1.1l0.6 -3.7zM819.3 1235.4l-5.1 1l0.7 -3.7zM819.4 1239l-5.1 1l0.7 -3.7zM819.9 1242.8l-5.1 0.9l0.7 -3.7zM821 1246.7l-5.1 0.9l0.8 -3.7zM822 1250.6l-5.1 0.8l0.8 -3.7zM823 1254.6l-5.1 0.8l0.9 -3.7zM824.1 1258.6l-5.1 0.7l0.9 -3.7zM825.1 1262.6l-5.1 0.6l1 -3.7zM826.2 1266.8l-5.1 0.5l1 -3.7zM827.3 1271l-5.1 0.5l1.1 -3.6zM828.8 1275.4l-5.1 0.4l1.1 -3.6zM830.3 1279.9l-5.2 0.3l1.2 -3.6zM831.8 1284.5l-5.2 0.2l1.3 -3.6zM833.3 1289.2l-5.2 0.1l1.3 -3.6zM834.8 1294l-5.2 0l1.4 -3.5zM836.2 1299l-5.2 -0.1l1.5 -3.5zM837.7 1304.1l-5.2 -0.3l1.6 -3.5zM839.1 1309.3l-5.1 -0.4l1.7 -3.4zM840.6 1314.8l-5.1 -0.5l1.8 -3.4zM841.1 1320l-5.1 -0.7l1.8 -3.3zM841.6 1325.3l-5.1 -0.8l1.9 -3.3zM840.7 1329.8l-5.1 -1l2 -3.2zM837.9 1333.1l-5 -1.1l2.1 -3.1zM825.5 1329.3l-5 -1.3l2.2 -3.1zM864.2 1181.4l-4.9 1.5l0.3 -3.8zM864.2 1184.9l-4.9 1.5l0.3 -3.8zM864.2 1188.4l-4.9 1.5l0.3 -3.8zM864.2 1191.8l-4.9 1.5l0.3 -3.8zM864.2 1195.3l-4.9 1.5l0.3 -3.8zM864.2 1198.8l-4.9 1.5l0.3 -3.8zM864.2 1202.3l-4.9 1.5l0.3 -3.8zM864.2 1205.9l-5 1.5l0.3 -3.8zM864.2 1209.4l-5 1.5l0.3 -3.8zM864.2 1212.9l-5 1.4l0.4 -3.8zM864.3 1216.4l-5 1.4l0.4 -3.8zM864.5 1219.9l-5 1.4l0.4 -3.8zM864.7 1223.4l-5 1.4l0.4 -3.8zM864.8 1227l-5 1.4l0.4 -3.8zM865 1230.5l-5 1.4l0.4 -3.8zM865.2 1234.1l-5 1.4l0.4 -3.8zM865.4 1237.6l-5 1.4l0.4 -3.8zM865.8 1241.2l-5 1.3l0.4 -3.8zM866.6 1244.8l-5 1.3l0.4 -3.8zM867.5 1248.5l-5 1.3l0.5 -3.8zM868.4 1252.1l-5 1.3l0.5 -3.8zM869.3 1255.8l-5 1.3l0.5 -3.8zM870.1 1259.5l-5 1.2l0.5 -3.8zM871 1263.2l-5 1.2l0.5 -3.8zM871.9 1266.9l-5 1.2l0.5 -3.8zM872.9 1270.7l-5 1.2l0.6 -3.8zM873.9 1274.5l-5 1.1l0.6 -3.8zM874.9 1278.3l-5 1.1l0.6 -3.8zM875.9 1282.2l-5.1 1.1l0.6 -3.7zM876.6 1286l-5.1 1l0.7 -3.7zM876.6 1289.7l-5.1 1l0.7 -3.7zM876.6 1293.5l-5.1 0.9l0.7 -3.7zM876.6 1297.2l-5.1 0.9l0.8 -3.7zM876.6 1301l-5.1 0.8l0.8 -3.7zM875.3 1304.5l-5.1 0.8l0.9 -3.7zM874 1308l-5.1 0.7l0.9 -3.7zM872.6 1311.5l-5.1 0.6l0.9 -3.7zM871 1314.9l-5.1 0.6l1 -3.7zM869.3 1318.3l-5.1 0.5l1.1 -3.7zM867.6 1321.6l-5.1 0.4l1.1 -3.6zM865.8 1324.8l-5.2 0.3l1.2 -3.6zM864.1 1328.1l-5.2 0.2l1.2 -3.6zM862 1331.1l-5.2 0.1l1.3 -3.6zM859.9 1334.1l-5.2 0l1.4 -3.5zM857.8 1337l-5.2 -0.1l1.5 -3.5zM855.3 1339.6l-5.2 -0.2l1.5 -3.5zM852.4 1341.9l-3.7 -0.1l1.3 -2.7zM912.6 1181.3l-4.9 1.6l0.3 -3.8zM912.6 1184.8l-4.9 1.6l0.3 -3.8zM912.6 1188.3l-4.9 1.6l0.3 -3.8zM912.6 1191.8l-4.9 1.6l0.3 -3.8zM912.6 1195.2l-4.9 1.6l0.3 -3.8zM912.6 1198.7l-4.9 1.6l0.3 -3.8zM912.6 1202.2l-4.9 1.6l0.3 -3.8zM912.6 1205.7l-4.9 1.6l0.3 -3.8zM912.6 1209.2l-4.9 1.6l0.3 -3.8zM912.6 1212.6l-4.9 1.6l0.3 -3.8zM912.6 1216.1l-4.9 1.6l0.3 -3.8zM912.6 1219.6l-4.9 1.6l0.3 -3.8zM912.6 1223.1l-4.9 1.6l0.3 -3.8zM912.6 1226.6l-4.9 1.6l0.3 -3.8zM912.6 1230l-4.9 1.6l0.3 -3.8zM912.6 1233.5l-4.9 1.6l0.3 -3.8zM912.6 1237l-4.9 1.6l0.3 -3.8zM912.6 1240.5l-4.9 1.6l0.3 -3.8zM912.6 1244l-4.9 1.6l0.3 -3.8zM912.6 1247.4l-4.9 1.6l0.3 -3.8zM912.6 1250.9l-4.9 1.6l0.3 -3.8zM912.6 1254.4l-4.9 1.6l0.3 -3.8zM912.6 1257.9l-4.9 1.6l0.3 -3.8zM912.6 1261.4l-4.9 1.6l0.3 -3.8zM912.6 1264.8l-4.9 1.6l0.3 -3.8zM912.6 1268.3l-4.9 1.6l0.3 -3.8zM912.6 1271.8l-4.9 1.6l0.3 -3.8zM912.6 1275.3l-4.9 1.6l0.3 -3.8zM912.5 1278.8l-4.9 1.6l0.3 -3.8zM912.4 1282.2l-4.9 1.6l0.3 -3.8zM912.2 1285.7l-4.9 1.6l0.3 -3.8zM912 1289.2l-4.9 1.6l0.3 -3.8zM911.8 1292.6l-4.9 1.6l0.3 -3.8zM911.7 1296.1l-4.9 1.6l0.3 -3.8zM911.5 1299.6l-4.9 1.6l0.3 -3.8zM911.2 1303l-4.9 1.6l0.3 -3.8zM910.9 1306.5l-4.9 1.6l0.3 -3.8zM910.5 1309.9l-4.9 1.6l0.3 -3.8zM910.2 1313.4l-4.9 1.6l0.3 -3.8zM909.8 1316.8l-4.9 1.6l0.3 -3.8zM909.5 1320.3l-4.9 1.6l0.3 -3.8zM909.1 1323.8l-4.9 1.6l0.3 -3.8zM908.6 1327.2l-4.9 1.6l0.3 -3.8zM907.9 1330.6l-4.9 1.6l0.3 -3.8zM907.1 1334.1l-4.9 1.6l0.3 -3.8zM906.3 1337.5l-4.9 1.6l0.3 -3.8zM905.5 1340.9l-4.9 1.6l0.3 -3.8zM904.8 1344.3l-4.9 1.6l0.3 -3.8zM904 1347.8l-4.9 1.6l0.3 -3.8zM961.1 1181.2l-4.9 1.6l0.2 -3.8zM961.1 1184.7l-4.9 1.6l0.2 -3.8zM961.1 1188.2l-4.9 1.6l0.2 -3.8zM961.1 1191.6l-4.9 1.6l0.2 -3.8zM961.1 1195.1l-4.9 1.6l0.2 -3.8zM961.1 1198.5l-4.9 1.6l0.2 -3.8zM961.1 1202l-4.9 1.6l0.2 -3.8zM961.1 1205.4l-4.9 1.7l0.2 -3.8zM961.1 1208.9l-4.9 1.7l0.2 -3.8zM961.1 1212.3l-4.9 1.7l0.2 -3.8zM961.1 1215.8l-4.9 1.7l0.2 -3.8zM961.1 1219.2l-4.9 1.7l0.2 -3.8zM961.1 1222.7l-4.9 1.7l0.2 -3.8zM961.1 1226.1l-4.9 1.7l0.1 -3.8zM961.1 1229.5l-4.9 1.7l0.1 -3.8zM961.1 1232.9l-4.9 1.7l0.1 -3.8zM961.1 1236.4l-4.9 1.8l0.1 -3.8zM961.1 1239.8l-4.8 1.8l0.1 -3.8zM961.1 1243.2l-4.8 1.8l0.1 -3.8zM961.1 1246.6l-4.8 1.8l0.1 -3.8zM961.1 1250l-4.8 1.8l0.1 -3.8zM961.1 1253.4l-4.8 1.8l0 -3.8zM961.1 1256.8l-4.8 1.9l0 -3.8zM961.1 1260.2l-4.8 1.9l0 -3.8zM961 1263.5l-4.8 1.9l0 -3.8zM960.8 1266.9l-4.8 1.9l0 -3.8zM960.7 1270.3l-4.8 2l-0.1 -3.8zM960.5 1273.6l-4.8 2l-0.1 -3.8zM960.3 1277l-4.7 2l-0.1 -3.8zM960.2 1280.3l-4.7 2.1l-0.1 -3.8zM960 1283.6l-4.7 2.1l-0.2 -3.8zM959.8 1286.9l-4.7 2.2l-0.2 -3.8zM959.4 1290.3l-4.7 2.2l-0.3 -3.8zM959.1 1293.6l-4.6 2.3l-0.3 -3.8zM958.7 1296.9l-4.6 2.3l-0.3 -3.8zM958.4 1300.2l-4.6 2.4l-0.4 -3.8zM958.1 1303.5l-4.5 2.4l-0.4 -3.8zM957.7 1306.7l-4.5 2.5l-0.5 -3.8zM957.4 1310l-4.5 2.6l-0.6 -3.8zM956.9 1313.3l-4.4 2.7l-0.6 -3.7zM956.4 1316.6l-4.4 2.7l-0.7 -3.7zM955.9 1319.9l-4.3 2.8l-0.8 -3.7zM955.4 1323.1l-4.3 2.9l-0.8 -3.7zM954.9 1326.4l-4.2 3l-0.9 -3.7zM953.6 1329.9l-4.1 3.1l-1 -3.7zM952.3 1333.5l-4 3.2l-1.1 -3.6zM1008.2 1180.8l-4.9 1.7l0.1 -3.8zM1008.2 1184.2l-4.9 1.7l0.1 -3.8zM1008.2 1187.6l-4.9 1.8l0.1 -3.8zM1008.2 1191.1l-4.8 1.8l0.1 -3.8zM1008.2 1194.5l-4.8 1.8l0.1 -3.8zM1008.2 1197.9l-4.8 1.8l0.1 -3.8zM1008.2 1201.3l-4.8 1.8l0.1 -3.8zM1008.2 1204.7l-4.8 1.9l0 -3.8zM1008.2 1208l-4.8 1.9l0 -3.8zM1008.2 1211.4l-4.8 1.9l0 -3.8zM1008.2 1214.8l-4.8 1.9l0 -3.8zM1008.2 1218.1l-4.8 2l0 -3.8zM1008.2 1221.5l-4.8 2l-0.1 -3.8zM1008.2 1224.8l-4.7 2l-0.1 -3.8zM1008.3 1228.1l-4.7 2.1l-0.1 -3.8zM1008.4 1231.5l-4.7 2.1l-0.2 -3.8zM1008.6 1234.7l-4.7 2.1l-0.2 -3.8zM1008.7 1238l-4.7 2.2l-0.2 -3.8zM1008.8 1241.3l-4.7 2.2l-0.3 -3.8zM1008.9 1244.5l-4.6 2.3l-0.3 -3.8zM1009 1247.7l-4.6 2.3l-0.4 -3.8zM1009.1 1250.9l-4.6 2.4l-0.4 -3.8zM1009.3 1254.1l-4.5 2.5l-0.5 -3.8zM1009.4 1257.2l-4.5 2.5l-0.5 -3.8zM1009.5 1260.3l-4.5 2.6l-0.6 -3.8zM1009.7 1263.4l-4.4 2.7l-0.6 -3.7zM1009.9 1266.4l-4.4 2.8l-0.7 -3.7zM1010 1269.4l-4.3 2.9l-0.8 -3.7zM1010.2 1272.4l-4.2 2.9l-0.9 -3.7zM1010.4 1275.2l-4.2 3l-1 -3.7zM1010.5 1278.1l-4.1 3.1l-1 -3.7zM1010.7 1280.9l-4 3.3l-1.1 -3.6zM1010.3 1283.8l-3.9 3.4l-1.2 -3.6zM1010 1286.7l-3.8 3.5l-1.3 -3.6zM1009.6 1289.5l-3.7 3.6l-1.5 -3.5zM1008.8 1292.5l-3.6 3.7l-1.6 -3.5zM1007.5 1295.8l-3.5 3.8l-1.7 -3.4zM1006.2 1299.1l-3.3 4l-1.8 -3.3zM1003.5 1303.3l-3.2 4.1l-1.9 -3.3zM999.2 1308.7l-3 4.2l-2.1 -3.2z" fill="#000"/>
<path d="M755.8 1305.9L757.8 1306L759.8 1306.1L761.8 1306.3L763.8 1306.5L765.8 1306.9L767.8 1307.3L769.8 1307.8L771.8 1308.3L773.8 1308.9L775.8 1309.6L777.7 1310.3L779.7 1311.1L781.7 1311.9L783.7 1312.8L785.7 1313.8L787.7 1314.8L789.7 1315.8L791.7 1316.8L793.7 1317.9L795.7 1319L797.7 1320.2L799.6 1321.4L801.6 1322.5L803.6 1323.7L805.6 1324.9L807.6 1326.1L809.6 1327.3L811.6 1328.5L813.6 1329.7L815.6 1330.9L817.6 1332.1L819.6 1333.2L821.5 1334.4L823.5 1335.5L825.5 1336.6L827.5 1337.6L829.5 1338.6L831.5 1339.6L833.5 1340.6L835.5 1341.5L837.5 1342.4L839.5 1343.3L841.5 1344.1L843.5 1344.9L845.4 1345.7L847.4 1346.4L849.4 1347.1L851.4 1347.7L853.4 1348.3L855.4 1348.8L857.4 1349.4L859.4 1349.9L861.4 1350.3L863.4 1350.7L865.4 1351.1L867.3 1351.5L869.3 1351.8L871.3 1352.1L873.3 1352.4L875.3 1352.6L877.3 1352.9L879.3 1353L881.3 1353.2L883.3 1353.4L885.3 1353.5L887.3 1353.6L889.2 1353.6L891.2 1353.7L893.2 1353.7L895.2 1353.7L897.2 1353.7L899.2 1353.7L901.2 1353.6L903.2 1353.6L905.2 1353.5L907.2 1353.4L909.2 1353.2L911.1 1353L913.1 1352.9L915.1 1352.6L917.1 1352.4L919.1 1352.1L921.1 1351.8L923.1 1351.5L925.1 1351.1L927.1 1350.7L929.1 1350.3L931.1 1349.9L933.1 1349.4L935 1348.8L937 1348.3L939 1347.7L941 1347.1L943 1346.4L945 1345.7L947 1344.9L949 1344.1L951 1343.3L953 1342.4L955 1341.5L956.9 1340.6L958.9 1339.6L960.9 1338.6L962.9 1337.6L964.9 1336.6L966.9 1335.5L968.9 1334.4L970.9 1333.2L972.9 1332.1L974.9 1330.9L976.9 1329.7L978.8 1328.5L980.8 1327.3L982.8 1326.1L984.8 1324.9L986.8 1323.7L988.8 1322.5L990.8 1321.4L992.8 1320.2L994.8 1319L996.8 1317.9L998.8 1316.8L1000.8 1315.8L1002.7 1314.8L1004.7 1313.8L1006.7 1312.8L1008.7 1311.9L1010.7 1311.1L1012.7 1310.3L1014.7 1309.6L1016.7 1308.9L1018.7 1308.3L1020.7 1307.8L1022.7 1307.3L1024.6 1306.9L1026.6 1306.5L1028.6 1306.3L1030.6 1306.1L1032.6 1306L1034.6 1305.9" stroke="#000" stroke-width="1.7" fill="none"/>
</g>
<rect x="755.5" y="1179.3" width="279.8" height="173" fill="none" stroke="#000" stroke-width="2.9"/>
<line x1="1036.7" y1="1333.1" x2="1047.8" y2="1333.1" stroke="#000" stroke-width="1.3"/>
<text x="1059.6" y="1341.5" font-size="25">0</text>
<line x1="1036.7" y1="1286.4" x2="1047.8" y2="1286.4" stroke="#000" stroke-width="1.3"/>
<text x="1059.6" y="1294.8" font-size="25">1</text>
<line x1="1036.7" y1="1239.6" x2="1047.8" y2="1239.6" stroke="#000" stroke-width="1.3"/>
<text x="1059.6" y="1248" font-size="25">2</text>
<line x1="1036.7" y1="1192.9" x2="1047.8" y2="1192.9" stroke="#000" stroke-width="1.3"/>
<text x="1059.6" y="1201.3" font-size="25">3</text>
<text x="1094.79" y="1264.43" font-size="28.6" font-style="italic">y</text>
<path d="M1108.40 1270.60L1118.50 1244.80" stroke="#000" stroke-width="1.5"/>
<text x="1121.33" y="1264.17" font-size="27.32" font-style="italic">η</text>
<defs><clipPath id="tlp7"><rect x="0" y="-5" width="282.42" height="190"/></clipPath>
<g id="lp7" clip-path="url(#tlp7)"><g transform="scale(0.5)" stroke="#000" stroke-width="2" stroke-linejoin="round" fill-rule="evenodd">
<path d="M261 44l3 1l2 3l1 7l1 1l7-3l6 0l4-4l2 1l-1 2l-4 3l1 4l4 3l2-2l1-7l2-1l4-1l7 2l6-3l7-5l11-1l5 1l2 3l2 4l8 3l7-3l4 1l2 3l0 11l1 14l2 7l0 9l1 5l-5 10l1 4l4 1l5-3l12 4l2 2l3 6l3-1l6-3l1 1l3 2l3 5l-2 4l-5-1l-9 4l0 2l1 1l6 4l5 13l0 4l-2 3l-3 8l3 6l0 3l-6 11l0 10l-5 4l-3 7l-3 2l-4 2l-6 0l-2 1l-2 2l-2 7l-2 3l-6 4l-14 6l-12 3l-7 0l-9 5l-16 3l-5 0l-4-3l-3 0l-11 4l-14 0l-10-3l-5 1l-13-1l-10 0l-8-1l-4-3l-6-6l-5-1l-3-2l-1-9l-6-10l0-4l4-6l0-2l-6-5l-7-1l-5-16l-2-2l-6-3l1-3l14-11l2-3l-2-7l3-2l0-2l-7-8l1-6l1-3l7-2l5-6l4-1l4-13l3-4l3-1l5 3l5-2l1-3l-2-7l1-2l8-2l1-3l-1-4l-3-5l0-2l1-2l3 0l3 2l3 1l4-3l3-5l4-5l-1-9l1-5l7 0l1-1l5-6zM324 55l-3 4l1 2l7-2l3-3l0-1l-2-1l-4 0zM230 100l-1 1l0 3l2 2l1 0l2-2l0-3l-1-2zM375 95l3 1l0 2l-5 10l-2 1l-3 0l-2-5l1-3l2-3zM173 200l4-1l2 4l-1 3l-2 1l-4-2l-1-3z" fill="#fff4f4"/>
<path d="M285 95l2-1l1 1l2 6l-1 2l-7 5l0 3l2 2l3-1l4-8l3 0l5 3l7 2l0 10l3 4l8 1l10-2l4 0l10 4l6 5l5 0l3 6l9-1l2 1l0 2l-5 8l-2 7l3 4l3 1l2-1l5-6l3-1l-1 23l-3 4l-7 6l1 7l-1 7l-2 0l-4-3l-4 2l-5 15l-6 7l-2 5l-3 4l-8 0l-7 5l-4 2l-11-1l-7 2l-16 2l-5 3l-3 1l-3-1l-7-3l-6 3l-2 1l-9-3l-7-5l-10-3l-2-1l-2-5l-3-2l-11-1l-3-1l-5-7l1-5l0-10l1-3l5-4l5-8l6-7l0-5l-4-8l0-3l4-3l6 0l2-1l10-13l1-2l-1-6l1-3l5-7l5-4l7-10l2-10l3-2l14-2zM313 104l6 1l1 2l-1 0l-3 0l-3-2zM197 183l3 0l1 1l1 7l-2 3l-4 1l-3-1l-1-2z" fill="#ffeaea"/>
<path d="M292 138l3 1l6 4l16 2l6 4l2 7l-1 12l3 7l7 7l2 7l0 4l-2 4l-4 3l-2 9l-2 4l-11 9l-7 2l-6 5l-3 0l-10-2l-9 0l-10-1l-13 0l-1-2l1-4l-3-4l-2-1l-9 0l-2-2l0-4l2-4l-3-6l1-4l5-8l10-6l-2-9l0-11l10-3l2-8l2-3l3-1l10 1l6-3z" fill="#ffdfdf"/>
<path d="M301 188l0 4l2 3l3 1l6 0l1 1l1 3l-2 4l-6 2l-8 1l-7-4l-2-3l-1-2l1-2l11-4l-1-4z" fill="#ffd4d4"/>
<path d="M424 225l4 1l4 5l6 2l5 4l9-3l11 0l2 1l1 2l-1 3l-3 3l-15 6l-1 3l0 7l-3 4l-8 3l-9 0l-3 3l-1 4l2 6l-3 7l0 3l9 14l2 0l6-3l33-19l37-19l12-6l21-7l16-3l28-2l0 18l-3 0l-1-1l-31 0l-2 1l-7 0l-1 1l-10 2l-1 1l-7 2l-4 2l-3 0l-4 3l-3 0l-7 4l-4 2l-2 1l-10 4l-2 3l-10 4l-3 3l-7 3l-3 3l-7 3l-3 2l-7 3l-2 3l-5 1l-29 16l-3 0l-4 3l-3 0l-4 2l-7 2l-1 1l-7 2l-2 1l-3 0l-1 1l-10 2l-1 1l-6 0l-1 2l-6 0l-1 1l-7 0l-2 1l-9 0l-2 2l-14 0l-1 1l-59 0l-1-1l-14 0l-2-2l-10 0l-1-1l-7 0l-1-1l-6 0l-1-2l-6 0l-1-1l-10-2l-2-1l-2 0l-2-1l-7-2l-1-1l-7-2l-4-2l-3 0l-2-2l-1 0l-1-1l-3 0l-27-14l-7-3l-3-3l-7-3l-2-2l-7-3l-6-4l-4-2l-3-3l-10-4l-3-3l-4-1l-18-10l-3 0l-4-3l-3 0l-4-2l-7-2l-1-1l-5 0l-1-2l-4 0l-2-1l-7 0l-1-1l-31 0l-1 1l-3 0l0-14l1-1l12-1l22-2l15 2l20 4l7 2l7 1l8 5l18 0l2 1l3 4l1 2l3-2l3-5l3-1l7 0l7 2l5-4l10-1l15 4l7 4l3 0l7-4l13-2l3 0l7 5l8 0l7 1l10-2l17 0l12 5l11-3l20 0l7 1l10-1l10 2l4 0l4-2l6-4l12-5l3 1l6 2l12-3l9-1l5-6l9-5l12-2l7-5l9 1l8 0l6-3l5-5zM432 254l0 1l2 0l1-1l0-1l-1-1zM414 308l-3 2l-2 2l0 2l9-4l-1-2z" fill="#f4f4ff"/>
<path d="M-6 247l22-2l20 3l25 6l37 15l5-1l7-3l17 4l6-2l7 1l7-1l4 1l5 4l12-3l21 2l8-1l7 0l10 0l7-2l7 2l28 3l14-3l4 1l8 4l12-1l7 6l12-3l7-3l7 1l10 0l3-2l4-6l3-1l12-1l8 5l11 1l1-1l4-7l3-1l4 0l2 1l2 6l2 2l5 1l8-2l-2 3l4 2l1 2l0 3l-2 4l-7-1l-4 4l-6 4l-4 12l1 7l-1 2l-6 6l-2 4l-4 3l1 0l2 0l2-1l7-1l25-10l25-13l38-22l29-15l16-7l17-6l21-4l25 0l0 16l-3 0l-1-1l-31 0l-2 1l-7 0l-1 1l-4 0l-2 2l-4 0l-1 1l-7 2l-4 2l-3 0l-4 3l-3 0l-21 11l-2 0l-2 3l-10 4l-3 3l-7 3l-6 4l-4 2l-3 2l-7 3l-2 3l-5 1l-29 16l-3 0l-1 1l-2 0l-1 2l-3 0l-4 2l-7 2l-1 1l-7 2l-2 1l-3 0l-1 1l-10 2l-1 1l-6 0l-1 2l-6 0l-1 1l-7 0l-2 1l-9 0l-2 2l-14 0l-1 1l-59 0l-1-1l-14 0l-2-2l-10 0l-1-1l-7 0l-1-1l-6 0l-1-2l-6 0l-1-1l-10-2l-2-1l-2 0l-2-1l-7-2l-1-1l-7-2l-4-2l-3 0l-2-2l-1 0l-1-1l-3 0l-27-14l-7-3l-3-3l-7-3l-2-2l-7-3l-3-3l-7-3l-3-3l-10-4l-3-3l-9-4l-2-1l-7-3l-4-3l-3 0l-4-3l-3 0l-4-2l-7-2l-1-1l-5 0l-1-2l-4 0l-2-1l-7 0l-1-1l-31 0l-1 1l-3 0l0-13z" fill="#eaeaff"/>
<path d="M2 246l20 0l28 6l15 5l38 16l9 0l12-1l9 3l14-2l8 3l11-2l10 3l11-1l31 2l11 0l24 3l14 4l7-1l11 3l9-1l8 2l7 0l8 5l7-2l19 0l9-4l5 0l4 2l4 6l-2 6l0 6l1 1l5 3l2 4l-2 2l-7 2l-10 7l-7 1l-7 3l-7-1l-5 4l-9-3l-15 5l-15 0l-7 1l-10 0l-8 2l4 0l43 0l27-3l26-4l24-7l31-12l92-50l14-6l20-6l17-3l25-1l0 16l-3 0l-1-1l-31 0l-2 1l-7 0l-1 1l-4 0l-2 2l-4 0l-1 1l-7 2l-4 2l-3 0l-4 3l-3 0l-21 11l-2 0l-1 2l-10 5l-1 0l-2 2l-8 4l-22 14l-17 8l-31 14l-22 7l-16 3l-3 2l-4 0l-1 1l-18 1l-1 1l-5 1l-26 1l-44 0l-1-1l-14 0l-2-2l-10 0l-1-1l-7 0l-1-1l-6 0l-1-2l-6 0l-1-1l-10-2l-2-1l-2 0l-2-1l-3 0l-1-2l-3 0l-1-1l-7-2l-4-2l-3 0l-4-3l-6-2l-24-12l-7-3l-3-3l-7-3l-2-2l-7-3l-6-4l-4-2l-3-3l-10-4l-3-3l-4-1l-18-10l-3 0l-4-3l-3 0l-4-2l-7-2l-1-1l-5 0l-1-2l-4 0l-2-1l-7 0l-1-1l-31 0l-1 1l-3 0l0-13zM215 328l8 3l5 0l-9-4l-4 0zM236 333l6 0l-4-1zM252 336l9 0l-5-1z" fill="#dfdfff"/>
<path d="M11 247l21 1l22 6l25 9l30 13l10 1l8-1l8 2l12-1l7 2l9-1l9 2l11-1l18 2l13 1l17 5l11 0l2 2l2 3l7 2l4 7l6 4l1 3l-1 7l0 4l-1 2l-3 1l-3-1l-1-2l1-4l0-1l-2 0l-4 5l-12 4l-44-4l27 12l35 7l15 1l38-1l22-1l31-5l25-7l23-9l17-8l81-45l16-7l19-6l17-2l25-1l0 15l-3 0l-1-1l-31 0l-2 1l-7 0l-1 1l-4 0l-2 2l-4 0l-1 1l-7 2l-4 2l-3 0l-2 2l-5 1l-2 2l-21 9l-63 35l-29 13l-24 8l-22 5l-28 3l-34 2l-33-1l-15-1l-1-1l-10 0l-1-1l-7 0l-1-1l-6 0l-1-2l-6 0l-1-1l-5 0l-1-2l-4 0l-2-1l-6-1l-2-2l-34-12l-18-10l-7-3l-3-3l-7-3l-2-2l-7-3l-6-4l-4-2l-3-3l-10-4l-3-3l-4-1l-18-10l-3 0l-4-3l-3 0l-4-2l-7-2l-1-1l-5 0l-1-2l-4 0l-2-1l-7 0l-1-1l-31 0l-1 1l-3 0l0-12l13-2z" fill="#d4d4ff"/>
<path d="M0 248l12-1l10 1l11 1l17 4l17 6l40 17l10 3l13 0l8 2l9-1l5 2l9-2l7 2l8 0l11 1l27 4l5 3l7 11l1 6l-3 5l-6 4l-13 0l-14-1l-6 0l9 6l25 11l35 7l17 1l37-1l23-2l26-3l30-9l31-12l90-49l17-7l18-6l17-3l25-1l0 15l-3 0l-1-1l-31 0l-2 1l-7 0l-1 1l-4 0l-2 2l-4 0l-1 1l-7 2l-1 1l-13 4l-16 8l-70 38l-28 12l-21 7l-25 6l-21 3l-32 2l-20 0l-30-1l-24-2l-23-5l-12-4l-45-18l-15-8l-2 0l-3-3l-7-3l-2-2l-7-3l-6-4l-4-2l-3-3l-10-4l-3-3l-4-1l-18-10l-3 0l-4-3l-3 0l-4-2l-7-2l-1-1l-5 0l-1-2l-4 0l-2-1l-7 0l-1-1l-31 0l-1 1l-3 0l0-12z" fill="#c9c9ff"/>
<path d="M7 248l11 0l11 1l22 5l19 6l50 22l14 0l6 1l7-1l5 1l6-1l5 2l9 0l12 1l17 4l3 2l4 7l-2 13l-5 1l-25-1l17 11l26 12l34 5l18 2l37-1l23-2l26-4l29-7l32-14l90-49l15-6l18-6l19-3l25-1l0 14l-3 0l-1-1l-31 0l-2 1l-7 0l-1 1l-4 0l-1 2l-5 0l-1 1l-7 2l-28 11l-72 39l-28 12l-22 8l-24 5l-22 3l-31 2l-20 0l-49-2l-26-6l-14-4l-56-22l-2-2l-4-1l-3-3l-7-3l-2-2l-7-3l-3-3l-7-3l-3-3l-10-4l-3-3l-4-1l-18-10l-3 0l-4-3l-3 0l-4-2l-7-2l-1-1l-5 0l-1-2l-4 0l-2-1l-7 0l-1-1l-31 0l-1 1l-3 0l0-11z" fill="#bfbfff"/>
<path d="M-3 249l24 0l12 1l17 4l18 7l55 22l12 0l6 2l6-1l4 1l5-1l5 1l18 2l9 2l6 2l3 5l0 8l-1 4l-13 1l-13-2l0 1l20 14l31 13l33 5l26 2l28-1l25-2l25-4l29-8l31-13l88-48l17-8l17-5l18-3l27-1l0 13l-3 0l-1-1l-31 0l-1 1l-8 0l0 1l-11 2l-14 4l-25 11l-69 37l-29 13l-22 7l-23 5l-22 4l-31 1l-20 0l-46-2l-10-1l-19-5l-14-4l-62-25l-3-2l-7-3l-2-2l-7-3l-3-3l-7-3l-3-3l-10-4l-3-3l-4-1l-18-10l-3 0l-4-3l-3 0l-4-2l-7-2l-1-1l-5 0l-1-2l-4 0l-2-1l-7 0l-1-1l-31 0l-1 1l-3 0l0-10z" fill="#b4b4ff"/>
<path d="M4 249l11 0l11 1l24 5l18 6l58 24l11 0l5 1l5-1l4 1l4 0l20 2l8 2l3 1l3 6l-2 8l-21 0l-1 0l7 7l18 11l31 14l32 4l25 1l28 0l28-2l24-4l29-8l33-14l86-48l17-7l17-6l18-3l27-1l0 13l-3 0l-1-1l-31 0l-17 3l-15 4l-27 12l-69 37l-28 12l-23 7l-24 6l-21 3l-30 2l-21 0l-46-3l-29-6l-53-19l-24-10l-9-4l-2-2l-8-3l-2-3l-7-3l-3-3l-10-4l-3-3l-4-1l-18-10l-3 0l-4-3l-3 0l-4-2l-7-2l-1-1l-5 0l-1-2l-4 0l-2-1l-7 0l-1-1l-31 0l-4 1l0-10z" fill="#a9a9ff"/>
<path d="M-6 251l22-1l19 2l15 4l14 4l49 21l17 6l3-1l21 1l22 3l3 1l2 5l-1 7l-20 0l3 4l6 5l22 14l30 12l31 4l26 1l27 0l29-3l25-4l30-8l24-10l18-9l50-29l24-13l18-8l17-5l18-3l27-1l0 12l-3 0l-1-1l-30-1l-17 3l-16 5l-27 11l-67 36l-30 13l-23 8l-24 5l-21 3l-30 2l-20 0l-29-1l-18-2l-29-6l-53-19l-24-10l-27-14l-17-10l-4-1l-18-10l-3 0l-4-3l-3 0l-4-2l-7-2l-1-1l-5 0l-1-2l-4 0l-2-1l-7 0l-1-1l-21-1l-14 1l0-8z" fill="#9e9eff"/>
<path d="M2 251l13-1l11 1l24 5l18 7l46 19l19 7l2-1l12 0l14 1l11 2l3 5l-2 4l-7 1l-12-1l4 4l11 10l21 12l22 10l9 4l17 2l-10 0l-25-5l-58-20l-25-11l-63-33l-3 0l-4-3l-3 0l-4-2l-7-2l-1-1l-5 0l-1-2l-4 0l-2-1l-5 0l-3-1l-20-2l-15 2l0-8zM567 251l18-1l0 12l-3 0l-1-1l-27-1l-17 2l-15 4l-26 10l-68 36l-4 3l-1-1l64-37l29-14l25-9l12-2zM421 315l2 0l-3 0zM418 316l1 1l-2 0zM415 318l1 0l-1 0zM375 333l1 0l-2 0zM358 337l2 1l-3 0zM350 339l3 0l-4 0zM341 340l6 0l-7 0zM330 342l8 0l-9 0zM242 343l12 0l-13 0zM313 343l9-1l5 1l-7 1l-8-1zM259 344l39 0l13 1l-17 0l-36 0z" fill="#9494ff"/>
<path d="M14 251l19 2l17 4l13 4l62 26l3 3l10 5l4 0l2-1l-8-4l2-1l14 0l14 2l2 3l0 5l-7 0l-12-2l0 1l5 7l23 16l16 8l16 7l-2 1l-18-6l-61-22l-18-8l-35-19l-18-9l-6-1l-1-2l-3 0l-4-2l-7-2l-1-1l-5 0l-1-2l-3 0l-3-1l-21-3l-11 0l-11 1l0-6l13-2zM145 296l-1 1l1 2l3-2l-1-1zM579 251l6 0l0 11l-4-1l-23-2l-12 1l-14 2l-14 5l-14 5l-41 21l-1 1l-1-1l40-22l25-12l24-6zM459 294l1 0l1 0zM457 295l2 1l-3 0zM455 297l1 0l-1 0zM448 301l-1 0z" fill="#8989ff"/>
<path d="M0 252l15-1l15 2l21 5l27 10l41 18l15 9l7 3l3 3l4 1l7 6l18 11l20 12l-2 0l-7-2l-23-10l-13-3l-21-8l-17-8l-33-18l-34-14l-20-6l-15-3l-14-1l-14 1l0-4zM564 252l21 0l0 9l-23-3l-22 2l-21 6l-28 12l-1 0l-1-1l19-9l19-9l19-5zM487 278l2 1l-2 0l-1 0zM484 280l2 0l-2 1zM480 282l1 1l-2 0zM477 284l1 0l-2 0zM140 290l11 0l9 1l3 2l1 1l-1 3l-5 1l-10-2l-8-5z" fill="#7e7eff"/>
<path d="M8 252l13 0l14 2l18 5l26 10l37 17l16 10l8 3l4 4l4 1l8 7l23 14l-2 0l-16-7l-13-3l-21-8l-17-8l-33-18l-20-8l-22-8l-16-4l-14-3l-12 0l-13 1l0-4zM572 252l13 0l0 9l-20-3l-14 0l-17 3l-23 7l-2 0l16-7l16-5l13-2zM506 269l3 0l-3 0zM504 270l1 0l-1 1zM142 291l13 0l4 2l0 3l-3 0l-5 0l-5-2z" fill="#7373ff"/>
<path d="M-5 254l19-1l15 1l21 5l15 5l47 20l17 12l9 4l4 4l6 2l22 15l-1 0l-8-4l-13-3l-21-8l-18-8l-30-16l-19-9l-17-6l-21-6l-13-3l-14-1l-15 1l0-2zM561 254l24-1l0 7l-13-2l-12-1l-14 1l-17 3l-2 0l17-5zM525 262l2 0l-4 0zM520 263l3 0l-3 0zM518 265l-1 0zM147 292l7 0l1 2l-6 1l-3-2z" fill="#6969ff"/>
<path d="M4 254l12-1l14 2l20 5l18 6l42 18l17 12l10 4l5 5l6 3l11 7l-3 1l-7-2l-22-9l-18-8l-31-17l-18-8l-17-6l-21-6l-13-3l-12-1l-17 1l0-1l8-1zM569 254l16-1l0 7l-20-3l-18 0l-3-1zM534 259l2 0l-3 0zM148 292l3 1l-2 0l-2 0z" fill="#5e5eff"/>
<path d="M-6 255l20-1l15 1l20 5l14 5l16 6l29 13l18 12l9 5l6 4l14 9l-8-2l-21-8l-17-8l-30-16l-26-11l-32-10l-28-4zM558 255l27-1l0 5zM548 256l2 0l-3 0z" fill="#0000ff"/>
</g>
<path d="M-10 131L-7.5 130.6L-5 130.3L-2.4 130.2L0.1 130.1L2.6 130.2L5.1 130.3L7.6 130.6L10.2 131L12.7 131.5L15.2 132.2L17.7 132.9L20.2 133.7L22.8 134.6L25.3 135.6L27.8 136.6L30.3 137.8L32.8 139L35.4 140.3L37.9 141.6L40.4 142.9L42.9 144.3L45.4 145.7L48 147.2L50.5 148.6L53 150.1L55.5 151.5L58 152.9L60.6 154.4L63.1 155.7L65.6 157.1L68.1 158.4L70.6 159.7L73.2 161L75.7 162.2L78.2 163.3L80.7 164.4L83.2 165.4L85.8 166.4L88.3 167.3L90.8 168.2L93.3 169L95.8 169.7L98.4 170.4L100.9 171.1L103.4 171.7L105.9 172.2L108.4 172.7L111 173.1L113.5 173.5L116 173.8L118.5 174.1L121 174.4L123.6 174.6L126.1 174.8L128.6 175L131.1 175.1L133.6 175.2L136.2 175.2L138.7 175.3L141.2 175.3L143.7 175.3L146.3 175.2L148.8 175.2L151.3 175.1L153.8 175L156.3 174.8L158.9 174.6L161.4 174.4L163.9 174.1L166.4 173.8L168.9 173.5L171.5 173.1L174 172.7L176.5 172.2L179 171.7L181.5 171.1L184.1 170.4L186.6 169.7L189.1 169L191.6 168.2L194.1 167.3L196.7 166.4L199.2 165.4L201.7 164.4L204.2 163.3L206.7 162.2L209.3 161L211.8 159.7L214.3 158.4L216.8 157.1L219.3 155.7L221.9 154.4L224.4 152.9L226.9 151.5L229.4 150.1L231.9 148.6L234.5 147.2L237 145.7L239.5 144.3L242 142.9L244.5 141.6L247.1 140.3L249.6 139L252.1 137.8L254.6 136.6L257.1 135.6L259.7 134.6L262.2 133.7L264.7 132.9L267.2 132.2L269.7 131.5L272.3 131L274.8 130.6L277.3 130.3L279.8 130.2L282.3 130.1L284.9 130.2L287.4 130.3L289.9 130.6L292.4 131" fill="none" stroke="#000" stroke-width="1.2"/>
</g>
<clipPath id="clp7"><rect x="184.5" y="1355.8" width="565" height="175.1"/></clipPath></defs>
<g clip-path="url(#clp7)">
<use href="#lp7" transform="translate(184.7 1354.29)"/>
<use href="#lp7" transform="translate(467.12 1354.29)"/>
<g transform="translate(184.7 1354.29)"><path d="M98.3 133.8L102 140L102 150L98.3 160L85.8 167.5" fill="none" stroke="#000" stroke-width="4.5" stroke-linecap="butt" stroke-linejoin="round"/></g>
<g transform="translate(467.12 1354.29)"><path d="M98.3 133.8L102 140L102 150L98.3 160L85.8 167.5" fill="none" stroke="#000" stroke-width="4.5" stroke-linecap="butt" stroke-linejoin="round"/></g>
</g>
<rect x="184.5" y="1355.8" width="565" height="175.1" fill="none" stroke="#000" stroke-width="3"/>
<line x1="278.8" y1="1357.3" x2="278.8" y2="1367.3" stroke="#000" stroke-width="1.3"/>
<line x1="278.8" y1="1529.4" x2="278.8" y2="1519.4" stroke="#000" stroke-width="1.3"/>
<line x1="373" y1="1357.3" x2="373" y2="1367.3" stroke="#000" stroke-width="1.3"/>
<line x1="373" y1="1529.4" x2="373" y2="1519.4" stroke="#000" stroke-width="1.3"/>
<line x1="467.1" y1="1357.3" x2="467.1" y2="1367.3" stroke="#000" stroke-width="1.3"/>
<line x1="467.1" y1="1529.4" x2="467.1" y2="1519.4" stroke="#000" stroke-width="1.3"/>
<line x1="561.3" y1="1357.3" x2="561.3" y2="1367.3" stroke="#000" stroke-width="1.3"/>
<line x1="561.3" y1="1529.4" x2="561.3" y2="1519.4" stroke="#000" stroke-width="1.3"/>
<line x1="655.4" y1="1357.3" x2="655.4" y2="1367.3" stroke="#000" stroke-width="1.3"/>
<line x1="655.4" y1="1529.4" x2="655.4" y2="1519.4" stroke="#000" stroke-width="1.3"/>
<clipPath id="rc7"><rect x="755.5" y="1357.5" width="280" height="173.1"/></clipPath>
<g clip-path="url(#rc7)">
<path d="M755.8 1358.3l20.4 1.4M755.8 1361.8l20.4 1.4M755.8 1365.3l20.4 1.4M755.8 1368.7l20.4 1.4M755.8 1372.2l20.4 1.4M755.8 1375.7l20.4 1.4M755.8 1379.2l20.4 1.4M755.8 1382.7l20.4 1.4M755.8 1386.1l20.4 1.4M755.8 1389.6l20.4 1.4M755.8 1393.1l20.5 1.4M755.8 1396.6l20.6 1.4M755.8 1400.1l20.7 1.5M755.8 1403.5l20.8 1.5M755.8 1407l21 1.5M755.8 1410.5l21.1 1.5M755.8 1414l21.2 1.5M755.8 1417.5l21.3 1.5M755.8 1420.9l21.4 1.5M755.8 1424.4l21.5 1.5M755.8 1427.9l21.7 1.5M755.8 1431.4l22 1.5M755.8 1434.9l22.3 1.6M755.8 1438.3l22.7 1.6M755.8 1441.8l23 1.6M755.8 1445.3l23.4 1.6M755.8 1448.8l23.7 1.7M755.8 1452.3l24.1 1.7M755.8 1455.7l24.9 1.7M755.8 1459.2l25.9 1.8M755.8 1462.7l27 1.9M755.8 1466.2l28.1 2M755.8 1469.7l29.4 2.1M755.8 1473.1l30.7 2.1M755.8 1476.6l32.1 2.2M802.3 1358.3l19.9 2.1M802.3 1361.8l20 2.2M802.3 1365.3l20 2.2M802.3 1368.7l20.1 2.3M802.3 1372.2l20.1 2.4M802.3 1375.7l20.2 2.5M802.3 1379.2l20.2 2.5M802.3 1382.7l20.3 2.6M802.3 1386.1l20.4 2.7M802.3 1389.6l20.4 2.9M802.3 1393.1l20.5 3M802.3 1396.6l20.7 3.2M802.3 1400.1l20.9 3.3M802.3 1403.5l21.1 3.5M802.3 1407l21.3 3.7M802.3 1410.5l21.5 3.9M802.3 1414l21.7 4.1M802.3 1417.5l21.9 4.4M802.3 1420.9l22.1 4.7M802.3 1424.4l22.3 4.9M802.3 1427.9l22.5 5.3M802.3 1431.4l22.8 5.6M802.3 1434.9l23.2 6.1M802.3 1438.3l23.5 6.5M802.3 1441.8l23.9 7M802.3 1445.3l24.3 7.6M802.3 1448.8l24.7 8.2M802.3 1452.3l25 8.8M802.3 1455.7l25.4 9.5M802.3 1459.2l25.8 10.3M802.3 1462.7l26.2 11.2M802.3 1466.2l26.6 12.1M802.3 1469.7l27 13.1M802.3 1473.1l27.4 14.2M802.3 1476.6l27.6 15.3M802.3 1480.1l27.8 16.5M802.3 1483.6l27.9 17.8M802.3 1487.1l28.1 19.2M802.3 1490.5l27 19.8M802.3 1494l21.9 17.2M848.8 1358.3l16.9 1.4M848.8 1361.8l17 1.4M848.8 1365.3l17 1.4M848.8 1368.7l17.1 1.4M848.8 1372.2l17.2 1.5M848.8 1375.7l17.3 1.5M848.8 1379.2l17.4 1.5M848.8 1382.7l17.4 1.6M848.8 1386.1l17.5 1.6M848.8 1389.6l17.6 1.6M848.8 1393.1l17.7 1.7M848.8 1396.6l17.9 1.7M848.8 1400.1l18.1 1.8M848.8 1403.5l18.2 1.9M848.8 1407l18.4 1.9M848.8 1410.5l18.6 2M848.8 1414l18.7 2.1M848.8 1417.5l18.9 2.1M848.8 1420.9l19 2.2M848.8 1424.4l19.2 2.3M848.8 1427.9l19.4 2.4M848.8 1431.4l19.7 2.5M848.8 1434.9l20 2.7M848.8 1438.3l20.4 2.8M848.8 1441.8l20.7 3M848.8 1445.3l21.1 3.2M848.8 1448.8l21.5 3.4M848.8 1452.3l21.8 3.6M848.8 1455.7l22.1 3.8M848.8 1459.2l22.4 4M848.8 1462.7l22.8 4.3M848.8 1466.2l23.1 4.5M848.8 1469.7l23.4 4.8M848.8 1473.1l23.7 5.2M848.8 1476.6l23.6 5.4M848.8 1480.1l23.5 5.7M848.8 1483.6l23.4 6M848.8 1487.1l23.3 6.3M848.8 1490.5l22.7 6.5M848.8 1494l21.8 6.7M848.8 1497.5l21 6.8M848.8 1501l18.5 6.4M848.8 1504.5l15.7 5.8M848.8 1507.9l13 5.1M848.8 1511.4l9.7 4M848.8 1514.9l5.1 2.3M848.8 1518.4l0.7 0.3M895.2 1358.3l16.4 1.1M895.2 1361.8l16.4 1.1M895.2 1365.3l16.4 1.1M895.2 1368.7l16.4 1.1M895.2 1372.2l16.4 1.1M895.2 1375.7l16.4 1.1M895.2 1379.2l16.4 1.1M895.2 1382.7l16.4 1.1M895.2 1386.1l16.4 1.1M895.2 1389.6l16.4 1.1M895.2 1393.1l16.4 1.1M895.2 1396.6l16.5 1.2M895.2 1400.1l16.7 1.2M895.2 1403.5l16.8 1.2M895.2 1407l16.9 1.2M895.2 1410.5l17 1.2M895.2 1414l17.1 1.2M895.2 1417.5l17.2 1.2M895.2 1420.9l17.4 1.2M895.2 1424.4l17.5 1.2M895.2 1427.9l17.6 1.2M895.2 1431.4l18.2 1.3M895.2 1434.9l18.9 1.3M895.2 1438.3l19.6 1.4M895.2 1441.8l20.3 1.4M895.2 1445.3l21 1.5M895.2 1448.8l21.7 1.5M895.2 1452.3l22.4 1.6M895.2 1455.7l23 1.6M895.2 1459.2l23.7 1.7M895.2 1462.7l24.3 1.7M895.2 1466.2l25 1.7M895.2 1469.7l25.6 1.8M895.2 1473.1l26.3 1.8M895.2 1476.6l25.7 1.8M895.2 1480.1l25.1 1.8M895.2 1483.6l24.6 1.7M895.2 1487.1l24 1.7M895.2 1490.5l22.6 1.6M895.2 1494l20.8 1.5M895.2 1497.5l19.1 1.3M895.2 1501l17.4 1.2M895.2 1504.5l15.5 1.1M895.2 1507.9l13.4 0.9M895.2 1511.4l11.3 0.8M895.2 1514.9l9.2 0.6M895.2 1518.4l7 0.5M895.2 1521.9l4.9 0.3M941.7 1358.3l17.1 1M941.7 1361.8l17.1 1M941.7 1365.3l17.2 1M941.7 1368.7l17.2 1M941.7 1372.2l17.3 0.9M941.7 1375.7l17.3 0.9M941.7 1379.2l17.4 0.9M941.7 1382.7l17.4 0.9M941.7 1386.1l17.5 0.8M941.7 1389.6l17.5 0.8M941.7 1393.1l17.6 0.8M941.7 1396.6l17.7 0.8M941.7 1400.1l17.7 0.7M941.7 1403.5l17.8 0.7M941.7 1407l17.9 0.6M941.7 1410.5l17.9 0.6M941.7 1414l18 0.5M941.7 1417.5l18.1 0.5M941.7 1420.9l18.2 0.4M941.7 1424.4l18.2 0.4M941.7 1427.9l18.3 0.3M941.7 1431.4l18.6 0.2M941.7 1434.9l18.9 0.1M941.7 1438.3l19.3 0M941.7 1441.8l19.6 -0.1M941.7 1445.3l20 -0.2M941.7 1448.8l20.3 -0.3M941.7 1452.3l20.7 -0.5M941.7 1455.7l20.8 -0.6M941.7 1459.2l20.8 -0.8M941.7 1462.7l20.8 -1M941.7 1466.2l20.8 -1.2M941.7 1469.7l20.8 -1.4M941.7 1473.1l20.8 -1.6M941.7 1476.6l20.8 -1.9M941.7 1480.1l20.4 -2.1M941.7 1483.6l19.8 -2.3M941.7 1487.1l19.2 -2.5M941.7 1490.5l18.5 -2.7M941.7 1494l17.9 -3M941.7 1497.5l17.2 -3.2M941.7 1501l16 -3.3M941.7 1504.5l14.6 -3.3M941.7 1507.9l13.2 -3.3M941.7 1511.4l11.6 -3.2M941.7 1514.9l9.3 -2.8M988.1 1358.3l20.3 0.7M988.1 1361.8l20.3 0.7M988.1 1365.3l20.4 0.6M988.1 1368.7l20.4 0.5M988.1 1372.2l20.5 0.5M988.1 1375.7l20.5 0.4M988.1 1379.2l20.6 0.3M988.1 1382.7l20.6 0.2M988.1 1386.1l20.7 0.1M988.1 1389.6l20.7 0M988.1 1393.1l20.8 -0.1M988.1 1396.6l20.9 -0.2M988.1 1400.1l20.9 -0.4M988.1 1403.5l21 -0.5M988.1 1407l21.1 -0.7M988.1 1410.5l21.1 -0.9M988.1 1414l21.2 -1.1M988.1 1417.5l21.3 -1.3M988.1 1420.9l21.4 -1.5M988.1 1424.4l21.4 -1.8M988.1 1427.9l21.5 -2M988.1 1431.4l21.7 -2.3M988.1 1434.9l21.8 -2.7M988.1 1438.3l22 -3M988.1 1441.8l22.2 -3.4M988.1 1445.3l22.4 -3.9M988.1 1448.8l22.6 -4.3M988.1 1452.3l22.8 -4.8M988.1 1455.7l22.7 -5.3M988.1 1459.2l22.5 -5.8M988.1 1462.7l22.3 -6.4M988.1 1466.2l22.2 -7M988.1 1469.7l22 -7.6M988.1 1473.1l21.8 -8.3M988.1 1476.6l20.8 -8.6M988.1 1480.1l19.8 -9M988.1 1483.6l18.9 -9.4M988.1 1487.1l16.9 -9.1M988.1 1490.5l13.5 -8M988.1 1494l8.4 -5.4" stroke="#000" stroke-width="1.35" fill="none"/>
<path d="M781.1 1360.1l-4.9 1.6l0.3 -3.8zM781.1 1363.5l-4.9 1.6l0.3 -3.8zM781.1 1367l-4.9 1.6l0.3 -3.8zM781.1 1370.5l-4.9 1.6l0.3 -3.8zM781.1 1374l-4.9 1.6l0.3 -3.8zM781.1 1377.5l-4.9 1.6l0.3 -3.8zM781.1 1380.9l-4.9 1.6l0.3 -3.8zM781.1 1384.4l-4.9 1.6l0.3 -3.8zM781.1 1387.9l-4.9 1.6l0.3 -3.8zM781.1 1391.4l-4.9 1.6l0.3 -3.8zM781.1 1394.9l-4.9 1.6l0.3 -3.8zM781.2 1398.4l-4.9 1.6l0.3 -3.8zM781.4 1401.8l-4.9 1.6l0.3 -3.8zM781.5 1405.3l-4.9 1.6l0.3 -3.8zM781.6 1408.8l-4.9 1.6l0.3 -3.8zM781.7 1412.3l-4.9 1.6l0.3 -3.8zM781.8 1415.8l-4.9 1.6l0.3 -3.8zM781.9 1419.3l-4.9 1.6l0.3 -3.8zM782.1 1422.8l-4.9 1.6l0.3 -3.8zM782.2 1426.3l-4.9 1.6l0.3 -3.8zM782.3 1429.8l-4.9 1.6l0.3 -3.8zM782.6 1433.3l-4.9 1.6l0.3 -3.8zM782.9 1436.8l-4.9 1.6l0.3 -3.8zM783.3 1440.3l-4.9 1.6l0.3 -3.8zM783.6 1443.8l-4.9 1.6l0.3 -3.8zM784 1447.3l-4.9 1.6l0.3 -3.8zM784.3 1450.8l-4.9 1.6l0.3 -3.8zM784.7 1454.3l-4.9 1.6l0.3 -3.8zM785.5 1457.8l-4.9 1.6l0.3 -3.8zM786.6 1461.4l-4.9 1.6l0.3 -3.8zM787.6 1464.9l-4.9 1.6l0.3 -3.8zM788.7 1468.5l-4.9 1.6l0.3 -3.8zM790 1472.1l-4.9 1.6l0.3 -3.8zM791.3 1475.6l-4.9 1.6l0.3 -3.8zM792.7 1479.2l-4.9 1.6l0.3 -3.8zM827 1360.9l-5 1.4l0.4 -3.8zM827 1364.4l-5 1.4l0.4 -3.8zM827.1 1368l-5 1.4l0.4 -3.8zM827.1 1371.6l-5 1.3l0.4 -3.8zM827.2 1375.2l-5 1.3l0.4 -3.8zM827.3 1378.7l-5 1.3l0.5 -3.8zM827.3 1382.3l-5 1.3l0.5 -3.8zM827.4 1385.9l-5 1.3l0.5 -3.8zM827.4 1389.5l-5 1.2l0.5 -3.8zM827.5 1393.1l-5 1.2l0.5 -3.8zM827.6 1396.8l-5 1.2l0.5 -3.8zM827.8 1400.5l-5 1.2l0.6 -3.8zM828 1404.1l-5 1.1l0.6 -3.8zM828.1 1407.8l-5 1.1l0.6 -3.7zM828.3 1411.5l-5.1 1.1l0.6 -3.7zM828.5 1415.3l-5.1 1l0.7 -3.7zM828.7 1419l-5.1 1l0.7 -3.7zM828.9 1422.8l-5.1 0.9l0.7 -3.7zM829.1 1426.6l-5.1 0.9l0.8 -3.7zM829.3 1430.4l-5.1 0.8l0.8 -3.7zM829.4 1434.3l-5.1 0.8l0.9 -3.7zM829.8 1438.2l-5.1 0.7l0.9 -3.7zM830.1 1442.1l-5.1 0.6l1 -3.7zM830.5 1446.2l-5.1 0.5l1 -3.7zM830.8 1450.2l-5.1 0.5l1.1 -3.6zM831.2 1454.3l-5.1 0.4l1.1 -3.6zM831.5 1458.5l-5.2 0.3l1.2 -3.6zM831.9 1462.7l-5.2 0.2l1.3 -3.6zM832.2 1467l-5.2 0.1l1.3 -3.6zM832.6 1471.3l-5.2 0l1.4 -3.5zM832.9 1475.7l-5.2 -0.1l1.5 -3.5zM833.2 1480.3l-5.2 -0.3l1.6 -3.5zM833.6 1484.9l-5.1 -0.4l1.7 -3.4zM833.9 1489.6l-5.1 -0.5l1.8 -3.4zM834.1 1494.3l-5.1 -0.7l1.8 -3.3zM834.2 1499l-5.1 -0.8l1.9 -3.3zM834.3 1503.9l-5.1 -1l2 -3.2zM834.4 1509l-5 -1.1l2.1 -3.1zM833.2 1513.1l-5 -1.3l2.2 -3.1zM828 1514.2l-4.9 -1.5l2.3 -3zM870.4 1360.1l-4.9 1.5l0.3 -3.8zM870.5 1363.6l-4.9 1.5l0.3 -3.8zM870.6 1367.1l-4.9 1.5l0.3 -3.8zM870.7 1370.6l-4.9 1.5l0.3 -3.8zM870.7 1374.1l-4.9 1.5l0.3 -3.8zM870.8 1377.6l-4.9 1.5l0.3 -3.8zM870.9 1381.1l-4.9 1.5l0.3 -3.8zM871 1384.7l-5 1.5l0.3 -3.8zM871.1 1388.2l-5 1.5l0.3 -3.8zM871.1 1391.7l-5 1.4l0.4 -3.8zM871.3 1395.2l-5 1.4l0.4 -3.8zM871.4 1398.8l-5 1.4l0.4 -3.8zM871.6 1402.3l-5 1.4l0.4 -3.8zM871.8 1405.9l-5 1.4l0.4 -3.8zM871.9 1409.4l-5 1.4l0.4 -3.8zM872.1 1413l-5 1.4l0.4 -3.8zM872.2 1416.6l-5 1.4l0.4 -3.8zM872.4 1420.1l-5 1.3l0.4 -3.8zM872.6 1423.7l-5 1.3l0.4 -3.8zM872.7 1427.3l-5 1.3l0.5 -3.8zM872.9 1430.9l-5 1.3l0.5 -3.8zM873.2 1434.5l-5 1.3l0.5 -3.8zM873.6 1438.2l-5 1.2l0.5 -3.8zM873.9 1441.8l-5 1.2l0.5 -3.8zM874.3 1445.5l-5 1.2l0.5 -3.8zM874.6 1449.2l-5 1.2l0.6 -3.8zM875 1452.9l-5 1.1l0.6 -3.8zM875.3 1456.6l-5 1.1l0.6 -3.8zM875.6 1460.3l-5.1 1.1l0.6 -3.7zM875.9 1464.1l-5.1 1l0.7 -3.7zM876.2 1467.9l-5.1 1l0.7 -3.7zM876.5 1471.7l-5.1 0.9l0.7 -3.7zM876.8 1475.5l-5.1 0.9l0.8 -3.7zM877.1 1479.3l-5.1 0.8l0.8 -3.7zM877 1483.1l-5.1 0.8l0.9 -3.7zM876.9 1486.9l-5.1 0.7l0.9 -3.7zM876.8 1490.8l-5.1 0.6l0.9 -3.7zM876.7 1494.7l-5.1 0.6l1 -3.7zM876 1498.4l-5.1 0.5l1.1 -3.7zM875.2 1502.1l-5.1 0.4l1.1 -3.6zM874.3 1505.8l-5.2 0.3l1.2 -3.6zM871.8 1508.9l-5.2 0.2l1.2 -3.6zM869 1511.9l-5.2 0.1l1.3 -3.6zM866.2 1514.8l-5.2 0l1.4 -3.5zM862.9 1517.3l-5.2 -0.1l1.5 -3.5zM858.2 1519.1l-5.2 -0.2l1.5 -3.5zM853.5 1520.6l-4.9 -0.2l1.6 -3.4zM916.4 1359.8l-4.9 1.6l0.3 -3.8zM916.4 1363.3l-4.9 1.6l0.3 -3.8zM916.4 1366.7l-4.9 1.6l0.3 -3.8zM916.4 1370.2l-4.9 1.6l0.3 -3.8zM916.4 1373.7l-4.9 1.6l0.3 -3.8zM916.4 1377.2l-4.9 1.6l0.3 -3.8zM916.4 1380.7l-4.9 1.6l0.3 -3.8zM916.4 1384.1l-4.9 1.6l0.3 -3.8zM916.4 1387.6l-4.9 1.6l0.3 -3.8zM916.4 1391.1l-4.9 1.6l0.3 -3.8zM916.4 1394.6l-4.9 1.6l0.3 -3.8zM916.5 1398.1l-4.9 1.6l0.3 -3.8zM916.7 1401.6l-4.9 1.6l0.3 -3.8zM916.8 1405l-4.9 1.6l0.3 -3.8zM916.9 1408.5l-4.9 1.6l0.3 -3.8zM917 1412l-4.9 1.6l0.3 -3.8zM917.1 1415.5l-4.9 1.6l0.3 -3.8zM917.2 1419l-4.9 1.6l0.3 -3.8zM917.4 1422.5l-4.9 1.6l0.3 -3.8zM917.5 1426l-4.9 1.6l0.3 -3.8zM917.6 1429.5l-4.9 1.6l0.3 -3.8zM918.2 1433l-4.9 1.6l0.3 -3.8zM918.9 1436.5l-4.9 1.6l0.3 -3.8zM919.6 1440l-4.9 1.6l0.3 -3.8zM920.3 1443.6l-4.9 1.6l0.3 -3.8zM921 1447.1l-4.9 1.6l0.3 -3.8zM921.7 1450.6l-4.9 1.6l0.3 -3.8zM922.4 1454.2l-4.9 1.6l0.3 -3.8zM923 1457.7l-4.9 1.6l0.3 -3.8zM923.7 1461.2l-4.9 1.6l0.3 -3.8zM924.3 1464.7l-4.9 1.6l0.3 -3.8zM925 1468.3l-4.9 1.6l0.3 -3.8zM925.6 1471.8l-4.9 1.6l0.3 -3.8zM926.3 1475.3l-4.9 1.6l0.3 -3.8zM925.7 1478.8l-4.9 1.6l0.3 -3.8zM925.1 1482.2l-4.9 1.6l0.3 -3.8zM924.6 1485.6l-4.9 1.6l0.3 -3.8zM924 1489.1l-4.9 1.6l0.3 -3.8zM922.6 1492.5l-4.9 1.6l0.3 -3.8zM920.8 1495.8l-4.9 1.6l0.3 -3.8zM919.1 1499.2l-4.9 1.6l0.3 -3.8zM917.4 1502.5l-4.9 1.6l0.3 -3.8zM915.5 1505.9l-4.9 1.6l0.3 -3.8zM913.4 1509.2l-4.9 1.6l0.3 -3.8zM911.3 1512.5l-4.9 1.6l0.3 -3.8zM909.2 1515.9l-4.9 1.6l0.3 -3.8zM907 1519.2l-4.9 1.6l0.3 -3.8zM904.9 1522.5l-4.9 1.6l0.3 -3.8zM963.5 1359.6l-4.9 1.6l0.2 -3.8zM963.6 1363l-4.9 1.6l0.2 -3.8zM963.6 1366.5l-4.9 1.6l0.2 -3.8zM963.7 1370l-4.9 1.6l0.2 -3.8zM963.7 1373.4l-4.9 1.6l0.2 -3.8zM963.8 1376.9l-4.9 1.6l0.2 -3.8zM963.9 1380.3l-4.9 1.6l0.2 -3.8zM963.9 1383.8l-4.9 1.7l0.2 -3.8zM964 1387.2l-4.9 1.7l0.2 -3.8zM964 1390.7l-4.9 1.7l0.2 -3.8zM964.1 1394.1l-4.9 1.7l0.2 -3.8zM964.1 1397.5l-4.9 1.7l0.2 -3.8zM964.2 1401l-4.9 1.7l0.2 -3.8zM964.3 1404.4l-4.9 1.7l0.1 -3.8zM964.4 1407.8l-4.9 1.7l0.1 -3.8zM964.4 1411.3l-4.9 1.7l0.1 -3.8zM964.5 1414.7l-4.9 1.8l0.1 -3.8zM964.6 1418.1l-4.8 1.8l0.1 -3.8zM964.6 1421.5l-4.8 1.8l0.1 -3.8zM964.7 1424.9l-4.8 1.8l0.1 -3.8zM964.8 1428.3l-4.8 1.8l0.1 -3.8zM965.1 1431.6l-4.8 1.8l0 -3.8zM965.4 1435l-4.8 1.9l0 -3.8zM965.8 1438.4l-4.8 1.9l0 -3.8zM966.1 1441.7l-4.8 1.9l0 -3.8zM966.5 1445.1l-4.8 1.9l0 -3.8zM966.8 1448.4l-4.8 2l-0.1 -3.8zM967.2 1451.7l-4.8 2l-0.1 -3.8zM967.3 1455l-4.7 2l-0.1 -3.8zM967.3 1458.2l-4.7 2.1l-0.1 -3.8zM967.3 1461.5l-4.7 2.1l-0.2 -3.8zM967.3 1464.7l-4.7 2.2l-0.2 -3.8zM967.3 1467.9l-4.7 2.2l-0.3 -3.8zM967.3 1471.1l-4.6 2.3l-0.3 -3.8zM967.3 1474.3l-4.6 2.3l-0.3 -3.8zM966.9 1477.5l-4.6 2.4l-0.4 -3.8zM966.2 1480.7l-4.5 2.4l-0.4 -3.8zM965.6 1483.9l-4.5 2.5l-0.5 -3.8zM964.9 1487.1l-4.5 2.6l-0.6 -3.8zM964.3 1490.3l-4.4 2.7l-0.6 -3.7zM963.6 1493.4l-4.4 2.7l-0.7 -3.7zM962.3 1496.7l-4.3 2.8l-0.8 -3.7zM961 1500.1l-4.3 2.9l-0.8 -3.7zM959.6 1503.4l-4.2 3l-0.9 -3.7zM957.9 1506.9l-4.1 3.1l-1 -3.7zM955.6 1510.7l-4 3.2l-1.1 -3.6zM1013.2 1359.2l-4.9 1.7l0.1 -3.8zM1013.2 1362.6l-4.9 1.7l0.1 -3.8zM1013.3 1366l-4.9 1.8l0.1 -3.8zM1013.3 1369.4l-4.8 1.8l0.1 -3.8zM1013.4 1372.8l-4.8 1.8l0.1 -3.8zM1013.5 1376.2l-4.8 1.8l0.1 -3.8zM1013.5 1379.5l-4.8 1.8l0.1 -3.8zM1013.6 1382.9l-4.8 1.9l0 -3.8zM1013.6 1386.3l-4.8 1.9l0 -3.8zM1013.7 1389.6l-4.8 1.9l0 -3.8zM1013.7 1393l-4.8 1.9l0 -3.8zM1013.8 1396.3l-4.8 2l0 -3.8zM1013.9 1399.6l-4.8 2l-0.1 -3.8zM1013.9 1402.9l-4.7 2l-0.1 -3.8zM1014 1406.2l-4.7 2.1l-0.1 -3.8zM1014.1 1409.4l-4.7 2.1l-0.2 -3.8zM1014.1 1412.7l-4.7 2.1l-0.2 -3.8zM1014.2 1415.9l-4.7 2.2l-0.2 -3.8zM1014.3 1419.1l-4.7 2.2l-0.3 -3.8zM1014.4 1422.3l-4.6 2.3l-0.3 -3.8zM1014.4 1425.4l-4.6 2.3l-0.4 -3.8zM1014.6 1428.5l-4.6 2.4l-0.4 -3.8zM1014.8 1431.6l-4.5 2.5l-0.5 -3.8zM1014.9 1434.7l-4.5 2.5l-0.5 -3.8zM1015.1 1437.7l-4.5 2.6l-0.6 -3.8zM1015.3 1440.6l-4.4 2.7l-0.6 -3.7zM1015.4 1443.6l-4.4 2.8l-0.7 -3.7zM1015.6 1446.4l-4.3 2.9l-0.8 -3.7zM1015.5 1449.3l-4.2 2.9l-0.9 -3.7zM1015.3 1452.2l-4.2 3l-1 -3.7zM1015.1 1455l-4.1 3.1l-1 -3.7zM1014.9 1457.8l-4 3.3l-1.1 -3.6zM1014.7 1460.5l-3.9 3.4l-1.2 -3.6zM1014.4 1463.2l-3.8 3.5l-1.3 -3.6zM1013.4 1466.1l-3.7 3.6l-1.5 -3.5zM1012.4 1469.1l-3.6 3.7l-1.6 -3.5zM1011.3 1472.1l-3.5 3.8l-1.7 -3.4zM1009.2 1475.6l-3.3 4l-1.8 -3.3zM1005.7 1480.1l-3.2 4.1l-1.9 -3.3zM1000.6 1486l-3 4.2l-2.1 -3.2z" fill="#000"/>
<path d="M755.8 1484.1L757.8 1484.2L759.8 1484.3L761.8 1484.5L763.8 1484.7L765.8 1485.1L767.8 1485.5L769.8 1486L771.8 1486.5L773.8 1487.1L775.8 1487.8L777.7 1488.5L779.7 1489.3L781.7 1490.1L783.7 1491L785.7 1492L787.7 1493L789.7 1494L791.7 1495L793.7 1496.1L795.7 1497.2L797.7 1498.4L799.6 1499.6L801.6 1500.7L803.6 1501.9L805.6 1503.1L807.6 1504.3L809.6 1505.5L811.6 1506.7L813.6 1507.9L815.6 1509.1L817.6 1510.3L819.6 1511.4L821.5 1512.6L823.5 1513.7L825.5 1514.8L827.5 1515.8L829.5 1516.8L831.5 1517.8L833.5 1518.8L835.5 1519.7L837.5 1520.6L839.5 1521.5L841.5 1522.3L843.5 1523.1L845.4 1523.9L847.4 1524.6L849.4 1525.3L851.4 1525.9L853.4 1526.5L855.4 1527L857.4 1527.6L859.4 1528.1L861.4 1528.5L863.4 1528.9L865.4 1529.3L867.3 1529.7L869.3 1530L871.3 1530.3L873.3 1530.6L875.3 1530.8L877.3 1531.1L879.3 1531.2L881.3 1531.4L883.3 1531.6L885.3 1531.7L887.3 1531.8L889.2 1531.8L891.2 1531.9L893.2 1531.9L895.2 1531.9L897.2 1531.9L899.2 1531.9L901.2 1531.8L903.2 1531.8L905.2 1531.7L907.2 1531.6L909.2 1531.4L911.1 1531.2L913.1 1531.1L915.1 1530.8L917.1 1530.6L919.1 1530.3L921.1 1530L923.1 1529.7L925.1 1529.3L927.1 1528.9L929.1 1528.5L931.1 1528.1L933.1 1527.6L935 1527L937 1526.5L939 1525.9L941 1525.3L943 1524.6L945 1523.9L947 1523.1L949 1522.3L951 1521.5L953 1520.6L955 1519.7L956.9 1518.8L958.9 1517.8L960.9 1516.8L962.9 1515.8L964.9 1514.8L966.9 1513.7L968.9 1512.6L970.9 1511.4L972.9 1510.3L974.9 1509.1L976.9 1507.9L978.8 1506.7L980.8 1505.5L982.8 1504.3L984.8 1503.1L986.8 1501.9L988.8 1500.7L990.8 1499.6L992.8 1498.4L994.8 1497.2L996.8 1496.1L998.8 1495L1000.8 1494L1002.7 1493L1004.7 1492L1006.7 1491L1008.7 1490.1L1010.7 1489.3L1012.7 1488.5L1014.7 1487.8L1016.7 1487.1L1018.7 1486.5L1020.7 1486L1022.7 1485.5L1024.6 1485.1L1026.6 1484.7L1028.6 1484.5L1030.6 1484.3L1032.6 1484.2L1034.6 1484.1" stroke="#000" stroke-width="1.7" fill="none"/>
</g>
<rect x="755.5" y="1357.5" width="279.8" height="173" fill="none" stroke="#000" stroke-width="2.9"/>
<line x1="1036.7" y1="1511.3" x2="1047.8" y2="1511.3" stroke="#000" stroke-width="1.3"/>
<text x="1059.6" y="1519.7" font-size="25">0</text>
<line x1="1036.7" y1="1464.6" x2="1047.8" y2="1464.6" stroke="#000" stroke-width="1.3"/>
<text x="1059.6" y="1473" font-size="25">1</text>
<line x1="1036.7" y1="1417.8" x2="1047.8" y2="1417.8" stroke="#000" stroke-width="1.3"/>
<text x="1059.6" y="1426.2" font-size="25">2</text>
<line x1="1036.7" y1="1371.1" x2="1047.8" y2="1371.1" stroke="#000" stroke-width="1.3"/>
<text x="1059.6" y="1379.5" font-size="25">3</text>
<text x="1094.79" y="1442.63" font-size="28.6" font-style="italic">y</text>
<path d="M1108.40 1448.80L1118.50 1423.00" stroke="#000" stroke-width="1.5"/>
<text x="1121.33" y="1442.37" font-size="27.32" font-style="italic">η</text>
<line x1="802.3" y1="1359" x2="802.3" y2="1369" stroke="#000" stroke-width="1.3"/>
<line x1="802.3" y1="1529.1" x2="802.3" y2="1519.1" stroke="#000" stroke-width="1.3"/>
<line x1="848.8" y1="1359" x2="848.8" y2="1369" stroke="#000" stroke-width="1.3"/>
<line x1="848.8" y1="1529.1" x2="848.8" y2="1519.1" stroke="#000" stroke-width="1.3"/>
<line x1="895.2" y1="1359" x2="895.2" y2="1369" stroke="#000" stroke-width="1.3"/>
<line x1="895.2" y1="1529.1" x2="895.2" y2="1519.1" stroke="#000" stroke-width="1.3"/>
<line x1="941.7" y1="1359" x2="941.7" y2="1369" stroke="#000" stroke-width="1.3"/>
<line x1="941.7" y1="1529.1" x2="941.7" y2="1519.1" stroke="#000" stroke-width="1.3"/>
<line x1="988.1" y1="1359" x2="988.1" y2="1369" stroke="#000" stroke-width="1.3"/>
<line x1="988.1" y1="1529.1" x2="988.1" y2="1519.1" stroke="#000" stroke-width="1.3"/>
<text x="5" y="128.9" font-size="28">(<tspan font-style="italic">a</tspan>)</text>
<text x="158.63" y="203.70" font-size="25.5">0</text><path d="M136.20 195.50H152.80" stroke="#000" stroke-width="1.3"/><path d="M136.20 200.50H152.80" stroke="#000" stroke-width="1.3"/><text x="117.73" y="203.70" font-size="24" font-style="italic">θ</text>
<text x="5" y="306.8" font-size="28">(<tspan font-style="italic">b</tspan>)</text>
<text x="146.80" y="383.67" font-size="25.0">3</text><text x="160.10" y="383.67" font-size="25.0">2</text><path d="M137.00 388.17L143.50 366.17" stroke="#000" stroke-width="1.3"/><text x="120.37" y="383.67" font-size="24.5">π</text><text x="103.09" y="383.67" font-size="25.0">4</text><path d="M82.80 375.47H99.00" stroke="#000" stroke-width="1.3"/><path d="M82.80 380.47H99.00" stroke="#000" stroke-width="1.3"/><text x="64.43" y="383.67" font-size="24" font-style="italic">θ</text>
<text x="5" y="486.8" font-size="28">(<tspan font-style="italic">c</tspan>)</text>
<text x="146.80" y="563.64" font-size="25.0">3</text><text x="160.10" y="563.64" font-size="25.0">2</text><path d="M137.00 568.14L143.50 546.14" stroke="#000" stroke-width="1.3"/><text x="120.37" y="563.64" font-size="24.5">π</text><text x="103.65" y="563.64" font-size="25.0">8</text><path d="M82.80 555.44H99.00" stroke="#000" stroke-width="1.3"/><path d="M82.80 560.44H99.00" stroke="#000" stroke-width="1.3"/><text x="64.43" y="563.64" font-size="24" font-style="italic">θ</text>
<text x="5" y="665.2" font-size="28">(<tspan font-style="italic">d</tspan>)</text>
<text x="146.80" y="743.61" font-size="25.0">3</text><text x="160.10" y="743.61" font-size="25.0">2</text><path d="M137.00 748.11L143.50 726.11" stroke="#000" stroke-width="1.3"/><text x="120.37" y="743.61" font-size="24.5">π</text><text x="91.58" y="743.61" font-size="25.0">12</text><path d="M69.80 735.41H86.00" stroke="#000" stroke-width="1.3"/><path d="M69.80 740.41H86.00" stroke="#000" stroke-width="1.3"/><text x="51.43" y="743.61" font-size="24" font-style="italic">θ</text>
<text x="5" y="844.2" font-size="28">(<tspan font-style="italic">e</tspan>)</text>
<text x="146.80" y="923.58" font-size="25.0">3</text><text x="160.10" y="923.58" font-size="25.0">2</text><path d="M137.00 928.08L143.50 906.08" stroke="#000" stroke-width="1.3"/><text x="120.37" y="923.58" font-size="24.5">π</text><text x="90.94" y="923.58" font-size="25.0">16</text><path d="M69.80 915.38H86.00" stroke="#000" stroke-width="1.3"/><path d="M69.80 920.38H86.00" stroke="#000" stroke-width="1.3"/><text x="51.43" y="923.58" font-size="24" font-style="italic">θ</text>
<text x="5" y="1022.6" font-size="28">(<tspan font-style="italic">f</tspan>)</text>
<text x="146.80" y="1103.55" font-size="25.0">3</text><text x="160.10" y="1103.55" font-size="25.0">2</text><path d="M137.00 1108.05L143.50 1086.05" stroke="#000" stroke-width="1.3"/><text x="120.37" y="1103.55" font-size="24.5">π</text><text x="91.15" y="1103.55" font-size="25.0">20</text><path d="M69.80 1095.35H86.00" stroke="#000" stroke-width="1.3"/><path d="M69.80 1100.35H86.00" stroke="#000" stroke-width="1.3"/><text x="51.43" y="1103.55" font-size="24" font-style="italic">θ</text>
<text x="5" y="1201.8" font-size="28">(<tspan font-style="italic">g</tspan>)</text>
<text x="146.80" y="1283.52" font-size="25.0">3</text><text x="160.10" y="1283.52" font-size="25.0">2</text><path d="M137.00 1288.02L143.50 1266.02" stroke="#000" stroke-width="1.3"/><text x="120.37" y="1283.52" font-size="24.5">π</text><text x="90.59" y="1283.52" font-size="25.0">24</text><path d="M69.80 1275.32H86.00" stroke="#000" stroke-width="1.3"/><path d="M69.80 1280.32H86.00" stroke="#000" stroke-width="1.3"/><text x="51.43" y="1283.52" font-size="24" font-style="italic">θ</text>
<text x="5" y="1381" font-size="28">(<tspan font-style="italic">h</tspan>)</text>
<text x="146.80" y="1463.49" font-size="25.0">3</text><text x="160.10" y="1463.49" font-size="25.0">2</text><path d="M137.00 1467.99L143.50 1445.99" stroke="#000" stroke-width="1.3"/><text x="120.37" y="1463.49" font-size="24.5">π</text><text x="91.15" y="1463.49" font-size="25.0">28</text><path d="M69.80 1455.29H86.00" stroke="#000" stroke-width="1.3"/><path d="M69.80 1460.29H86.00" stroke="#000" stroke-width="1.3"/><text x="51.43" y="1463.49" font-size="24" font-style="italic">θ</text>
<text x="179.9" y="1560" font-size="24">0</text>
<text x="274" y="1560" font-size="24">2</text>
<text x="368.2" y="1560" font-size="24">4</text>
<text x="462.3" y="1560" font-size="24">6</text>
<text x="556.5" y="1560" font-size="24">8</text>
<text x="644.6" y="1560" font-size="24">10</text>
<text x="751.5" y="1560" font-size="24">0</text>
<text x="798" y="1560" font-size="24">1</text>
<text x="844.5" y="1560" font-size="24">2</text>
<text x="890.9" y="1560" font-size="24">3</text>
<text x="937.4" y="1560" font-size="24">4</text>
<text x="983.8" y="1560" font-size="24">5</text>
<text x="1030.3" y="1560" font-size="24">6</text>
<text x="448.27" y="1595.90" font-size="30.07" font-style="italic">x</text>
<path d="M463.80 1601.20L473.50 1575.50" stroke="#000" stroke-width="1.5"/>
<text x="476.82" y="1595.04" font-size="27.46" font-style="italic">η</text>
<text x="872.07" y="1595.90" font-size="30.07" font-style="italic">x</text>
<path d="M887.60 1601.20L897.30 1575.50" stroke="#000" stroke-width="1.5"/>
<text x="900.62" y="1595.04" font-size="27.46" font-style="italic">η</text>
<text x="288.95" y="221.30" font-size="25.5" font-style="italic">S</text><text x="301.99" y="214.60" font-size="22">+</text><text x="316.63" y="221.30" font-size="25.5">(</text><text x="325.12" y="221.30" font-size="25.5">0.6)</text>
<line x1="323.8" y1="230.5" x2="323.8" y2="256.8" stroke="#000" stroke-width="3.6"/>
<text x="365.64" y="194.00" font-size="25.5" font-style="italic">P</text><text x="380.07" y="187.30" font-size="22">+</text><text x="395.38" y="194.00" font-size="25.5">(</text><text x="403.87" y="194.00" font-size="25.5">4.1)</text>
<line x1="405.5" y1="201.8" x2="405.5" y2="234.2" stroke="#000" stroke-width="3.6"/>
<text x="539.64" y="137.55" font-size="25.5" font-style="italic">P</text><path d="M555.17 123.55H565.37" stroke="#000" stroke-width="1.3"/><text x="569.38" y="137.55" font-size="25.5">(</text><path d="M580.05 131.15H595.55" stroke="#000" stroke-width="1.35"/><text x="596.25" y="137.55" font-size="25.5">1.0)</text>
<line x1="563.2" y1="143" x2="537" y2="169.2" stroke="#000" stroke-width="3.6"/>
<text x="226.45" y="389.30" font-size="25.5" font-style="italic">S</text><text x="239.49" y="382.60" font-size="22">+</text><text x="254.13" y="389.30" font-size="25.5">(</text><text x="262.62" y="389.30" font-size="25.5">0.2)</text>
<line x1="273" y1="399.8" x2="293" y2="427.2" stroke="#000" stroke-width="3.6"/>
<text x="271.89" y="358.05" font-size="25.5" font-style="italic">P</text><text x="286.32" y="351.35" font-size="22">+</text><text x="301.63" y="358.05" font-size="25.5">(</text><text x="310.12" y="358.05" font-size="25.5">5.1)</text>
<line x1="323" y1="371" x2="359.2" y2="412.2" stroke="#000" stroke-width="3.6"/>
<text x="425.64" y="315.55" font-size="25.5" font-style="italic">P</text><path d="M441.17 301.55H451.37" stroke="#000" stroke-width="1.3"/><text x="455.38" y="315.55" font-size="25.5">(</text><path d="M466.05 309.15H481.55" stroke="#000" stroke-width="1.35"/><text x="482.25" y="315.55" font-size="25.5">0.7)</text>
<line x1="454.2" y1="322.2" x2="438" y2="337.2" stroke="#000" stroke-width="3.6"/>
<text x="422.70" y="456.80" font-size="25.5" font-style="italic">S</text><path d="M436.84 442.80H447.04" stroke="#000" stroke-width="1.3"/><text x="450.38" y="456.80" font-size="25.5">(</text><path d="M461.05 450.40H476.55" stroke="#000" stroke-width="1.35"/><text x="477.25" y="456.80" font-size="25.5">0.9)</text>
<line x1="423" y1="429.8" x2="451.8" y2="432.2" stroke="#000" stroke-width="3.6"/>
<text x="216.89" y="494.80" font-size="25.5" font-style="italic">P</text><path d="M232.42 480.80H242.62" stroke="#000" stroke-width="1.3"/><text x="246.63" y="494.80" font-size="25.5">(</text><path d="M257.30 488.40H272.80" stroke="#000" stroke-width="1.35"/><text x="273.50" y="494.80" font-size="25.5">0.5)</text>
<line x1="273" y1="501.5" x2="299.2" y2="532.8" stroke="#000" stroke-width="3.6"/>
<text x="405.64" y="532.30" font-size="25.5" font-style="italic">P</text><text x="420.07" y="525.60" font-size="22">+</text><text x="435.38" y="532.30" font-size="25.5">(</text><text x="443.87" y="532.30" font-size="25.5">5.1)</text>
<line x1="445" y1="544" x2="410.5" y2="581.5" stroke="#000" stroke-width="3.6"/>
<text x="431.45" y="632.30" font-size="25.5" font-style="italic">S</text><path d="M445.59 618.30H455.79" stroke="#000" stroke-width="1.3"/><text x="459.13" y="632.30" font-size="25.5">(</text><path d="M469.80 625.90H485.30" stroke="#000" stroke-width="1.35"/><text x="486.00" y="632.30" font-size="25.5">1.3)</text>
<line x1="423" y1="606.5" x2="451.8" y2="610.2" stroke="#000" stroke-width="3.6"/>
<text x="220.64" y="669.05" font-size="25.5" font-style="italic">P</text><path d="M236.17 655.05H246.37" stroke="#000" stroke-width="1.3"/><text x="250.38" y="669.05" font-size="25.5">(</text><path d="M261.05 662.65H276.55" stroke="#000" stroke-width="1.35"/><text x="277.25" y="669.05" font-size="25.5">0.3)</text>
<line x1="249.2" y1="679.5" x2="275.5" y2="715.8" stroke="#000" stroke-width="3.6"/>
<text x="353.14" y="687.80" font-size="25.5" font-style="italic">P</text><text x="367.57" y="681.10" font-size="22">+</text><text x="382.88" y="687.80" font-size="25.5">(</text><text x="391.37" y="687.80" font-size="25.5">4.5)</text>
<line x1="391.8" y1="698.2" x2="391.8" y2="739.5" stroke="#000" stroke-width="3.6"/>
<text x="437.70" y="810.30" font-size="25.5" font-style="italic">S</text><path d="M451.84 796.30H462.04" stroke="#000" stroke-width="1.3"/><text x="465.38" y="810.30" font-size="25.5">(</text><path d="M476.05 803.90H491.55" stroke="#000" stroke-width="1.35"/><text x="492.25" y="810.30" font-size="25.5">1.7)</text>
<line x1="430.5" y1="784.5" x2="451.8" y2="789.5" stroke="#000" stroke-width="3.6"/>
<text x="198.14" y="848.30" font-size="25.5" font-style="italic">P</text><path d="M213.67 834.30H223.87" stroke="#000" stroke-width="1.3"/><text x="227.88" y="848.30" font-size="25.5">(</text><path d="M238.55 841.90H254.05" stroke="#000" stroke-width="1.35"/><text x="254.75" y="848.30" font-size="25.5">0.2)</text>
<line x1="240.5" y1="856.2" x2="265.5" y2="891.2" stroke="#000" stroke-width="3.6"/>
<text x="371.89" y="858.30" font-size="25.5" font-style="italic">P</text><text x="386.32" y="851.60" font-size="22">+</text><text x="401.63" y="858.30" font-size="25.5">(</text><text x="410.12" y="858.30" font-size="25.5">3.8)</text>
<line x1="415.5" y1="867.5" x2="415.5" y2="908.8" stroke="#000" stroke-width="3.6"/>
<text x="413.95" y="990.80" font-size="25.5" font-style="italic">S</text><path d="M428.09 976.80H438.29" stroke="#000" stroke-width="1.3"/><text x="441.63" y="990.80" font-size="25.5">(</text><path d="M452.30 984.40H467.80" stroke="#000" stroke-width="1.35"/><text x="468.50" y="990.80" font-size="25.5">2.5)</text>
<line x1="461.8" y1="952.5" x2="461.8" y2="975" stroke="#000" stroke-width="3.6"/>
<text x="334.39" y="1035.05" font-size="25.5" font-style="italic">P</text><text x="348.82" y="1028.35" font-size="22">+</text><text x="364.13" y="1035.05" font-size="25.5">(</text><text x="372.62" y="1035.05" font-size="25.5">3.0)</text>
<line x1="381.8" y1="1045.5" x2="416.8" y2="1080.5" stroke="#000" stroke-width="3.6"/>
<text x="425.20" y="1171.30" font-size="25.5" font-style="italic">S</text><path d="M439.34 1157.30H449.54" stroke="#000" stroke-width="1.3"/><text x="452.88" y="1171.30" font-size="25.5">(</text><path d="M463.55 1164.90H479.05" stroke="#000" stroke-width="1.35"/><text x="479.75" y="1171.30" font-size="25.5">3.4)</text>
<line x1="483.2" y1="1123" x2="467" y2="1149.2" stroke="#000" stroke-width="3.6"/>
<text x="406.89" y="1203.05" font-size="25.5" font-style="italic">P</text><text x="421.32" y="1196.35" font-size="22">+</text><text x="436.63" y="1203.05" font-size="25.5">(</text><text x="445.12" y="1203.05" font-size="25.5">2.2)</text>
<line x1="456.8" y1="1213.5" x2="492" y2="1249.8" stroke="#000" stroke-width="3.6"/>
<text x="604.20" y="1265.55" font-size="25.5" font-style="italic">S</text><path d="M618.34 1251.55H628.54" stroke="#000" stroke-width="1.3"/><text x="631.88" y="1265.55" font-size="25.5">(</text><path d="M642.55 1259.15H658.05" stroke="#000" stroke-width="1.35"/><text x="658.75" y="1265.55" font-size="25.5">2.2)</text>
<line x1="617" y1="1276" x2="572" y2="1306" stroke="#000" stroke-width="3.6"/>
<text x="509.64" y="1384.80" font-size="25.5" font-style="italic">P</text><text x="524.07" y="1378.10" font-size="22">+</text><text x="539.38" y="1384.80" font-size="25.5">(</text><text x="547.87" y="1384.80" font-size="25.5">1.7)</text>
<line x1="552" y1="1392.8" x2="585.8" y2="1427.8" stroke="#000" stroke-width="3.6"/>
<text x="649.20" y="1389.80" font-size="25.5" font-style="italic">S</text><path d="M663.34 1375.80H673.54" stroke="#000" stroke-width="1.3"/><text x="676.88" y="1389.80" font-size="25.5">(</text><path d="M687.55 1383.40H703.05" stroke="#000" stroke-width="1.35"/><text x="703.75" y="1389.80" font-size="25.5">1.1)</text>
<line x1="689.5" y1="1387.8" x2="660.8" y2="1489" stroke="#000" stroke-width="3.6"/>
<text x="443.14" y="1452.30" font-size="25.5" font-style="italic">P</text><path d="M458.67 1438.30H468.87" stroke="#000" stroke-width="1.3"/><text x="472.88" y="1452.30" font-size="25.5">(</text><path d="M483.55 1445.90H499.05" stroke="#000" stroke-width="1.35"/><text x="499.75" y="1452.30" font-size="25.5">3.1)</text>
<line x1="502" y1="1460.2" x2="525.8" y2="1490.2" stroke="#000" stroke-width="3.6"/>
</svg></body></html>
